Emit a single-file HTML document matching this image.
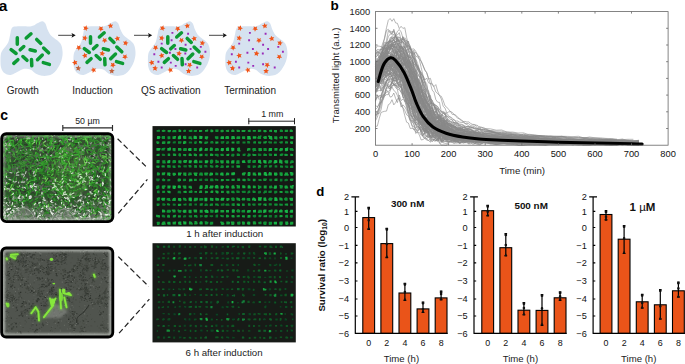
<!DOCTYPE html>
<html><head><meta charset="utf-8"><style>
html,body{margin:0;padding:0;background:#fff;}
svg{display:block;font-family:"Liberation Sans", sans-serif;}
</style></head><body>
<svg width="685" height="364" viewBox="0 0 685 364">
<g id="pa">
<path d="M11.50,28.70C12.22,27.38 12.75,27.02 14.50,26.60C16.25,26.18 19.42,26.23 22.00,26.20C24.58,26.17 28.08,26.50 30.00,26.40C31.92,26.30 32.27,26.13 33.50,25.60C34.73,25.07 35.93,23.93 37.40,23.20C38.87,22.47 40.97,21.15 42.30,21.20C43.63,21.25 44.57,22.20 45.40,23.50C46.23,24.80 46.57,27.27 47.30,29.00C48.03,30.73 48.85,32.53 49.80,33.90C50.75,35.27 51.72,36.08 53.00,37.20C54.28,38.32 56.13,39.30 57.50,40.60C58.87,41.90 60.35,43.12 61.20,45.00C62.05,46.88 62.45,49.77 62.60,51.90C62.75,54.03 62.50,55.82 62.10,57.80C61.70,59.78 61.10,61.82 60.20,63.80C59.30,65.78 57.95,68.05 56.70,69.70C55.45,71.35 54.18,72.72 52.70,73.70C51.22,74.68 49.58,75.25 47.80,75.60C46.02,75.95 43.97,76.10 42.00,75.80C40.03,75.50 37.87,74.80 36.00,73.80C34.13,72.80 32.57,70.63 30.80,69.80C29.03,68.97 27.05,68.77 25.40,68.80C23.75,68.83 22.57,69.28 20.90,70.00C19.23,70.72 17.07,72.28 15.40,73.10C13.73,73.92 12.42,74.72 10.90,74.90C9.38,75.08 7.67,74.80 6.30,74.20C4.93,73.60 3.60,72.53 2.70,71.30C1.80,70.07 1.27,68.62 0.90,66.80C0.53,64.98 0.50,62.53 0.50,60.40C0.50,58.27 0.53,55.73 0.90,54.00C1.27,52.27 1.93,51.25 2.70,50.00C3.47,48.75 4.55,47.83 5.50,46.50C6.45,45.17 7.62,44.00 8.40,42.00C9.18,40.00 9.68,36.72 10.20,34.50C10.72,32.28 10.78,30.02 11.50,28.70Z" transform="translate(0,0)" fill="#d6e2f0"/>
<path d="M11.50,28.70C12.22,27.38 12.75,27.02 14.50,26.60C16.25,26.18 19.42,26.23 22.00,26.20C24.58,26.17 28.08,26.50 30.00,26.40C31.92,26.30 32.27,26.13 33.50,25.60C34.73,25.07 35.93,23.93 37.40,23.20C38.87,22.47 40.97,21.15 42.30,21.20C43.63,21.25 44.57,22.20 45.40,23.50C46.23,24.80 46.57,27.27 47.30,29.00C48.03,30.73 48.85,32.53 49.80,33.90C50.75,35.27 51.72,36.08 53.00,37.20C54.28,38.32 56.13,39.30 57.50,40.60C58.87,41.90 60.35,43.12 61.20,45.00C62.05,46.88 62.45,49.77 62.60,51.90C62.75,54.03 62.50,55.82 62.10,57.80C61.70,59.78 61.10,61.82 60.20,63.80C59.30,65.78 57.95,68.05 56.70,69.70C55.45,71.35 54.18,72.72 52.70,73.70C51.22,74.68 49.58,75.25 47.80,75.60C46.02,75.95 43.97,76.10 42.00,75.80C40.03,75.50 37.87,74.80 36.00,73.80C34.13,72.80 32.57,70.63 30.80,69.80C29.03,68.97 27.05,68.77 25.40,68.80C23.75,68.83 22.57,69.28 20.90,70.00C19.23,70.72 17.07,72.28 15.40,73.10C13.73,73.92 12.42,74.72 10.90,74.90C9.38,75.08 7.67,74.80 6.30,74.20C4.93,73.60 3.60,72.53 2.70,71.30C1.80,70.07 1.27,68.62 0.90,66.80C0.53,64.98 0.50,62.53 0.50,60.40C0.50,58.27 0.53,55.73 0.90,54.00C1.27,52.27 1.93,51.25 2.70,50.00C3.47,48.75 4.55,47.83 5.50,46.50C6.45,45.17 7.62,44.00 8.40,42.00C9.18,40.00 9.68,36.72 10.20,34.50C10.72,32.28 10.78,30.02 11.50,28.70Z" transform="translate(72.9,0)" fill="#d6e2f0"/>
<path d="M11.50,28.70C12.22,27.38 12.75,27.02 14.50,26.60C16.25,26.18 19.42,26.23 22.00,26.20C24.58,26.17 28.08,26.50 30.00,26.40C31.92,26.30 32.27,26.13 33.50,25.60C34.73,25.07 35.93,23.93 37.40,23.20C38.87,22.47 40.97,21.15 42.30,21.20C43.63,21.25 44.57,22.20 45.40,23.50C46.23,24.80 46.57,27.27 47.30,29.00C48.03,30.73 48.85,32.53 49.80,33.90C50.75,35.27 51.72,36.08 53.00,37.20C54.28,38.32 56.13,39.30 57.50,40.60C58.87,41.90 60.35,43.12 61.20,45.00C62.05,46.88 62.45,49.77 62.60,51.90C62.75,54.03 62.50,55.82 62.10,57.80C61.70,59.78 61.10,61.82 60.20,63.80C59.30,65.78 57.95,68.05 56.70,69.70C55.45,71.35 54.18,72.72 52.70,73.70C51.22,74.68 49.58,75.25 47.80,75.60C46.02,75.95 43.97,76.10 42.00,75.80C40.03,75.50 37.87,74.80 36.00,73.80C34.13,72.80 32.57,70.63 30.80,69.80C29.03,68.97 27.05,68.77 25.40,68.80C23.75,68.83 22.57,69.28 20.90,70.00C19.23,70.72 17.07,72.28 15.40,73.10C13.73,73.92 12.42,74.72 10.90,74.90C9.38,75.08 7.67,74.80 6.30,74.20C4.93,73.60 3.60,72.53 2.70,71.30C1.80,70.07 1.27,68.62 0.90,66.80C0.53,64.98 0.50,62.53 0.50,60.40C0.50,58.27 0.53,55.73 0.90,54.00C1.27,52.27 1.93,51.25 2.70,50.00C3.47,48.75 4.55,47.83 5.50,46.50C6.45,45.17 7.62,44.00 8.40,42.00C9.18,40.00 9.68,36.72 10.20,34.50C10.72,32.28 10.78,30.02 11.50,28.70Z" transform="translate(147.4,0)" fill="#d6e2f0"/>
<path d="M11.50,28.70C12.22,27.38 12.75,27.02 14.50,26.60C16.25,26.18 19.42,26.23 22.00,26.20C24.58,26.17 28.08,26.50 30.00,26.40C31.92,26.30 32.27,26.13 33.50,25.60C34.73,25.07 35.93,23.93 37.40,23.20C38.87,22.47 40.97,21.15 42.30,21.20C43.63,21.25 44.57,22.20 45.40,23.50C46.23,24.80 46.57,27.27 47.30,29.00C48.03,30.73 48.85,32.53 49.80,33.90C50.75,35.27 51.72,36.08 53.00,37.20C54.28,38.32 56.13,39.30 57.50,40.60C58.87,41.90 60.35,43.12 61.20,45.00C62.05,46.88 62.45,49.77 62.60,51.90C62.75,54.03 62.50,55.82 62.10,57.80C61.70,59.78 61.10,61.82 60.20,63.80C59.30,65.78 57.95,68.05 56.70,69.70C55.45,71.35 54.18,72.72 52.70,73.70C51.22,74.68 49.58,75.25 47.80,75.60C46.02,75.95 43.97,76.10 42.00,75.80C40.03,75.50 37.87,74.80 36.00,73.80C34.13,72.80 32.57,70.63 30.80,69.80C29.03,68.97 27.05,68.77 25.40,68.80C23.75,68.83 22.57,69.28 20.90,70.00C19.23,70.72 17.07,72.28 15.40,73.10C13.73,73.92 12.42,74.72 10.90,74.90C9.38,75.08 7.67,74.80 6.30,74.20C4.93,73.60 3.60,72.53 2.70,71.30C1.80,70.07 1.27,68.62 0.90,66.80C0.53,64.98 0.50,62.53 0.50,60.40C0.50,58.27 0.53,55.73 0.90,54.00C1.27,52.27 1.93,51.25 2.70,50.00C3.47,48.75 4.55,47.83 5.50,46.50C6.45,45.17 7.62,44.00 8.40,42.00C9.18,40.00 9.68,36.72 10.20,34.50C10.72,32.28 10.78,30.02 11.50,28.70Z" transform="translate(224.8,0)" fill="#d6e2f0"/>
<path d="M17.3,37.8L17.3,44.3M26.2,38.0L31.0,33.8M36.7,39.4L40.8,43.4M11.1,49.7L16.1,53.5M20.2,49.8L23.8,46.5M30.1,49.7L35.3,51.0M43.6,48.0L48.6,52.8M22.9,56.5L27.0,60.3M13.8,63.4L17.9,59.7M31.5,59.6L31.8,65.8M37.5,59.7L42.3,55.0M43.3,62.6L49.4,64.4" transform="translate(0,0)" stroke="#0c9a34" stroke-width="3.5" stroke-linecap="round" fill="none"/>
<path d="M17.3,37.8L17.3,44.3M26.2,38.0L31.0,33.8M36.7,39.4L40.8,43.4M11.1,49.7L16.1,53.5M20.2,49.8L23.8,46.5M30.1,49.7L35.3,51.0M43.6,48.0L48.6,52.8M22.9,56.5L27.0,60.3M13.8,63.4L17.9,59.7M31.5,59.6L31.8,65.8M37.5,59.7L42.3,55.0M43.3,62.6L49.4,64.4" transform="translate(73.2,-1)" stroke="#0c9a34" stroke-width="3.5" stroke-linecap="round" fill="none"/>
<path d="M17.3,37.8L17.3,44.3M26.2,38.0L31.0,33.8M36.7,39.4L40.8,43.4M11.1,49.7L16.1,53.5M20.2,49.8L23.8,46.5M30.1,49.7L35.3,51.0M43.6,48.0L48.6,52.8M22.9,56.5L27.0,60.3M13.8,63.4L17.9,59.7M31.5,59.6L31.8,65.8M37.5,59.7L42.3,55.0M43.3,62.6L49.4,64.4" transform="translate(150.5,-1)" stroke="#0c9a34" stroke-width="3.5" stroke-linecap="round" fill="none"/>
<path d="M165.50,28.20L163.63,29.02L163.43,31.05L162.07,29.53L160.07,29.96L161.10,28.20L160.07,26.44L162.07,26.87L163.43,25.35L163.63,27.38ZM180.46,29.87L178.42,29.90L177.44,31.69L176.78,29.76L174.78,29.37L176.41,28.15L176.15,26.13L177.82,27.31L179.67,26.44L179.06,28.39ZM189.38,28.06L187.49,27.29L185.89,28.55L186.04,26.51L184.35,25.38L186.33,24.89L186.88,22.93L187.96,24.66L190.00,24.58L188.68,26.14ZM162.78,40.90L161.34,39.45L159.37,39.99L160.30,38.17L159.18,36.47L161.20,36.79L162.48,35.20L162.79,37.22L164.70,37.94L162.87,38.86ZM184.32,41.33L182.28,41.46L181.40,43.30L180.64,41.40L178.62,41.13L180.18,39.82L179.82,37.81L181.55,38.90L183.35,37.94L182.85,39.91ZM196.39,40.65L194.47,39.97L192.93,41.32L192.98,39.28L191.22,38.23L193.18,37.65L193.63,35.66L194.79,37.33L196.82,37.15L195.59,38.77ZM203.62,45.84L202.11,44.47L200.17,45.11L201.01,43.25L199.80,41.60L201.83,41.82L203.02,40.17L203.44,42.16L205.38,42.79L203.61,43.80ZM158.47,48.58L156.44,48.82L155.65,50.70L154.80,48.85L152.76,48.68L154.26,47.29L153.79,45.30L155.58,46.30L157.32,45.24L156.92,47.24ZM164.00,57.53L162.04,56.96L160.58,58.38L160.51,56.34L158.71,55.39L160.63,54.70L160.97,52.69L162.22,54.30L164.24,54.01L163.10,55.70ZM180.36,56.17L178.78,54.88L176.88,55.62L177.62,53.72L176.33,52.14L178.36,52.25L179.47,50.54L179.99,52.51L181.96,53.03L180.25,54.14ZM204.71,57.53L202.70,57.87L202.01,59.79L201.06,57.99L199.02,57.92L200.44,56.46L199.87,54.50L201.70,55.40L203.39,54.26L203.10,56.28ZM154.20,64.41L152.21,63.94L150.82,65.44L150.65,63.40L148.80,62.55L150.68,61.76L150.92,59.73L152.26,61.28L154.26,60.88L153.20,62.62ZM192.64,65.57L190.65,66.02L190.07,67.98L189.02,66.22L186.98,66.27L188.33,64.73L187.65,62.81L189.53,63.61L191.15,62.38L190.97,64.41ZM172.89,71.68L170.88,71.32L169.57,72.88L169.30,70.86L167.40,70.10L169.24,69.22L169.37,67.18L170.79,68.65L172.76,68.15L171.80,69.95Z" transform="translate(-76.8,0)" fill="#f05418"/>
<path d="M156.60,70.90L154.95,69.69L153.09,70.53L153.73,68.59L152.36,67.08L154.40,67.09L155.41,65.32L156.04,67.26L158.03,67.68L156.38,68.87ZM190.23,73.62L188.53,72.50L186.71,73.43L187.25,71.46L185.80,70.02L187.84,69.93L188.76,68.10L189.48,70.01L191.50,70.32L189.91,71.60Z" transform="translate(-76.8,0)" fill="#c0603a"/>
<path d="M165.50,28.20L163.63,29.02L163.43,31.05L162.07,29.53L160.07,29.96L161.10,28.20L160.07,26.44L162.07,26.87L163.43,25.35L163.63,27.38ZM180.46,29.87L178.42,29.90L177.44,31.69L176.78,29.76L174.78,29.37L176.41,28.15L176.15,26.13L177.82,27.31L179.67,26.44L179.06,28.39ZM189.38,28.06L187.49,27.29L185.89,28.55L186.04,26.51L184.35,25.38L186.33,24.89L186.88,22.93L187.96,24.66L190.00,24.58L188.68,26.14ZM162.78,40.90L161.34,39.45L159.37,39.99L160.30,38.17L159.18,36.47L161.20,36.79L162.48,35.20L162.79,37.22L164.70,37.94L162.87,38.86ZM184.32,41.33L182.28,41.46L181.40,43.30L180.64,41.40L178.62,41.13L180.18,39.82L179.82,37.81L181.55,38.90L183.35,37.94L182.85,39.91ZM196.39,40.65L194.47,39.97L192.93,41.32L192.98,39.28L191.22,38.23L193.18,37.65L193.63,35.66L194.79,37.33L196.82,37.15L195.59,38.77ZM203.62,45.84L202.11,44.47L200.17,45.11L201.01,43.25L199.80,41.60L201.83,41.82L203.02,40.17L203.44,42.16L205.38,42.79L203.61,43.80ZM158.47,48.58L156.44,48.82L155.65,50.70L154.80,48.85L152.76,48.68L154.26,47.29L153.79,45.30L155.58,46.30L157.32,45.24L156.92,47.24ZM164.00,57.53L162.04,56.96L160.58,58.38L160.51,56.34L158.71,55.39L160.63,54.70L160.97,52.69L162.22,54.30L164.24,54.01L163.10,55.70ZM180.36,56.17L178.78,54.88L176.88,55.62L177.62,53.72L176.33,52.14L178.36,52.25L179.47,50.54L179.99,52.51L181.96,53.03L180.25,54.14ZM204.71,57.53L202.70,57.87L202.01,59.79L201.06,57.99L199.02,57.92L200.44,56.46L199.87,54.50L201.70,55.40L203.39,54.26L203.10,56.28ZM154.20,64.41L152.21,63.94L150.82,65.44L150.65,63.40L148.80,62.55L150.68,61.76L150.92,59.73L152.26,61.28L154.26,60.88L153.20,62.62ZM156.60,70.90L154.95,69.69L153.09,70.53L153.73,68.59L152.36,67.08L154.40,67.09L155.41,65.32L156.04,67.26L158.03,67.68L156.38,68.87ZM192.64,65.57L190.65,66.02L190.07,67.98L189.02,66.22L186.98,66.27L188.33,64.73L187.65,62.81L189.53,63.61L191.15,62.38L190.97,64.41ZM172.89,71.68L170.88,71.32L169.57,72.88L169.30,70.86L167.40,70.10L169.24,69.22L169.37,67.18L170.79,68.65L172.76,68.15L171.80,69.95ZM190.23,73.62L188.53,72.50L186.71,73.43L187.25,71.46L185.80,70.02L187.84,69.93L188.76,68.10L189.48,70.01L191.50,70.32L189.91,71.60Z" transform="translate(0,0)" fill="#f05418"/>
<path d="M165.50,28.20L163.63,29.02L163.43,31.05L162.07,29.53L160.07,29.96L161.10,28.20L160.07,26.44L162.07,26.87L163.43,25.35L163.63,27.38ZM180.46,29.87L178.42,29.90L177.44,31.69L176.78,29.76L174.78,29.37L176.41,28.15L176.15,26.13L177.82,27.31L179.67,26.44L179.06,28.39ZM189.38,28.06L187.49,27.29L185.89,28.55L186.04,26.51L184.35,25.38L186.33,24.89L186.88,22.93L187.96,24.66L190.00,24.58L188.68,26.14ZM162.78,40.90L161.34,39.45L159.37,39.99L160.30,38.17L159.18,36.47L161.20,36.79L162.48,35.20L162.79,37.22L164.70,37.94L162.87,38.86ZM184.32,41.33L182.28,41.46L181.40,43.30L180.64,41.40L178.62,41.13L180.18,39.82L179.82,37.81L181.55,38.90L183.35,37.94L182.85,39.91ZM196.39,40.65L194.47,39.97L192.93,41.32L192.98,39.28L191.22,38.23L193.18,37.65L193.63,35.66L194.79,37.33L196.82,37.15L195.59,38.77ZM203.62,45.84L202.11,44.47L200.17,45.11L201.01,43.25L199.80,41.60L201.83,41.82L203.02,40.17L203.44,42.16L205.38,42.79L203.61,43.80ZM158.47,48.58L156.44,48.82L155.65,50.70L154.80,48.85L152.76,48.68L154.26,47.29L153.79,45.30L155.58,46.30L157.32,45.24L156.92,47.24ZM164.00,57.53L162.04,56.96L160.58,58.38L160.51,56.34L158.71,55.39L160.63,54.70L160.97,52.69L162.22,54.30L164.24,54.01L163.10,55.70ZM180.36,56.17L178.78,54.88L176.88,55.62L177.62,53.72L176.33,52.14L178.36,52.25L179.47,50.54L179.99,52.51L181.96,53.03L180.25,54.14ZM204.71,57.53L202.70,57.87L202.01,59.79L201.06,57.99L199.02,57.92L200.44,56.46L199.87,54.50L201.70,55.40L203.39,54.26L203.10,56.28ZM154.20,64.41L152.21,63.94L150.82,65.44L150.65,63.40L148.80,62.55L150.68,61.76L150.92,59.73L152.26,61.28L154.26,60.88L153.20,62.62ZM156.60,70.90L154.95,69.69L153.09,70.53L153.73,68.59L152.36,67.08L154.40,67.09L155.41,65.32L156.04,67.26L158.03,67.68L156.38,68.87ZM192.64,65.57L190.65,66.02L190.07,67.98L189.02,66.22L186.98,66.27L188.33,64.73L187.65,62.81L189.53,63.61L191.15,62.38L190.97,64.41ZM172.89,71.68L170.88,71.32L169.57,72.88L169.30,70.86L167.40,70.10L169.24,69.22L169.37,67.18L170.79,68.65L172.76,68.15L171.80,69.95ZM190.23,73.62L188.53,72.50L186.71,73.43L187.25,71.46L185.80,70.02L187.84,69.93L188.76,68.10L189.48,70.01L191.50,70.32L189.91,71.60Z" transform="translate(77.5,0)" fill="#f05418"/>
<path d="M171.45,31.95h1.9v1.9h-1.9zM187.15,32.75h1.9v1.9h-1.9zM170.65,39.35h1.9v1.9h-1.9zM160.75,42.65h1.9v1.9h-1.9zM184.65,43.75h1.9v1.9h-1.9zM199.85,45.95h1.9v1.9h-1.9zM174.45,48.05h1.9v1.9h-1.9zM189.65,48.05h1.9v1.9h-1.9zM168.95,51.75h1.9v1.9h-1.9zM184.35,52.55h1.9v1.9h-1.9zM204.45,50.85h1.9v1.9h-1.9zM153.35,53.35h1.9v1.9h-1.9zM157.45,60.75h1.9v1.9h-1.9zM169.85,61.65h1.9v1.9h-1.9zM184.65,63.25h1.9v1.9h-1.9zM174.75,64.95h1.9v1.9h-1.9zM160.75,66.55h1.9v1.9h-1.9zM196.25,66.55h1.9v1.9h-1.9z" transform="translate(0,0)" fill="#9a2ab8"/>
<path d="M171.45,31.95h1.9v1.9h-1.9zM187.15,32.75h1.9v1.9h-1.9zM170.65,39.35h1.9v1.9h-1.9zM160.75,42.65h1.9v1.9h-1.9zM184.65,43.75h1.9v1.9h-1.9zM199.85,45.95h1.9v1.9h-1.9zM174.45,48.05h1.9v1.9h-1.9zM189.65,48.05h1.9v1.9h-1.9zM168.95,51.75h1.9v1.9h-1.9zM184.35,52.55h1.9v1.9h-1.9zM204.45,50.85h1.9v1.9h-1.9zM153.35,53.35h1.9v1.9h-1.9zM157.45,60.75h1.9v1.9h-1.9zM169.85,61.65h1.9v1.9h-1.9zM184.65,63.25h1.9v1.9h-1.9zM174.75,64.95h1.9v1.9h-1.9zM160.75,66.55h1.9v1.9h-1.9zM196.25,66.55h1.9v1.9h-1.9z" transform="translate(77.5,0)" fill="#9a2ab8"/>
<line x1="58.2" y1="35.3" x2="72.7" y2="35.3" stroke="#333" stroke-width="0.9"/>
<path d="M75.7,35.3L71.5,32.9L72.4,35.3L71.5,37.7Z" fill="#111"/>
<line x1="134" y1="35.3" x2="149.2" y2="35.3" stroke="#333" stroke-width="0.9"/>
<path d="M152.2,35.3L148.0,32.9L148.89999999999998,35.3L148.0,37.7Z" fill="#111"/>
<line x1="209" y1="35.3" x2="223.9" y2="35.3" stroke="#333" stroke-width="0.9"/>
<path d="M226.9,35.3L222.70000000000002,32.9L223.6,35.3L222.70000000000002,37.7Z" fill="#111"/>
<text x="6.7" y="93.5" font-size="10" fill="#222">Growth</text>
<text x="72.3" y="93.5" font-size="10" fill="#222">Induction</text>
<text x="141.1" y="93.5" font-size="10" fill="#222">QS activation</text>
<text x="224.3" y="93.5" font-size="10" fill="#222">Termination</text>
</g>
<g id="pb">
<path d="M375.5,64.3 377.3,62.4 379.2,60.8 381.0,56.4 382.8,49.8 384.6,45.9 386.5,48.0 388.3,54.2 390.1,48.6 392.0,45.6 393.8,47.8 395.6,51.3 397.4,52.8 399.3,54.4 401.1,56.2 402.9,59.0 404.8,63.4 406.6,68.2 408.4,70.8 410.2,74.4 412.1,73.4 413.9,75.9 415.7,79.2 417.6,81.7 419.4,82.1 421.2,89.9 423.0,92.7 424.9,99.3 426.7,103.1 428.5,106.0 430.4,103.2 432.2,108.0 434.0,112.9 435.8,117.7 437.7,118.8 439.5,115.8 441.3,120.8 443.2,122.8 445.0,116.1 446.8,118.3 448.6,121.7 450.5,124.5 452.3,126.2 454.1,127.1 456.0,127.7 457.8,128.9 459.6,130.2 461.5,131.4 463.3,131.7 465.1,132.0 466.9,131.0 468.8,132.6 470.6,133.3 472.4,134.4 474.3,133.6 476.1,132.9 477.9,133.8 479.7,134.2 481.6,134.6 483.4,135.1 485.2,136.1 490.7,135.2 496.2,136.4 501.7,137.1 507.2,136.9 512.7,137.8 518.1,138.5 523.6,139.2 529.1,139.1 534.6,139.0 540.1,139.2 545.6,139.4 551.1,140.1 556.5,140.1 562.0,139.5 567.5,139.8 573.0,140.4 578.5,141.4 584.0,140.8 589.5,139.9 595.0,141.3 600.4,140.8 605.9,141.4 611.4,141.9 616.9,141.3 622.4,140.1 627.9,141.9 633.4,141.5 638.8,141.3M375.5,76.4 377.3,78.9 379.2,78.3 381.0,68.9 382.8,66.0 384.6,64.0 386.5,67.8 388.3,62.9 390.1,62.8 392.0,60.7 393.8,57.8 395.6,57.7 397.4,58.6 399.3,57.5 401.1,58.2 402.9,59.3 404.8,60.6 406.6,64.3 408.4,67.4 410.2,69.5 412.1,71.8 413.9,76.8 415.7,80.3 417.6,82.0 419.4,89.6 421.2,92.1 423.0,95.3 424.9,102.0 426.7,103.6 428.5,104.2 430.4,106.3 432.2,109.5 434.0,114.9 435.8,119.1 437.7,120.9 439.5,120.9 441.3,122.3 443.2,125.7 445.0,122.7 446.8,125.7 448.6,127.7 450.5,128.5 452.3,130.2 454.1,130.7 456.0,131.2 457.8,131.7 459.6,132.9 461.5,132.3 463.3,133.7 465.1,134.6 466.9,135.6 468.8,136.0 470.6,135.9 472.4,136.1 474.3,137.4 476.1,137.3 477.9,138.1 479.7,137.7 481.6,136.7 483.4,136.1 485.2,137.4 490.7,137.9 496.2,140.0 501.7,140.0 507.2,140.5 512.7,141.0 518.1,140.9 523.6,140.6 529.1,140.7 534.6,141.0 540.1,140.6 545.6,141.6 551.1,143.1 556.5,143.8 562.0,142.2 567.5,140.3 573.0,141.2 578.5,141.9 584.0,141.6 589.5,141.8 595.0,141.6 600.4,141.7 605.9,141.1 611.4,140.8 616.9,142.4 622.4,143.5 627.9,143.0 633.4,142.8 638.8,143.1M375.5,72.1 377.3,65.2 379.2,65.0 381.0,61.2 382.8,57.0 384.6,51.2 386.5,45.5 388.3,45.2 390.1,45.7 392.0,40.4 393.8,46.6 395.6,44.3 397.4,43.8 399.3,43.3 401.1,43.2 402.9,36.6 404.8,40.5 406.6,46.9 408.4,52.3 410.2,51.5 412.1,56.2 413.9,56.4 415.7,66.2 417.6,69.6 419.4,72.3 421.2,78.5 423.0,82.5 424.9,90.8 426.7,96.8 428.5,101.4 430.4,104.1 432.2,106.1 434.0,111.6 435.8,116.9 437.7,116.6 439.5,116.3 441.3,120.9 443.2,120.3 445.0,124.2 446.8,128.0 448.6,127.6 450.5,127.0 452.3,127.8 454.1,128.7 456.0,129.6 457.8,130.5 459.6,131.4 461.5,132.8 463.3,132.5 465.1,133.3 466.9,133.7 468.8,134.7 470.6,134.7 472.4,134.8 474.3,135.5 476.1,136.0 477.9,136.1 479.7,136.3 481.6,135.2 483.4,136.8 485.2,136.9 490.7,137.4 496.2,139.3 501.7,139.8 507.2,139.0 512.7,139.9 518.1,139.7 523.6,140.0 529.1,140.6 534.6,141.2 540.1,140.9 545.6,139.7 551.1,140.5 556.5,139.5 562.0,141.3 567.5,141.2 573.0,140.3 578.5,139.6 584.0,141.0 589.5,141.0 595.0,141.1 600.4,141.6 605.9,141.7 611.4,141.8 616.9,141.7 622.4,142.5 627.9,143.3 633.4,142.5 638.8,142.6M375.5,67.4 377.3,69.3 379.2,66.0 381.0,66.3 382.8,64.0 384.6,65.6 386.5,61.0 388.3,58.9 390.1,60.5 392.0,62.0 393.8,62.0 395.6,63.8 397.4,59.9 399.3,61.8 401.1,62.1 402.9,58.7 404.8,62.4 406.6,63.3 408.4,67.0 410.2,69.9 412.1,71.8 413.9,74.3 415.7,79.7 417.6,81.0 419.4,83.5 421.2,84.7 423.0,93.7 424.9,98.4 426.7,101.5 428.5,103.6 430.4,110.3 432.2,114.1 434.0,118.3 435.8,116.7 437.7,118.6 439.5,122.7 441.3,124.4 443.2,123.3 445.0,128.2 446.8,129.0 448.6,130.3 450.5,130.9 452.3,132.0 454.1,132.2 456.0,133.7 457.8,134.8 459.6,134.3 461.5,134.5 463.3,135.4 465.1,135.3 466.9,135.4 468.8,136.2 470.6,136.5 472.4,137.0 474.3,137.4 476.1,137.8 477.9,137.6 479.7,138.6 481.6,137.7 483.4,138.6 485.2,138.2 490.7,139.0 496.2,139.2 501.7,139.4 507.2,140.0 512.7,139.5 518.1,140.2 523.6,141.2 529.1,141.5 534.6,143.2 540.1,142.3 545.6,141.1 551.1,140.8 556.5,142.2 562.0,141.9 567.5,141.7 573.0,142.7 578.5,143.6 584.0,143.1 589.5,142.3M375.5,63.4 377.3,62.4 379.2,59.9 381.0,65.3 382.8,64.5 384.6,64.7 386.5,62.6 388.3,59.4 390.1,61.2 392.0,60.1 393.8,61.7 395.6,60.0 397.4,53.2 399.3,58.9 401.1,62.7 402.9,64.0 404.8,64.1 406.6,68.1 408.4,71.1 410.2,73.8 412.1,79.4 413.9,80.8 415.7,87.3 417.6,91.0 419.4,95.6 421.2,100.3 423.0,105.3 424.9,107.9 426.7,112.7 428.5,115.9 430.4,117.0 432.2,119.8 434.0,122.2 435.8,121.4 437.7,129.4 439.5,130.9 441.3,133.0 443.2,135.5 445.0,132.1 446.8,134.3 448.6,135.0 450.5,133.2 452.3,133.7 454.1,133.7 456.0,134.9 457.8,135.8 459.6,135.5 461.5,137.5 463.3,138.3 465.1,138.9 466.9,138.4 468.8,138.8 470.6,139.5 472.4,139.3 474.3,138.5 476.1,139.9 477.9,139.2 479.7,140.2 481.6,139.2 483.4,140.2 485.2,140.3 490.7,140.8 496.2,140.4 501.7,140.6 507.2,141.0 512.7,140.9 518.1,140.7 523.6,141.9 529.1,142.4 534.6,142.8 540.1,142.6 545.6,143.0 551.1,141.3 556.5,141.7 562.0,142.0 567.5,142.9 573.0,143.6 578.5,143.3 584.0,141.9 589.5,141.9 595.0,142.3 600.4,142.3 605.9,142.7 611.4,141.7 616.9,142.0 622.4,141.5 627.9,141.5 633.4,142.4 638.8,143.3M375.5,61.8 377.3,61.0 379.2,62.3 381.0,63.7 382.8,61.1 384.6,59.9 386.5,59.5 388.3,56.1 390.1,54.8 392.0,52.2 393.8,49.5 395.6,50.3 397.4,43.8 399.3,47.3 401.1,46.2 402.9,48.4 404.8,47.3 406.6,55.9 408.4,57.1 410.2,56.3 412.1,55.9 413.9,52.2 415.7,56.3 417.6,56.9 419.4,59.3 421.2,61.2 423.0,65.1 424.9,70.2 426.7,72.6 428.5,79.2 430.4,78.3 432.2,84.8 434.0,86.6 435.8,84.6 437.7,91.2 439.5,95.5 441.3,96.3 443.2,100.5 445.0,105.9 446.8,107.2 448.6,109.4 450.5,111.6 452.3,114.4 454.1,114.5 456.0,115.3 457.8,117.4 459.6,119.0 461.5,121.0 463.3,121.4 465.1,123.7 466.9,124.6 468.8,125.9 470.6,126.9 472.4,126.7 474.3,126.5 476.1,127.6 477.9,128.9 479.7,128.8 481.6,129.6 483.4,130.1 485.2,129.8 490.7,131.0 496.2,132.9 501.7,132.4 507.2,134.1 512.7,134.9 518.1,136.4 523.6,136.9 529.1,138.6 534.6,137.2 540.1,137.1 545.6,138.8 551.1,139.9 556.5,140.6 562.0,139.2 567.5,139.7 573.0,139.7 578.5,140.0 584.0,140.1 589.5,140.9 595.0,140.6 600.4,141.5 605.9,141.1 611.4,140.7 616.9,140.5 622.4,140.8 627.9,141.5 633.4,141.2 638.8,141.5M375.5,114.9 377.3,114.5 379.2,108.7 381.0,95.5 382.8,97.6 384.6,92.9 386.5,87.2 388.3,83.6 390.1,81.3 392.0,83.4 393.8,84.0 395.6,87.7 397.4,89.4 399.3,99.2 401.1,104.9 402.9,108.2 404.8,115.8 406.6,122.2 408.4,123.0 410.2,128.4 412.1,128.3 413.9,129.2 415.7,131.9 417.6,132.6 419.4,135.0 421.2,140.0 423.0,139.5 424.9,138.2 426.7,140.2 428.5,140.3 430.4,138.5 432.2,141.9 434.0,140.0 435.8,136.0 437.7,140.2 439.5,140.6 441.3,141.7 443.2,138.1 445.0,139.4 446.8,138.6 448.6,141.0 450.5,141.7 452.3,142.2 454.1,143.6 456.0,142.2 457.8,141.9 459.6,143.5 461.5,142.7 463.3,142.9 465.1,142.7 466.9,142.7 468.8,143.9 470.6,143.7 472.4,142.4 474.3,143.2 476.1,143.9 477.9,144.5 479.7,144.7 481.6,143.8 483.4,142.5 485.2,142.6 490.7,142.9 496.2,141.8 501.7,143.1 507.2,143.9 512.7,143.5 518.1,143.3 523.6,144.3 529.1,144.9 534.6,144.2 540.1,143.9 545.6,144.8 551.1,144.6 556.5,144.7 562.0,144.1 567.5,144.2 573.0,144.3 578.5,144.5 584.0,143.6 589.5,142.9 595.0,143.8 600.4,143.4 605.9,144.2 611.4,144.1 616.9,143.6 622.4,142.8 627.9,143.7 633.4,143.9 638.8,143.9M375.5,70.7 377.3,67.9 379.2,71.2 381.0,70.2 382.8,67.8 384.6,64.1 386.5,64.6 388.3,63.6 390.1,65.6 392.0,65.1 393.8,62.3 395.6,68.1 397.4,65.5 399.3,73.2 401.1,76.9 402.9,81.1 404.8,83.8 406.6,93.3 408.4,102.8 410.2,103.8 412.1,106.6 413.9,109.8 415.7,108.5 417.6,115.7 419.4,119.5 421.2,120.8 423.0,124.0 424.9,123.5 426.7,130.7 428.5,132.4 430.4,141.4 432.2,135.7 434.0,136.3 435.8,133.9 437.7,129.6 439.5,133.1 441.3,135.7 443.2,137.8 445.0,140.0 446.8,140.8 448.6,139.4 450.5,139.2 452.3,139.2 454.1,139.4 456.0,138.9 457.8,139.1 459.6,139.7 461.5,139.6 463.3,140.2 465.1,141.1 466.9,139.9 468.8,140.0 470.6,141.1 472.4,140.3 474.3,140.4 476.1,141.8 477.9,140.4 479.7,140.6 481.6,140.4 483.4,140.8 485.2,141.2 490.7,142.6 496.2,141.7 501.7,141.9 507.2,142.2 512.7,142.0 518.1,142.2 523.6,141.9 529.1,142.5 534.6,142.6 540.1,144.2 545.6,143.8 551.1,143.0 556.5,142.1 562.0,142.9 567.5,143.1 573.0,142.1 578.5,142.9 584.0,142.6 589.5,141.9 595.0,142.6 600.4,142.2 605.9,143.3 611.4,143.3 616.9,143.5 622.4,143.5 627.9,142.8 633.4,141.6 638.8,143.1M375.5,60.1 377.3,62.1 379.2,59.6 381.0,59.9 382.8,61.0 384.6,58.9 386.5,55.1 388.3,56.9 390.1,56.8 392.0,54.4 393.8,55.7 395.6,59.5 397.4,51.2 399.3,47.6 401.1,57.0 402.9,57.9 404.8,58.0 406.6,57.5 408.4,59.0 410.2,64.2 412.1,70.8 413.9,73.1 415.7,73.8 417.6,81.6 419.4,87.8 421.2,90.7 423.0,98.6 424.9,99.8 426.7,102.6 428.5,103.5 430.4,107.3 432.2,110.5 434.0,111.9 435.8,112.7 437.7,115.6 439.5,116.3 441.3,114.8 443.2,113.4 445.0,111.9 446.8,117.8 448.6,119.6 450.5,122.3 452.3,121.2 454.1,122.7 456.0,123.2 457.8,123.3 459.6,124.9 461.5,124.8 463.3,125.3 465.1,127.1 466.9,126.8 468.8,126.4 470.6,128.5 472.4,127.8 474.3,128.0 476.1,128.2 477.9,128.4 479.7,128.1 481.6,129.2 483.4,129.2 485.2,130.2 490.7,130.6 496.2,132.1 501.7,132.7 507.2,132.0 512.7,132.9 518.1,133.9 523.6,135.3 529.1,136.0 534.6,136.0 540.1,135.6 545.6,135.9 551.1,136.2 556.5,136.8 562.0,136.4 567.5,137.5 573.0,138.3 578.5,137.9 584.0,138.3 589.5,138.9 595.0,139.5 600.4,139.8 605.9,139.4 611.4,139.5 616.9,140.7 622.4,140.2 627.9,140.3 633.4,141.2 638.8,140.5M375.5,72.0 377.3,65.4 379.2,72.7 381.0,69.8 382.8,64.7 384.6,62.5 386.5,61.7 388.3,53.3 390.1,53.5 392.0,57.3 393.8,52.5 395.6,56.4 397.4,51.2 399.3,52.8 401.1,51.8 402.9,48.6 404.8,51.6 406.6,58.0 408.4,63.1 410.2,59.6 412.1,60.6 413.9,67.8 415.7,69.3 417.6,73.1 419.4,76.9 421.2,88.9 423.0,92.7 424.9,93.7 426.7,96.1 428.5,98.8 430.4,110.5 432.2,110.5 434.0,110.5 435.8,106.4 437.7,114.2 439.5,117.6 441.3,119.3 443.2,118.0 445.0,121.2 446.8,119.3 448.6,122.2 450.5,123.5 452.3,125.1 454.1,126.0 456.0,127.1 457.8,128.5 459.6,127.7 461.5,128.1 463.3,129.1 465.1,129.4 466.9,129.3 468.8,130.8 470.6,131.3 472.4,131.2 474.3,131.3 476.1,132.1 477.9,133.8 479.7,132.6 481.6,132.8 483.4,133.2 485.2,133.8 490.7,134.3 496.2,135.2 501.7,136.3 507.2,136.9 512.7,137.3 518.1,137.8 523.6,138.5 529.1,137.9 534.6,139.0 540.1,138.4 545.6,139.3 551.1,139.0 556.5,138.3 562.0,138.9 567.5,139.9 573.0,140.0 578.5,140.0 584.0,141.4 589.5,141.5 595.0,141.1 600.4,141.4 605.9,141.2 611.4,140.8 616.9,140.6 622.4,140.5 627.9,140.7 633.4,141.5 638.8,141.7M375.5,66.3 377.3,66.0 379.2,68.3 381.0,60.8 382.8,51.3 384.6,57.9 386.5,53.2 388.3,48.6 390.1,47.2 392.0,43.5 393.8,48.0 395.6,42.1 397.4,40.2 399.3,40.2 401.1,42.8 402.9,41.5 404.8,44.2 406.6,45.8 408.4,49.9 410.2,57.7 412.1,57.4 413.9,58.1 415.7,59.8 417.6,67.3 419.4,71.2 421.2,73.8 423.0,78.7 424.9,81.4 426.7,83.5 428.5,94.2 430.4,103.5 432.2,103.2 434.0,103.3 435.8,106.5 437.7,108.7 439.5,114.5 441.3,118.6 443.2,117.8 445.0,123.0 446.8,128.6 448.6,127.5 450.5,125.1 452.3,124.8 454.1,126.8 456.0,128.3 457.8,128.8 459.6,130.2 461.5,129.9 463.3,130.8 465.1,132.1 466.9,131.4 468.8,132.5 470.6,132.8 472.4,133.3 474.3,134.0 476.1,134.2 477.9,135.2 479.7,136.6 481.6,137.6 483.4,137.6 485.2,137.4 490.7,137.4 496.2,137.7 501.7,137.6 507.2,138.0 512.7,138.9 518.1,139.5 523.6,140.9 529.1,140.4 534.6,139.8 540.1,139.6 545.6,140.1 551.1,140.3 556.5,139.8 562.0,140.2 567.5,140.0 573.0,140.1 578.5,140.5 584.0,140.0 589.5,141.0 595.0,141.5 600.4,142.1 605.9,142.4 611.4,141.1 616.9,140.3 622.4,141.1 627.9,141.2 633.4,140.9M375.5,118.5 377.3,113.2 379.2,113.6 381.0,109.9 382.8,100.5 384.6,96.3 386.5,94.6 388.3,94.7 390.1,91.2 392.0,85.7 393.8,85.3 395.6,83.8 397.4,87.1 399.3,88.1 401.1,92.1 402.9,93.7 404.8,93.4 406.6,101.9 408.4,104.8 410.2,107.4 412.1,112.6 413.9,116.9 415.7,118.2 417.6,116.9 419.4,121.2 421.2,125.0 423.0,132.1 424.9,127.7 426.7,131.0 428.5,133.4 430.4,137.4 432.2,137.1 434.0,139.9 435.8,138.7 437.7,137.5 439.5,138.0 441.3,137.8 443.2,140.7 445.0,136.6 446.8,140.0 448.6,141.4 450.5,141.2 452.3,141.5 454.1,141.9 456.0,141.7 457.8,141.3 459.6,142.2 461.5,142.0 463.3,140.9 465.1,140.9 466.9,141.5 468.8,141.6 470.6,141.9 472.4,142.0 474.3,141.6 476.1,142.0 477.9,143.7 479.7,143.1 481.6,143.3 483.4,142.5 485.2,142.9 490.7,142.7 496.2,141.4 501.7,142.9 507.2,143.7 512.7,144.4 518.1,145.2 523.6,145.2 529.1,144.3 534.6,144.3 540.1,145.2 545.6,145.2 551.1,144.1 556.5,144.4 562.0,144.3 567.5,143.8 573.0,142.9 578.5,142.1 584.0,142.3 589.5,143.0 595.0,143.4 600.4,142.5 605.9,142.3 611.4,143.4 616.9,143.4 622.4,143.6 627.9,143.8 633.4,144.3 638.8,145.2M375.5,75.8 377.3,72.7 379.2,70.4 381.0,68.6 382.8,66.8 384.6,62.7 386.5,66.1 388.3,66.5 390.1,66.5 392.0,64.0 393.8,62.7 395.6,59.6 397.4,58.7 399.3,59.0 401.1,61.9 402.9,64.6 404.8,63.8 406.6,65.3 408.4,69.8 410.2,76.1 412.1,77.0 413.9,85.2 415.7,89.3 417.6,93.1 419.4,100.3 421.2,103.1 423.0,111.4 424.9,111.2 426.7,113.9 428.5,120.9 430.4,119.9 432.2,124.4 434.0,121.1 435.8,124.9 437.7,126.0 439.5,125.9 441.3,128.0 443.2,128.0 445.0,130.1 446.8,128.4 448.6,129.5 450.5,130.2 452.3,132.8 454.1,131.7 456.0,132.2 457.8,133.9 459.6,133.6 461.5,133.3 463.3,132.9 465.1,134.3 466.9,133.4 468.8,134.3 470.6,133.2 472.4,134.4 474.3,134.5 476.1,135.3 477.9,136.3 479.7,135.4 481.6,135.2 483.4,134.7 485.2,135.1 490.7,136.6 496.2,138.2 501.7,138.6 507.2,139.0 512.7,139.4 518.1,138.7 523.6,138.7 529.1,139.3 534.6,139.4 540.1,139.7 545.6,139.8 551.1,139.5 556.5,139.4 562.0,140.5 567.5,141.7 573.0,140.4 578.5,140.7 584.0,140.3 589.5,142.0 595.0,142.0 600.4,141.9 605.9,142.8 611.4,142.7 616.9,141.9 622.4,141.3 627.9,140.7 633.4,142.1M375.5,80.8 377.3,84.4 379.2,80.5 381.0,77.8 382.8,77.5 384.6,74.8 386.5,77.0 388.3,76.7 390.1,77.1 392.0,75.0 393.8,71.5 395.6,75.1 397.4,71.5 399.3,72.1 401.1,75.8 402.9,79.2 404.8,79.1 406.6,85.4 408.4,90.8 410.2,97.7 412.1,99.1 413.9,99.8 415.7,104.5 417.6,109.2 419.4,114.1 421.2,117.3 423.0,124.5 424.9,122.3 426.7,125.6 428.5,129.8 430.4,131.9 432.2,134.0 434.0,130.8 435.8,129.1 437.7,134.6 439.5,132.0 441.3,131.2 443.2,134.8 445.0,139.2 446.8,139.6 448.6,138.5 450.5,137.5 452.3,137.7 454.1,139.0 456.0,138.4 457.8,139.5 459.6,138.5 461.5,139.5 463.3,139.7 465.1,140.1 466.9,140.1 468.8,139.0 470.6,138.8 472.4,139.0 474.3,139.4 476.1,140.9 477.9,140.9 479.7,141.0 481.6,141.4 483.4,140.7 485.2,141.2 490.7,141.6 496.2,142.2 501.7,143.2 507.2,142.1 512.7,141.1 518.1,141.4 523.6,142.4 529.1,144.1 534.6,143.1 540.1,142.0 545.6,142.1 551.1,141.7 556.5,141.2 562.0,141.3 567.5,142.4 573.0,142.0 578.5,142.0 584.0,143.6 589.5,143.7 595.0,144.4 600.4,143.9 605.9,143.3 611.4,144.0 616.9,145.1 622.4,143.4 627.9,143.2 633.4,142.4 638.8,143.9M375.5,76.4 377.3,72.6 379.2,70.1 381.0,63.9 382.8,60.6 384.6,61.4 386.5,58.3 388.3,51.9 390.1,53.3 392.0,50.4 393.8,46.2 395.6,43.2 397.4,43.0 399.3,47.2 401.1,49.1 402.9,46.6 404.8,46.4 406.6,41.5 408.4,48.2 410.2,48.9 412.1,51.5 413.9,60.4 415.7,64.0 417.6,64.8 419.4,69.8 421.2,73.7 423.0,76.3 424.9,83.0 426.7,85.6 428.5,92.5 430.4,98.3 432.2,100.5 434.0,105.9 435.8,108.3 437.7,108.1 439.5,113.1 441.3,116.5 443.2,117.0 445.0,121.1 446.8,120.5 448.6,124.7 450.5,126.1 452.3,127.7 454.1,129.0 456.0,128.4 457.8,130.3 459.6,129.9 461.5,130.9 463.3,131.2 465.1,133.3 466.9,132.9 468.8,132.8 470.6,134.0 472.4,134.8 474.3,133.6 476.1,134.8 477.9,136.0 479.7,136.9 481.6,136.9 483.4,137.1 485.2,137.3 490.7,136.9 496.2,138.3 501.7,138.8 507.2,138.3 512.7,139.8 518.1,139.3 523.6,138.7 529.1,140.6 534.6,141.4 540.1,141.9 545.6,142.8 551.1,141.7 556.5,142.8 562.0,141.7 567.5,140.7 573.0,142.2 578.5,142.2 584.0,143.3 589.5,142.1 595.0,142.5 600.4,142.4 605.9,142.2 611.4,141.9 616.9,142.3 622.4,142.3 627.9,142.8 633.4,142.5 638.8,143.3M375.5,89.7 377.3,88.4 379.2,88.0 381.0,86.4 382.8,77.8 384.6,74.4 386.5,74.1 388.3,75.3 390.1,72.7 392.0,60.7 393.8,62.8 395.6,60.6 397.4,58.4 399.3,58.1 401.1,58.7 402.9,62.9 404.8,64.8 406.6,61.2 408.4,67.2 410.2,67.7 412.1,75.9 413.9,80.0 415.7,83.3 417.6,85.5 419.4,95.0 421.2,98.6 423.0,103.4 424.9,110.3 426.7,112.9 428.5,119.2 430.4,122.6 432.2,123.6 434.0,131.9 435.8,130.8 437.7,132.6 439.5,135.0 441.3,134.1 443.2,131.2 445.0,133.2 446.8,130.5 448.6,133.2 450.5,134.9 452.3,134.1 454.1,134.7 456.0,134.9 457.8,136.4 459.6,136.3 461.5,136.9 463.3,136.9 465.1,137.5 466.9,137.1 468.8,138.3 470.6,139.2 472.4,140.1 474.3,139.0 476.1,139.7 477.9,140.3 479.7,140.6 481.6,140.5 483.4,141.0 485.2,140.7 490.7,141.0 496.2,141.3 501.7,141.8 507.2,141.5 512.7,141.8 518.1,141.6 523.6,141.4 529.1,141.4 534.6,143.1 540.1,143.0 545.6,143.1 551.1,142.2 556.5,143.3 562.0,143.4 567.5,143.2 573.0,143.2 578.5,142.3 584.0,142.9 589.5,142.2 595.0,143.6 600.4,144.5 605.9,143.0 611.4,142.8 616.9,142.7 622.4,142.9 627.9,142.8 633.4,143.9 638.8,143.0M375.5,68.8 377.3,68.2 379.2,64.1 381.0,65.4 382.8,61.1 384.6,58.9 386.5,57.8 388.3,58.8 390.1,61.5 392.0,62.9 393.8,65.0 395.6,68.4 397.4,69.5 399.3,73.7 401.1,71.6 402.9,74.8 404.8,81.2 406.6,91.0 408.4,93.6 410.2,98.4 412.1,105.5 413.9,112.1 415.7,119.5 417.6,118.2 419.4,121.2 421.2,116.2 423.0,121.4 424.9,125.4 426.7,124.5 428.5,127.6 430.4,129.3 432.2,132.0 434.0,134.4 435.8,130.8 437.7,130.7 439.5,129.0 441.3,133.5 443.2,135.0 445.0,138.3 446.8,135.5 448.6,137.7 450.5,137.7 452.3,137.5 454.1,137.3 456.0,138.8 457.8,138.4 459.6,139.5 461.5,140.1 463.3,141.0 465.1,139.9 466.9,139.0 468.8,140.0 470.6,140.7 472.4,140.9 474.3,139.1 476.1,139.2 477.9,140.4 479.7,141.8 481.6,141.9 483.4,140.7 485.2,139.7 490.7,140.8 496.2,141.7 501.7,142.2 507.2,143.3 512.7,142.1 518.1,142.9 523.6,141.9 529.1,143.3 534.6,143.8 540.1,143.0 545.6,143.4 551.1,142.6 556.5,142.7 562.0,143.6 567.5,142.9 573.0,142.4 578.5,144.1 584.0,142.4 589.5,142.5 595.0,142.4 600.4,144.1 605.9,144.2 611.4,144.1 616.9,143.0 622.4,144.3 627.9,144.5 633.4,145.2 638.8,144.7M375.5,82.2 377.3,76.2 379.2,75.0 381.0,76.2 382.8,68.7 384.6,64.8 386.5,63.6 388.3,63.8 390.1,65.6 392.0,63.4 393.8,56.8 395.6,57.4 397.4,58.8 399.3,55.7 401.1,55.3 402.9,54.9 404.8,55.9 406.6,56.8 408.4,64.4 410.2,65.2 412.1,73.0 413.9,75.9 415.7,81.1 417.6,86.2 419.4,90.2 421.2,97.7 423.0,100.8 424.9,104.8 426.7,110.9 428.5,117.0 430.4,121.1 432.2,123.8 434.0,125.5 435.8,127.1 437.7,120.5 439.5,123.5 441.3,125.1 443.2,130.5 445.0,133.4 446.8,134.3 448.6,134.1 450.5,134.9 452.3,133.8 454.1,135.0 456.0,134.7 457.8,137.2 459.6,137.1 461.5,137.1 463.3,137.2 465.1,137.1 466.9,137.4 468.8,137.7 470.6,139.4 472.4,139.6 474.3,140.9 476.1,139.7 477.9,139.3 479.7,139.5 481.6,140.1 483.4,140.2 485.2,138.8 490.7,138.4 496.2,139.5 501.7,139.3 507.2,141.3 512.7,142.6 518.1,142.3 523.6,142.5 529.1,142.4 534.6,142.0 540.1,139.9 545.6,141.4 551.1,141.8 556.5,141.8 562.0,142.1 567.5,141.7 573.0,140.9 578.5,142.6 584.0,142.6 589.5,142.9 595.0,142.6 600.4,143.8 605.9,144.6 611.4,145.2 616.9,143.9 622.4,143.4 627.9,143.2 633.4,144.8 638.8,144.3M375.5,86.4 377.3,85.5 379.2,83.9 381.0,83.3 382.8,74.7 384.6,73.7 386.5,72.4 388.3,66.3 390.1,64.7 392.0,70.7 393.8,67.7 395.6,65.5 397.4,61.8 399.3,61.6 401.1,63.9 402.9,70.4 404.8,73.8 406.6,74.4 408.4,75.2 410.2,80.6 412.1,82.9 413.9,86.4 415.7,89.0 417.6,91.5 419.4,96.2 421.2,103.3 423.0,102.9 424.9,104.0 426.7,109.9 428.5,111.6 430.4,115.5 432.2,118.0 434.0,120.1 435.8,125.1 437.7,125.1 439.5,124.9 441.3,130.5 443.2,126.0 445.0,123.8 446.8,123.7 448.6,127.3 450.5,130.3 452.3,132.8 454.1,134.7 456.0,135.8 457.8,135.9 459.6,136.2 461.5,136.1 463.3,138.0 465.1,136.3 466.9,135.6 468.8,137.0 470.6,137.4 472.4,137.8 474.3,138.2 476.1,138.8 477.9,139.1 479.7,139.8 481.6,139.6 483.4,139.8 485.2,139.7 490.7,140.7 496.2,140.7 501.7,140.8 507.2,140.5 512.7,141.6 518.1,141.3 523.6,140.8 529.1,140.9 534.6,141.7 540.1,142.1 545.6,142.3 551.1,141.7 556.5,141.0 562.0,141.8 567.5,142.5 573.0,142.3 578.5,142.3 584.0,143.1 589.5,143.4 595.0,143.2 600.4,142.6 605.9,143.6 611.4,144.0 616.9,143.2 622.4,144.0 627.9,143.5 633.4,143.1 638.8,143.3M375.5,73.4 377.3,75.0 379.2,72.0 381.0,67.6 382.8,70.4 384.6,69.5 386.5,72.5 388.3,68.9 390.1,66.1 392.0,67.6 393.8,72.3 395.6,71.8 397.4,70.6 399.3,71.0 401.1,73.1 402.9,83.1 404.8,87.0 406.6,85.4 408.4,93.1 410.2,93.5 412.1,93.9 413.9,98.7 415.7,101.4 417.6,108.0 419.4,115.2 421.2,116.5 423.0,118.1 424.9,119.5 426.7,119.2 428.5,122.1 430.4,123.3 432.2,123.4 434.0,125.0 435.8,121.6 437.7,123.9 439.5,126.3 441.3,128.7 443.2,131.3 445.0,127.8 446.8,129.3 448.6,131.4 450.5,132.3 452.3,132.8 454.1,133.5 456.0,133.0 457.8,134.5 459.6,134.4 461.5,134.6 463.3,135.8 465.1,135.7 466.9,135.9 468.8,135.7 470.6,136.4 472.4,136.4 474.3,137.9 476.1,138.3 477.9,137.4 479.7,136.8 481.6,137.3 483.4,138.0 485.2,137.3 490.7,139.5 496.2,139.9 501.7,139.4 507.2,139.2 512.7,140.5 518.1,141.8 523.6,140.3 529.1,140.5 534.6,141.5 540.1,141.4 545.6,140.9 551.1,143.0 556.5,141.7 562.0,141.4 567.5,143.1 573.0,142.2 578.5,143.5 584.0,142.3 589.5,142.2 595.0,141.0 600.4,142.3 605.9,142.6M375.5,64.2 377.3,65.0 379.2,60.1 381.0,62.6 382.8,56.8 384.6,53.3 386.5,51.3 388.3,49.8 390.1,48.0 392.0,48.1 393.8,53.2 395.6,52.6 397.4,52.8 399.3,54.4 401.1,58.4 402.9,59.4 404.8,59.0 406.6,62.8 408.4,67.6 410.2,68.0 412.1,71.4 413.9,75.4 415.7,79.0 417.6,87.5 419.4,93.8 421.2,96.3 423.0,103.0 424.9,107.1 426.7,109.8 428.5,113.0 430.4,116.4 432.2,115.9 434.0,119.6 435.8,120.2 437.7,120.6 439.5,122.7 441.3,123.5 443.2,129.1 445.0,132.6 446.8,133.1 448.6,131.9 450.5,131.0 452.3,132.8 454.1,133.0 456.0,134.0 457.8,134.5 459.6,134.7 461.5,134.4 463.3,134.7 465.1,134.5 466.9,136.0 468.8,135.7 470.6,135.7 472.4,136.5 474.3,136.6 476.1,137.5 477.9,138.3 479.7,138.4 481.6,138.7 483.4,136.6 485.2,137.9 490.7,137.6 496.2,138.4 501.7,138.8 507.2,138.9 512.7,140.0 518.1,139.6 523.6,139.8 529.1,141.3 534.6,140.7 540.1,140.5 545.6,140.5 551.1,139.8 556.5,140.8 562.0,140.7 567.5,140.6 573.0,141.7 578.5,140.9 584.0,142.3 589.5,143.0 595.0,142.1 600.4,142.8 605.9,142.6 611.4,143.5 616.9,142.9 622.4,143.4M375.5,74.9 377.3,70.6 379.2,74.0 381.0,72.2 382.8,70.6 384.6,70.7 386.5,67.2 388.3,66.6 390.1,68.9 392.0,71.0 393.8,67.9 395.6,71.4 397.4,71.3 399.3,72.7 401.1,80.3 402.9,83.1 404.8,83.5 406.6,84.9 408.4,86.3 410.2,88.6 412.1,90.9 413.9,97.7 415.7,102.8 417.6,104.8 419.4,110.1 421.2,110.3 423.0,118.6 424.9,118.5 426.7,121.1 428.5,127.5 430.4,124.1 432.2,124.9 434.0,126.8 435.8,131.3 437.7,132.3 439.5,128.0 441.3,132.0 443.2,141.0 445.0,139.2 446.8,139.6 448.6,137.2 450.5,136.5 452.3,136.7 454.1,136.8 456.0,135.8 457.8,137.1 459.6,135.6 461.5,136.7 463.3,137.8 465.1,137.3 466.9,137.3 468.8,138.6 470.6,138.2 472.4,139.7 474.3,139.9 476.1,138.8 477.9,139.2 479.7,140.2 481.6,139.5 483.4,139.0 485.2,139.5 490.7,141.3 496.2,141.2 501.7,140.7 507.2,140.4 512.7,139.6 518.1,140.6 523.6,141.4 529.1,141.6 534.6,140.9 540.1,142.1 545.6,141.2 551.1,143.4 556.5,142.3 562.0,142.7 567.5,142.2 573.0,141.9 578.5,143.0 584.0,142.8 589.5,142.6 595.0,142.2 600.4,143.1 605.9,143.6 611.4,144.6 616.9,142.1 622.4,142.7 627.9,143.0 633.4,144.1 638.8,143.0M375.5,63.3 377.3,71.1 379.2,67.9 381.0,66.5 382.8,64.4 384.6,60.8 386.5,58.8 388.3,58.7 390.1,59.8 392.0,58.3 393.8,59.0 395.6,65.4 397.4,66.4 399.3,71.5 401.1,74.9 402.9,74.8 404.8,77.2 406.6,81.1 408.4,87.8 410.2,91.8 412.1,98.5 413.9,101.4 415.7,104.3 417.6,104.6 419.4,107.9 421.2,116.7 423.0,120.5 424.9,124.6 426.7,124.6 428.5,121.5 430.4,124.1 432.2,132.5 434.0,134.9 435.8,136.6 437.7,133.4 439.5,133.5 441.3,133.3 443.2,129.6 445.0,134.5 446.8,137.2 448.6,135.3 450.5,135.7 452.3,136.9 454.1,138.5 456.0,139.2 457.8,140.3 459.6,139.3 461.5,138.8 463.3,138.1 465.1,138.6 466.9,139.4 468.8,139.9 470.6,138.5 472.4,140.4 474.3,140.0 476.1,139.9 477.9,139.6 479.7,140.1 481.6,139.8 483.4,139.5 485.2,140.1 490.7,140.8 496.2,141.0 501.7,141.8 507.2,141.8 512.7,141.9 518.1,141.7 523.6,140.8 529.1,140.5 534.6,141.6 540.1,141.5 545.6,141.7 551.1,141.5 556.5,142.0 562.0,142.1 567.5,142.7 573.0,143.2 578.5,142.5 584.0,141.8 589.5,141.9 595.0,142.2 600.4,142.4 605.9,143.1 611.4,144.3 616.9,143.3 622.4,143.1 627.9,143.6 633.4,144.1 638.8,142.9M375.5,69.0 377.3,69.1 379.2,65.4 381.0,65.4 382.8,64.2 384.6,60.7 386.5,59.9 388.3,60.8 390.1,57.7 392.0,55.7 393.8,49.4 395.6,52.8 397.4,49.1 399.3,51.4 401.1,51.5 402.9,52.1 404.8,51.7 406.6,50.5 408.4,49.1 410.2,56.1 412.1,56.1 413.9,58.3 415.7,61.2 417.6,69.3 419.4,71.6 421.2,77.5 423.0,81.6 424.9,87.7 426.7,91.3 428.5,94.5 430.4,97.7 432.2,104.4 434.0,106.7 435.8,108.6 437.7,115.7 439.5,114.2 441.3,121.6 443.2,121.6 445.0,122.5 446.8,121.3 448.6,124.3 450.5,126.8 452.3,128.7 454.1,130.4 456.0,130.3 457.8,131.4 459.6,132.7 461.5,132.5 463.3,133.5 465.1,134.0 466.9,134.5 468.8,133.6 470.6,133.5 472.4,134.7 474.3,136.5 476.1,136.4 477.9,136.6 479.7,136.5 481.6,136.5 483.4,137.2 485.2,136.8 490.7,137.2 496.2,138.1 501.7,138.9 507.2,139.6 512.7,139.2 518.1,140.4 523.6,140.5 529.1,141.0 534.6,141.8 540.1,141.0 545.6,141.0 551.1,141.0 556.5,140.6 562.0,142.0 567.5,141.8 573.0,141.5 578.5,141.1 584.0,142.2 589.5,141.6 595.0,141.7 600.4,141.0 605.9,140.9 611.4,141.2M375.5,56.7 377.3,55.8 379.2,50.4 381.0,48.9 382.8,43.0 384.6,38.7 386.5,30.5 388.3,29.3 390.1,33.2 392.0,31.3 393.8,31.9 395.6,36.0 397.4,39.0 399.3,42.8 401.1,47.0 402.9,55.9 404.8,59.0 406.6,60.0 408.4,63.0 410.2,72.4 412.1,81.6 413.9,87.5 415.7,89.7 417.6,94.7 419.4,101.9 421.2,103.7 423.0,107.3 424.9,108.6 426.7,113.0 428.5,119.1 430.4,118.9 432.2,117.4 434.0,121.9 435.8,122.3 437.7,120.7 439.5,123.6 441.3,126.3 443.2,121.4 445.0,122.2 446.8,122.4 448.6,125.9 450.5,126.4 452.3,129.1 454.1,130.0 456.0,130.0 457.8,130.0 459.6,131.5 461.5,132.3 463.3,132.3 465.1,133.9 466.9,133.2 468.8,133.1 470.6,133.9 472.4,133.8 474.3,133.8 476.1,134.2 477.9,134.3 479.7,133.8 481.6,135.0 483.4,135.2 485.2,135.9 490.7,135.7 496.2,136.8 501.7,137.0 507.2,137.5 512.7,138.0 518.1,137.3 523.6,138.3 529.1,137.9 534.6,138.2 540.1,138.2 545.6,139.2 551.1,139.2 556.5,139.3 562.0,140.4 567.5,140.4 573.0,140.8 578.5,141.0 584.0,140.4 589.5,141.4 595.0,142.6 600.4,143.3M375.5,87.8 377.3,82.4 379.2,74.2 381.0,68.7 382.8,69.0 384.6,64.5 386.5,59.2 388.3,57.1 390.1,60.8 392.0,63.7 393.8,62.0 395.6,68.9 397.4,67.2 399.3,71.4 401.1,75.1 402.9,84.0 404.8,89.1 406.6,91.1 408.4,100.5 410.2,99.6 412.1,109.5 413.9,115.8 415.7,118.1 417.6,119.3 419.4,120.0 421.2,124.1 423.0,126.9 424.9,129.5 426.7,131.7 428.5,137.9 430.4,133.0 432.2,132.8 434.0,133.3 435.8,136.0 437.7,135.4 439.5,135.8 441.3,136.5 443.2,134.2 445.0,140.0 446.8,138.5 448.6,139.2 450.5,139.3 452.3,138.2 454.1,139.5 456.0,139.5 457.8,140.0 459.6,139.4 461.5,140.4 463.3,141.5 465.1,140.7 466.9,140.9 468.8,141.0 470.6,140.2 472.4,141.1 474.3,141.3 476.1,141.1 477.9,140.8 479.7,141.4 481.6,140.7 483.4,139.6 485.2,140.8 490.7,140.1 496.2,142.4 501.7,141.4 507.2,142.0 512.7,142.1 518.1,142.4 523.6,142.9 529.1,143.6 534.6,143.4 540.1,142.2 545.6,141.8 551.1,142.6 556.5,143.1 562.0,143.6 567.5,144.1 573.0,142.5 578.5,142.4 584.0,142.8 589.5,143.4 595.0,144.0 600.4,142.9 605.9,142.6 611.4,143.7 616.9,142.9 622.4,143.9 627.9,143.3 633.4,144.1M375.5,70.6 377.3,68.3 379.2,66.4 381.0,62.3 382.8,60.9 384.6,60.2 386.5,62.6 388.3,63.4 390.1,64.1 392.0,63.0 393.8,67.7 395.6,65.1 397.4,70.7 399.3,72.0 401.1,72.6 402.9,76.3 404.8,75.4 406.6,81.2 408.4,82.3 410.2,86.4 412.1,95.1 413.9,99.5 415.7,100.9 417.6,107.4 419.4,111.6 421.2,115.5 423.0,117.0 424.9,119.7 426.7,121.1 428.5,120.7 430.4,119.5 432.2,122.4 434.0,124.1 435.8,123.9 437.7,127.1 439.5,131.0 441.3,128.1 443.2,131.7 445.0,129.3 446.8,132.9 448.6,131.5 450.5,132.9 452.3,132.6 454.1,132.3 456.0,134.1 457.8,133.4 459.6,134.7 461.5,136.1 463.3,135.4 465.1,135.2 466.9,135.8 468.8,137.8 470.6,137.3 472.4,137.4 474.3,137.5 476.1,137.6 477.9,138.6 479.7,138.5 481.6,137.0 483.4,136.5 485.2,137.5 490.7,138.7 496.2,138.7 501.7,138.5 507.2,138.7 512.7,140.2 518.1,140.2 523.6,140.3 529.1,139.7 534.6,139.6 540.1,140.1 545.6,140.0 551.1,141.1 556.5,140.4 562.0,141.4 567.5,141.5 573.0,141.3 578.5,142.4 584.0,142.9 589.5,143.8 595.0,143.1 600.4,142.9 605.9,143.1 611.4,142.7 616.9,144.2 622.4,143.6 627.9,143.3 633.4,143.4 638.8,142.8M375.5,68.8 377.3,61.0 379.2,60.1 381.0,56.8 382.8,51.1 384.6,45.3 386.5,45.9 388.3,41.1 390.1,40.5 392.0,36.9 393.8,34.2 395.6,36.9 397.4,39.2 399.3,41.0 401.1,51.5 402.9,49.3 404.8,50.2 406.6,53.1 408.4,58.5 410.2,64.8 412.1,69.1 413.9,70.4 415.7,76.8 417.6,79.7 419.4,93.5 421.2,97.7 423.0,99.6 424.9,103.4 426.7,111.4 428.5,114.1 430.4,111.6 432.2,117.5 434.0,120.9 435.8,124.0 437.7,125.4 439.5,123.4 441.3,122.9 443.2,129.4 445.0,124.8 446.8,127.9 448.6,128.9 450.5,128.4 452.3,129.8 454.1,131.2 456.0,131.8 457.8,132.4 459.6,133.1 461.5,133.3 463.3,132.9 465.1,133.2 466.9,134.8 468.8,133.1 470.6,134.9 472.4,135.1 474.3,135.4 476.1,135.2 477.9,135.9 479.7,135.9 481.6,135.0 483.4,135.9 485.2,137.3 490.7,137.5 496.2,138.4 501.7,138.7 507.2,138.7 512.7,138.8 518.1,139.3 523.6,139.0 529.1,139.6 534.6,140.7 540.1,139.9 545.6,140.4 551.1,139.7 556.5,140.6 562.0,140.4 567.5,140.5 573.0,142.5 578.5,142.9 584.0,142.8 589.5,141.3 595.0,142.6 600.4,141.6 605.9,141.0 611.4,141.2 616.9,141.2 622.4,141.9 627.9,142.0 633.4,142.0 638.8,141.9M375.5,74.1 377.3,71.4 379.2,65.1 381.0,66.4 382.8,61.0 384.6,55.0 386.5,51.0 388.3,47.0 390.1,45.6 392.0,49.3 393.8,47.1 395.6,48.4 397.4,51.9 399.3,49.0 401.1,53.9 402.9,58.0 404.8,60.7 406.6,65.8 408.4,66.0 410.2,69.8 412.1,71.4 413.9,77.5 415.7,85.6 417.6,88.1 419.4,94.8 421.2,99.6 423.0,103.3 424.9,106.0 426.7,105.1 428.5,110.1 430.4,111.4 432.2,114.0 434.0,119.5 435.8,122.0 437.7,121.6 439.5,120.4 441.3,120.5 443.2,120.7 445.0,122.4 446.8,124.9 448.6,125.3 450.5,126.5 452.3,127.7 454.1,127.9 456.0,129.0 457.8,129.3 459.6,129.8 461.5,130.3 463.3,130.5 465.1,131.4 466.9,131.7 468.8,132.8 470.6,132.4 472.4,133.0 474.3,132.7 476.1,134.8 477.9,134.7 479.7,134.1 481.6,135.8 483.4,135.4 485.2,135.0 490.7,135.2 496.2,136.7 501.7,136.6 507.2,136.8 512.7,137.9 518.1,137.5 523.6,138.0 529.1,138.4 534.6,139.0 540.1,138.8 545.6,139.2 551.1,138.8 556.5,139.1 562.0,140.1 567.5,140.5 573.0,140.0 578.5,140.7 584.0,140.6 589.5,140.6 595.0,141.1 600.4,142.9 605.9,142.2 611.4,141.9 616.9,141.8 622.4,142.4 627.9,141.5 633.4,142.0 638.8,142.6M375.5,73.6 377.3,73.1 379.2,78.0 381.0,71.9 382.8,67.9 384.6,69.8 386.5,68.7 388.3,66.2 390.1,66.8 392.0,64.1 393.8,65.3 395.6,64.6 397.4,65.9 399.3,71.6 401.1,74.9 402.9,67.7 404.8,72.3 406.6,74.8 408.4,78.9 410.2,81.7 412.1,88.5 413.9,97.5 415.7,103.0 417.6,111.8 419.4,114.0 421.2,114.1 423.0,121.9 424.9,121.1 426.7,120.3 428.5,119.8 430.4,125.2 432.2,127.5 434.0,132.1 435.8,132.9 437.7,129.9 439.5,125.2 441.3,130.8 443.2,127.7 445.0,128.7 446.8,131.7 448.6,130.8 450.5,133.7 452.3,133.9 454.1,133.9 456.0,132.8 457.8,132.6 459.6,132.3 461.5,133.7 463.3,134.0 465.1,134.1 466.9,134.8 468.8,135.3 470.6,136.0 472.4,136.6 474.3,137.5 476.1,135.9 477.9,136.8 479.7,138.4 481.6,137.7 483.4,137.7 485.2,137.6 490.7,136.8 496.2,137.9 501.7,138.7 507.2,139.5 512.7,139.6 518.1,140.0 523.6,139.9 529.1,138.1 534.6,139.1 540.1,140.5 545.6,139.5 551.1,139.7 556.5,140.0 562.0,140.3 567.5,140.4 573.0,140.7 578.5,140.4 584.0,140.5 589.5,140.5 595.0,141.7 600.4,142.0 605.9,142.7 611.4,142.0 616.9,141.8 622.4,142.5 627.9,142.3 633.4,140.9 638.8,141.1M375.5,81.0 377.3,81.8 379.2,82.4 381.0,79.5 382.8,71.2 384.6,72.3 386.5,72.5 388.3,74.5 390.1,74.6 392.0,71.7 393.8,70.5 395.6,73.0 397.4,76.3 399.3,75.5 401.1,71.9 402.9,69.4 404.8,72.5 406.6,78.1 408.4,80.1 410.2,84.8 412.1,89.6 413.9,93.0 415.7,94.2 417.6,94.4 419.4,93.8 421.2,95.2 423.0,99.5 424.9,109.6 426.7,107.0 428.5,109.3 430.4,114.0 432.2,112.6 434.0,118.2 435.8,120.7 437.7,122.1 439.5,123.0 441.3,124.1 443.2,130.0 445.0,132.0 446.8,130.4 448.6,129.4 450.5,130.0 452.3,131.5 454.1,132.3 456.0,132.9 457.8,131.9 459.6,133.0 461.5,132.7 463.3,134.0 465.1,134.8 466.9,135.2 468.8,134.4 470.6,135.5 472.4,135.8 474.3,136.3 476.1,136.7 477.9,136.0 479.7,136.8 481.6,137.0 483.4,137.9 485.2,138.2 490.7,138.3 496.2,137.9 501.7,137.4 507.2,139.4 512.7,139.9 518.1,141.3 523.6,141.2 529.1,140.9 534.6,140.4 540.1,140.3 545.6,141.4 551.1,142.1 556.5,142.7 562.0,141.0 567.5,142.1 573.0,141.3 578.5,141.4 584.0,141.0 589.5,142.5 595.0,142.0 600.4,141.8 605.9,141.9 611.4,141.8 616.9,142.8 622.4,141.6 627.9,142.7 633.4,142.7 638.8,142.0M375.5,109.4 377.3,107.9 379.2,103.2 381.0,102.8 382.8,97.6 384.6,94.0 386.5,92.4 388.3,91.5 390.1,90.0 392.0,86.8 393.8,83.4 395.6,85.9 397.4,84.8 399.3,88.5 401.1,87.2 402.9,90.7 404.8,96.4 406.6,102.9 408.4,111.6 410.2,120.2 412.1,120.5 413.9,124.8 415.7,127.9 417.6,126.3 419.4,127.2 421.2,131.5 423.0,128.6 424.9,131.3 426.7,129.5 428.5,134.0 430.4,137.5 432.2,137.4 434.0,134.0 435.8,139.5 437.7,140.0 439.5,135.4 441.3,129.4 443.2,133.3 445.0,137.1 446.8,137.8 448.6,137.7 450.5,136.2 452.3,136.1 454.1,137.2 456.0,136.7 457.8,138.5 459.6,138.0 461.5,137.9 463.3,138.1 465.1,138.7 466.9,138.8 468.8,139.8 470.6,138.8 472.4,139.3 474.3,138.6 476.1,138.1 477.9,139.0 479.7,139.8 481.6,139.4 483.4,138.9 485.2,140.0 490.7,140.0 496.2,140.8 501.7,139.6 507.2,139.9 512.7,141.5 518.1,141.7 523.6,141.5 529.1,141.8 534.6,141.7 540.1,141.5 545.6,141.6 551.1,142.2 556.5,141.3 562.0,141.3 567.5,142.1 573.0,142.4 578.5,143.0 584.0,143.8 589.5,143.5 595.0,143.2 600.4,143.3 605.9,143.8 611.4,145.2 616.9,145.2 622.4,143.7 627.9,144.7 633.4,143.6 638.8,143.0M375.5,79.0 377.3,74.4 379.2,59.7 381.0,50.3 382.8,47.1 384.6,37.1 386.5,27.7 388.3,20.3 390.1,18.5 392.0,21.3 393.8,18.7 395.6,22.9 397.4,23.3 399.3,28.6 401.1,26.3 402.9,28.4 404.8,27.7 406.6,37.4 408.4,44.6 410.2,52.1 412.1,54.7 413.9,65.5 415.7,70.0 417.6,77.8 419.4,81.0 421.2,86.4 423.0,94.3 424.9,98.4 426.7,104.8 428.5,107.4 430.4,109.3 432.2,107.7 434.0,111.6 435.8,111.9 437.7,113.9 439.5,118.3 441.3,116.4 443.2,112.8 445.0,114.9 446.8,115.1 448.6,118.0 450.5,119.5 452.3,119.9 454.1,123.0 456.0,124.2 457.8,125.7 459.6,125.8 461.5,126.5 463.3,127.5 465.1,127.3 466.9,126.4 468.8,126.5 470.6,126.5 472.4,127.9 474.3,128.5 476.1,128.4 477.9,128.9 479.7,129.3 481.6,130.4 483.4,131.2 485.2,131.9 490.7,131.5 496.2,133.1 501.7,133.5 507.2,133.9 512.7,134.6 518.1,135.4 523.6,135.5 529.1,136.5 534.6,136.6 540.1,136.0 545.6,137.1 551.1,136.7 556.5,136.6 562.0,136.3 567.5,138.1 573.0,137.4 578.5,137.6 584.0,137.6 589.5,138.0 595.0,139.1 600.4,138.9 605.9,139.5 611.4,140.3 616.9,140.8 622.4,141.1 627.9,141.1 633.4,142.1 638.8,141.4M375.5,86.6 377.3,90.4 379.2,84.9 381.0,78.5 382.8,74.8 384.6,71.0 386.5,72.6 388.3,70.8 390.1,68.1 392.0,64.4 393.8,61.6 395.6,57.6 397.4,62.1 399.3,60.6 401.1,54.8 402.9,54.0 404.8,56.8 406.6,58.5 408.4,63.2 410.2,62.9 412.1,69.7 413.9,72.5 415.7,77.8 417.6,85.3 419.4,90.0 421.2,95.8 423.0,101.7 424.9,104.7 426.7,110.9 428.5,109.3 430.4,111.2 432.2,112.1 434.0,114.6 435.8,117.3 437.7,123.0 439.5,123.8 441.3,124.0 443.2,125.9 445.0,126.4 446.8,127.6 448.6,127.9 450.5,128.7 452.3,129.1 454.1,130.1 456.0,129.5 457.8,130.0 459.6,130.3 461.5,130.4 463.3,131.4 465.1,131.2 466.9,133.1 468.8,133.6 470.6,133.5 472.4,132.6 474.3,132.6 476.1,132.9 477.9,133.2 479.7,134.3 481.6,134.8 483.4,135.4 485.2,135.4 490.7,136.8 496.2,137.1 501.7,137.6 507.2,137.6 512.7,138.3 518.1,138.3 523.6,138.3 529.1,138.5 534.6,138.6 540.1,139.9 545.6,140.0 551.1,140.3 556.5,139.8 562.0,140.7 567.5,140.8 573.0,141.9 578.5,141.9 584.0,142.3 589.5,142.1 595.0,142.4 600.4,142.3 605.9,142.1 611.4,142.9 616.9,142.2 622.4,142.7 627.9,141.4 633.4,141.3 638.8,141.7M375.5,90.6 377.3,91.1 379.2,84.3 381.0,89.5 382.8,84.5 384.6,76.8 386.5,77.8 388.3,80.4 390.1,77.7 392.0,75.7 393.8,75.1 395.6,76.1 397.4,79.9 399.3,76.8 401.1,74.7 402.9,74.5 404.8,75.3 406.6,77.5 408.4,77.7 410.2,72.3 412.1,80.3 413.9,84.4 415.7,91.6 417.6,98.3 419.4,98.8 421.2,97.7 423.0,104.8 424.9,109.1 426.7,112.3 428.5,117.5 430.4,121.5 432.2,120.9 434.0,122.2 435.8,123.0 437.7,126.0 439.5,122.6 441.3,119.5 443.2,125.7 445.0,130.7 446.8,126.8 448.6,127.3 450.5,127.6 452.3,130.0 454.1,131.0 456.0,133.0 457.8,132.5 459.6,133.6 461.5,134.6 463.3,133.7 465.1,133.6 466.9,135.4 468.8,135.7 470.6,133.9 472.4,136.4 474.3,136.4 476.1,134.9 477.9,134.4 479.7,135.3 481.6,136.5 483.4,136.4 485.2,137.2 490.7,137.4 496.2,137.1 501.7,137.8 507.2,137.6 512.7,137.6 518.1,139.1 523.6,139.6 529.1,140.5 534.6,140.2 540.1,141.5 545.6,141.7 551.1,142.7 556.5,141.5 562.0,142.0 567.5,140.8 573.0,140.7 578.5,140.8 584.0,141.8 589.5,142.9 595.0,143.2 600.4,142.6 605.9,142.5 611.4,142.6 616.9,142.5 622.4,141.6 627.9,141.3 633.4,142.8 638.8,142.4M375.5,65.4 377.3,65.3 379.2,66.5 381.0,65.9 382.8,65.6 384.6,63.8 386.5,64.9 388.3,64.7 390.1,57.4 392.0,61.2 393.8,61.7 395.6,61.4 397.4,67.1 399.3,67.9 401.1,73.2 402.9,82.0 404.8,81.7 406.6,92.1 408.4,92.4 410.2,92.7 412.1,92.8 413.9,98.4 415.7,102.8 417.6,107.3 419.4,113.0 421.2,115.2 423.0,120.4 424.9,122.2 426.7,126.6 428.5,128.7 430.4,129.2 432.2,135.0 434.0,135.2 435.8,136.6 437.7,135.5 439.5,130.4 441.3,135.3 443.2,136.2 445.0,137.2 446.8,138.9 448.6,138.6 450.5,137.5 452.3,137.9 454.1,138.7 456.0,139.6 457.8,140.0 459.6,139.0 461.5,139.9 463.3,141.1 465.1,141.1 466.9,140.6 468.8,140.2 470.6,140.4 472.4,140.0 474.3,141.2 476.1,141.7 477.9,141.5 479.7,141.2 481.6,142.5 483.4,141.9 485.2,142.7 490.7,141.6 496.2,141.5 501.7,140.6 507.2,140.1 512.7,140.9 518.1,141.8 523.6,142.8 529.1,143.1 534.6,142.2 540.1,142.2 545.6,142.5 551.1,143.6 556.5,143.5 562.0,142.1 567.5,142.8 573.0,142.2 578.5,144.3 584.0,142.9 589.5,143.8 595.0,144.5 600.4,144.2 605.9,144.4 611.4,142.9 616.9,143.4 622.4,143.6 627.9,144.1 633.4,143.4 638.8,142.7M375.5,70.3 377.3,72.3 379.2,62.5 381.0,59.1 382.8,58.3 384.6,59.0 386.5,51.2 388.3,52.2 390.1,51.7 392.0,54.9 393.8,56.0 395.6,59.1 397.4,59.4 399.3,68.4 401.1,66.4 402.9,72.9 404.8,76.8 406.6,80.8 408.4,90.0 410.2,94.3 412.1,102.9 413.9,106.0 415.7,112.4 417.6,111.2 419.4,110.9 421.2,118.5 423.0,119.9 424.9,123.7 426.7,127.5 428.5,126.7 430.4,124.1 432.2,123.1 434.0,127.3 435.8,129.1 437.7,125.8 439.5,128.2 441.3,125.2 443.2,123.7 445.0,126.7 446.8,131.8 448.6,132.7 450.5,132.5 452.3,133.3 454.1,133.6 456.0,133.8 457.8,135.3 459.6,135.5 461.5,135.8 463.3,136.3 465.1,135.9 466.9,136.3 468.8,136.5 470.6,135.6 472.4,135.1 474.3,136.1 476.1,136.9 477.9,138.1 479.7,139.0 481.6,137.2 483.4,137.4 485.2,138.2 490.7,139.3 496.2,138.4 501.7,139.0 507.2,138.9 512.7,138.8 518.1,140.0 523.6,141.1 529.1,141.0 534.6,140.5 540.1,140.9 545.6,141.2 551.1,141.1 556.5,142.0 562.0,141.4 567.5,141.0 573.0,142.3 578.5,142.8 584.0,142.8 589.5,143.0 595.0,143.0 600.4,142.1 605.9,143.3 611.4,142.8 616.9,143.1 622.4,143.5 627.9,144.2 633.4,145.0 638.8,144.1M375.5,99.8 377.3,97.9 379.2,95.6 381.0,95.3 382.8,91.3 384.6,86.3 386.5,81.1 388.3,78.5 390.1,74.0 392.0,76.5 393.8,79.4 395.6,76.0 397.4,74.4 399.3,78.4 401.1,84.8 402.9,90.6 404.8,98.5 406.6,105.9 408.4,112.8 410.2,117.2 412.1,125.9 413.9,126.4 415.7,128.9 417.6,132.3 419.4,132.6 421.2,135.1 423.0,135.3 424.9,132.8 426.7,136.4 428.5,135.4 430.4,138.8 432.2,139.9 434.0,139.3 435.8,141.3 437.7,138.3 439.5,143.3 441.3,142.7 443.2,141.9 445.0,141.4 446.8,141.9 448.6,142.3 450.5,141.9 452.3,140.9 454.1,140.9 456.0,141.5 457.8,142.5 459.6,142.9 461.5,142.0 463.3,142.5 465.1,142.6 466.9,141.0 468.8,143.3 470.6,142.3 472.4,144.0 474.3,144.2 476.1,141.7 477.9,141.5 479.7,141.7 481.6,141.8 483.4,141.7 485.2,142.7 490.7,143.9 496.2,144.1 501.7,143.6 507.2,143.2 512.7,142.7 518.1,143.2 523.6,143.0 529.1,143.4 534.6,144.4 540.1,144.5 545.6,144.0 551.1,144.1 556.5,144.5 562.0,144.3 567.5,143.3 573.0,144.2 578.5,145.2 584.0,144.9 589.5,145.2 595.0,144.1 600.4,144.5 605.9,144.3 611.4,144.3 616.9,144.1 622.4,143.9 627.9,143.2 633.4,144.4 638.8,144.5M375.5,70.6 377.3,69.2 379.2,67.2 381.0,66.1 382.8,65.6 384.6,68.4 386.5,61.3 388.3,63.7 390.1,64.5 392.0,69.5 393.8,69.9 395.6,74.0 397.4,74.0 399.3,76.0 401.1,83.3 402.9,88.2 404.8,93.0 406.6,97.6 408.4,100.2 410.2,109.6 412.1,106.9 413.9,116.7 415.7,124.6 417.6,123.6 419.4,129.2 421.2,126.7 423.0,128.8 424.9,131.7 426.7,130.7 428.5,132.2 430.4,135.7 432.2,137.1 434.0,132.2 435.8,134.2 437.7,135.1 439.5,139.1 441.3,133.6 443.2,134.7 445.0,137.8 446.8,138.9 448.6,139.6 450.5,138.9 452.3,138.9 454.1,140.0 456.0,140.5 457.8,140.9 459.6,140.9 461.5,139.5 463.3,140.4 465.1,140.5 466.9,141.1 468.8,141.4 470.6,141.1 472.4,140.6 474.3,141.8 476.1,142.2 477.9,142.1 479.7,142.6 481.6,141.2 483.4,141.1 485.2,140.8 490.7,141.3 496.2,142.6 501.7,141.9 507.2,142.3 512.7,142.9 518.1,143.4 523.6,143.9 529.1,143.8 534.6,143.3 540.1,142.4 545.6,143.2 551.1,142.8 556.5,142.8 562.0,142.6 567.5,143.0 573.0,144.1 578.5,143.0 584.0,142.8 589.5,144.0 595.0,143.8 600.4,143.8 605.9,142.2 611.4,141.9 616.9,142.7 622.4,143.4M375.5,55.4 377.3,52.4 379.2,51.7 381.0,55.4 382.8,58.0 384.6,56.9 386.5,58.1 388.3,58.4 390.1,57.6 392.0,55.9 393.8,61.5 395.6,60.9 397.4,62.4 399.3,62.5 401.1,68.5 402.9,71.2 404.8,79.0 406.6,85.3 408.4,91.4 410.2,95.0 412.1,100.5 413.9,101.1 415.7,105.6 417.6,110.9 419.4,111.1 421.2,110.8 423.0,115.9 424.9,115.1 426.7,118.6 428.5,120.6 430.4,125.8 432.2,123.8 434.0,123.4 435.8,125.6 437.7,124.9 439.5,122.1 441.3,122.0 443.2,128.9 445.0,131.0 446.8,128.4 448.6,130.2 450.5,131.0 452.3,133.4 454.1,133.2 456.0,133.5 457.8,134.5 459.6,133.8 461.5,134.1 463.3,134.2 465.1,133.9 466.9,135.2 468.8,135.5 470.6,136.0 472.4,135.6 474.3,135.6 476.1,137.0 477.9,137.7 479.7,138.2 481.6,137.8 483.4,138.6 485.2,138.9 490.7,137.9 496.2,139.1 501.7,138.9 507.2,140.7 512.7,139.8 518.1,141.0 523.6,139.8 529.1,140.1 534.6,140.1 540.1,141.3 545.6,141.0 551.1,141.6 556.5,141.1 562.0,141.7 567.5,142.0 573.0,142.6 578.5,142.7 584.0,142.0 589.5,142.4 595.0,142.2 600.4,144.2 605.9,142.8 611.4,143.7 616.9,144.6 622.4,143.7 627.9,144.7 633.4,142.8 638.8,143.1M375.5,78.1 377.3,76.9 379.2,72.1 381.0,66.0 382.8,64.1 384.6,62.1 386.5,61.3 388.3,67.0 390.1,65.8 392.0,63.6 393.8,63.5 395.6,69.5 397.4,74.7 399.3,75.4 401.1,81.9 402.9,83.5 404.8,92.3 406.6,97.0 408.4,103.5 410.2,107.5 412.1,110.2 413.9,115.2 415.7,118.5 417.6,121.4 419.4,119.8 421.2,122.7 423.0,126.1 424.9,131.5 426.7,129.7 428.5,132.3 430.4,136.4 432.2,135.1 434.0,136.5 435.8,135.6 437.7,134.7 439.5,135.8 441.3,137.5 443.2,137.4 445.0,130.8 446.8,136.3 448.6,137.6 450.5,138.2 452.3,138.9 454.1,138.9 456.0,139.3 457.8,138.9 459.6,138.9 461.5,138.5 463.3,138.8 465.1,138.9 466.9,139.0 468.8,141.1 470.6,140.4 472.4,140.3 474.3,140.7 476.1,140.4 477.9,140.7 479.7,140.1 481.6,139.9 483.4,141.1 485.2,140.3 490.7,141.7 496.2,141.1 501.7,139.9 507.2,139.8 512.7,141.4 518.1,140.6 523.6,140.0 529.1,140.8 534.6,141.3 540.1,140.5 545.6,141.1 551.1,142.8 556.5,142.7 562.0,142.6 567.5,142.2 573.0,141.1 578.5,141.5 584.0,141.4 589.5,143.1 595.0,143.6 600.4,143.2 605.9,142.9 611.4,141.5 616.9,141.3 622.4,143.0M375.5,87.6 377.3,84.7 379.2,78.9 381.0,67.7 382.8,59.5 384.6,53.0 386.5,48.6 388.3,48.3 390.1,49.8 392.0,45.9 393.8,47.0 395.6,46.7 397.4,49.5 399.3,50.3 401.1,56.8 402.9,56.3 404.8,65.0 406.6,65.8 408.4,66.1 410.2,70.7 412.1,75.3 413.9,82.3 415.7,84.4 417.6,90.1 419.4,93.8 421.2,97.2 423.0,102.8 424.9,108.2 426.7,109.6 428.5,110.8 430.4,113.4 432.2,114.9 434.0,119.5 435.8,121.1 437.7,121.2 439.5,122.6 441.3,130.3 443.2,127.7 445.0,128.9 446.8,129.3 448.6,129.4 450.5,129.0 452.3,131.6 454.1,132.3 456.0,131.0 457.8,132.2 459.6,131.4 461.5,131.5 463.3,133.2 465.1,133.9 466.9,133.8 468.8,133.4 470.6,134.5 472.4,135.0 474.3,135.7 476.1,134.5 477.9,136.6 479.7,136.4 481.6,136.1 483.4,136.3 485.2,137.1 490.7,137.4 496.2,138.3 501.7,139.1 507.2,137.7 512.7,137.3 518.1,138.9 523.6,139.3 529.1,138.8 534.6,139.5 540.1,140.2 545.6,140.4 551.1,141.7 556.5,141.1 562.0,141.5 567.5,141.4 573.0,142.3 578.5,141.8 584.0,141.9 589.5,142.1 595.0,141.4 600.4,143.1 605.9,142.6 611.4,143.6 616.9,143.9 622.4,142.0 627.9,141.9 633.4,141.7 638.8,143.2M375.5,89.5 377.3,87.9 379.2,83.4 381.0,81.9 382.8,82.3 384.6,78.2 386.5,73.1 388.3,74.1 390.1,70.4 392.0,73.2 393.8,73.8 395.6,71.4 397.4,73.4 399.3,69.0 401.1,79.1 402.9,83.0 404.8,85.8 406.6,91.7 408.4,97.8 410.2,99.5 412.1,104.3 413.9,109.0 415.7,113.6 417.6,115.0 419.4,118.3 421.2,121.6 423.0,124.8 424.9,127.0 426.7,130.8 428.5,129.5 430.4,131.0 432.2,132.8 434.0,132.5 435.8,131.6 437.7,131.3 439.5,133.3 441.3,132.3 443.2,131.9 445.0,138.6 446.8,140.1 448.6,138.0 450.5,137.4 452.3,137.0 454.1,136.7 456.0,138.1 457.8,138.2 459.6,137.8 461.5,139.0 463.3,138.0 465.1,140.0 466.9,139.9 468.8,138.2 470.6,139.2 472.4,139.5 474.3,139.6 476.1,140.1 477.9,139.7 479.7,140.0 481.6,140.7 483.4,139.0 485.2,139.4 490.7,140.7 496.2,142.3 501.7,142.1 507.2,141.6 512.7,142.6 518.1,142.6 523.6,142.4 529.1,142.2 534.6,141.3 540.1,142.8 545.6,143.3 551.1,141.6 556.5,143.1 562.0,142.8 567.5,142.6 573.0,142.0 578.5,143.0 584.0,142.6 589.5,141.9 595.0,142.6 600.4,142.4M375.5,81.0 377.3,81.1 379.2,83.3 381.0,77.8 382.8,71.8 384.6,73.9 386.5,77.1 388.3,83.0 390.1,78.3 392.0,78.3 393.8,78.1 395.6,76.5 397.4,83.3 399.3,86.1 401.1,86.0 402.9,94.4 404.8,95.3 406.6,100.3 408.4,106.6 410.2,110.4 412.1,112.3 413.9,116.4 415.7,119.4 417.6,120.9 419.4,121.8 421.2,125.9 423.0,127.5 424.9,134.8 426.7,136.6 428.5,136.8 430.4,136.2 432.2,136.0 434.0,138.1 435.8,135.6 437.7,133.4 439.5,131.2 441.3,133.6 443.2,134.1 445.0,133.8 446.8,131.7 448.6,135.3 450.5,136.5 452.3,138.6 454.1,139.6 456.0,140.2 457.8,139.4 459.6,139.6 461.5,139.7 463.3,140.4 465.1,140.4 466.9,139.2 468.8,140.9 470.6,141.5 472.4,140.4 474.3,141.2 476.1,141.0 477.9,140.8 479.7,141.9 481.6,141.7 483.4,141.5 485.2,141.1 490.7,140.9 496.2,141.3 501.7,141.7 507.2,141.9 512.7,142.0 518.1,141.6 523.6,142.5 529.1,144.4 534.6,143.2 540.1,142.9 545.6,141.2 551.1,142.7 556.5,142.5 562.0,142.3 567.5,143.3 573.0,143.3 578.5,143.9 584.0,143.2 589.5,143.3 595.0,143.1 600.4,142.9 605.9,143.0 611.4,142.5 616.9,142.5 622.4,143.2 627.9,143.9 633.4,143.5 638.8,144.7M375.5,70.3 377.3,69.8 379.2,70.7 381.0,71.3 382.8,70.8 384.6,70.8 386.5,73.7 388.3,70.2 390.1,70.5 392.0,65.6 393.8,64.1 395.6,66.6 397.4,67.1 399.3,65.6 401.1,62.9 402.9,62.5 404.8,63.5 406.6,66.6 408.4,67.5 410.2,74.0 412.1,74.2 413.9,76.9 415.7,79.8 417.6,82.6 419.4,87.5 421.2,90.9 423.0,90.0 424.9,96.0 426.7,103.1 428.5,104.1 430.4,109.0 432.2,113.0 434.0,111.6 435.8,115.9 437.7,117.9 439.5,120.1 441.3,118.3 443.2,120.6 445.0,127.9 446.8,124.5 448.6,128.2 450.5,130.0 452.3,130.4 454.1,131.5 456.0,132.6 457.8,133.5 459.6,134.2 461.5,134.0 463.3,134.7 465.1,134.5 466.9,134.1 468.8,134.9 470.6,136.4 472.4,136.8 474.3,136.9 476.1,138.2 477.9,138.3 479.7,139.2 481.6,138.3 483.4,139.8 485.2,139.7 490.7,139.6 496.2,139.9 501.7,140.9 507.2,140.4 512.7,140.7 518.1,140.0 523.6,140.6 529.1,140.5 534.6,142.1 540.1,141.8 545.6,141.8 551.1,142.6 556.5,143.8 562.0,142.5 567.5,141.5 573.0,142.3 578.5,141.8 584.0,141.7 589.5,142.5 595.0,143.0 600.4,141.0 605.9,141.5 611.4,141.9 616.9,142.6 622.4,143.7 627.9,143.2 633.4,143.2 638.8,142.9M375.5,76.2 377.3,71.0 379.2,66.9 381.0,68.3 382.8,64.0 384.6,59.2 386.5,56.0 388.3,56.2 390.1,60.3 392.0,60.9 393.8,60.3 395.6,62.6 397.4,58.7 399.3,63.2 401.1,66.8 402.9,71.7 404.8,81.8 406.6,81.2 408.4,86.8 410.2,86.7 412.1,93.3 413.9,98.7 415.7,100.4 417.6,106.2 419.4,113.8 421.2,114.1 423.0,116.0 424.9,117.4 426.7,120.3 428.5,121.5 430.4,126.0 432.2,127.0 434.0,126.5 435.8,135.7 437.7,131.6 439.5,128.5 441.3,126.3 443.2,130.2 445.0,130.5 446.8,132.5 448.6,134.4 450.5,134.5 452.3,134.3 454.1,134.5 456.0,136.6 457.8,136.7 459.6,136.9 461.5,137.0 463.3,138.3 465.1,136.9 466.9,138.6 468.8,139.1 470.6,137.7 472.4,138.1 474.3,139.0 476.1,139.5 477.9,139.0 479.7,139.7 481.6,139.2 483.4,139.2 485.2,139.3 490.7,139.3 496.2,140.3 501.7,141.5 507.2,142.3 512.7,141.7 518.1,142.0 523.6,140.7 529.1,141.8 534.6,140.7 540.1,141.3 545.6,141.6 551.1,143.0 556.5,142.6 562.0,141.4 567.5,142.8 573.0,141.7 578.5,141.5 584.0,141.4 589.5,142.6 595.0,141.6 600.4,142.9 605.9,141.8 611.4,141.5 616.9,143.3 622.4,142.1 627.9,141.3 633.4,142.2 638.8,143.6M375.5,69.3 377.3,65.3 379.2,61.1 381.0,53.3 382.8,50.6 384.6,47.6 386.5,43.3 388.3,36.7 390.1,34.2 392.0,33.1 393.8,30.5 395.6,35.7 397.4,31.3 399.3,29.5 401.1,31.9 402.9,37.9 404.8,42.5 406.6,47.5 408.4,45.2 410.2,48.2 412.1,54.5 413.9,55.8 415.7,63.7 417.6,66.0 419.4,71.0 421.2,77.3 423.0,86.2 424.9,92.9 426.7,95.8 428.5,96.4 430.4,102.7 432.2,104.0 434.0,104.3 435.8,112.2 437.7,108.7 439.5,112.0 441.3,115.1 443.2,115.5 445.0,117.3 446.8,120.7 448.6,121.2 450.5,121.8 452.3,122.9 454.1,122.4 456.0,122.7 457.8,123.2 459.6,125.4 461.5,126.1 463.3,126.1 465.1,126.9 466.9,128.8 468.8,128.5 470.6,127.4 472.4,127.7 474.3,128.8 476.1,130.4 477.9,129.9 479.7,130.1 481.6,131.1 483.4,131.8 485.2,131.4 490.7,132.5 496.2,133.8 501.7,135.1 507.2,135.5 512.7,136.0 518.1,136.6 523.6,134.0 529.1,136.5 534.6,138.3 540.1,138.6 545.6,138.0 551.1,137.0 556.5,139.1 562.0,139.6 567.5,139.2 573.0,140.0 578.5,139.6 584.0,140.2 589.5,139.6 595.0,140.1 600.4,139.4 605.9,141.1 611.4,140.4 616.9,141.1 622.4,140.5 627.9,141.4 633.4,141.0 638.8,140.7M375.5,77.1 377.3,77.4 379.2,78.7 381.0,77.2 382.8,72.9 384.6,71.9 386.5,69.6 388.3,70.1 390.1,72.6 392.0,77.3 393.8,78.9 395.6,78.3 397.4,83.7 399.3,84.1 401.1,87.0 402.9,84.6 404.8,93.1 406.6,89.0 408.4,92.5 410.2,99.0 412.1,103.0 413.9,103.6 415.7,108.1 417.6,114.0 419.4,119.0 421.2,125.3 423.0,125.0 424.9,123.9 426.7,126.4 428.5,128.3 430.4,132.1 432.2,132.3 434.0,131.4 435.8,135.7 437.7,133.3 439.5,134.8 441.3,134.1 443.2,135.2 445.0,135.2 446.8,135.5 448.6,136.0 450.5,137.4 452.3,137.9 454.1,139.0 456.0,138.9 457.8,138.3 459.6,139.1 461.5,138.7 463.3,139.5 465.1,139.5 466.9,139.0 468.8,139.4 470.6,139.6 472.4,139.2 474.3,139.5 476.1,139.6 477.9,140.4 479.7,141.1 481.6,140.5 483.4,141.4 485.2,140.5 490.7,141.3 496.2,141.3 501.7,141.0 507.2,142.1 512.7,140.8 518.1,141.5 523.6,142.0 529.1,142.8 534.6,143.6 540.1,144.2 545.6,144.0 551.1,142.9 556.5,143.1 562.0,142.1 567.5,143.1 573.0,144.0 578.5,143.1 584.0,143.2 589.5,144.1 595.0,142.7 600.4,142.7 605.9,143.9 611.4,143.9 616.9,144.2 622.4,143.0 627.9,143.5 633.4,143.9 638.8,143.4M375.5,79.3 377.3,73.9 379.2,66.3 381.0,57.6 382.8,46.9 384.6,45.7 386.5,44.8 388.3,43.6 390.1,41.1 392.0,44.9 393.8,46.0 395.6,47.1 397.4,53.5 399.3,57.1 401.1,59.6 402.9,65.3 404.8,72.9 406.6,78.2 408.4,84.6 410.2,90.2 412.1,95.1 413.9,99.7 415.7,106.1 417.6,110.2 419.4,111.9 421.2,115.1 423.0,113.5 424.9,119.1 426.7,127.5 428.5,123.4 430.4,125.8 432.2,125.5 434.0,127.4 435.8,126.0 437.7,129.4 439.5,129.0 441.3,126.4 443.2,127.7 445.0,132.1 446.8,128.4 448.6,130.3 450.5,132.3 452.3,134.4 454.1,134.7 456.0,135.2 457.8,135.2 459.6,135.5 461.5,134.9 463.3,135.6 465.1,136.5 466.9,137.1 468.8,137.1 470.6,137.1 472.4,138.2 474.3,138.7 476.1,137.7 477.9,138.1 479.7,137.5 481.6,138.0 483.4,138.7 485.2,138.4 490.7,138.6 496.2,137.3 501.7,137.5 507.2,138.9 512.7,139.4 518.1,139.5 523.6,139.7 529.1,139.7 534.6,140.3 540.1,141.0 545.6,142.1 551.1,141.9 556.5,141.0 562.0,141.2 567.5,141.2 573.0,142.4 578.5,143.5 584.0,142.4 589.5,142.8 595.0,142.9 600.4,143.9 605.9,142.2 611.4,141.4 616.9,143.1 622.4,143.2 627.9,143.1 633.4,142.6 638.8,142.1M375.5,68.0 377.3,60.0 379.2,61.6 381.0,55.9 382.8,55.8 384.6,53.5 386.5,47.5 388.3,45.8 390.1,37.7 392.0,36.8 393.8,40.9 395.6,34.9 397.4,42.0 399.3,39.6 401.1,40.7 402.9,39.8 404.8,41.9 406.6,44.0 408.4,46.6 410.2,46.5 412.1,52.0 413.9,54.8 415.7,52.2 417.6,54.2 419.4,59.7 421.2,67.6 423.0,75.4 424.9,80.7 426.7,89.6 428.5,90.7 430.4,97.5 432.2,106.1 434.0,104.7 435.8,104.9 437.7,107.0 439.5,109.6 441.3,112.4 443.2,112.2 445.0,113.8 446.8,122.7 448.6,123.3 450.5,124.3 452.3,124.2 454.1,125.8 456.0,127.1 457.8,129.1 459.6,129.4 461.5,129.9 463.3,129.7 465.1,130.7 466.9,130.7 468.8,130.2 470.6,132.3 472.4,132.1 474.3,133.0 476.1,134.8 477.9,135.3 479.7,135.2 481.6,136.2 483.4,135.5 485.2,136.2 490.7,135.9 496.2,137.1 501.7,136.9 507.2,136.9 512.7,137.1 518.1,137.3 523.6,136.4 529.1,137.3 534.6,139.5 540.1,140.0 545.6,139.5 551.1,139.2 556.5,140.2 562.0,140.0 567.5,140.3 573.0,140.7 578.5,141.1 584.0,141.0 589.5,140.3 595.0,141.9 600.4,140.9 605.9,141.1 611.4,142.4 616.9,141.8 622.4,141.9 627.9,142.5 633.4,141.9 638.8,142.1M375.5,70.0 377.3,66.8 379.2,59.3 381.0,64.8 382.8,65.7 384.6,60.5 386.5,61.5 388.3,63.2 390.1,60.2 392.0,58.4 393.8,56.1 395.6,52.3 397.4,58.0 399.3,61.3 401.1,66.0 402.9,65.4 404.8,65.4 406.6,67.5 408.4,79.2 410.2,80.0 412.1,85.2 413.9,90.9 415.7,97.7 417.6,100.7 419.4,102.0 421.2,103.6 423.0,104.9 424.9,110.4 426.7,112.1 428.5,116.2 430.4,114.9 432.2,117.1 434.0,121.8 435.8,118.6 437.7,115.7 439.5,123.5 441.3,119.0 443.2,120.5 445.0,123.2 446.8,130.2 448.6,129.1 450.5,128.7 452.3,127.5 454.1,127.8 456.0,128.0 457.8,128.5 459.6,128.7 461.5,129.7 463.3,129.1 465.1,131.4 466.9,131.8 468.8,131.8 470.6,132.3 472.4,131.2 474.3,132.1 476.1,133.6 477.9,133.6 479.7,133.6 481.6,134.0 483.4,134.1 485.2,134.2 490.7,133.9 496.2,134.6 501.7,134.9 507.2,135.5 512.7,135.1 518.1,136.0 523.6,136.4 529.1,136.2 534.6,136.0 540.1,136.2 545.6,137.8 551.1,139.1 556.5,137.2 562.0,139.1 567.5,139.7 573.0,140.6 578.5,140.0 584.0,140.1 589.5,141.7 595.0,140.3 600.4,140.8 605.9,140.0 611.4,139.8 616.9,140.4 622.4,140.1 627.9,141.2 633.4,141.3 638.8,141.5M375.5,48.8 377.3,45.9 379.2,46.2 381.0,46.6 382.8,47.7 384.6,47.9 386.5,49.9 388.3,47.7 390.1,47.3 392.0,53.0 393.8,58.8 395.6,50.6 397.4,56.3 399.3,62.8 401.1,67.5 402.9,67.6 404.8,69.1 406.6,77.8 408.4,83.0 410.2,85.9 412.1,92.9 413.9,97.1 415.7,100.9 417.6,103.6 419.4,106.3 421.2,111.8 423.0,116.8 424.9,122.1 426.7,122.7 428.5,126.3 430.4,127.8 432.2,128.6 434.0,128.8 435.8,126.7 437.7,127.7 439.5,129.2 441.3,126.6 443.2,129.6 445.0,127.2 446.8,130.6 448.6,132.3 450.5,134.3 452.3,134.8 454.1,135.9 456.0,135.1 457.8,135.8 459.6,135.5 461.5,136.2 463.3,137.6 465.1,139.3 466.9,138.8 468.8,138.9 470.6,139.0 472.4,138.7 474.3,138.7 476.1,139.1 477.9,139.1 479.7,139.7 481.6,140.2 483.4,140.3 485.2,139.3 490.7,139.3 496.2,140.1 501.7,140.1 507.2,140.1 512.7,141.3 518.1,140.0 523.6,140.9 529.1,141.9 534.6,141.7 540.1,141.5 545.6,140.8 551.1,140.5 556.5,141.5 562.0,142.2 567.5,142.4 573.0,142.5 578.5,143.1 584.0,142.8 589.5,141.8 595.0,141.6 600.4,142.3 605.9,143.3 611.4,142.6 616.9,141.9 622.4,143.3 627.9,142.7 633.4,141.7 638.8,141.6M375.5,84.6 377.3,83.0 379.2,80.2 381.0,72.9 382.8,66.4 384.6,69.4 386.5,64.4 388.3,58.5 390.1,58.0 392.0,61.5 393.8,61.1 395.6,61.6 397.4,61.4 399.3,70.9 401.1,72.6 402.9,77.9 404.8,76.2 406.6,82.3 408.4,91.6 410.2,95.1 412.1,99.3 413.9,102.8 415.7,106.4 417.6,114.1 419.4,121.1 421.2,121.4 423.0,123.6 424.9,126.6 426.7,132.7 428.5,129.9 430.4,129.0 432.2,127.3 434.0,129.0 435.8,131.8 437.7,135.6 439.5,136.3 441.3,138.2 443.2,137.6 445.0,139.0 446.8,135.3 448.6,136.5 450.5,136.9 452.3,137.6 454.1,138.3 456.0,139.9 457.8,139.7 459.6,139.7 461.5,138.9 463.3,140.0 465.1,139.5 466.9,139.4 468.8,139.8 470.6,140.1 472.4,139.6 474.3,139.9 476.1,138.6 477.9,141.2 479.7,141.6 481.6,139.9 483.4,140.1 485.2,141.9 490.7,143.1 496.2,143.3 501.7,143.6 507.2,144.0 512.7,143.4 518.1,142.9 523.6,143.3 529.1,142.9 534.6,143.0 540.1,142.2 545.6,143.3 551.1,143.0 556.5,142.8 562.0,142.3 567.5,143.4 573.0,143.2 578.5,144.0 584.0,143.1 589.5,142.8 595.0,142.2 600.4,142.9 605.9,142.0 611.4,143.0 616.9,144.3 622.4,144.3 627.9,143.9 633.4,143.0 638.8,143.6M375.5,63.3 377.3,64.1 379.2,68.4 381.0,65.8 382.8,62.9 384.6,62.3 386.5,66.0 388.3,65.8 390.1,67.0 392.0,65.1 393.8,65.2 395.6,61.1 397.4,60.4 399.3,55.4 401.1,58.7 402.9,65.8 404.8,68.4 406.6,66.1 408.4,71.6 410.2,74.5 412.1,76.4 413.9,78.6 415.7,82.5 417.6,89.7 419.4,98.6 421.2,104.1 423.0,106.3 424.9,114.2 426.7,115.7 428.5,114.7 430.4,121.6 432.2,121.0 434.0,125.6 435.8,128.8 437.7,128.4 439.5,127.9 441.3,129.7 443.2,129.7 445.0,129.5 446.8,127.2 448.6,131.4 450.5,133.9 452.3,133.5 454.1,134.0 456.0,135.5 457.8,135.6 459.6,135.2 461.5,136.5 463.3,136.9 465.1,136.9 466.9,138.1 468.8,139.0 470.6,138.3 472.4,138.6 474.3,138.8 476.1,139.6 477.9,139.1 479.7,138.8 481.6,139.4 483.4,139.6 485.2,140.4 490.7,140.9 496.2,141.7 501.7,141.3 507.2,141.1 512.7,141.7 518.1,142.4 523.6,142.2 529.1,141.6 534.6,140.8 540.1,142.6 545.6,142.2 551.1,141.3 556.5,142.4 562.0,142.6 567.5,142.0 573.0,142.1 578.5,143.0 584.0,143.6 589.5,143.5 595.0,143.2 600.4,142.9 605.9,142.4 611.4,143.3 616.9,142.9 622.4,142.7 627.9,143.2 633.4,142.7 638.8,143.0M375.5,114.5 377.3,111.4 379.2,107.8 381.0,100.6 382.8,98.7 384.6,95.8 386.5,88.1 388.3,88.1 390.1,89.0 392.0,82.5 393.8,80.3 395.6,80.3 397.4,82.4 399.3,87.0 401.1,86.7 402.9,90.0 404.8,95.0 406.6,97.3 408.4,100.2 410.2,104.9 412.1,106.4 413.9,109.5 415.7,116.2 417.6,116.0 419.4,119.1 421.2,116.8 423.0,127.2 424.9,126.2 426.7,123.9 428.5,122.1 430.4,126.7 432.2,127.0 434.0,126.3 435.8,128.6 437.7,127.1 439.5,129.9 441.3,131.8 443.2,128.2 445.0,131.6 446.8,132.3 448.6,130.6 450.5,130.6 452.3,131.8 454.1,132.1 456.0,133.2 457.8,134.1 459.6,134.3 461.5,133.7 463.3,133.7 465.1,134.6 466.9,136.2 468.8,134.8 470.6,135.5 472.4,135.0 474.3,134.9 476.1,134.6 477.9,135.8 479.7,136.7 481.6,137.1 483.4,136.7 485.2,136.7 490.7,138.0 496.2,137.9 501.7,138.9 507.2,139.0 512.7,139.4 518.1,139.3 523.6,138.1 529.1,139.7 534.6,141.1 540.1,141.8 545.6,141.5 551.1,141.3 556.5,141.1 562.0,142.1 567.5,142.9 573.0,142.6 578.5,141.5 584.0,141.4 589.5,141.3 595.0,141.6 600.4,141.5 605.9,142.6M375.5,63.2 377.3,59.0 379.2,56.5 381.0,58.1 382.8,54.7 384.6,54.1 386.5,56.7 388.3,48.7 390.1,44.6 392.0,47.2 393.8,42.6 395.6,41.8 397.4,38.6 399.3,42.0 401.1,42.7 402.9,49.4 404.8,54.0 406.6,52.4 408.4,55.8 410.2,57.9 412.1,66.3 413.9,72.3 415.7,75.6 417.6,83.4 419.4,86.8 421.2,96.3 423.0,104.8 424.9,106.7 426.7,107.0 428.5,105.6 430.4,111.4 432.2,114.1 434.0,117.5 435.8,119.0 437.7,118.4 439.5,120.8 441.3,122.7 443.2,123.9 445.0,126.6 446.8,125.9 448.6,126.6 450.5,129.4 452.3,129.2 454.1,132.4 456.0,133.7 457.8,133.0 459.6,133.6 461.5,132.3 463.3,133.0 465.1,135.0 466.9,135.1 468.8,135.2 470.6,135.0 472.4,136.2 474.3,137.5 476.1,138.1 477.9,137.0 479.7,136.4 481.6,138.1 483.4,137.7 485.2,138.3 490.7,138.6 496.2,138.3 501.7,139.0 507.2,139.3 512.7,140.9 518.1,140.5 523.6,139.4 529.1,140.4 534.6,140.3 540.1,140.2 545.6,139.0 551.1,140.6 556.5,140.3 562.0,141.0 567.5,141.2 573.0,141.4 578.5,142.6 584.0,141.7 589.5,142.2 595.0,141.9 600.4,141.4 605.9,141.9 611.4,143.0M375.5,70.3 377.3,70.5 379.2,66.3 381.0,69.8 382.8,68.7 384.6,69.7 386.5,69.3 388.3,68.2 390.1,67.2 392.0,66.1 393.8,67.8 395.6,65.2 397.4,68.1 399.3,69.6 401.1,69.6 402.9,65.2 404.8,63.6 406.6,67.8 408.4,65.7 410.2,70.0 412.1,77.9 413.9,78.3 415.7,84.6 417.6,90.4 419.4,98.0 421.2,98.0 423.0,100.0 424.9,107.1 426.7,108.4 428.5,111.0 430.4,113.7 432.2,116.5 434.0,121.6 435.8,122.3 437.7,123.3 439.5,127.5 441.3,129.8 443.2,133.2 445.0,131.7 446.8,134.6 448.6,133.5 450.5,133.5 452.3,134.1 454.1,134.2 456.0,134.9 457.8,134.2 459.6,134.9 461.5,136.4 463.3,137.0 465.1,136.9 466.9,136.2 468.8,137.5 470.6,136.9 472.4,137.5 474.3,137.2 476.1,138.4 477.9,139.2 479.7,139.5 481.6,139.4 483.4,140.2 485.2,140.8 490.7,140.0 496.2,139.6 501.7,140.2 507.2,140.9 512.7,140.3 518.1,142.0 523.6,141.3 529.1,141.3 534.6,141.1 540.1,141.2 545.6,141.0 551.1,141.1 556.5,141.7 562.0,141.5 567.5,142.6 573.0,142.4 578.5,142.2 584.0,143.5M375.5,85.8 377.3,80.8 379.2,79.0 381.0,75.0 382.8,69.5 384.6,63.0 386.5,62.2 388.3,62.4 390.1,58.7 392.0,57.6 393.8,62.5 395.6,62.0 397.4,61.3 399.3,67.2 401.1,64.1 402.9,69.9 404.8,70.1 406.6,77.5 408.4,82.1 410.2,87.4 412.1,92.3 413.9,101.5 415.7,105.1 417.6,104.9 419.4,107.8 421.2,106.7 423.0,116.5 424.9,114.4 426.7,117.7 428.5,124.1 430.4,127.9 432.2,127.9 434.0,126.8 435.8,128.3 437.7,124.6 439.5,127.3 441.3,130.5 443.2,132.8 445.0,134.8 446.8,133.6 448.6,133.1 450.5,133.5 452.3,133.3 454.1,134.2 456.0,134.7 457.8,134.0 459.6,133.8 461.5,134.8 463.3,134.1 465.1,135.3 466.9,135.0 468.8,135.7 470.6,136.6 472.4,136.8 474.3,137.2 476.1,137.1 477.9,137.4 479.7,137.6 481.6,138.4 483.4,137.9 485.2,137.5 490.7,138.9 496.2,139.1 501.7,138.8 507.2,138.9 512.7,140.1 518.1,138.6 523.6,140.2 529.1,140.1 534.6,140.4 540.1,139.1 545.6,140.7 551.1,140.3 556.5,140.8 562.0,142.0 567.5,142.0 573.0,142.7 578.5,142.4 584.0,142.3 589.5,143.7 595.0,142.8 600.4,142.5M375.5,81.5 377.3,78.0 379.2,71.1 381.0,67.0 382.8,64.2 384.6,58.9 386.5,47.2 388.3,43.4 390.1,42.1 392.0,41.7 393.8,42.4 395.6,43.0 397.4,45.6 399.3,46.3 401.1,49.2 402.9,51.4 404.8,54.1 406.6,57.9 408.4,62.8 410.2,68.1 412.1,73.5 413.9,77.5 415.7,81.9 417.6,85.3 419.4,94.5 421.2,98.7 423.0,102.0 424.9,100.3 426.7,101.5 428.5,106.2 430.4,106.1 432.2,107.6 434.0,115.2 435.8,115.0 437.7,116.6 439.5,119.6 441.3,117.3 443.2,118.7 445.0,124.5 446.8,126.5 448.6,125.8 450.5,125.0 452.3,125.4 454.1,125.6 456.0,126.9 457.8,126.8 459.6,128.0 461.5,128.1 463.3,129.1 465.1,129.8 466.9,130.0 468.8,131.2 470.6,131.3 472.4,131.3 474.3,132.5 476.1,132.5 477.9,132.7 479.7,133.4 481.6,134.5 483.4,133.2 485.2,133.7 490.7,132.5 496.2,132.4 501.7,135.5 507.2,135.6 512.7,136.6 518.1,136.7 523.6,138.2 529.1,137.6 534.6,135.9 540.1,138.2 545.6,139.7 551.1,139.9 556.5,140.0 562.0,139.8 567.5,140.4 573.0,140.5 578.5,139.7 584.0,140.1 589.5,139.9 595.0,140.7 600.4,141.4 605.9,141.7 611.4,142.0 616.9,142.9 622.4,142.3 627.9,142.3 633.4,142.4 638.8,141.7M375.5,68.2 377.3,69.1 379.2,62.3 381.0,64.4 382.8,59.1 384.6,47.7 386.5,40.4 388.3,31.1 390.1,30.7 392.0,34.8 393.8,29.2 395.6,35.2 397.4,35.0 399.3,32.6 401.1,40.3 402.9,43.7 404.8,50.8 406.6,51.6 408.4,56.4 410.2,68.7 412.1,74.8 413.9,82.8 415.7,87.3 417.6,91.2 419.4,97.7 421.2,102.1 423.0,106.7 424.9,110.3 426.7,114.7 428.5,119.9 430.4,120.9 432.2,124.7 434.0,123.9 435.8,127.2 437.7,128.0 439.5,126.2 441.3,125.8 443.2,128.4 445.0,130.4 446.8,131.1 448.6,131.6 450.5,133.1 452.3,132.0 454.1,133.4 456.0,134.4 457.8,134.6 459.6,135.0 461.5,135.6 463.3,136.3 465.1,137.5 466.9,137.9 468.8,137.8 470.6,138.2 472.4,136.4 474.3,138.6 476.1,137.0 477.9,137.4 479.7,138.2 481.6,138.3 483.4,138.6 485.2,139.1 490.7,140.5 496.2,140.4 501.7,141.0 507.2,140.6 512.7,140.9 518.1,141.2 523.6,141.1 529.1,141.4 534.6,141.0 540.1,141.3 545.6,142.2 551.1,141.7 556.5,142.6 562.0,143.4 567.5,143.5 573.0,142.5 578.5,143.1 584.0,143.3 589.5,141.4 595.0,142.1 600.4,142.0 605.9,142.8 611.4,141.7 616.9,141.3 622.4,142.4 627.9,143.3 633.4,144.4 638.8,143.5M375.5,74.9 377.3,73.4 379.2,77.6 381.0,71.0 382.8,70.0 384.6,71.9 386.5,71.7 388.3,75.6 390.1,70.9 392.0,65.6 393.8,68.2 395.6,69.1 397.4,70.8 399.3,71.0 401.1,73.5 402.9,71.8 404.8,68.9 406.6,72.0 408.4,71.0 410.2,77.4 412.1,79.5 413.9,81.0 415.7,83.8 417.6,83.1 419.4,89.9 421.2,89.8 423.0,96.2 424.9,99.2 426.7,109.2 428.5,114.0 430.4,111.7 432.2,110.6 434.0,112.5 435.8,114.8 437.7,114.3 439.5,116.4 441.3,117.1 443.2,123.6 445.0,119.7 446.8,123.4 448.6,125.3 450.5,126.3 452.3,126.1 454.1,127.0 456.0,127.9 457.8,127.8 459.6,128.2 461.5,128.9 463.3,130.3 465.1,130.1 466.9,131.1 468.8,131.3 470.6,132.0 472.4,133.5 474.3,133.6 476.1,133.8 477.9,134.9 479.7,135.3 481.6,133.6 483.4,134.2 485.2,133.1 490.7,134.2 496.2,135.7 501.7,136.7 507.2,135.9 512.7,137.3 518.1,137.3 523.6,138.1 529.1,138.9 534.6,139.2 540.1,139.6 545.6,138.4 551.1,139.5 556.5,140.1 562.0,141.5 567.5,141.3 573.0,142.2 578.5,142.1 584.0,143.3M375.5,77.3 377.3,77.3 379.2,79.1 381.0,72.8 382.8,70.0 384.6,70.8 386.5,69.1 388.3,71.0 390.1,72.0 392.0,74.7 393.8,75.7 395.6,74.6 397.4,76.7 399.3,81.0 401.1,83.6 402.9,85.8 404.8,92.1 406.6,95.0 408.4,94.6 410.2,103.5 412.1,103.9 413.9,103.7 415.7,110.7 417.6,112.7 419.4,116.1 421.2,121.5 423.0,127.8 424.9,129.0 426.7,128.5 428.5,129.8 430.4,131.6 432.2,129.4 434.0,130.0 435.8,132.7 437.7,132.5 439.5,136.2 441.3,141.9 443.2,141.1 445.0,137.1 446.8,136.4 448.6,137.0 450.5,137.4 452.3,138.4 454.1,137.8 456.0,138.9 457.8,139.5 459.6,139.4 461.5,140.4 463.3,139.5 465.1,139.0 466.9,139.5 468.8,140.6 470.6,139.6 472.4,140.7 474.3,140.9 476.1,141.0 477.9,140.2 479.7,141.7 481.6,140.6 483.4,140.3 485.2,140.8 490.7,142.3 496.2,141.2 501.7,143.4 507.2,143.5 512.7,141.8 518.1,141.7 523.6,142.4 529.1,143.0 534.6,143.8 540.1,142.9 545.6,143.6 551.1,143.4 556.5,142.8 562.0,143.3 567.5,143.4 573.0,142.5 578.5,144.0 584.0,143.7 589.5,142.5 595.0,143.2 600.4,143.7 605.9,143.4 611.4,144.6 616.9,144.2 622.4,143.7 627.9,143.9 633.4,142.7 638.8,144.4M375.5,75.4 377.3,68.6 379.2,64.4 381.0,63.6 382.8,60.1 384.6,56.4 386.5,55.3 388.3,52.6 390.1,53.4 392.0,59.1 393.8,59.6 395.6,65.5 397.4,67.4 399.3,70.9 401.1,76.5 402.9,79.1 404.8,85.3 406.6,86.7 408.4,94.3 410.2,99.1 412.1,106.4 413.9,106.4 415.7,114.9 417.6,120.0 419.4,125.7 421.2,121.8 423.0,122.5 424.9,126.5 426.7,132.4 428.5,133.4 430.4,132.4 432.2,130.5 434.0,129.6 435.8,129.9 437.7,131.8 439.5,134.7 441.3,141.9 443.2,135.7 445.0,138.4 446.8,137.3 448.6,136.5 450.5,138.1 452.3,138.1 454.1,137.7 456.0,138.6 457.8,139.3 459.6,138.1 461.5,139.0 463.3,139.3 465.1,138.4 466.9,139.0 468.8,138.4 470.6,140.4 472.4,139.7 474.3,138.4 476.1,140.0 477.9,141.6 479.7,140.6 481.6,139.4 483.4,138.6 485.2,140.3 490.7,141.6 496.2,143.1 501.7,141.0 507.2,139.9 512.7,140.5 518.1,140.7 523.6,141.8 529.1,141.6 534.6,142.2 540.1,142.2 545.6,143.0 551.1,143.0 556.5,142.5 562.0,142.2 567.5,143.4 573.0,141.5 578.5,141.2 584.0,141.9 589.5,141.8 595.0,143.1 600.4,142.6 605.9,141.6 611.4,143.4 616.9,143.7 622.4,143.9 627.9,143.4 633.4,143.2 638.8,144.2M375.5,72.6 377.3,69.8 379.2,72.6 381.0,70.6 382.8,65.9 384.6,66.6 386.5,65.7 388.3,64.1 390.1,62.3 392.0,60.3 393.8,59.8 395.6,65.5 397.4,62.6 399.3,57.1 401.1,61.5 402.9,59.9 404.8,61.7 406.6,62.5 408.4,60.4 410.2,63.0 412.1,67.9 413.9,73.0 415.7,70.5 417.6,78.2 419.4,82.3 421.2,85.2 423.0,93.1 424.9,97.4 426.7,100.7 428.5,104.1 430.4,108.4 432.2,111.6 434.0,115.4 435.8,121.4 437.7,122.0 439.5,120.0 441.3,122.6 443.2,123.4 445.0,124.2 446.8,122.4 448.6,127.0 450.5,128.5 452.3,130.6 454.1,130.4 456.0,132.5 457.8,133.7 459.6,134.5 461.5,133.9 463.3,133.6 465.1,132.7 466.9,134.5 468.8,136.0 470.6,136.4 472.4,136.9 474.3,137.3 476.1,136.9 477.9,137.1 479.7,137.5 481.6,139.0 483.4,138.1 485.2,138.0 490.7,139.8 496.2,139.8 501.7,139.3 507.2,139.8 512.7,140.6 518.1,140.7 523.6,141.3 529.1,141.1 534.6,142.0 540.1,140.8 545.6,142.9 551.1,143.6 556.5,141.3 562.0,140.1 567.5,140.9 573.0,140.6 578.5,141.2 584.0,142.6 589.5,141.7 595.0,142.2 600.4,141.9 605.9,142.1 611.4,143.2 616.9,142.9 622.4,143.6 627.9,142.1 633.4,142.2 638.8,142.5M375.5,64.8 377.3,63.5 379.2,58.1 381.0,52.5 382.8,51.0 384.6,47.6 386.5,48.4 388.3,42.8 390.1,44.7 392.0,46.2 393.8,47.2 395.6,50.0 397.4,52.7 399.3,57.3 401.1,58.3 402.9,61.7 404.8,70.1 406.6,75.3 408.4,76.2 410.2,88.6 412.1,95.1 413.9,96.0 415.7,103.5 417.6,111.7 419.4,114.6 421.2,110.3 423.0,115.3 424.9,119.6 426.7,124.0 428.5,123.4 430.4,124.6 432.2,124.1 434.0,126.5 435.8,129.0 437.7,129.4 439.5,132.8 441.3,127.5 443.2,130.0 445.0,132.2 446.8,131.7 448.6,132.9 450.5,133.9 452.3,134.8 454.1,135.3 456.0,136.0 457.8,135.6 459.6,136.9 461.5,137.0 463.3,138.6 465.1,138.5 466.9,138.6 468.8,139.1 470.6,137.8 472.4,138.8 474.3,139.5 476.1,139.5 477.9,139.4 479.7,139.0 481.6,138.4 483.4,139.5 485.2,138.3 490.7,138.3 496.2,139.2 501.7,140.0 507.2,140.5 512.7,141.2 518.1,142.3 523.6,142.0 529.1,142.2 534.6,141.2 540.1,141.6 545.6,142.1 551.1,142.5 556.5,142.8 562.0,142.0 567.5,142.2 573.0,142.3 578.5,142.5 584.0,142.6 589.5,142.2 595.0,142.0 600.4,141.7 605.9,141.7 611.4,141.2 616.9,141.3 622.4,141.6 627.9,142.1 633.4,142.8 638.8,142.7M375.5,74.8 377.3,73.7 379.2,68.1 381.0,69.4 382.8,64.5 384.6,63.5 386.5,52.6 388.3,46.9 390.1,42.6 392.0,40.0 393.8,40.5 395.6,41.8 397.4,40.7 399.3,41.2 401.1,39.1 402.9,39.7 404.8,37.7 406.6,40.6 408.4,42.5 410.2,48.8 412.1,50.1 413.9,55.1 415.7,58.7 417.6,63.4 419.4,69.3 421.2,73.8 423.0,76.8 424.9,87.0 426.7,98.4 428.5,96.8 430.4,95.3 432.2,104.8 434.0,105.9 435.8,108.4 437.7,113.3 439.5,119.9 441.3,115.4 443.2,119.5 445.0,125.0 446.8,123.9 448.6,125.0 450.5,126.8 452.3,126.2 454.1,127.7 456.0,129.3 457.8,129.9 459.6,129.2 461.5,128.9 463.3,130.7 465.1,132.3 466.9,132.1 468.8,132.0 470.6,133.8 472.4,135.2 474.3,134.7 476.1,134.6 477.9,135.1 479.7,135.6 481.6,136.1 483.4,136.3 485.2,136.3 490.7,137.1 496.2,136.3 501.7,137.7 507.2,138.3 512.7,138.9 518.1,139.4 523.6,140.3 529.1,140.5 534.6,140.2 540.1,141.4 545.6,141.0 551.1,139.8 556.5,139.3 562.0,140.5 567.5,140.5 573.0,140.8 578.5,140.3 584.0,141.4 589.5,142.2 595.0,141.3 600.4,142.1 605.9,144.0 611.4,143.1 616.9,142.6 622.4,142.2 627.9,142.5 633.4,141.9 638.8,141.6M375.5,72.7 377.3,71.1 379.2,67.8 381.0,66.9 382.8,66.4 384.6,58.7 386.5,55.4 388.3,61.7 390.1,56.2 392.0,52.8 393.8,48.6 395.6,46.7 397.4,48.0 399.3,52.1 401.1,50.0 402.9,51.9 404.8,54.9 406.6,54.2 408.4,55.7 410.2,58.6 412.1,60.9 413.9,63.9 415.7,66.7 417.6,74.2 419.4,75.7 421.2,80.0 423.0,89.6 424.9,92.4 426.7,99.7 428.5,104.4 430.4,108.3 432.2,107.8 434.0,115.2 435.8,110.9 437.7,113.8 439.5,115.6 441.3,117.9 443.2,121.7 445.0,124.9 446.8,123.0 448.6,123.8 450.5,123.7 452.3,123.0 454.1,124.3 456.0,124.9 457.8,126.3 459.6,127.8 461.5,128.2 463.3,127.3 465.1,127.8 466.9,128.6 468.8,129.9 470.6,130.4 472.4,129.8 474.3,130.5 476.1,132.0 477.9,132.5 479.7,132.2 481.6,132.1 483.4,133.8 485.2,133.4 490.7,134.2 496.2,136.4 501.7,137.2 507.2,137.0 512.7,137.7 518.1,137.4 523.6,137.4 529.1,137.8 534.6,138.4 540.1,138.3 545.6,139.7 551.1,141.0 556.5,140.2 562.0,139.3 567.5,140.2 573.0,139.7 578.5,139.7 584.0,140.8 589.5,140.7 595.0,140.1 600.4,141.3 605.9,141.1 611.4,141.1 616.9,142.0 622.4,141.3 627.9,142.1 633.4,141.5 638.8,141.8M375.5,70.0 377.3,68.9 379.2,66.2 381.0,64.5 382.8,64.6 384.6,63.6 386.5,68.7 388.3,70.8 390.1,70.1 392.0,68.1 393.8,70.0 395.6,71.0 397.4,72.2 399.3,76.3 401.1,78.6 402.9,78.4 404.8,83.1 406.6,90.0 408.4,94.5 410.2,98.9 412.1,104.8 413.9,108.1 415.7,117.0 417.6,117.6 419.4,123.8 421.2,123.6 423.0,129.7 424.9,127.8 426.7,128.1 428.5,131.9 430.4,131.1 432.2,133.7 434.0,131.6 435.8,134.4 437.7,136.7 439.5,139.1 441.3,138.5 443.2,136.9 445.0,135.9 446.8,139.0 448.6,139.4 450.5,140.3 452.3,140.5 454.1,140.3 456.0,140.0 457.8,139.7 459.6,140.5 461.5,141.4 463.3,140.2 465.1,140.7 466.9,141.1 468.8,141.1 470.6,141.2 472.4,140.9 474.3,140.8 476.1,141.9 477.9,142.0 479.7,141.4 481.6,141.8 483.4,141.3 485.2,142.3 490.7,141.3 496.2,141.6 501.7,143.1 507.2,142.1 512.7,143.0 518.1,142.7 523.6,142.6 529.1,142.5 534.6,142.3 540.1,143.9 545.6,143.7 551.1,144.1 556.5,144.0 562.0,143.6 567.5,141.6 573.0,142.5 578.5,143.6 584.0,141.7 589.5,142.1 595.0,142.9 600.4,141.9 605.9,142.0 611.4,142.2 616.9,143.8 622.4,142.7 627.9,143.3 633.4,143.2 638.8,143.1M375.5,115.4 377.3,113.2 379.2,107.6 381.0,102.7 382.8,100.0 384.6,93.6 386.5,87.1 388.3,87.0 390.1,86.7 392.0,81.4 393.8,76.5 395.6,78.6 397.4,80.4 399.3,84.2 401.1,84.7 402.9,92.5 404.8,95.7 406.6,101.0 408.4,110.4 410.2,113.6 412.1,116.7 413.9,119.6 415.7,123.7 417.6,126.4 419.4,126.8 421.2,132.8 423.0,135.8 424.9,133.2 426.7,132.3 428.5,131.5 430.4,137.0 432.2,133.9 434.0,133.1 435.8,134.6 437.7,138.7 439.5,136.5 441.3,134.7 443.2,137.5 445.0,137.2 446.8,137.1 448.6,137.9 450.5,138.5 452.3,139.0 454.1,140.6 456.0,140.8 457.8,141.7 459.6,140.6 461.5,140.2 463.3,140.3 465.1,139.5 466.9,140.9 468.8,140.1 470.6,141.3 472.4,142.6 474.3,142.3 476.1,142.3 477.9,142.2 479.7,142.0 481.6,141.7 483.4,141.4 485.2,142.2 490.7,142.9 496.2,142.2 501.7,141.6 507.2,141.6 512.7,141.9 518.1,143.6 523.6,142.9 529.1,143.5 534.6,142.7 540.1,142.1 545.6,143.0 551.1,143.9 556.5,143.9 562.0,143.4 567.5,143.2 573.0,144.1 578.5,143.7 584.0,144.3 589.5,144.4 595.0,143.5 600.4,143.7 605.9,145.2 611.4,145.2 616.9,143.8 622.4,145.0 627.9,143.7 633.4,143.8 638.8,144.7M375.5,72.3 377.3,76.4 379.2,75.7 381.0,74.9 382.8,73.0 384.6,69.8 386.5,69.0 388.3,64.9 390.1,61.8 392.0,65.5 393.8,67.6 395.6,66.9 397.4,69.9 399.3,65.6 401.1,63.8 402.9,62.7 404.8,58.4 406.6,60.0 408.4,61.2 410.2,65.1 412.1,69.6 413.9,76.8 415.7,78.0 417.6,79.7 419.4,84.9 421.2,88.7 423.0,90.2 424.9,89.4 426.7,96.5 428.5,101.7 430.4,106.5 432.2,108.9 434.0,114.2 435.8,114.5 437.7,118.0 439.5,115.5 441.3,120.6 443.2,124.5 445.0,123.2 446.8,123.1 448.6,124.9 450.5,125.4 452.3,126.1 454.1,126.0 456.0,127.8 457.8,129.8 459.6,129.8 461.5,129.7 463.3,129.7 465.1,130.7 466.9,132.3 468.8,133.6 470.6,131.4 472.4,132.2 474.3,132.9 476.1,133.1 477.9,133.4 479.7,134.4 481.6,134.7 483.4,134.7 485.2,134.1 490.7,133.8 496.2,134.7 501.7,135.4 507.2,137.1 512.7,138.0 518.1,137.8 523.6,138.6 529.1,139.0 534.6,137.4 540.1,138.6 545.6,139.2 551.1,140.7 556.5,140.0 562.0,139.8 567.5,140.2 573.0,140.0 578.5,142.0 584.0,140.5 589.5,139.8 595.0,141.9 600.4,141.5 605.9,140.9 611.4,140.7 616.9,141.1 622.4,140.6 627.9,140.9 633.4,141.7 638.8,140.9M375.5,72.1 377.3,69.3 379.2,65.1 381.0,63.7 382.8,69.7 384.6,68.0 386.5,70.7 388.3,68.3 390.1,66.1 392.0,67.2 393.8,74.4 395.6,70.4 397.4,68.5 399.3,69.6 401.1,67.9 402.9,70.5 404.8,73.6 406.6,74.7 408.4,79.7 410.2,79.8 412.1,85.9 413.9,90.5 415.7,93.0 417.6,94.8 419.4,102.5 421.2,107.8 423.0,112.8 424.9,120.4 426.7,123.1 428.5,118.0 430.4,122.8 432.2,123.6 434.0,125.5 435.8,125.7 437.7,128.8 439.5,128.9 441.3,131.8 443.2,127.1 445.0,130.2 446.8,133.4 448.6,134.0 450.5,135.8 452.3,135.7 454.1,135.1 456.0,137.1 457.8,137.3 459.6,138.3 461.5,138.6 463.3,139.0 465.1,140.5 466.9,139.2 468.8,139.4 470.6,139.0 472.4,140.0 474.3,140.4 476.1,140.7 477.9,141.5 479.7,139.8 481.6,139.3 483.4,139.1 485.2,139.5 490.7,140.5 496.2,140.7 501.7,139.1 507.2,139.3 512.7,140.4 518.1,141.9 523.6,141.5 529.1,143.5 534.6,142.2 540.1,142.7 545.6,142.7 551.1,141.8 556.5,141.2 562.0,142.1 567.5,143.1 573.0,144.1 578.5,144.3 584.0,143.2 589.5,142.9 595.0,143.4 600.4,143.2 605.9,143.4 611.4,144.2 616.9,144.0 622.4,142.8 627.9,141.9 633.4,143.1 638.8,143.1M375.5,88.3 377.3,80.4 379.2,78.0 381.0,76.8 382.8,74.4 384.6,68.6 386.5,68.3 388.3,69.5 390.1,67.5 392.0,69.5 393.8,74.0 395.6,74.0 397.4,76.9 399.3,80.8 401.1,85.6 402.9,97.9 404.8,96.7 406.6,102.5 408.4,105.0 410.2,111.4 412.1,114.4 413.9,121.2 415.7,120.3 417.6,124.5 419.4,121.6 421.2,124.7 423.0,126.6 424.9,130.8 426.7,133.1 428.5,131.8 430.4,133.1 432.2,133.7 434.0,138.0 435.8,137.6 437.7,135.7 439.5,139.1 441.3,140.5 443.2,141.5 445.0,138.9 446.8,139.7 448.6,139.8 450.5,139.5 452.3,138.8 454.1,139.6 456.0,139.1 457.8,137.4 459.6,139.7 461.5,140.2 463.3,140.2 465.1,139.9 466.9,139.0 468.8,139.6 470.6,140.4 472.4,141.2 474.3,143.1 476.1,143.0 477.9,140.8 479.7,141.6 481.6,140.8 483.4,140.5 485.2,141.0 490.7,142.2 496.2,140.3 501.7,140.5 507.2,140.9 512.7,142.5 518.1,142.1 523.6,143.1 529.1,143.8 534.6,143.1 540.1,142.8 545.6,142.5 551.1,142.5 556.5,142.8 562.0,142.8 567.5,143.8 573.0,143.5 578.5,142.9 584.0,141.7 589.5,143.9M375.5,64.9 377.3,63.6 379.2,65.2 381.0,63.7 382.8,55.1 384.6,49.9 386.5,51.1 388.3,46.2 390.1,47.2 392.0,43.4 393.8,36.8 395.6,39.5 397.4,37.7 399.3,43.5 401.1,45.5 402.9,49.0 404.8,46.8 406.6,50.9 408.4,57.1 410.2,63.2 412.1,67.1 413.9,69.0 415.7,71.6 417.6,79.5 419.4,82.7 421.2,89.3 423.0,96.3 424.9,100.0 426.7,99.3 428.5,107.2 430.4,112.0 432.2,115.0 434.0,118.5 435.8,119.8 437.7,122.8 439.5,129.3 441.3,127.1 443.2,131.7 445.0,129.9 446.8,129.5 448.6,129.0 450.5,129.5 452.3,130.6 454.1,132.6 456.0,132.8 457.8,132.0 459.6,132.7 461.5,133.3 463.3,132.3 465.1,133.9 466.9,136.0 468.8,135.7 470.6,136.1 472.4,137.4 474.3,136.1 476.1,136.9 477.9,135.8 479.7,137.6 481.6,136.9 483.4,137.1 485.2,137.8 490.7,138.0 496.2,139.8 501.7,138.1 507.2,138.4 512.7,139.0 518.1,138.1 523.6,137.7 529.1,140.3 534.6,140.6 540.1,142.0 545.6,141.7 551.1,141.8 556.5,141.0 562.0,141.3 567.5,142.5 573.0,141.7 578.5,142.1 584.0,141.4 589.5,142.6 595.0,143.0 600.4,142.9 605.9,142.9M375.5,86.8 377.3,84.7 379.2,82.3 381.0,77.6 382.8,72.5 384.6,66.7 386.5,61.6 388.3,63.4 390.1,60.0 392.0,60.4 393.8,59.7 395.6,55.8 397.4,55.0 399.3,57.2 401.1,62.6 402.9,64.1 404.8,62.4 406.6,67.0 408.4,72.1 410.2,76.8 412.1,78.0 413.9,83.2 415.7,78.5 417.6,85.6 419.4,91.0 421.2,97.0 423.0,98.7 424.9,101.5 426.7,106.4 428.5,110.3 430.4,108.7 432.2,111.4 434.0,112.2 435.8,115.3 437.7,119.2 439.5,119.3 441.3,118.7 443.2,120.8 445.0,122.2 446.8,121.2 448.6,123.9 450.5,124.9 452.3,126.2 454.1,127.0 456.0,127.1 457.8,128.9 459.6,129.2 461.5,129.5 463.3,129.8 465.1,128.9 466.9,130.6 468.8,131.1 470.6,131.2 472.4,133.2 474.3,132.5 476.1,132.4 477.9,133.3 479.7,133.7 481.6,134.3 483.4,133.6 485.2,134.6 490.7,136.3 496.2,136.8 501.7,137.3 507.2,137.3 512.7,137.5 518.1,137.2 523.6,139.1 529.1,138.8 534.6,139.2 540.1,139.4 545.6,140.0 551.1,140.3 556.5,139.9 562.0,139.4 567.5,141.0 573.0,140.6 578.5,141.4 584.0,140.8 589.5,141.3 595.0,142.3 600.4,142.4 605.9,142.0 611.4,141.3 616.9,140.7 622.4,140.8 627.9,141.4 633.4,141.5 638.8,142.1M375.5,56.2 377.3,49.4 379.2,49.9 381.0,49.6 382.8,47.0 384.6,42.3 386.5,43.1 388.3,42.5 390.1,39.1 392.0,38.0 393.8,40.0 395.6,41.4 397.4,42.7 399.3,46.2 401.1,51.4 402.9,55.1 404.8,60.4 406.6,56.5 408.4,65.6 410.2,69.6 412.1,80.8 413.9,86.2 415.7,87.3 417.6,95.8 419.4,105.2 421.2,109.6 423.0,117.4 424.9,122.5 426.7,117.3 428.5,121.0 430.4,122.7 432.2,122.1 434.0,126.6 435.8,127.1 437.7,128.2 439.5,131.4 441.3,132.6 443.2,135.8 445.0,138.1 446.8,134.3 448.6,134.7 450.5,136.9 452.3,135.1 454.1,135.7 456.0,136.3 457.8,135.8 459.6,138.1 461.5,137.8 463.3,138.4 465.1,138.0 466.9,137.5 468.8,137.9 470.6,139.0 472.4,139.2 474.3,138.5 476.1,138.4 477.9,138.5 479.7,138.8 481.6,139.7 483.4,139.5 485.2,140.4 490.7,140.4 496.2,140.7 501.7,140.5 507.2,139.9 512.7,140.4 518.1,140.3 523.6,140.9 529.1,141.5 534.6,141.1 540.1,141.5 545.6,142.4 551.1,142.2 556.5,142.2 562.0,141.9 567.5,141.7 573.0,142.5 578.5,142.0 584.0,143.5 589.5,141.9 595.0,143.1 600.4,142.6 605.9,141.7 611.4,142.5 616.9,143.7 622.4,144.0 627.9,143.6 633.4,143.1 638.8,142.3M375.5,66.2 377.3,63.8 379.2,71.0 381.0,66.6 382.8,63.3 384.6,61.6 386.5,61.6 388.3,63.3 390.1,67.6 392.0,64.2 393.8,67.2 395.6,73.6 397.4,69.7 399.3,69.4 401.1,77.1 402.9,77.2 404.8,88.1 406.6,89.5 408.4,95.1 410.2,98.5 412.1,101.1 413.9,103.5 415.7,107.1 417.6,111.7 419.4,113.9 421.2,119.9 423.0,120.5 424.9,123.8 426.7,128.1 428.5,128.1 430.4,127.2 432.2,127.2 434.0,125.3 435.8,130.3 437.7,134.7 439.5,134.0 441.3,130.0 443.2,136.9 445.0,136.3 446.8,136.1 448.6,135.4 450.5,135.9 452.3,136.0 454.1,135.9 456.0,137.3 457.8,137.4 459.6,138.2 461.5,137.8 463.3,137.2 465.1,136.8 466.9,138.1 468.8,138.5 470.6,137.8 472.4,139.8 474.3,137.8 476.1,139.4 477.9,138.8 479.7,138.8 481.6,139.7 483.4,139.5 485.2,139.7 490.7,141.4 496.2,140.4 501.7,140.0 507.2,139.1 512.7,140.4 518.1,141.1 523.6,141.2 529.1,142.1 534.6,141.7 540.1,141.6 545.6,142.2 551.1,142.5 556.5,140.4 562.0,140.4 567.5,141.3 573.0,140.9 578.5,141.1 584.0,143.2 589.5,142.3 595.0,142.3 600.4,141.2 605.9,142.0 611.4,142.3 616.9,142.4 622.4,142.6 627.9,144.2 633.4,142.5 638.8,143.5M375.5,66.4 377.3,64.2 379.2,62.0 381.0,55.3 382.8,47.4 384.6,49.6 386.5,47.3 388.3,46.8 390.1,43.8 392.0,47.1 393.8,52.7 395.6,46.6 397.4,47.1 399.3,47.7 401.1,48.1 402.9,49.3 404.8,55.4 406.6,59.4 408.4,60.4 410.2,63.3 412.1,60.7 413.9,68.0 415.7,74.5 417.6,78.0 419.4,83.7 421.2,91.1 423.0,95.1 424.9,105.1 426.7,110.0 428.5,112.6 430.4,111.1 432.2,114.0 434.0,119.7 435.8,123.3 437.7,124.5 439.5,125.1 441.3,125.6 443.2,122.8 445.0,124.4 446.8,126.1 448.6,127.9 450.5,128.1 452.3,130.5 454.1,131.7 456.0,131.6 457.8,132.6 459.6,133.1 461.5,132.8 463.3,133.3 465.1,134.7 466.9,135.9 468.8,135.6 470.6,135.0 472.4,136.0 474.3,136.2 476.1,135.9 477.9,137.0 479.7,136.6 481.6,137.3 483.4,137.8 485.2,138.6 490.7,139.0 496.2,140.2 501.7,140.7 507.2,141.2 512.7,140.5 518.1,140.6 523.6,140.1 529.1,141.2 534.6,141.2 540.1,141.0 545.6,139.9 551.1,141.2 556.5,141.3 562.0,141.4 567.5,140.2 573.0,139.7 578.5,141.7 584.0,141.8 589.5,141.6 595.0,142.0 600.4,142.2 605.9,141.6 611.4,142.8 616.9,143.0 622.4,142.1 627.9,142.5 633.4,142.9 638.8,143.5M375.5,83.9 377.3,83.1 379.2,80.1 381.0,73.8 382.8,73.3 384.6,63.2 386.5,57.2 388.3,52.1 390.1,48.9 392.0,44.0 393.8,44.5 395.6,44.9 397.4,49.8 399.3,46.5 401.1,46.2 402.9,49.3 404.8,47.6 406.6,51.3 408.4,58.4 410.2,62.6 412.1,66.6 413.9,70.3 415.7,79.2 417.6,80.0 419.4,85.5 421.2,91.0 423.0,92.2 424.9,94.3 426.7,102.7 428.5,107.9 430.4,113.3 432.2,120.4 434.0,117.1 435.8,121.7 437.7,122.1 439.5,124.7 441.3,129.9 443.2,127.2 445.0,128.1 446.8,127.1 448.6,127.6 450.5,129.8 452.3,130.3 454.1,131.3 456.0,133.3 457.8,133.6 459.6,134.4 461.5,135.0 463.3,133.9 465.1,133.8 466.9,134.2 468.8,134.4 470.6,134.8 472.4,134.9 474.3,134.8 476.1,135.4 477.9,137.1 479.7,138.3 481.6,137.8 483.4,138.0 485.2,137.4 490.7,138.7 496.2,138.1 501.7,138.9 507.2,138.3 512.7,138.5 518.1,138.4 523.6,137.6 529.1,140.4 534.6,140.9 540.1,141.4 545.6,141.1 551.1,141.6 556.5,142.2 562.0,142.3 567.5,141.7 573.0,142.5 578.5,141.6 584.0,141.6 589.5,141.3 595.0,142.6 600.4,142.2 605.9,141.7 611.4,141.7M375.5,120.7 377.3,117.2 379.2,111.0 381.0,105.3 382.8,95.1 384.6,85.5 386.5,81.0 388.3,77.8 390.1,75.9 392.0,80.8 393.8,85.2 395.6,85.2 397.4,89.1 399.3,89.7 401.1,92.4 402.9,96.2 404.8,100.5 406.6,104.0 408.4,103.7 410.2,111.4 412.1,117.3 413.9,122.5 415.7,123.5 417.6,127.5 419.4,127.7 421.2,133.5 423.0,136.5 424.9,137.5 426.7,136.4 428.5,131.0 430.4,137.6 432.2,138.2 434.0,136.5 435.8,138.5 437.7,140.1 439.5,137.8 441.3,133.6 443.2,133.9 445.0,137.7 446.8,141.2 448.6,141.7 450.5,141.1 452.3,140.0 454.1,139.8 456.0,140.5 457.8,141.2 459.6,141.4 461.5,141.0 463.3,140.7 465.1,139.8 466.9,141.2 468.8,139.8 470.6,139.0 472.4,141.2 474.3,141.4 476.1,140.6 477.9,140.5 479.7,140.7 481.6,140.4 483.4,140.7 485.2,140.2 490.7,141.4 496.2,142.1 501.7,141.8 507.2,141.9 512.7,142.4 518.1,141.8 523.6,143.4 529.1,141.6 534.6,141.6 540.1,142.8 545.6,143.5 551.1,144.2 556.5,143.3 562.0,144.7 567.5,144.3 573.0,143.4 578.5,143.8 584.0,142.5 589.5,143.0 595.0,143.9 600.4,144.6 605.9,144.0 611.4,143.8 616.9,143.3 622.4,144.0 627.9,145.2 633.4,144.5 638.8,143.9M375.5,62.7 377.3,60.5 379.2,55.6 381.0,56.6 382.8,53.4 384.6,51.4 386.5,49.2 388.3,44.4 390.1,40.5 392.0,44.4 393.8,44.8 395.6,35.4 397.4,36.6 399.3,37.4 401.1,38.5 402.9,39.4 404.8,39.5 406.6,43.5 408.4,49.7 410.2,47.2 412.1,55.6 413.9,59.2 415.7,65.1 417.6,66.7 419.4,69.4 421.2,76.1 423.0,84.5 424.9,87.8 426.7,90.1 428.5,93.1 430.4,102.2 432.2,102.7 434.0,104.7 435.8,105.7 437.7,106.4 439.5,109.8 441.3,111.2 443.2,113.1 445.0,114.9 446.8,116.6 448.6,116.9 450.5,116.9 452.3,118.1 454.1,120.0 456.0,121.1 457.8,121.0 459.6,122.1 461.5,122.5 463.3,122.5 465.1,123.4 466.9,123.4 468.8,123.7 470.6,125.4 472.4,125.1 474.3,124.9 476.1,125.7 477.9,127.6 479.7,126.6 481.6,127.6 483.4,127.4 485.2,128.5 490.7,128.9 496.2,130.2 501.7,130.0 507.2,132.1 512.7,132.1 518.1,133.0 523.6,132.9 529.1,134.8 534.6,135.3 540.1,135.8 545.6,136.4 551.1,136.0 556.5,136.1 562.0,136.3 567.5,136.4 573.0,136.6 578.5,136.3 584.0,138.0 589.5,137.0 595.0,137.8 600.4,137.9 605.9,138.4 611.4,138.6 616.9,139.4M375.5,79.4 377.3,75.4 379.2,72.1 381.0,71.6 382.8,71.8 384.6,75.2 386.5,76.9 388.3,73.4 390.1,73.7 392.0,71.9 393.8,70.1 395.6,68.9 397.4,77.4 399.3,75.7 401.1,70.3 402.9,74.3 404.8,71.1 406.6,77.5 408.4,78.9 410.2,81.8 412.1,79.6 413.9,86.2 415.7,93.5 417.6,98.7 419.4,103.2 421.2,104.2 423.0,106.0 424.9,108.4 426.7,113.3 428.5,115.9 430.4,117.8 432.2,124.1 434.0,123.9 435.8,127.6 437.7,130.6 439.5,132.1 441.3,131.5 443.2,133.6 445.0,135.4 446.8,137.3 448.6,136.2 450.5,135.6 452.3,136.8 454.1,136.6 456.0,136.5 457.8,137.2 459.6,137.1 461.5,137.0 463.3,137.4 465.1,138.4 466.9,138.8 468.8,139.1 470.6,138.3 472.4,138.4 474.3,139.3 476.1,139.6 477.9,141.3 479.7,140.5 481.6,141.1 483.4,140.2 485.2,141.2 490.7,140.7 496.2,139.6 501.7,140.1 507.2,141.4 512.7,141.8 518.1,142.0 523.6,141.6 529.1,140.7 534.6,142.0 540.1,142.8 545.6,142.0 551.1,142.6 556.5,142.8 562.0,141.6 567.5,142.0 573.0,141.9 578.5,141.7 584.0,142.2 589.5,142.6 595.0,142.4 600.4,141.9 605.9,144.1 611.4,145.0 616.9,144.6 622.4,144.7 627.9,142.3 633.4,142.8 638.8,144.4M375.5,71.1 377.3,72.9 379.2,71.3 381.0,74.2 382.8,70.1 384.6,62.6 386.5,66.1 388.3,59.7 390.1,57.3 392.0,61.4 393.8,60.8 395.6,59.9 397.4,52.6 399.3,58.1 401.1,55.7 402.9,58.1 404.8,57.5 406.6,63.6 408.4,62.5 410.2,69.4 412.1,72.8 413.9,72.6 415.7,74.7 417.6,82.6 419.4,90.0 421.2,92.1 423.0,93.9 424.9,97.7 426.7,103.2 428.5,106.1 430.4,108.8 432.2,113.5 434.0,115.3 435.8,119.0 437.7,117.8 439.5,117.8 441.3,123.0 443.2,127.8 445.0,131.0 446.8,131.9 448.6,130.2 450.5,130.7 452.3,131.9 454.1,132.3 456.0,133.7 457.8,133.3 459.6,133.0 461.5,133.1 463.3,133.0 465.1,134.7 466.9,135.8 468.8,136.2 470.6,136.1 472.4,136.4 474.3,138.2 476.1,138.2 477.9,137.7 479.7,138.1 481.6,138.1 483.4,139.4 485.2,140.3 490.7,139.8 496.2,139.5 501.7,139.1 507.2,140.7 512.7,140.7 518.1,141.2 523.6,140.8 529.1,140.5 534.6,141.3 540.1,141.7 545.6,141.3 551.1,142.5 556.5,141.9 562.0,142.5 567.5,141.4 573.0,141.8 578.5,141.9 584.0,141.5 589.5,142.0 595.0,143.8 600.4,143.6 605.9,143.0 611.4,142.6 616.9,142.5 622.4,142.2 627.9,142.0 633.4,143.1 638.8,142.4M375.5,74.7 377.3,71.6 379.2,70.7 381.0,62.8 382.8,65.0 384.6,64.3 386.5,60.8 388.3,58.8 390.1,56.2 392.0,53.9 393.8,56.9 395.6,62.1 397.4,67.3 399.3,68.7 401.1,77.7 402.9,79.6 404.8,88.0 406.6,92.6 408.4,96.6 410.2,103.9 412.1,109.2 413.9,113.8 415.7,119.8 417.6,119.9 419.4,122.2 421.2,125.1 423.0,125.7 424.9,128.8 426.7,131.0 428.5,126.3 430.4,126.6 432.2,129.8 434.0,131.1 435.8,132.9 437.7,132.1 439.5,134.0 441.3,130.6 443.2,132.4 445.0,132.3 446.8,131.2 448.6,134.1 450.5,135.8 452.3,137.1 454.1,137.4 456.0,138.5 457.8,138.5 459.6,138.8 461.5,139.8 463.3,138.3 465.1,139.1 466.9,138.6 468.8,137.8 470.6,138.1 472.4,139.5 474.3,140.1 476.1,140.2 477.9,140.4 479.7,139.9 481.6,139.9 483.4,139.3 485.2,140.4 490.7,139.7 496.2,141.6 501.7,142.0 507.2,140.6 512.7,140.5 518.1,142.1 523.6,142.0 529.1,142.0 534.6,141.0 540.1,142.5 545.6,141.9 551.1,142.5 556.5,142.7 562.0,143.0 567.5,141.8 573.0,141.4 578.5,142.0 584.0,143.5 589.5,143.6 595.0,143.7 600.4,142.7 605.9,144.0 611.4,143.5 616.9,142.6 622.4,142.6 627.9,143.0 633.4,142.3 638.8,142.9M375.5,72.5 377.3,70.3 379.2,73.5 381.0,69.9 382.8,68.3 384.6,59.5 386.5,59.9 388.3,58.9 390.1,54.5 392.0,58.4 393.8,56.2 395.6,49.6 397.4,46.3 399.3,51.9 401.1,46.4 402.9,47.4 404.8,50.6 406.6,49.7 408.4,57.0 410.2,63.9 412.1,62.8 413.9,72.0 415.7,70.7 417.6,79.4 419.4,90.3 421.2,97.5 423.0,103.4 424.9,109.1 426.7,115.1 428.5,117.1 430.4,118.1 432.2,118.4 434.0,119.1 435.8,127.4 437.7,129.1 439.5,132.6 441.3,134.6 443.2,133.0 445.0,132.8 446.8,133.3 448.6,135.1 450.5,133.9 452.3,134.0 454.1,133.8 456.0,134.3 457.8,135.0 459.6,135.8 461.5,136.6 463.3,136.6 465.1,138.2 466.9,137.6 468.8,138.2 470.6,137.7 472.4,138.4 474.3,140.2 476.1,139.1 477.9,140.0 479.7,139.9 481.6,139.5 483.4,139.4 485.2,139.5 490.7,139.5 496.2,139.7 501.7,140.6 507.2,139.8 512.7,140.7 518.1,140.6 523.6,140.0 529.1,141.1 534.6,140.6 540.1,140.1 545.6,140.4 551.1,141.0 556.5,142.4 562.0,142.6 567.5,143.0 573.0,142.3 578.5,142.0 584.0,142.4 589.5,143.4 595.0,142.7 600.4,142.4 605.9,142.8 611.4,142.8 616.9,142.2M375.5,83.3 377.3,82.8 379.2,78.5 381.0,77.4 382.8,76.5 384.6,71.5 386.5,71.5 388.3,71.4 390.1,66.4 392.0,63.7 393.8,56.0 395.6,55.8 397.4,59.9 399.3,57.2 401.1,53.1 402.9,53.0 404.8,54.7 406.6,62.5 408.4,64.6 410.2,67.6 412.1,71.8 413.9,74.5 415.7,81.0 417.6,86.5 419.4,93.2 421.2,96.1 423.0,105.9 424.9,110.9 426.7,113.0 428.5,113.9 430.4,116.8 432.2,118.4 434.0,118.2 435.8,127.2 437.7,126.6 439.5,126.2 441.3,124.0 443.2,130.4 445.0,123.5 446.8,129.4 448.6,131.9 450.5,132.9 452.3,133.9 454.1,133.8 456.0,134.3 457.8,135.3 459.6,137.0 461.5,137.0 463.3,137.2 465.1,137.3 466.9,137.8 468.8,137.8 470.6,138.0 472.4,138.2 474.3,138.2 476.1,140.1 477.9,138.7 479.7,138.8 481.6,138.7 483.4,140.1 485.2,140.4 490.7,139.2 496.2,139.8 501.7,140.3 507.2,140.3 512.7,141.0 518.1,140.3 523.6,141.6 529.1,141.4 534.6,141.6 540.1,142.0 545.6,142.4 551.1,142.8 556.5,143.5 562.0,142.9 567.5,142.0 573.0,142.0 578.5,141.1 584.0,142.7 589.5,143.5 595.0,143.4 600.4,143.4 605.9,142.4 611.4,143.5 616.9,144.2 622.4,143.8 627.9,144.7 633.4,143.9 638.8,144.2M375.5,93.6 377.3,87.8 379.2,84.2 381.0,82.4 382.8,78.6 384.6,70.8 386.5,65.8 388.3,63.5 390.1,61.9 392.0,60.4 393.8,64.1 395.6,63.3 397.4,69.5 399.3,63.2 401.1,70.1 402.9,77.4 404.8,83.4 406.6,92.2 408.4,91.6 410.2,92.7 412.1,96.7 413.9,104.2 415.7,105.6 417.6,114.4 419.4,118.2 421.2,119.3 423.0,120.8 424.9,125.9 426.7,128.7 428.5,127.2 430.4,129.9 432.2,135.9 434.0,130.4 435.8,133.9 437.7,132.8 439.5,131.7 441.3,132.0 443.2,133.9 445.0,135.9 446.8,134.9 448.6,136.3 450.5,136.8 452.3,137.7 454.1,138.6 456.0,138.6 457.8,137.8 459.6,138.5 461.5,138.7 463.3,138.5 465.1,140.0 466.9,139.5 468.8,140.2 470.6,140.3 472.4,139.4 474.3,138.9 476.1,138.3 477.9,139.9 479.7,141.0 481.6,140.4 483.4,140.4 485.2,142.4 490.7,141.0 496.2,140.7 501.7,140.5 507.2,139.6 512.7,140.0 518.1,141.0 523.6,142.8 529.1,142.5 534.6,142.9 540.1,142.6 545.6,142.4 551.1,142.8 556.5,142.8 562.0,142.6 567.5,142.3 573.0,141.6 578.5,142.9 584.0,143.3 589.5,141.5 595.0,142.1 600.4,142.3 605.9,143.7 611.4,142.6 616.9,142.0 622.4,142.0 627.9,143.8 633.4,143.9 638.8,143.8M375.5,68.6 377.3,68.3 379.2,68.6 381.0,65.6 382.8,63.4 384.6,65.8 386.5,63.0 388.3,61.9 390.1,55.8 392.0,54.9 393.8,55.2 395.6,55.4 397.4,52.4 399.3,59.0 401.1,60.9 402.9,58.3 404.8,65.3 406.6,71.7 408.4,73.6 410.2,77.1 412.1,79.5 413.9,86.6 415.7,86.7 417.6,92.2 419.4,100.7 421.2,104.4 423.0,110.5 424.9,113.2 426.7,119.1 428.5,117.0 430.4,118.9 432.2,124.9 434.0,126.5 435.8,129.6 437.7,134.4 439.5,133.5 441.3,132.7 443.2,135.8 445.0,132.2 446.8,128.3 448.6,132.8 450.5,135.1 452.3,136.1 454.1,136.4 456.0,137.6 457.8,138.2 459.6,137.6 461.5,138.9 463.3,138.9 465.1,139.9 466.9,139.7 468.8,140.0 470.6,139.1 472.4,139.7 474.3,140.4 476.1,140.7 477.9,139.7 479.7,139.6 481.6,140.3 483.4,141.5 485.2,141.2 490.7,140.5 496.2,140.9 501.7,142.3 507.2,141.9 512.7,142.2 518.1,142.2 523.6,142.3 529.1,142.9 534.6,143.3 540.1,142.3 545.6,142.2 551.1,143.1 556.5,144.2 562.0,142.8 567.5,142.6 573.0,142.7 578.5,143.3 584.0,142.0 589.5,143.6 595.0,143.7 600.4,143.1 605.9,143.0 611.4,142.8 616.9,144.0 622.4,143.2 627.9,142.6 633.4,143.4 638.8,142.8M375.5,71.2 377.3,69.8 379.2,69.0 381.0,68.5 382.8,62.9 384.6,60.5 386.5,68.0 388.3,57.9 390.1,58.4 392.0,59.9 393.8,59.6 395.6,61.9 397.4,61.2 399.3,67.1 401.1,67.6 402.9,70.2 404.8,79.8 406.6,76.7 408.4,83.2 410.2,90.6 412.1,93.5 413.9,94.3 415.7,101.8 417.6,104.7 419.4,108.2 421.2,111.0 423.0,120.0 424.9,114.7 426.7,118.9 428.5,117.7 430.4,119.6 432.2,126.1 434.0,125.9 435.8,128.0 437.7,127.4 439.5,128.7 441.3,128.5 443.2,128.7 445.0,128.4 446.8,127.7 448.6,129.9 450.5,129.6 452.3,129.1 454.1,130.3 456.0,129.9 457.8,130.4 459.6,130.8 461.5,132.5 463.3,132.4 465.1,134.7 466.9,136.0 468.8,135.1 470.6,134.0 472.4,134.5 474.3,135.8 476.1,136.8 477.9,136.3 479.7,136.1 481.6,137.3 483.4,137.2 485.2,137.3 490.7,138.0 496.2,139.7 501.7,139.8 507.2,139.4 512.7,138.1 518.1,137.8 523.6,139.0 529.1,140.2 534.6,140.0 540.1,140.5 545.6,140.5 551.1,140.1 556.5,140.3 562.0,140.0 567.5,139.4 573.0,141.3 578.5,140.4 584.0,142.3 589.5,142.6 595.0,141.4 600.4,142.4 605.9,142.7 611.4,142.3 616.9,142.9 622.4,142.9 627.9,142.6 633.4,142.7 638.8,143.1M375.5,70.2 377.3,73.0 379.2,70.9 381.0,75.7 382.8,74.9 384.6,74.2 386.5,72.2 388.3,70.2 390.1,69.5 392.0,68.0 393.8,64.5 395.6,59.2 397.4,62.7 399.3,62.2 401.1,65.2 402.9,66.5 404.8,69.9 406.6,72.7 408.4,75.0 410.2,75.6 412.1,81.1 413.9,87.4 415.7,93.8 417.6,101.1 419.4,105.9 421.2,107.5 423.0,106.7 424.9,109.4 426.7,114.3 428.5,116.0 430.4,114.7 432.2,116.6 434.0,115.5 435.8,121.8 437.7,121.0 439.5,124.7 441.3,128.8 443.2,126.3 445.0,124.0 446.8,123.4 448.6,123.8 450.5,125.1 452.3,127.7 454.1,127.1 456.0,126.9 457.8,127.9 459.6,128.6 461.5,128.9 463.3,129.2 465.1,130.4 466.9,129.7 468.8,129.0 470.6,129.5 472.4,130.2 474.3,133.1 476.1,132.0 477.9,131.7 479.7,131.5 481.6,131.9 483.4,132.9 485.2,132.8 490.7,133.5 496.2,134.1 501.7,134.2 507.2,134.8 512.7,135.8 518.1,136.9 523.6,138.3 529.1,136.8 534.6,137.6 540.1,137.2 545.6,137.7 551.1,138.3 556.5,138.5 562.0,139.0 567.5,138.3 573.0,139.5 578.5,140.1 584.0,140.4 589.5,140.3 595.0,139.7 600.4,140.9 605.9,142.8 611.4,141.8 616.9,141.3 622.4,141.6 627.9,141.8 633.4,141.5 638.8,142.5M375.5,78.6 377.3,74.2 379.2,76.8 381.0,80.4 382.8,79.4 384.6,77.3 386.5,70.0 388.3,71.4 390.1,71.8 392.0,70.3 393.8,69.6 395.6,70.5 397.4,65.3 399.3,70.6 401.1,73.7 402.9,77.4 404.8,77.7 406.6,78.7 408.4,79.0 410.2,79.6 412.1,76.3 413.9,78.2 415.7,84.4 417.6,87.6 419.4,93.2 421.2,96.9 423.0,100.7 424.9,99.2 426.7,107.9 428.5,113.4 430.4,113.9 432.2,119.0 434.0,121.9 435.8,120.8 437.7,124.7 439.5,121.4 441.3,122.4 443.2,126.1 445.0,127.2 446.8,129.4 448.6,128.2 450.5,129.0 452.3,129.7 454.1,131.2 456.0,130.4 457.8,131.3 459.6,132.4 461.5,131.7 463.3,132.3 465.1,133.4 466.9,133.2 468.8,134.3 470.6,134.8 472.4,134.4 474.3,135.8 476.1,135.9 477.9,136.0 479.7,135.9 481.6,136.9 483.4,137.6 485.2,137.5 490.7,138.4 496.2,138.2 501.7,138.4 507.2,138.6 512.7,138.8 518.1,139.9 523.6,140.1 529.1,140.0 534.6,139.3 540.1,139.7 545.6,140.2 551.1,139.1 556.5,140.4 562.0,139.9 567.5,140.2 573.0,141.7 578.5,141.7 584.0,141.2 589.5,142.4 595.0,141.3 600.4,142.1 605.9,141.9 611.4,142.3 616.9,142.1 622.4,142.9 627.9,141.7 633.4,142.8 638.8,141.7M375.5,69.7 377.3,65.4 379.2,63.5 381.0,65.6 382.8,67.9 384.6,66.4 386.5,63.9 388.3,65.2 390.1,64.6 392.0,61.2 393.8,62.8 395.6,64.2 397.4,61.5 399.3,63.9 401.1,65.7 402.9,70.5 404.8,69.0 406.6,71.4 408.4,75.1 410.2,77.6 412.1,77.6 413.9,83.1 415.7,87.8 417.6,91.3 419.4,95.2 421.2,97.2 423.0,103.5 424.9,108.5 426.7,113.0 428.5,114.7 430.4,120.8 432.2,122.6 434.0,126.6 435.8,125.8 437.7,126.5 439.5,127.7 441.3,130.0 443.2,132.3 445.0,130.8 446.8,136.7 448.6,134.8 450.5,132.5 452.3,132.6 454.1,132.1 456.0,132.0 457.8,133.3 459.6,134.8 461.5,134.7 463.3,135.8 465.1,135.9 466.9,136.0 468.8,135.3 470.6,136.3 472.4,137.0 474.3,137.6 476.1,136.2 477.9,137.2 479.7,137.2 481.6,138.4 483.4,138.8 485.2,137.0 490.7,138.9 496.2,139.1 501.7,139.2 507.2,139.4 512.7,139.3 518.1,140.3 523.6,139.6 529.1,140.1 534.6,140.9 540.1,140.8 545.6,141.1 551.1,141.5 556.5,141.3 562.0,142.1 567.5,141.7 573.0,142.1 578.5,143.8 584.0,142.3 589.5,142.4 595.0,142.6 600.4,142.8 605.9,143.7 611.4,144.1 616.9,143.1 622.4,143.2 627.9,142.3 633.4,141.3 638.8,142.5M375.5,91.4 377.3,88.1 379.2,84.9 381.0,91.1 382.8,88.5 384.6,84.0 386.5,79.9 388.3,79.9 390.1,81.5 392.0,79.2 393.8,79.8 395.6,86.0 397.4,87.6 399.3,83.6 401.1,85.2 402.9,84.3 404.8,84.5 406.6,94.3 408.4,94.0 410.2,100.5 412.1,99.2 413.9,108.0 415.7,106.7 417.6,112.2 419.4,116.4 421.2,119.2 423.0,124.7 424.9,127.2 426.7,120.3 428.5,125.6 430.4,131.1 432.2,127.3 434.0,129.0 435.8,132.0 437.7,133.3 439.5,138.8 441.3,139.6 443.2,141.5 445.0,136.3 446.8,135.1 448.6,137.2 450.5,139.2 452.3,140.8 454.1,141.0 456.0,141.7 457.8,141.4 459.6,142.4 461.5,141.8 463.3,141.7 465.1,142.3 466.9,142.0 468.8,142.7 470.6,142.7 472.4,143.1 474.3,141.5 476.1,142.9 477.9,142.6 479.7,143.2 481.6,143.3 483.4,142.4 485.2,142.7 490.7,143.0 496.2,144.5 501.7,144.3 507.2,142.5 512.7,142.4 518.1,145.0 523.6,145.2 529.1,144.6 534.6,145.1 540.1,144.4 545.6,144.7 551.1,143.3 556.5,142.6 562.0,142.5 567.5,143.9 573.0,143.8 578.5,143.1 584.0,144.1 589.5,144.1 595.0,144.8 600.4,144.4 605.9,143.3 611.4,143.8M375.5,100.2 377.3,95.4 379.2,99.5 381.0,97.7 382.8,94.7 384.6,95.2 386.5,89.9 388.3,92.3 390.1,97.1 392.0,96.5 393.8,93.0 395.6,98.4 397.4,102.6 399.3,95.0 401.1,100.6 402.9,99.2 404.8,101.1 406.6,107.5 408.4,113.0 410.2,114.4 412.1,120.2 413.9,121.4 415.7,124.9 417.6,129.4 419.4,126.8 421.2,131.0 423.0,137.1 424.9,138.4 426.7,139.2 428.5,134.6 430.4,135.0 432.2,139.1 434.0,141.1 435.8,140.6 437.7,140.5 439.5,135.8 441.3,140.2 443.2,142.9 445.0,143.2 446.8,143.7 448.6,142.2 450.5,142.1 452.3,142.6 454.1,142.7 456.0,143.1 457.8,142.9 459.6,142.8 461.5,141.6 463.3,142.9 465.1,142.0 466.9,142.4 468.8,143.3 470.6,141.9 472.4,142.2 474.3,143.5 476.1,143.6 477.9,143.7 479.7,144.3 481.6,143.7 483.4,143.5 485.2,142.5 490.7,143.2 496.2,144.6 501.7,143.3 507.2,142.8 512.7,143.9 518.1,142.9 523.6,143.4 529.1,144.5 534.6,143.8 540.1,143.8 545.6,144.3 551.1,143.9 556.5,144.5 562.0,144.4 567.5,144.1 573.0,143.8 578.5,143.7 584.0,145.2 589.5,145.2 595.0,144.6 600.4,144.0 605.9,144.8 611.4,143.9 616.9,144.7 622.4,143.8 627.9,143.9 633.4,144.0 638.8,145.1M375.5,74.9 377.3,68.7 379.2,65.6 381.0,69.4 382.8,70.9 384.6,71.9 386.5,73.5 388.3,71.6 390.1,73.7 392.0,72.7 393.8,72.2 395.6,76.3 397.4,80.8 399.3,78.9 401.1,78.9 402.9,83.2 404.8,89.3 406.6,90.7 408.4,93.6 410.2,95.0 412.1,99.8 413.9,106.1 415.7,111.8 417.6,113.4 419.4,119.6 421.2,122.4 423.0,121.1 424.9,120.9 426.7,122.1 428.5,121.5 430.4,126.1 432.2,130.0 434.0,130.9 435.8,129.4 437.7,133.6 439.5,128.8 441.3,128.3 443.2,134.6 445.0,137.1 446.8,134.8 448.6,135.5 450.5,135.4 452.3,135.9 454.1,136.6 456.0,137.4 457.8,137.4 459.6,137.5 461.5,138.4 463.3,138.8 465.1,139.0 466.9,139.5 468.8,140.2 470.6,139.6 472.4,140.7 474.3,140.3 476.1,140.7 477.9,140.4 479.7,139.5 481.6,138.5 483.4,139.1 485.2,140.1 490.7,141.3 496.2,141.4 501.7,141.2 507.2,142.5 512.7,142.5 518.1,141.9 523.6,141.7 529.1,142.2 534.6,142.9 540.1,142.4 545.6,143.0 551.1,141.3 556.5,142.0 562.0,142.6 567.5,141.9 573.0,142.9 578.5,143.2 584.0,142.5 589.5,143.6 595.0,143.0 600.4,143.5 605.9,144.1 611.4,143.6 616.9,143.5 622.4,143.4 627.9,143.0 633.4,143.8 638.8,142.8M375.5,56.8 377.3,55.9 379.2,53.0 381.0,49.0 382.8,51.2 384.6,47.7 386.5,42.6 388.3,41.9 390.1,41.0 392.0,38.8 393.8,37.0 395.6,36.7 397.4,38.2 399.3,37.5 401.1,40.8 402.9,41.4 404.8,45.1 406.6,53.6 408.4,54.9 410.2,56.1 412.1,59.9 413.9,66.3 415.7,74.7 417.6,82.7 419.4,92.4 421.2,94.9 423.0,96.7 424.9,98.9 426.7,101.2 428.5,111.6 430.4,112.8 432.2,118.5 434.0,125.4 435.8,125.6 437.7,127.5 439.5,125.8 441.3,125.2 443.2,126.8 445.0,124.8 446.8,123.6 448.6,128.3 450.5,129.8 452.3,130.4 454.1,132.2 456.0,133.4 457.8,133.9 459.6,135.0 461.5,135.0 463.3,135.0 465.1,136.0 466.9,135.8 468.8,136.5 470.6,135.5 472.4,136.1 474.3,135.9 476.1,136.5 477.9,137.9 479.7,138.5 481.6,138.2 483.4,139.0 485.2,138.0 490.7,138.8 496.2,137.8 501.7,139.4 507.2,140.5 512.7,139.8 518.1,140.4 523.6,141.5 529.1,140.2 534.6,140.5 540.1,140.8 545.6,141.5 551.1,141.3 556.5,141.3 562.0,141.8 567.5,141.9 573.0,141.5 578.5,142.4 584.0,141.2 589.5,141.7 595.0,142.4 600.4,142.2 605.9,143.1 611.4,142.4 616.9,141.6 622.4,143.2 627.9,143.0 633.4,142.7 638.8,143.3M375.5,79.7 377.3,80.4 379.2,77.1 381.0,77.8 382.8,80.2 384.6,78.0 386.5,75.0 388.3,76.1 390.1,72.5 392.0,76.3 393.8,81.1 395.6,80.5 397.4,74.5 399.3,77.4 401.1,77.4 402.9,77.3 404.8,77.2 406.6,75.9 408.4,77.3 410.2,79.4 412.1,85.6 413.9,87.8 415.7,90.7 417.6,100.5 419.4,103.2 421.2,109.7 423.0,119.5 424.9,120.0 426.7,117.2 428.5,122.1 430.4,118.7 432.2,119.9 434.0,122.8 435.8,125.9 437.7,129.6 439.5,132.0 441.3,132.0 443.2,136.3 445.0,132.2 446.8,128.6 448.6,131.0 450.5,133.3 452.3,133.4 454.1,135.0 456.0,137.0 457.8,136.8 459.6,136.2 461.5,137.4 463.3,137.2 465.1,137.5 466.9,138.2 468.8,139.1 470.6,138.7 472.4,138.3 474.3,138.4 476.1,138.4 477.9,138.2 479.7,138.5 481.6,138.9 483.4,137.9 485.2,138.3 490.7,138.9 496.2,140.2 501.7,141.0 507.2,141.7 512.7,142.2 518.1,142.3 523.6,142.3 529.1,143.4 534.6,142.5 540.1,142.7 545.6,142.8 551.1,143.3 556.5,141.7 562.0,141.4 567.5,141.8 573.0,143.0 578.5,143.0 584.0,142.7 589.5,142.8 595.0,142.6 600.4,143.5 605.9,143.5 611.4,142.7 616.9,142.7 622.4,143.0 627.9,142.6 633.4,144.0 638.8,143.6M375.5,68.5 377.3,67.3 379.2,62.9 381.0,60.2 382.8,49.0 384.6,47.0 386.5,50.6 388.3,47.3 390.1,48.3 392.0,48.5 393.8,48.2 395.6,44.5 397.4,46.5 399.3,52.9 401.1,53.4 402.9,55.9 404.8,64.0 406.6,64.1 408.4,66.9 410.2,70.1 412.1,83.3 413.9,92.3 415.7,89.2 417.6,93.1 419.4,101.0 421.2,101.9 423.0,103.6 424.9,107.3 426.7,111.3 428.5,113.9 430.4,113.8 432.2,118.5 434.0,118.7 435.8,117.5 437.7,117.9 439.5,123.0 441.3,125.6 443.2,125.1 445.0,121.8 446.8,122.8 448.6,123.6 450.5,125.1 452.3,125.2 454.1,124.0 456.0,125.6 457.8,124.4 459.6,127.2 461.5,128.1 463.3,127.1 465.1,128.4 466.9,129.1 468.8,128.5 470.6,129.9 472.4,130.4 474.3,131.4 476.1,130.0 477.9,130.1 479.7,129.6 481.6,130.1 483.4,130.3 485.2,131.0 490.7,131.7 496.2,133.4 501.7,134.2 507.2,135.4 512.7,134.5 518.1,136.0 523.6,136.3 529.1,135.9 534.6,136.1 540.1,136.3 545.6,137.0 551.1,137.3 556.5,138.1 562.0,139.0 567.5,139.4 573.0,140.0 578.5,140.9 584.0,139.5 589.5,141.3 595.0,140.1 600.4,140.4 605.9,139.4 611.4,140.2 616.9,140.7 622.4,140.3 627.9,142.1 633.4,141.9 638.8,140.6M375.5,67.0 377.3,67.0 379.2,63.9 381.0,57.7 382.8,58.4 384.6,54.4 386.5,49.2 388.3,47.6 390.1,46.7 392.0,45.3 393.8,41.8 395.6,41.9 397.4,40.2 399.3,46.2 401.1,47.0 402.9,47.3 404.8,55.0 406.6,55.0 408.4,59.1 410.2,60.8 412.1,68.9 413.9,73.7 415.7,82.3 417.6,84.0 419.4,90.7 421.2,96.1 423.0,102.6 424.9,103.2 426.7,108.1 428.5,110.1 430.4,116.2 432.2,119.0 434.0,118.7 435.8,117.1 437.7,117.2 439.5,119.9 441.3,121.3 443.2,123.3 445.0,129.1 446.8,130.7 448.6,132.3 450.5,133.6 452.3,133.4 454.1,133.2 456.0,133.2 457.8,132.5 459.6,134.7 461.5,135.7 463.3,136.3 465.1,136.0 466.9,136.8 468.8,137.7 470.6,137.1 472.4,137.5 474.3,138.1 476.1,137.2 477.9,137.1 479.7,138.2 481.6,138.4 483.4,138.9 485.2,139.3 490.7,139.8 496.2,140.0 501.7,140.5 507.2,140.2 512.7,139.9 518.1,140.5 523.6,141.8 529.1,140.8 534.6,141.3 540.1,140.2 545.6,140.3 551.1,141.0 556.5,140.2 562.0,141.7 567.5,141.7 573.0,141.4 578.5,141.6 584.0,141.9M375.5,91.2 377.3,91.3 379.2,90.4 381.0,90.8 382.8,86.9 384.6,87.0 386.5,85.0 388.3,87.1 390.1,89.4 392.0,81.5 393.8,80.2 395.6,81.4 397.4,83.3 399.3,86.2 401.1,86.6 402.9,95.8 404.8,95.9 406.6,95.2 408.4,98.0 410.2,104.6 412.1,109.8 413.9,115.2 415.7,116.3 417.6,116.7 419.4,124.7 421.2,128.0 423.0,128.9 424.9,133.3 426.7,129.9 428.5,134.8 430.4,133.9 432.2,135.2 434.0,136.4 435.8,139.1 437.7,141.6 439.5,137.9 441.3,136.5 443.2,136.4 445.0,139.3 446.8,141.7 448.6,140.9 450.5,141.2 452.3,141.0 454.1,141.6 456.0,139.9 457.8,141.3 459.6,143.4 461.5,142.7 463.3,141.4 465.1,142.3 466.9,140.9 468.8,141.9 470.6,141.1 472.4,141.0 474.3,140.7 476.1,141.5 477.9,140.3 479.7,142.3 481.6,141.0 483.4,142.1 485.2,142.4 490.7,143.9 496.2,143.8 501.7,143.7 507.2,144.4 512.7,144.5 518.1,144.1 523.6,142.8 529.1,142.0 534.6,143.3 540.1,144.0 545.6,144.1 551.1,142.7 556.5,143.7 562.0,143.8 567.5,142.5 573.0,143.2 578.5,144.0 584.0,145.0M375.5,77.6 377.3,79.3 379.2,80.6 381.0,82.2 382.8,80.1 384.6,81.9 386.5,82.2 388.3,84.9 390.1,85.3 392.0,83.1 393.8,80.2 395.6,74.6 397.4,76.1 399.3,79.9 401.1,78.6 402.9,77.9 404.8,78.9 406.6,74.9 408.4,79.7 410.2,81.1 412.1,84.2 413.9,90.7 415.7,92.1 417.6,94.6 419.4,94.7 421.2,104.6 423.0,112.5 424.9,111.2 426.7,112.9 428.5,114.4 430.4,116.9 432.2,120.8 434.0,122.7 435.8,124.2 437.7,128.3 439.5,129.4 441.3,135.2 443.2,133.6 445.0,133.7 446.8,137.7 448.6,136.5 450.5,136.2 452.3,136.4 454.1,137.3 456.0,136.2 457.8,137.0 459.6,137.0 461.5,137.9 463.3,137.7 465.1,137.4 466.9,136.9 468.8,137.2 470.6,138.9 472.4,138.2 474.3,138.6 476.1,138.9 477.9,139.5 479.7,140.6 481.6,140.3 483.4,140.7 485.2,140.6 490.7,139.6 496.2,140.1 501.7,140.1 507.2,139.9 512.7,141.8 518.1,141.9 523.6,140.5 529.1,140.1 534.6,141.1 540.1,143.0 545.6,142.2 551.1,141.3 556.5,142.6 562.0,141.9 567.5,142.5 573.0,143.3 578.5,142.4 584.0,142.9 589.5,144.0 595.0,143.3 600.4,142.4 605.9,141.6 611.4,143.1 616.9,142.0 622.4,142.4 627.9,142.6 633.4,143.5 638.8,143.7M375.5,56.7 377.3,60.7 379.2,63.5 381.0,62.5 382.8,59.6 384.6,53.9 386.5,52.8 388.3,55.1 390.1,57.2 392.0,57.6 393.8,55.1 395.6,51.5 397.4,52.9 399.3,48.9 401.1,46.6 402.9,50.2 404.8,58.1 406.6,54.7 408.4,57.3 410.2,57.7 412.1,58.1 413.9,64.1 415.7,65.4 417.6,66.8 419.4,71.4 421.2,72.0 423.0,75.8 424.9,80.0 426.7,78.0 428.5,82.8 430.4,83.4 432.2,90.1 434.0,92.3 435.8,99.6 437.7,102.2 439.5,102.4 441.3,111.8 443.2,111.2 445.0,114.2 446.8,113.2 448.6,115.6 450.5,117.7 452.3,120.2 454.1,119.5 456.0,122.2 457.8,124.0 459.6,125.9 461.5,126.8 463.3,127.1 465.1,128.5 466.9,128.0 468.8,128.9 470.6,129.1 472.4,131.3 474.3,131.7 476.1,132.0 477.9,132.5 479.7,133.3 481.6,133.0 483.4,133.0 485.2,134.0 490.7,135.9 496.2,135.6 501.7,136.6 507.2,136.4 512.7,136.5 518.1,137.5 523.6,139.1 529.1,139.3 534.6,139.7 540.1,138.7 545.6,140.3 551.1,139.4 556.5,140.7 562.0,140.8 567.5,141.5 573.0,141.4 578.5,141.3 584.0,140.8 589.5,141.3 595.0,140.7 600.4,139.7 605.9,140.3 611.4,141.5 616.9,141.5 622.4,141.5 627.9,141.8M375.5,69.1 377.3,69.7 379.2,75.6 381.0,70.4 382.8,70.4 384.6,67.0 386.5,67.6 388.3,66.8 390.1,65.1 392.0,55.8 393.8,60.6 395.6,62.8 397.4,62.2 399.3,58.0 401.1,56.8 402.9,57.8 404.8,61.4 406.6,64.6 408.4,70.1 410.2,73.1 412.1,78.1 413.9,85.6 415.7,90.9 417.6,89.0 419.4,95.1 421.2,104.1 423.0,108.9 424.9,114.2 426.7,114.9 428.5,119.0 430.4,123.5 432.2,123.7 434.0,125.9 435.8,130.1 437.7,132.5 439.5,132.0 441.3,136.6 443.2,137.6 445.0,133.9 446.8,132.6 448.6,133.5 450.5,135.2 452.3,136.4 454.1,137.1 456.0,137.8 457.8,137.2 459.6,138.1 461.5,137.5 463.3,138.7 465.1,138.7 466.9,138.1 468.8,139.4 470.6,140.1 472.4,140.6 474.3,141.4 476.1,141.1 477.9,141.2 479.7,139.4 481.6,140.3 483.4,141.9 485.2,140.7 490.7,140.4 496.2,141.0 501.7,141.1 507.2,141.1 512.7,141.9 518.1,141.9 523.6,142.0 529.1,141.0 534.6,140.8 540.1,141.6 545.6,143.0 551.1,142.2 556.5,142.6 562.0,142.0 567.5,142.4 573.0,142.6 578.5,142.4 584.0,143.3 589.5,143.7 595.0,142.0 600.4,143.2 605.9,142.6M375.5,79.0 377.3,80.6 379.2,82.5 381.0,83.6 382.8,83.5 384.6,78.9 386.5,75.9 388.3,75.7 390.1,73.2 392.0,75.8 393.8,79.8 395.6,80.7 397.4,79.1 399.3,76.2 401.1,75.1 402.9,80.5 404.8,79.7 406.6,84.8 408.4,85.9 410.2,86.9 412.1,88.1 413.9,96.0 415.7,100.1 417.6,103.7 419.4,110.3 421.2,114.6 423.0,116.7 424.9,125.0 426.7,128.3 428.5,123.0 430.4,125.8 432.2,130.5 434.0,137.0 435.8,138.4 437.7,135.6 439.5,134.2 441.3,134.5 443.2,134.6 445.0,138.0 446.8,134.5 448.6,137.4 450.5,138.0 452.3,139.0 454.1,140.6 456.0,139.9 457.8,140.5 459.6,140.3 461.5,139.9 463.3,140.4 465.1,141.4 466.9,141.6 468.8,141.8 470.6,140.9 472.4,141.0 474.3,140.5 476.1,140.9 477.9,142.0 479.7,141.6 481.6,141.3 483.4,142.0 485.2,141.9 490.7,142.6 496.2,143.6 501.7,143.4 507.2,142.8 512.7,143.3 518.1,144.7 523.6,144.6 529.1,143.3 534.6,143.2 540.1,142.7 545.6,143.6 551.1,143.9 556.5,144.5 562.0,144.6 567.5,143.9 573.0,143.8 578.5,144.1 584.0,143.8 589.5,144.7 595.0,144.6 600.4,145.2 605.9,145.2 611.4,145.2 616.9,145.2 622.4,143.8 627.9,143.0 633.4,142.7 638.8,143.8M375.5,75.6 377.3,77.5 379.2,73.8 381.0,72.8 382.8,74.0 384.6,68.6 386.5,69.1 388.3,68.2 390.1,64.6 392.0,68.3 393.8,69.5 395.6,75.3 397.4,75.4 399.3,74.8 401.1,70.5 402.9,75.7 404.8,81.0 406.6,89.2 408.4,94.6 410.2,102.2 412.1,107.0 413.9,107.0 415.7,108.2 417.6,113.6 419.4,114.7 421.2,117.6 423.0,116.5 424.9,117.0 426.7,120.8 428.5,122.5 430.4,125.7 432.2,125.9 434.0,119.9 435.8,122.8 437.7,122.5 439.5,123.2 441.3,121.5 443.2,125.4 445.0,129.0 446.8,126.4 448.6,127.2 450.5,128.9 452.3,128.8 454.1,129.6 456.0,130.2 457.8,129.4 459.6,130.0 461.5,130.7 463.3,131.5 465.1,131.8 466.9,131.5 468.8,131.8 470.6,132.9 472.4,132.7 474.3,133.1 476.1,133.1 477.9,133.5 479.7,135.1 481.6,135.7 483.4,135.2 485.2,136.3 490.7,136.8 496.2,134.9 501.7,135.1 507.2,136.2 512.7,136.3 518.1,138.2 523.6,137.7 529.1,137.2 534.6,137.6 540.1,138.9 545.6,138.2 551.1,138.9 556.5,139.5 562.0,139.4 567.5,139.8 573.0,138.5 578.5,139.4 584.0,138.4 589.5,139.2 595.0,140.7 600.4,140.8 605.9,140.9 611.4,140.1 616.9,139.8 622.4,139.0 627.9,140.7 633.4,141.5 638.8,140.1M375.5,76.2 377.3,76.9 379.2,73.2 381.0,76.3 382.8,77.3 384.6,74.6 386.5,76.1 388.3,73.7 390.1,75.0 392.0,73.3 393.8,74.7 395.6,78.0 397.4,79.5 399.3,77.2 401.1,73.0 402.9,71.7 404.8,76.8 406.6,73.9 408.4,82.5 410.2,87.2 412.1,86.2 413.9,92.9 415.7,92.5 417.6,95.3 419.4,97.7 421.2,105.0 423.0,106.9 424.9,108.5 426.7,113.4 428.5,114.2 430.4,118.5 432.2,121.2 434.0,124.9 435.8,129.8 437.7,130.0 439.5,129.3 441.3,132.7 443.2,138.1 445.0,139.7 446.8,133.8 448.6,134.4 450.5,135.5 452.3,135.0 454.1,136.0 456.0,137.7 457.8,137.9 459.6,138.4 461.5,138.3 463.3,138.9 465.1,138.7 466.9,138.5 468.8,139.3 470.6,139.5 472.4,139.8 474.3,139.3 476.1,140.2 477.9,139.7 479.7,139.2 481.6,140.0 483.4,140.9 485.2,141.1 490.7,142.4 496.2,142.3 501.7,142.7 507.2,142.4 512.7,142.4 518.1,141.9 523.6,142.0 529.1,141.9 534.6,142.2 540.1,142.1 545.6,143.1 551.1,142.4 556.5,141.7 562.0,141.5 567.5,143.0 573.0,142.7 578.5,143.9 584.0,143.0 589.5,143.2 595.0,143.5 600.4,143.8 605.9,143.7 611.4,143.5 616.9,144.1 622.4,143.7 627.9,143.4 633.4,143.1 638.8,143.3M375.5,72.1 377.3,70.8 379.2,64.7 381.0,62.9 382.8,62.4 384.6,60.9 386.5,53.4 388.3,56.4 390.1,56.6 392.0,54.6 393.8,54.1 395.6,53.5 397.4,50.7 399.3,51.8 401.1,55.4 402.9,59.5 404.8,63.2 406.6,68.4 408.4,70.4 410.2,79.6 412.1,86.2 413.9,91.3 415.7,98.0 417.6,102.5 419.4,101.9 421.2,112.4 423.0,111.7 424.9,116.8 426.7,117.9 428.5,120.5 430.4,124.1 432.2,127.2 434.0,125.3 435.8,132.5 437.7,134.6 439.5,131.9 441.3,127.3 443.2,123.6 445.0,127.2 446.8,130.6 448.6,130.8 450.5,130.7 452.3,130.6 454.1,132.2 456.0,132.3 457.8,132.9 459.6,132.5 461.5,133.5 463.3,134.1 465.1,135.0 466.9,135.9 468.8,135.5 470.6,135.2 472.4,134.9 474.3,135.3 476.1,136.1 477.9,137.0 479.7,137.6 481.6,137.7 483.4,137.2 485.2,137.2 490.7,139.2 496.2,139.0 501.7,139.2 507.2,140.0 512.7,139.9 518.1,139.5 523.6,140.6 529.1,141.4 534.6,141.3 540.1,140.9 545.6,141.2 551.1,140.2 556.5,140.7 562.0,141.9 567.5,141.3 573.0,142.1 578.5,141.6 584.0,141.8 589.5,141.3 595.0,142.5 600.4,142.0 605.9,142.0 611.4,143.0 616.9,142.4 622.4,141.1 627.9,141.8 633.4,142.9 638.8,143.1M375.5,84.3 377.3,78.2 379.2,77.5 381.0,80.0 382.8,81.9 384.6,85.8 386.5,81.6 388.3,78.1 390.1,75.7 392.0,76.5 393.8,72.1 395.6,73.3 397.4,81.6 399.3,82.8 401.1,80.0 402.9,82.5 404.8,82.4 406.6,79.4 408.4,87.4 410.2,85.8 412.1,93.2 413.9,102.3 415.7,104.9 417.6,106.8 419.4,113.8 421.2,113.3 423.0,120.7 424.9,124.4 426.7,124.0 428.5,127.3 430.4,130.8 432.2,132.0 434.0,131.6 435.8,128.8 437.7,128.6 439.5,127.7 441.3,132.3 443.2,139.1 445.0,138.7 446.8,139.5 448.6,139.7 450.5,139.6 452.3,139.5 454.1,139.6 456.0,139.2 457.8,140.4 459.6,139.7 461.5,140.1 463.3,140.0 465.1,139.7 466.9,141.2 468.8,140.2 470.6,141.4 472.4,141.3 474.3,140.7 476.1,140.6 477.9,142.3 479.7,142.0 481.6,141.2 483.4,141.7 485.2,141.9 490.7,142.2 496.2,141.3 501.7,142.3 507.2,143.2 512.7,143.8 518.1,143.7 523.6,143.5 529.1,143.1 534.6,143.2 540.1,144.4 545.6,144.9 551.1,143.7 556.5,143.1 562.0,144.2 567.5,143.3 573.0,145.1 578.5,142.8 584.0,142.9 589.5,144.4 595.0,143.7 600.4,143.8 605.9,144.1 611.4,144.2 616.9,144.2 622.4,144.1 627.9,144.6 633.4,144.7 638.8,144.0M375.5,84.4 377.3,85.1 379.2,83.4 381.0,80.2 382.8,75.0 384.6,72.1 386.5,75.5 388.3,68.3 390.1,68.5 392.0,69.8 393.8,67.6 395.6,67.2 397.4,69.4 399.3,63.0 401.1,64.6 402.9,65.3 404.8,64.5 406.6,62.3 408.4,65.2 410.2,71.2 412.1,73.8 413.9,75.5 415.7,80.3 417.6,84.5 419.4,92.2 421.2,97.3 423.0,105.3 424.9,108.8 426.7,113.1 428.5,112.8 430.4,109.9 432.2,119.0 434.0,122.3 435.8,123.3 437.7,121.9 439.5,118.6 441.3,122.3 443.2,124.7 445.0,121.3 446.8,122.1 448.6,123.2 450.5,123.8 452.3,125.5 454.1,126.0 456.0,127.1 457.8,128.0 459.6,128.2 461.5,128.1 463.3,129.4 465.1,129.9 466.9,129.4 468.8,129.7 470.6,129.6 472.4,130.4 474.3,131.3 476.1,130.8 477.9,130.7 479.7,133.1 481.6,131.9 483.4,132.5 485.2,132.0 490.7,131.7 496.2,133.0 501.7,134.4 507.2,134.5 512.7,134.9 518.1,135.0 523.6,136.5 529.1,136.3 534.6,136.0 540.1,136.2 545.6,136.4 551.1,136.3 556.5,137.8 562.0,137.3 567.5,137.9 573.0,139.1 578.5,139.4 584.0,139.2 589.5,139.2 595.0,138.6 600.4,139.2 605.9,140.1 611.4,138.8 616.9,139.9 622.4,140.9 627.9,140.3 633.4,140.9 638.8,141.6M375.5,68.9 377.3,70.7 379.2,67.4 381.0,71.7 382.8,63.8 384.6,62.9 386.5,61.9 388.3,65.0 390.1,64.5 392.0,64.5 393.8,61.0 395.6,63.2 397.4,62.3 399.3,62.6 401.1,70.9 402.9,72.0 404.8,70.0 406.6,74.6 408.4,76.6 410.2,80.9 412.1,87.7 413.9,84.4 415.7,90.5 417.6,93.9 419.4,100.6 421.2,101.6 423.0,104.1 424.9,106.7 426.7,110.2 428.5,114.2 430.4,115.0 432.2,118.5 434.0,121.8 435.8,122.7 437.7,128.2 439.5,136.0 441.3,131.4 443.2,131.1 445.0,133.5 446.8,133.9 448.6,134.5 450.5,135.0 452.3,135.0 454.1,135.3 456.0,135.0 457.8,135.7 459.6,135.7 461.5,135.9 463.3,137.0 465.1,138.5 466.9,138.7 468.8,138.7 470.6,139.0 472.4,137.5 474.3,138.7 476.1,138.6 477.9,139.5 479.7,139.0 481.6,140.2 483.4,139.4 485.2,139.6 490.7,140.4 496.2,141.4 501.7,140.0 507.2,141.0 512.7,140.2 518.1,142.4 523.6,142.8 529.1,141.1 534.6,140.3 540.1,141.1 545.6,140.9 551.1,141.1 556.5,141.9 562.0,142.0 567.5,142.9 573.0,143.6 578.5,143.0 584.0,142.3 589.5,142.3 595.0,143.3 600.4,142.5 605.9,142.6 611.4,142.3 616.9,142.8 622.4,143.1 627.9,142.3 633.4,141.8 638.8,143.2M375.5,75.0 377.3,70.7 379.2,67.4 381.0,68.4 382.8,66.2 384.6,63.3 386.5,58.2 388.3,61.0 390.1,58.7 392.0,58.3 393.8,60.6 395.6,59.9 397.4,66.5 399.3,70.5 401.1,73.0 402.9,78.8 404.8,82.6 406.6,89.6 408.4,92.3 410.2,99.1 412.1,109.8 413.9,109.5 415.7,114.5 417.6,119.9 419.4,121.7 421.2,123.7 423.0,122.1 424.9,124.5 426.7,127.0 428.5,128.4 430.4,131.7 432.2,133.2 434.0,133.9 435.8,134.2 437.7,137.1 439.5,136.7 441.3,133.1 443.2,133.0 445.0,134.3 446.8,134.3 448.6,135.6 450.5,137.1 452.3,136.7 454.1,135.6 456.0,136.3 457.8,136.7 459.6,135.8 461.5,138.0 463.3,138.0 465.1,138.7 466.9,139.1 468.8,140.3 470.6,139.9 472.4,139.4 474.3,140.5 476.1,140.2 477.9,140.3 479.7,140.8 481.6,139.9 483.4,138.9 485.2,139.3 490.7,139.3 496.2,139.5 501.7,140.4 507.2,140.4 512.7,140.0 518.1,141.0 523.6,141.4 529.1,142.5 534.6,143.5 540.1,143.3 545.6,142.1 551.1,141.9 556.5,142.0 562.0,141.4 567.5,143.2 573.0,142.0 578.5,142.3 584.0,142.0 589.5,141.5 595.0,142.8 600.4,143.5 605.9,143.0 611.4,143.1 616.9,143.5 622.4,143.4 627.9,143.8 633.4,143.5 638.8,143.6M375.5,126.3 377.3,126.2 379.2,118.7 381.0,112.5 382.8,111.8 384.6,111.3 386.5,111.1 388.3,104.7 390.1,103.6 392.0,99.7 393.8,104.9 395.6,102.6 397.4,98.8 399.3,97.8 401.1,107.1 402.9,104.9 404.8,106.7 406.6,110.0 408.4,115.1 410.2,119.8 412.1,122.1 413.9,123.2 415.7,133.5 417.6,131.7 419.4,128.5 421.2,130.1 423.0,127.7 424.9,132.2 426.7,127.4 428.5,127.7 430.4,131.4 432.2,125.7 434.0,126.2 435.8,126.2 437.7,133.3 439.5,134.3 441.3,133.5 443.2,131.7 445.0,133.3 446.8,137.6 448.6,135.8 450.5,135.9 452.3,135.7 454.1,136.2 456.0,136.4 457.8,137.4 459.6,136.6 461.5,137.1 463.3,138.3 465.1,137.5 466.9,137.4 468.8,136.8 470.6,136.6 472.4,137.9 474.3,138.0 476.1,138.0 477.9,138.0 479.7,138.8 481.6,138.5 483.4,137.8 485.2,137.3 490.7,137.3 496.2,137.8 501.7,140.4 507.2,140.4 512.7,140.6 518.1,142.5 523.6,140.5 529.1,140.1 534.6,140.6 540.1,140.7 545.6,140.7 551.1,141.3 556.5,140.6 562.0,140.0 567.5,140.5 573.0,141.7 578.5,141.8 584.0,141.4 589.5,141.4 595.0,142.4 600.4,141.8 605.9,141.8 611.4,141.9 616.9,142.6 622.4,142.8 627.9,144.1 633.4,143.6 638.8,143.6M375.5,86.7 377.3,86.3 379.2,82.3 381.0,73.6 382.8,70.8 384.6,61.9 386.5,61.5 388.3,62.7 390.1,63.9 392.0,65.9 393.8,67.7 395.6,68.7 397.4,74.1 399.3,74.0 401.1,75.6 402.9,79.5 404.8,79.0 406.6,82.3 408.4,83.9 410.2,90.9 412.1,97.8 413.9,103.3 415.7,109.2 417.6,114.8 419.4,110.0 421.2,114.3 423.0,116.3 424.9,120.5 426.7,121.8 428.5,119.0 430.4,126.7 432.2,129.5 434.0,128.9 435.8,132.0 437.7,129.4 439.5,127.0 441.3,127.1 443.2,127.9 445.0,130.9 446.8,129.9 448.6,132.7 450.5,134.7 452.3,135.2 454.1,135.5 456.0,134.9 457.8,136.2 459.6,135.6 461.5,136.8 463.3,137.9 465.1,138.8 466.9,138.4 468.8,139.3 470.6,138.7 472.4,138.6 474.3,138.9 476.1,140.1 477.9,139.9 479.7,139.2 481.6,140.5 483.4,139.5 485.2,139.6 490.7,140.3 496.2,140.2 501.7,139.9 507.2,140.3 512.7,141.1 518.1,140.6 523.6,141.3 529.1,141.1 534.6,140.7 540.1,140.3 545.6,139.9 551.1,140.2 556.5,140.9 562.0,141.6 567.5,141.7 573.0,141.6 578.5,139.9 584.0,140.7M375.5,101.4 377.3,95.3 379.2,96.6 381.0,97.8 382.8,90.8 384.6,88.1 386.5,82.6 388.3,87.2 390.1,85.8 392.0,81.3 393.8,74.1 395.6,78.5 397.4,83.0 399.3,82.8 401.1,80.4 402.9,80.6 404.8,90.0 406.6,96.7 408.4,105.9 410.2,111.5 412.1,117.8 413.9,119.2 415.7,120.5 417.6,118.3 419.4,125.4 421.2,127.2 423.0,129.8 424.9,131.7 426.7,128.8 428.5,130.9 430.4,130.1 432.2,133.0 434.0,133.3 435.8,134.6 437.7,137.1 439.5,140.0 441.3,140.8 443.2,140.3 445.0,141.2 446.8,141.7 448.6,141.7 450.5,140.6 452.3,140.9 454.1,141.0 456.0,141.2 457.8,140.3 459.6,141.2 461.5,140.4 463.3,141.5 465.1,140.6 466.9,140.8 468.8,141.6 470.6,141.5 472.4,141.0 474.3,142.2 476.1,142.3 477.9,142.0 479.7,142.3 481.6,142.5 483.4,142.4 485.2,142.2 490.7,141.9 496.2,141.4 501.7,142.4 507.2,140.8 512.7,142.2 518.1,141.6 523.6,142.5 529.1,143.9 534.6,144.0 540.1,144.0 545.6,143.1 551.1,144.7 556.5,144.6 562.0,144.3 567.5,143.6 573.0,143.5 578.5,143.1 584.0,143.7 589.5,143.9M375.5,49.5 377.3,51.1 379.2,53.4 381.0,55.1 382.8,51.4 384.6,54.0 386.5,53.1 388.3,52.4 390.1,50.3 392.0,45.7 393.8,45.9 395.6,47.4 397.4,45.2 399.3,45.7 401.1,43.4 402.9,41.4 404.8,47.7 406.6,45.3 408.4,41.0 410.2,48.8 412.1,49.2 413.9,48.9 415.7,51.2 417.6,56.1 419.4,56.4 421.2,61.3 423.0,65.9 424.9,70.0 426.7,72.8 428.5,77.7 430.4,84.0 432.2,83.7 434.0,86.9 435.8,91.9 437.7,93.7 439.5,95.4 441.3,99.0 443.2,106.4 445.0,108.0 446.8,113.0 448.6,111.9 450.5,111.5 452.3,112.4 454.1,114.3 456.0,116.6 457.8,118.2 459.6,118.7 461.5,120.0 463.3,121.5 465.1,121.4 466.9,122.0 468.8,121.9 470.6,123.4 472.4,124.3 474.3,124.5 476.1,125.1 477.9,125.6 479.7,127.5 481.6,127.2 483.4,128.6 485.2,128.6 490.7,131.3 496.2,132.7 501.7,133.5 507.2,133.5 512.7,133.8 518.1,134.4 523.6,135.1 529.1,136.2 534.6,136.1 540.1,137.9 545.6,138.2 551.1,138.3 556.5,136.9 562.0,137.5 567.5,138.6 573.0,139.3 578.5,139.6 584.0,139.2 589.5,139.3 595.0,139.6 600.4,139.8 605.9,138.9 611.4,139.5 616.9,139.2M375.5,81.8 377.3,85.9 379.2,80.4 381.0,78.6 382.8,79.8 384.6,78.6 386.5,80.7 388.3,79.4 390.1,79.6 392.0,78.8 393.8,85.3 395.6,83.4 397.4,83.7 399.3,84.5 401.1,87.9 402.9,95.8 404.8,101.7 406.6,98.3 408.4,101.6 410.2,115.4 412.1,116.8 413.9,115.0 415.7,122.8 417.6,122.1 419.4,126.5 421.2,129.0 423.0,134.0 424.9,132.6 426.7,132.9 428.5,132.0 430.4,131.7 432.2,131.0 434.0,127.0 435.8,127.1 437.7,135.6 439.5,137.5 441.3,140.2 443.2,137.7 445.0,136.7 446.8,132.0 448.6,135.6 450.5,136.6 452.3,137.7 454.1,139.7 456.0,138.7 457.8,139.2 459.6,140.5 461.5,139.6 463.3,140.2 465.1,139.9 466.9,140.7 468.8,140.5 470.6,140.6 472.4,139.5 474.3,140.8 476.1,140.1 477.9,140.6 479.7,140.5 481.6,140.6 483.4,142.0 485.2,141.9 490.7,142.6 496.2,141.8 501.7,141.2 507.2,141.0 512.7,142.6 518.1,143.3 523.6,143.3 529.1,142.8 534.6,142.5 540.1,142.5 545.6,142.7 551.1,142.8 556.5,142.1 562.0,142.9 567.5,143.9 573.0,142.5 578.5,144.0 584.0,143.7 589.5,143.0 595.0,142.7 600.4,142.6 605.9,141.6 611.4,141.5 616.9,143.2 622.4,143.7 627.9,142.3 633.4,142.4 638.8,143.0M375.5,87.1 377.3,79.0 379.2,72.7 381.0,63.1 382.8,52.7 384.6,44.4 386.5,43.4 388.3,42.1 390.1,40.6 392.0,41.7 393.8,39.1 395.6,35.1 397.4,43.8 399.3,47.7 401.1,51.1 402.9,51.9 404.8,55.4 406.6,63.2 408.4,69.3 410.2,76.8 412.1,84.6 413.9,91.4 415.7,96.0 417.6,98.4 419.4,107.0 421.2,108.6 423.0,116.0 424.9,114.1 426.7,114.4 428.5,114.6 430.4,124.1 432.2,122.9 434.0,126.1 435.8,125.6 437.7,124.3 439.5,129.2 441.3,130.5 443.2,134.0 445.0,134.4 446.8,139.4 448.6,136.3 450.5,136.6 452.3,135.6 454.1,134.6 456.0,134.0 457.8,135.7 459.6,135.1 461.5,136.0 463.3,137.6 465.1,136.2 466.9,136.4 468.8,136.4 470.6,136.7 472.4,136.7 474.3,137.9 476.1,137.6 477.9,138.0 479.7,138.0 481.6,138.6 483.4,137.9 485.2,137.5 490.7,138.1 496.2,138.0 501.7,139.4 507.2,138.5 512.7,139.9 518.1,140.3 523.6,140.4 529.1,139.7 534.6,140.0 540.1,140.2 545.6,141.2 551.1,140.5 556.5,140.1 562.0,141.6 567.5,141.8 573.0,141.3 578.5,141.0 584.0,142.5 589.5,142.8 595.0,142.3 600.4,142.4 605.9,142.1 611.4,142.8 616.9,143.2 622.4,142.6 627.9,142.3 633.4,143.2 638.8,142.3M375.5,94.7 377.3,87.2 379.2,77.5 381.0,69.9 382.8,59.6 384.6,54.1 386.5,51.2 388.3,56.4 390.1,56.7 392.0,55.8 393.8,62.8 395.6,68.5 397.4,68.3 399.3,61.2 401.1,70.4 402.9,76.4 404.8,79.8 406.6,81.8 408.4,87.7 410.2,95.7 412.1,101.6 413.9,104.6 415.7,109.0 417.6,111.9 419.4,118.0 421.2,119.0 423.0,122.5 424.9,125.9 426.7,127.3 428.5,126.1 430.4,127.6 432.2,128.5 434.0,129.9 435.8,131.1 437.7,132.7 439.5,134.2 441.3,139.9 443.2,136.9 445.0,137.9 446.8,138.4 448.6,138.1 450.5,137.1 452.3,137.4 454.1,137.4 456.0,137.7 457.8,137.8 459.6,138.1 461.5,137.9 463.3,137.8 465.1,138.0 466.9,138.5 468.8,138.4 470.6,139.5 472.4,140.6 474.3,140.5 476.1,141.6 477.9,141.4 479.7,140.8 481.6,139.7 483.4,139.9 485.2,140.7 490.7,140.5 496.2,140.6 501.7,140.8 507.2,140.7 512.7,141.8 518.1,141.2 523.6,142.7 529.1,142.4 534.6,141.8 540.1,141.7 545.6,142.4 551.1,143.7 556.5,144.1 562.0,144.0 567.5,143.2 573.0,141.7 578.5,142.7 584.0,141.9 589.5,142.9 595.0,142.9 600.4,142.8 605.9,141.5 611.4,142.1 616.9,144.0 622.4,144.0 627.9,143.2 633.4,143.4 638.8,142.8M375.5,64.1 377.3,60.8 379.2,58.6 381.0,61.6 382.8,60.3 384.6,61.7 386.5,66.6 388.3,63.6 390.1,65.8 392.0,65.5 393.8,63.3 395.6,66.8 397.4,69.7 399.3,74.8 401.1,78.1 402.9,78.5 404.8,80.8 406.6,91.3 408.4,92.0 410.2,98.2 412.1,105.5 413.9,112.0 415.7,113.5 417.6,118.9 419.4,122.2 421.2,122.8 423.0,123.4 424.9,129.9 426.7,128.5 428.5,129.2 430.4,128.0 432.2,127.4 434.0,129.9 435.8,134.2 437.7,131.4 439.5,131.4 441.3,135.3 443.2,137.3 445.0,137.1 446.8,134.6 448.6,135.8 450.5,135.5 452.3,137.3 454.1,136.9 456.0,138.0 457.8,138.4 459.6,138.8 461.5,137.9 463.3,137.6 465.1,139.6 466.9,139.2 468.8,138.9 470.6,138.9 472.4,139.1 474.3,140.2 476.1,139.4 477.9,139.0 479.7,140.0 481.6,139.8 483.4,139.5 485.2,139.7 490.7,139.9 496.2,141.2 501.7,141.6 507.2,141.3 512.7,140.9 518.1,140.6 523.6,141.8 529.1,142.4 534.6,142.6 540.1,142.8 545.6,141.5 551.1,141.0 556.5,141.7 562.0,141.3 567.5,142.3 573.0,142.4 578.5,142.6 584.0,142.7 589.5,143.3 595.0,144.0 600.4,143.1M375.5,66.5 377.3,67.9 379.2,64.5 381.0,65.8 382.8,65.2 384.6,69.0 386.5,62.2 388.3,64.1 390.1,62.1 392.0,56.6 393.8,63.1 395.6,63.0 397.4,65.2 399.3,63.6 401.1,64.0 402.9,61.7 404.8,61.0 406.6,61.5 408.4,60.7 410.2,61.1 412.1,65.9 413.9,65.5 415.7,71.2 417.6,75.6 419.4,76.4 421.2,77.7 423.0,82.5 424.9,81.9 426.7,92.3 428.5,95.6 430.4,100.5 432.2,108.7 434.0,107.7 435.8,108.9 437.7,110.2 439.5,112.3 441.3,113.7 443.2,116.4 445.0,121.5 446.8,119.7 448.6,120.2 450.5,121.2 452.3,122.9 454.1,123.0 456.0,123.4 457.8,122.7 459.6,124.0 461.5,124.3 463.3,125.0 465.1,126.0 466.9,126.9 468.8,127.6 470.6,127.8 472.4,127.5 474.3,127.7 476.1,129.7 477.9,129.9 479.7,129.2 481.6,129.7 483.4,129.3 485.2,129.7 490.7,130.6 496.2,131.1 501.7,131.2 507.2,132.7 512.7,133.9 518.1,135.1 523.6,134.9 529.1,134.3 534.6,134.9 540.1,135.7 545.6,135.9 551.1,137.0 556.5,136.9 562.0,136.4 567.5,137.0 573.0,137.9 578.5,138.0 584.0,137.7 589.5,138.1 595.0,138.0 600.4,138.6 605.9,139.2 611.4,140.0 616.9,139.8 622.4,139.6 627.9,139.3 633.4,139.3M375.5,66.7 377.3,67.8 379.2,66.0 381.0,64.8 382.8,66.6 384.6,63.5 386.5,67.0 388.3,70.3 390.1,69.8 392.0,65.0 393.8,66.1 395.6,63.1 397.4,63.0 399.3,63.4 401.1,64.7 402.9,62.6 404.8,66.4 406.6,74.6 408.4,78.9 410.2,80.7 412.1,84.5 413.9,87.8 415.7,90.7 417.6,98.7 419.4,107.7 421.2,109.4 423.0,116.3 424.9,119.0 426.7,123.3 428.5,122.9 430.4,121.0 432.2,128.6 434.0,129.7 435.8,127.5 437.7,128.4 439.5,124.4 441.3,127.1 443.2,128.6 445.0,128.7 446.8,131.6 448.6,133.7 450.5,134.8 452.3,135.2 454.1,135.4 456.0,137.0 457.8,137.2 459.6,136.9 461.5,137.3 463.3,138.0 465.1,138.0 466.9,138.8 468.8,139.2 470.6,140.3 472.4,140.0 474.3,138.9 476.1,139.1 477.9,140.3 479.7,141.1 481.6,141.0 483.4,141.7 485.2,141.1 490.7,141.3 496.2,140.6 501.7,141.9 507.2,143.1 512.7,142.1 518.1,140.5 523.6,140.6 529.1,141.8 534.6,141.2 540.1,141.6 545.6,142.3 551.1,142.5 556.5,142.5 562.0,140.9 567.5,141.4 573.0,142.0 578.5,141.7 584.0,141.2M375.5,78.4 377.3,76.4 379.2,71.1 381.0,64.9 382.8,58.0 384.6,58.0 386.5,55.0 388.3,45.8 390.1,48.7 392.0,44.7 393.8,44.6 395.6,44.5 397.4,37.3 399.3,41.2 401.1,42.2 402.9,36.9 404.8,41.3 406.6,40.4 408.4,43.5 410.2,45.7 412.1,54.0 413.9,50.2 415.7,60.7 417.6,69.6 419.4,73.5 421.2,79.9 423.0,86.4 424.9,96.4 426.7,96.8 428.5,101.7 430.4,99.1 432.2,100.1 434.0,105.2 435.8,109.9 437.7,116.8 439.5,120.7 441.3,120.2 443.2,124.2 445.0,126.9 446.8,128.7 448.6,128.4 450.5,128.7 452.3,129.5 454.1,130.5 456.0,131.9 457.8,132.2 459.6,132.6 461.5,133.4 463.3,133.6 465.1,133.3 466.9,134.5 468.8,135.7 470.6,135.7 472.4,135.6 474.3,136.4 476.1,136.0 477.9,136.3 479.7,137.3 481.6,138.0 483.4,137.0 485.2,137.4 490.7,137.8 496.2,136.9 501.7,138.3 507.2,139.2 512.7,139.0 518.1,140.0 523.6,140.0 529.1,139.9 534.6,141.6 540.1,141.3 545.6,141.8 551.1,140.6 556.5,142.2 562.0,141.4 567.5,140.5 573.0,140.1 578.5,139.2 584.0,140.3 589.5,141.8 595.0,142.0 600.4,142.6 605.9,141.7 611.4,141.7 616.9,141.4 622.4,141.6 627.9,141.5 633.4,142.7 638.8,142.7M375.5,53.8 377.3,51.7 379.2,58.2 381.0,56.2 382.8,56.2 384.6,53.4 386.5,49.0 388.3,48.9 390.1,50.0 392.0,48.8 393.8,52.6 395.6,51.1 397.4,54.3 399.3,50.7 401.1,54.1 402.9,57.8 404.8,57.4 406.6,60.5 408.4,66.9 410.2,71.8 412.1,74.6 413.9,76.2 415.7,82.0 417.6,89.2 419.4,95.0 421.2,98.9 423.0,104.6 424.9,109.1 426.7,106.9 428.5,111.8 430.4,112.8 432.2,123.3 434.0,119.0 435.8,122.9 437.7,126.4 439.5,126.8 441.3,128.2 443.2,131.0 445.0,130.8 446.8,129.5 448.6,131.2 450.5,132.4 452.3,132.6 454.1,133.6 456.0,133.4 457.8,132.9 459.6,132.8 461.5,132.9 463.3,133.3 465.1,135.0 466.9,135.7 468.8,135.4 470.6,136.2 472.4,137.4 474.3,137.9 476.1,138.5 477.9,137.2 479.7,138.3 481.6,138.7 483.4,139.3 485.2,138.3 490.7,139.5 496.2,139.7 501.7,140.3 507.2,139.5 512.7,139.4 518.1,139.6 523.6,138.4 529.1,139.4 534.6,138.9 540.1,140.2 545.6,140.3 551.1,141.4 556.5,141.7 562.0,140.7 567.5,141.2 573.0,141.1 578.5,141.1 584.0,141.0 589.5,141.0 595.0,142.2 600.4,142.3 605.9,142.7 611.4,143.2 616.9,142.4 622.4,143.4 627.9,143.1 633.4,141.6 638.8,141.7M375.5,71.2 377.3,65.1 379.2,64.7 381.0,67.2 382.8,65.3 384.6,62.1 386.5,58.6 388.3,57.8 390.1,59.9 392.0,59.3 393.8,59.4 395.6,58.4 397.4,58.8 399.3,54.1 401.1,53.5 402.9,53.1 404.8,52.7 406.6,52.9 408.4,57.8 410.2,57.6 412.1,59.1 413.9,70.6 415.7,77.3 417.6,78.8 419.4,79.7 421.2,86.6 423.0,96.2 424.9,103.6 426.7,107.7 428.5,111.9 430.4,119.5 432.2,115.7 434.0,119.3 435.8,125.0 437.7,126.8 439.5,128.0 441.3,131.2 443.2,131.6 445.0,126.6 446.8,127.0 448.6,131.5 450.5,134.5 452.3,135.0 454.1,135.6 456.0,134.9 457.8,134.8 459.6,134.9 461.5,136.4 463.3,137.3 465.1,137.9 466.9,137.8 468.8,137.7 470.6,137.8 472.4,137.7 474.3,138.0 476.1,138.3 477.9,138.6 479.7,141.0 481.6,140.5 483.4,141.1 485.2,140.0 490.7,138.7 496.2,140.5 501.7,139.7 507.2,140.2 512.7,140.1 518.1,141.1 523.6,141.3 529.1,141.5 534.6,140.5 540.1,140.7 545.6,143.2 551.1,143.0 556.5,143.1 562.0,143.6 567.5,142.8 573.0,143.9 578.5,144.1 584.0,144.9 589.5,144.6 595.0,144.4 600.4,143.6 605.9,142.7 611.4,142.7 616.9,143.0 622.4,143.1 627.9,143.4 633.4,143.2 638.8,143.4M375.5,105.2 377.3,107.0 379.2,104.5 381.0,97.2 382.8,89.6 384.6,82.4 386.5,84.8 388.3,86.0 390.1,87.4 392.0,87.0 393.8,90.5 395.6,91.9 397.4,95.5 399.3,100.1 401.1,102.5 402.9,107.4 404.8,110.6 406.6,114.8 408.4,116.0 410.2,121.0 412.1,125.8 413.9,129.8 415.7,128.8 417.6,131.0 419.4,128.8 421.2,130.7 423.0,133.9 424.9,136.6 426.7,139.0 428.5,140.5 430.4,142.0 432.2,140.4 434.0,139.2 435.8,141.0 437.7,137.8 439.5,142.7 441.3,145.2 443.2,145.0 445.0,145.2 446.8,145.2 448.6,142.4 450.5,140.7 452.3,140.0 454.1,141.4 456.0,141.4 457.8,141.8 459.6,142.5 461.5,141.8 463.3,141.8 465.1,141.0 466.9,141.1 468.8,141.5 470.6,141.3 472.4,140.9 474.3,141.6 476.1,142.1 477.9,141.6 479.7,141.9 481.6,141.7 483.4,140.9 485.2,140.4 490.7,141.7 496.2,142.9 501.7,141.5 507.2,141.1 512.7,141.9 518.1,142.8 523.6,142.5 529.1,143.6 534.6,142.8 540.1,143.3 545.6,143.5 551.1,143.5 556.5,144.1 562.0,144.1 567.5,143.6 573.0,144.0 578.5,143.5 584.0,144.1 589.5,143.6 595.0,144.8 600.4,143.6 605.9,144.2 611.4,144.4 616.9,143.9 622.4,144.0 627.9,143.7 633.4,144.1 638.8,143.5M375.5,83.8 377.3,79.5 379.2,73.8 381.0,68.0 382.8,62.1 384.6,55.9 386.5,53.4 388.3,53.2 390.1,46.0 392.0,43.4 393.8,42.5 395.6,41.5 397.4,44.4 399.3,43.9 401.1,45.3 402.9,49.2 404.8,59.3 406.6,62.2 408.4,61.7 410.2,68.2 412.1,72.1 413.9,78.4 415.7,82.1 417.6,89.2 419.4,90.0 421.2,95.1 423.0,100.8 424.9,105.7 426.7,109.9 428.5,109.2 430.4,114.4 432.2,118.4 434.0,120.7 435.8,119.6 437.7,116.5 439.5,119.7 441.3,122.4 443.2,123.6 445.0,126.6 446.8,123.8 448.6,125.3 450.5,125.7 452.3,126.6 454.1,127.8 456.0,129.4 457.8,129.6 459.6,129.7 461.5,130.5 463.3,131.3 465.1,131.8 466.9,132.4 468.8,132.9 470.6,132.8 472.4,132.4 474.3,132.6 476.1,133.7 477.9,132.4 479.7,132.4 481.6,134.0 483.4,135.2 485.2,135.1 490.7,135.8 496.2,135.3 501.7,136.6 507.2,137.0 512.7,138.4 518.1,137.6 523.6,136.7 529.1,137.5 534.6,137.7 540.1,138.7 545.6,138.4 551.1,138.7 556.5,140.2 562.0,140.0 567.5,140.1 573.0,141.7 578.5,140.9 584.0,141.3 589.5,140.3 595.0,140.3 600.4,141.3 605.9,140.0 611.4,140.0 616.9,141.1 622.4,141.2 627.9,142.5 633.4,142.8 638.8,142.4" fill="none" stroke="#888" stroke-width="0.6"/>
<path d="M378.24,81.57C378.70,79.93 379.92,74.82 380.99,71.72C382.05,68.62 383.06,65.28 384.64,62.95C386.23,60.63 388.67,58.19 390.50,57.78C392.32,57.36 393.36,58.01 395.62,60.45C397.87,62.88 401.36,67.46 404.03,72.39C406.69,77.31 409.53,84.87 411.60,90.01C413.67,95.14 414.56,98.80 416.46,103.20C418.37,107.60 420.30,112.41 423.05,116.39C425.79,120.37 429.08,124.28 432.92,127.08C436.76,129.88 441.15,131.52 446.09,133.18C451.03,134.83 457.03,136.04 462.55,137.02C468.07,137.99 472.77,138.49 479.23,139.02C485.69,139.55 494.22,139.86 501.32,140.19C508.41,140.52 512.29,140.69 521.80,141.02C531.31,141.36 546.18,141.86 558.38,142.19C570.57,142.53 582.76,142.78 594.95,143.03C607.14,143.28 623.66,143.53 631.53,143.70C639.39,143.86 640.36,143.98 642.13,144.03" fill="none" stroke="#000" stroke-width="3.1" stroke-linecap="round"/>
<rect x="375.5" y="11.6" width="292.6" height="133.6" fill="none" stroke="#666" stroke-width="0.8"/>
<path d="M412.1,145.2v-2M412.1,11.6v2M448.6,145.2v-2M448.6,11.6v2M485.2,145.2v-2M485.2,11.6v2M521.8,145.2v-2M521.8,11.6v2M558.4,145.2v-2M558.4,11.6v2M595.0,145.2v-2M595.0,11.6v2M631.5,145.2v-2M631.5,11.6v2M375.5,128.5h2M668.1,128.5h-2M375.5,111.8h2M668.1,111.8h-2M375.5,95.1h2M668.1,95.1h-2M375.5,78.4h2M668.1,78.4h-2M375.5,61.7h2M668.1,61.7h-2M375.5,45.0h2M668.1,45.0h-2M375.5,28.3h2M668.1,28.3h-2" stroke="#666" stroke-width="0.8"/>
<text x="375.5" y="157.1" font-size="9.3" text-anchor="middle" fill="#111">0</text>
<text x="412.1" y="157.1" font-size="9.3" text-anchor="middle" fill="#111">100</text>
<text x="448.6" y="157.1" font-size="9.3" text-anchor="middle" fill="#111">200</text>
<text x="485.2" y="157.1" font-size="9.3" text-anchor="middle" fill="#111">300</text>
<text x="521.8" y="157.1" font-size="9.3" text-anchor="middle" fill="#111">400</text>
<text x="558.4" y="157.1" font-size="9.3" text-anchor="middle" fill="#111">500</text>
<text x="595.0" y="157.1" font-size="9.3" text-anchor="middle" fill="#111">600</text>
<text x="631.5" y="157.1" font-size="9.3" text-anchor="middle" fill="#111">700</text>
<text x="668.1" y="157.1" font-size="9.3" text-anchor="middle" fill="#111">800</text>
<text x="370.2" y="131.8" font-size="9.3" text-anchor="end" fill="#222">200</text>
<text x="370.2" y="115.1" font-size="9.3" text-anchor="end" fill="#222">400</text>
<text x="370.2" y="98.4" font-size="9.3" text-anchor="end" fill="#222">600</text>
<text x="370.2" y="81.7" font-size="9.3" text-anchor="end" fill="#222">800</text>
<text x="370.2" y="65.0" font-size="9.3" text-anchor="end" fill="#222">1000</text>
<text x="370.2" y="48.3" font-size="9.3" text-anchor="end" fill="#222">1200</text>
<text x="370.2" y="31.6" font-size="9.3" text-anchor="end" fill="#222">1400</text>
<text x="370.2" y="14.9" font-size="9.3" text-anchor="end" fill="#222">1600</text>
<text x="522.1" y="173.7" font-size="9.7" text-anchor="middle" fill="#222">Time (min)</text>
<text transform="translate(339.2,75.4) rotate(-90)" font-size="9.6" text-anchor="middle" fill="#222">Transmitted light (a.u.)</text>
</g>
<g id="pc">
<defs><clipPath id="cl1"><rect x="1.7" y="133.8" width="111.1" height="87.8" rx="4.5"/></clipPath><clipPath id="cl2"><rect x="1.6" y="248.0" width="111.2" height="89.0" rx="4.5"/></clipPath><linearGradient id="g1" x1="0" y1="0" x2="0" y2="1"><stop offset="0" stop-color="#34502f"/><stop offset="0.75" stop-color="#385434"/><stop offset="1" stop-color="#a8b4a6"/></linearGradient></defs>
<g clip-path="url(#cl1)">
<rect x="0" y="130" width="116" height="96" fill="url(#g1)"/>
<path d="M54.0,183.1L51.0,183.9M12.6,136.8L10.8,138.2M15.1,171.8L17.0,175.1M59.1,199.4L61.2,203.2M77.9,156.3L79.5,159.5M5.4,151.8L2.9,153.9M65.0,207.4L64.6,209.6M35.5,143.7L35.1,146.2M28.4,176.2L28.4,179.6M19.2,149.2L17.8,152.4M112.4,140.7L112.3,144.5M29.9,183.7L30.9,187.5M14.5,158.1L17.3,159.3M34.7,159.2L36.0,163.3M101.4,195.3L105.0,196.3M23.1,187.6L24.8,189.8M72.5,145.1L69.4,148.0M28.9,184.2L26.9,185.4M105.6,140.4L103.9,141.7M96.6,180.1L97.0,182.3M2.1,151.2L0.3,151.4M54.2,207.6L54.2,210.4M76.4,146.1L78.6,146.6M46.8,136.0L49.2,137.9M14.0,144.0L10.2,145.3M44.2,157.7L43.2,160.4M5.3,164.8L2.2,165.3M108.8,144.1L110.1,147.9M99.4,186.2L98.9,189.9M14.4,169.1L18.2,170.9M36.1,161.1L33.5,164.6M66.0,133.2L67.1,134.9M73.5,131.2L73.6,133.3M76.2,193.8L74.8,196.3M55.6,174.8L58.1,178.0M8.2,140.1L7.1,141.7M15.2,170.2L13.1,173.4M56.0,187.7L51.9,189.5M73.3,138.9L71.0,141.5M85.3,183.9L87.9,186.6M19.4,133.1L17.0,135.5M110.6,155.7L109.9,158.8M-0.5,170.1L3.2,171.1M48.1,135.5L51.2,136.1M61.5,169.2L60.0,171.5M19.3,171.8L20.2,175.8M-1.9,204.6L2.2,205.4M25.9,149.0L26.0,151.6M79.0,204.3L79.2,208.5M30.4,134.9L29.8,137.7M60.4,185.9L59.8,189.5M83.4,197.0L87.0,199.4M14.7,181.7L16.9,184.8M115.7,207.0L113.0,209.4M76.8,160.1L74.3,161.6M88.2,172.5L86.9,174.4M87.5,190.8L84.2,192.7M70.4,186.6L70.2,188.6M4.4,175.4L2.9,176.5M36.0,159.6L32.2,160.8M38.2,160.7L37.6,162.4M102.2,148.6L102.9,151.1M98.9,160.2L99.0,164.3M53.6,135.2L52.3,136.7M7.8,173.7L8.5,176.7M60.7,208.3L64.2,209.8M46.3,132.5L49.5,132.5M45.4,196.9L44.4,198.7M39.1,166.4L36.0,169.4M61.9,132.4L62.5,134.1M77.8,139.8L78.2,142.6M90.4,142.2L91.2,145.8M96.3,209.0L99.4,211.0M84.7,213.8L80.3,214.1M21.8,165.1L18.9,165.3M74.0,151.7L72.5,152.6M80.7,163.9L77.5,164.8M107.0,150.0L108.3,151.5M19.2,169.3L19.0,171.3M26.2,208.5L26.4,211.0M29.3,160.0L31.7,160.3M46.0,162.6L43.4,164.4M104.0,144.0L105.8,144.2M36.5,162.8L35.6,164.4M12.0,183.7L10.2,186.8M33.8,184.0L35.4,187.3M106.0,205.1L109.0,206.2M45.5,165.7L43.9,169.0M42.0,175.3L42.7,179.7M19.4,155.1L15.9,155.8M113.5,189.2L111.8,192.0M22.3,135.0L21.8,138.7M98.2,157.3L97.0,160.5M53.6,162.7L50.1,163.0M87.1,144.5L88.8,145.8M56.7,161.9L58.0,163.6M106.4,142.5L106.2,147.0M37.9,213.7L36.0,216.2M66.0,182.2L68.0,183.1M20.8,188.8L23.0,190.3M105.5,216.2L109.5,216.5M103.0,169.8L99.7,169.9M66.7,145.0L65.3,148.7M50.7,142.4L50.4,144.8M15.5,154.2L13.0,154.9M104.1,155.8L100.8,156.9M25.2,157.1L23.8,158.7M25.9,202.3L28.5,203.7M69.2,178.8L68.4,181.5M100.0,163.8L104.1,165.2M111.8,166.8L110.1,168.4M15.8,162.0L16.5,165.9M38.2,167.1L36.3,169.9M83.5,166.6L85.7,170.4M45.8,162.9L48.2,164.4M73.4,206.6L76.0,207.7M94.6,155.7L94.6,158.9M58.4,143.8L58.9,146.6M7.3,158.2L8.4,160.7M87.8,159.0L89.8,160.5M64.6,144.1L62.6,146.2M68.5,132.0L67.5,134.0M90.2,165.2L87.8,168.6M41.7,181.4L43.3,183.1M110.5,212.9L112.3,213.3M-1.3,202.0L1.9,202.2M19.6,137.1L21.3,137.8M43.1,144.3L43.6,146.3M67.0,158.1L69.4,159.7M87.3,147.1L91.1,148.8M55.4,163.6L58.2,164.0M34.5,195.1L34.5,198.5M69.3,150.6L66.4,152.3M20.7,153.9L23.8,154.6M63.8,167.0L62.6,169.2M14.3,173.4L12.1,175.1M84.6,156.0L88.6,157.0M74.3,162.4L71.5,165.0M26.7,164.3L24.5,166.6M57.1,152.4L53.3,154.5M77.2,181.6L76.3,184.7M13.9,135.4L17.1,136.8M29.7,154.2L26.0,154.7M101.6,159.5L100.4,161.8M7.0,143.8L8.0,148.0M97.1,170.7L99.0,173.2M68.8,146.5L67.0,148.4M114.6,174.4L111.9,174.9M21.6,162.7L24.3,163.7M20.2,206.6L18.4,208.1M35.5,154.9L36.1,157.4M78.3,167.9L82.2,169.8M106.7,185.4L109.2,186.8M106.3,147.3L108.2,151.2M105.1,131.5L106.6,133.0M104.7,134.5L100.8,134.5M15.1,134.3L14.7,138.4M90.9,180.2L95.0,180.8M38.1,155.8L41.0,155.8M43.8,133.6L45.9,136.4M40.2,144.2L39.0,147.2M20.6,200.5L21.9,204.2M83.4,213.2L87.6,213.4M18.3,145.2L18.3,147.6M83.8,175.7L82.5,177.0M90.3,142.1L88.3,142.8M15.5,178.4L16.6,180.2M83.5,167.8L83.7,171.6M84.8,166.4L87.2,168.6M113.3,165.4L114.6,167.8M69.1,156.9L65.2,157.2M84.7,153.8L85.8,156.8M40.5,151.6L43.1,152.7M111.6,150.2L113.8,152.8M67.0,160.4L69.9,161.6M78.2,166.0L82.0,167.0M91.0,148.6L92.3,151.0M6.4,185.9L5.7,187.6M7.0,169.6L7.5,171.5M106.6,174.6L108.2,176.1M91.8,154.0L93.9,155.0M45.9,155.7L48.0,156.0M101.1,134.0L102.2,136.4M68.8,212.2L69.7,214.1M21.1,195.4L22.7,197.4M2.8,139.2L4.1,143.0M77.9,177.0L79.7,177.7M110.5,156.6L113.0,158.4M93.0,174.7L93.1,177.9M40.8,216.7L36.7,217.3M20.2,192.1L22.1,193.3M27.4,143.3L28.2,146.5M27.8,154.7L26.2,157.0M11.3,131.6L12.8,134.5M76.2,149.5L78.7,150.4M36.3,131.3L37.8,132.8M86.2,148.5L89.8,149.7M52.4,160.1L50.0,160.3M40.8,165.3L43.9,167.4M25.5,135.6L24.3,137.0M53.4,160.4L55.1,164.4M17.7,139.1L16.6,140.5M35.0,146.6L35.0,148.5M51.9,165.7L52.7,167.4M72.5,175.5L75.9,176.2M105.8,171.6L104.7,173.6M55.4,217.8L57.4,220.3M39.0,203.0L41.1,205.1M34.3,148.5L34.5,150.4M12.3,168.1L12.7,171.1M48.7,136.2L50.6,136.9M54.6,203.8L57.3,206.5M34.0,166.6L31.4,167.6M78.0,158.5L77.6,160.9M106.3,164.3L103.9,165.5M3.7,172.0L4.8,175.7M40.8,132.9L37.1,133.0M83.8,155.0L85.9,155.3M58.9,132.2L60.0,134.4M67.8,143.4L69.0,146.2M101.8,144.3L105.3,145.6M60.1,130.2L59.9,134.6M102.8,206.2L99.7,207.5M14.4,151.1L16.2,152.2M111.8,134.3L110.0,136.9M54.5,161.5L53.7,163.7M103.5,142.0L99.6,143.8M112.4,147.9L112.6,152.0M27.6,140.2L24.9,143.0M38.1,158.8L36.2,159.3M1.0,212.5L0.7,214.3M7.5,165.5L9.9,166.9M32.5,154.0L29.0,155.9M90.7,183.5L88.1,186.5M74.9,152.9L77.8,153.9M60.9,175.2L61.1,179.1M42.4,149.5L39.7,149.7M45.0,132.8L47.0,134.6M84.7,136.1L83.9,138.6" stroke="#3a4a38" stroke-width="1.15" stroke-linecap="round" fill="none"/>
<path d="M22.0,205.1L22.1,206.8M113.8,206.5L113.3,207.8M114.1,204.4L112.4,205.8M52.4,222.6L51.4,224.2M76.1,217.8L74.5,218.8M39.1,204.3L39.4,205.1M100.5,217.2L101.9,218.6M59.4,219.2L57.9,219.8M4.3,202.3L6.3,202.7M55.5,215.8L56.6,217.0M68.0,214.1L69.8,215.1M115.4,203.0L114.3,204.8M55.0,205.9L55.8,207.3M74.7,213.6L73.7,214.1M55.4,207.6L56.6,208.8M70.6,193.4L71.1,194.8M31.1,197.3L30.7,198.3M58.0,198.1L58.6,198.9M84.6,217.4L83.6,217.7M21.5,221.7L22.0,222.9M13.4,217.6L12.3,218.1M101.1,220.7L101.2,222.8M78.6,222.5L78.9,224.4M23.9,209.9L24.7,211.5M66.7,223.7L68.0,224.0M107.0,208.6L108.3,209.4M69.9,215.4L71.0,215.5M115.8,212.1L114.6,213.4M47.3,212.8L48.7,214.1M28.7,217.8L28.7,220.1M59.9,215.5L61.5,215.9M77.9,220.4L77.2,221.5M31.7,221.5L30.9,223.0M63.4,212.7L65.5,213.4M48.6,206.0L46.5,206.4M60.1,221.5L58.7,221.9M86.3,217.0L88.3,217.8M60.5,218.2L60.1,219.0M58.7,209.4L59.2,211.4M59.7,206.7L61.6,207.5M34.0,220.1L35.5,221.2M106.9,206.8L107.9,208.3M17.4,220.7L17.6,221.6M89.6,196.2L88.7,196.6M71.1,203.8L71.1,205.4M115.6,221.7L114.9,222.9M43.4,214.6L42.6,215.5M71.7,212.5L73.5,213.9M16.5,197.3L17.0,198.5M18.0,212.5L18.4,213.7M70.4,218.2L71.8,219.3M17.3,211.3L18.8,211.7" stroke="#c8d4c4" stroke-width="1.15" stroke-linecap="round" fill="none"/>
<path d="M47.2,172.4L44.7,175.0M20.7,164.9L20.2,167.0M2.9,186.8L4.9,187.3M65.8,187.9L67.1,191.1M106.1,217.7L102.9,218.5M107.6,183.5L110.4,185.4M65.3,178.9L66.8,183.2M74.3,132.1L76.0,133.9M109.8,169.0L109.5,172.4M61.1,176.0L62.0,177.0M55.1,193.5L57.4,196.6M112.9,191.3L111.3,192.5M110.9,200.5L110.5,202.5M10.1,152.7L9.2,156.3M19.0,178.6L21.3,181.0M34.0,187.3L34.6,190.1M65.7,172.2L67.9,175.2M51.2,172.8L51.1,174.0M22.0,152.0L20.0,155.4M112.3,134.8L112.9,138.9M25.9,144.6L24.7,148.9M62.9,163.8L66.5,165.2M28.6,208.7L31.0,212.2M36.4,155.2L39.1,155.4M48.0,188.0L49.3,192.1M4.8,143.1L6.1,145.0M16.7,165.4L18.5,166.0M79.5,174.5L81.4,175.3M64.3,140.8L62.4,141.5M13.7,159.5L13.4,161.7M62.7,168.1L64.3,169.4M42.4,207.1L40.1,210.0M17.4,155.2L18.6,159.2M62.0,161.6L65.9,163.6M58.1,183.0L59.2,185.2M103.9,198.6L100.9,199.1M33.0,179.2L30.5,180.8M0.9,162.4L4.8,164.6M35.8,181.3L36.9,184.8M29.3,149.1L28.7,151.5M55.1,180.7L51.7,180.8M36.4,173.7L38.4,176.3M50.1,196.7L53.0,199.4M114.2,192.3L113.1,194.9M6.6,179.6L10.5,180.5M77.4,154.5L79.5,156.7M12.7,195.5L8.9,197.4M104.5,145.2L106.6,147.6M106.3,175.1L107.3,178.0M5.4,217.1L6.4,219.0M38.2,146.1L35.5,148.9M42.7,168.2L44.2,171.4M34.1,175.1L36.8,177.1M11.6,161.2L12.4,164.3M92.1,136.0L90.1,138.9M22.8,207.0L20.5,207.4M33.0,158.5L29.8,159.2M49.8,154.0L52.7,155.7M115.2,172.7L114.7,173.6M102.7,168.5L105.4,168.6M84.8,200.0L87.9,200.9M79.8,141.3L77.5,144.1M86.9,175.5L88.5,176.8M87.9,170.5L87.3,172.4M96.7,147.4L96.7,149.4M63.8,154.0L64.1,157.0M29.4,180.0L26.9,181.2M58.4,179.3L59.1,181.0M36.4,152.5L38.5,155.7M-1.1,168.7L2.6,171.1M43.8,201.1L44.4,205.5M54.7,145.8L53.2,149.4M4.7,184.9L8.7,186.0M103.9,177.2L101.6,178.8M44.6,209.7L46.9,211.1M81.3,184.6L80.8,186.9M75.1,132.7L77.0,136.7M101.0,189.3L99.3,192.7M4.7,185.3L4.0,188.0M111.3,131.3L111.7,133.4M100.1,190.4L98.2,192.1M13.4,179.4L14.6,181.4M110.5,191.2L107.7,193.6M100.8,198.0L105.1,198.1M94.3,178.8L90.7,180.4M101.9,185.5L103.0,189.3M80.0,142.6L77.8,143.0M110.2,189.5L106.2,190.1M16.8,208.9L18.1,211.7M108.5,138.6L106.4,141.5M83.8,210.2L85.0,212.3M92.1,135.3L90.4,136.8M99.1,200.8L101.1,201.3M50.6,181.7L46.7,183.1M74.1,133.0L76.8,135.3M33.8,219.4L36.3,220.3M68.1,193.1L64.9,193.4M31.8,190.5L33.9,191.6M38.4,137.7L36.4,138.2M24.5,156.7L23.0,158.5M113.2,152.1L112.1,154.5M68.1,174.5L71.2,174.9M63.1,157.7L61.5,159.7M96.7,168.7L99.7,171.1M108.7,150.4L110.6,150.9M-0.5,176.4L1.2,180.0M107.2,189.4L108.4,191.7M87.8,180.4L91.4,183.0M21.4,144.1L23.6,144.2M30.1,142.6L31.6,145.7M109.0,181.3L112.4,182.3M11.5,210.2L13.3,213.0M81.5,136.9L85.3,137.9M77.8,144.4L79.5,146.1M96.9,144.6L99.7,146.5M91.2,199.4L92.4,202.8M61.9,177.5L65.2,178.8M56.2,184.8L54.8,188.6M72.8,200.5L73.5,204.0M24.9,143.2L24.5,145.1M39.8,189.2L40.7,192.1M21.9,139.3L25.7,140.6M100.8,153.8L99.4,155.6M73.7,154.1L72.6,156.2M16.4,197.5L18.5,201.4M94.4,143.1L94.9,145.7M1.3,208.8L-0.9,209.7M11.2,148.7L10.8,151.1M43.9,220.6L47.0,220.7M53.5,170.9L52.1,172.6M67.0,181.0L63.8,183.1M12.2,177.8L14.3,180.6M15.6,168.5L19.3,168.8M76.5,138.8L74.3,140.2M68.9,156.2L68.0,160.5M101.3,137.4L101.2,141.7M56.9,174.6L59.4,176.0M0.2,196.3L2.5,198.0M62.7,191.4L60.3,193.4M26.3,181.3L28.2,183.7M43.1,167.5L41.2,170.3M81.1,187.0L84.1,190.0M0.4,149.3L2.7,152.1M58.8,146.1L58.7,148.5M44.8,172.7L42.6,173.2M23.8,144.8L21.9,145.5M24.1,178.1L24.7,181.9M17.0,192.0L17.2,195.6M101.5,192.4L100.3,194.6M31.8,166.0L29.2,166.6M29.5,180.5L31.1,183.4M12.0,214.5L13.7,215.5M13.1,221.1L11.1,221.7M94.4,181.3L98.6,182.4M9.0,138.5L7.4,139.8M16.2,202.1L20.4,203.6M7.0,132.2L9.3,132.2M53.0,204.4L49.9,205.9M101.1,169.1L99.0,170.3M114.3,153.0L115.9,155.9M60.8,187.5L58.0,188.0M88.0,200.1L90.6,202.6M44.3,203.1L41.2,205.4M43.9,197.9L41.9,201.5M4.9,137.5L8.0,140.4M10.1,182.6L11.3,186.2M50.5,160.1L53.4,160.7M36.8,136.7L39.5,137.7M93.7,188.7L90.8,189.1M42.2,187.2L45.0,188.1M12.3,194.5L11.0,198.5M2.8,177.5L1.2,179.1M49.3,183.2L47.1,184.4M99.9,134.8L101.0,137.2M61.3,176.9L63.2,178.9M113.0,151.9L116.1,152.4M27.3,191.0L27.8,193.1M110.9,172.2L110.6,175.5M6.4,185.9L9.7,185.9M48.8,139.5L52.0,140.7M7.4,135.4L10.9,136.8M94.6,192.9L98.2,194.1M108.9,161.8L106.6,162.2M81.5,188.5L79.8,189.3M43.3,195.7L43.5,199.1M107.0,184.1L105.1,185.7M39.1,193.4L41.0,194.3M46.6,160.0L47.7,161.6M24.7,185.3L26.6,187.6M87.2,176.0L85.2,177.5M57.7,184.6L54.8,187.3M69.8,157.6L70.3,159.4M71.9,173.5L70.6,177.7M45.3,186.0L49.4,186.4M63.0,163.8L62.0,166.2M79.4,209.7L81.1,213.7M53.8,195.2L50.1,195.7M12.9,179.5L10.8,182.0M25.7,147.0L22.1,148.2M55.2,178.5L56.3,181.0M94.3,191.6L93.3,193.2M35.6,178.8L36.9,181.8M12.7,212.4L14.6,213.2M15.3,142.0L13.6,145.4M2.6,217.2L0.1,219.6M58.8,163.4L57.3,164.5M7.5,194.9L5.9,196.9M76.4,209.3L77.8,213.4M14.1,192.5L11.7,195.6M86.2,178.3L83.8,178.3M75.1,131.0L76.6,133.7M58.1,213.8L54.9,214.8M46.7,132.0L47.7,134.7M12.7,185.0L13.7,187.1M48.3,196.5L46.0,197.0M69.0,136.8L67.9,140.4M95.7,189.1L97.7,192.1M107.1,162.4L109.1,164.5M70.7,209.2L71.9,211.6M104.7,176.8L103.0,179.3M105.1,194.1L104.6,196.1M12.3,167.6L14.7,168.0M74.6,149.0L73.5,151.7M19.4,198.1L23.4,198.6M46.7,163.4L45.2,165.8M94.4,192.7L92.6,194.7M6.4,133.8L8.3,137.6M71.6,216.1L73.1,217.4M20.0,180.8L22.6,182.4M25.4,192.3L26.5,195.6M112.9,200.5L115.4,202.4M62.1,140.9L65.6,143.1M110.7,150.9L110.4,152.8M71.5,197.9L73.6,199.2M23.6,198.0L24.2,201.5M6.3,185.6L4.0,188.8M57.3,186.5L55.3,187.6M65.5,187.0L63.5,188.4M106.0,140.5L101.5,140.8M82.2,218.6L85.4,218.6M49.2,147.6L51.0,150.5M108.5,214.2L111.9,215.2M104.2,211.4L105.9,212.1M63.4,151.3L66.3,154.6M20.5,183.8L21.9,187.6M43.2,203.8L40.0,204.6M-0.1,206.3L3.1,208.1M39.1,183.3L40.7,184.5M23.1,161.8L26.7,162.9M45.9,191.7L46.6,192.8M12.4,189.3L16.4,189.5M43.4,188.6L44.0,192.8M18.0,155.7L18.5,159.4M97.5,143.8L97.2,148.0M48.3,217.1L49.6,219.0M71.7,168.3L70.3,170.5M84.7,136.7L84.8,139.4M26.8,185.4L22.6,186.1M13.2,147.2L11.0,148.6M88.8,154.0L90.7,155.0M33.5,186.9L31.7,188.4M71.9,183.8L71.3,187.0M25.0,155.0L27.3,156.7M6.6,195.5L4.9,199.5M8.1,139.3L4.4,141.8M8.2,164.5L5.4,166.2M31.2,174.1L31.6,178.5M86.4,139.8L86.2,142.8M102.9,183.6L101.4,186.0M66.5,173.0L68.5,173.5M45.4,211.5L47.5,213.9M98.1,210.7L95.7,210.9M63.4,183.0L61.9,184.2M60.7,151.1L58.5,151.5M8.2,162.9L10.4,164.3M101.8,203.0L103.7,206.6M32.5,172.5L31.1,173.7M51.8,171.5L51.6,174.0M24.8,185.6L21.8,186.7M48.9,190.4L47.8,194.7M87.5,184.3L87.8,186.4M56.8,170.7L55.7,173.8M106.2,134.6L109.1,137.5M47.4,160.9L48.8,162.5M99.1,197.7L102.2,198.0M78.4,153.5L76.4,155.2M113.6,155.5L112.1,156.8M68.4,145.7L69.3,147.7M27.8,190.3L28.3,193.6M33.1,158.7L35.2,162.5M1.8,140.0L4.3,143.7M69.0,175.9L66.4,177.3M40.1,164.8L37.2,165.6M39.2,144.6L42.0,147.7M80.4,194.6L82.2,197.6M5.9,148.4L8.1,150.9M97.3,175.0L96.4,178.3M81.4,173.3L77.6,174.3M108.8,219.7L110.1,223.4M51.9,166.1L52.6,168.1M90.4,202.4L90.2,205.7M52.2,165.1L55.5,167.5M38.0,165.5L36.6,167.5M51.0,136.3L50.1,139.9M45.3,185.1L44.3,189.2M45.5,170.4L43.1,173.5M6.2,134.8L4.4,138.1M99.5,191.3L99.0,193.4M56.7,197.9L54.0,201.0M54.9,152.9L57.2,153.3M105.7,157.1L106.7,159.1M11.3,184.0L11.3,187.9M37.4,211.7L36.1,213.9M49.7,143.9L49.5,147.8M46.5,188.1L49.1,188.3M42.3,195.0L45.5,195.4M2.3,180.6L-0.0,182.3" stroke="#1f6a20" stroke-width="1.15" stroke-linecap="round" fill="none"/>
<path d="M6.2,148.9L7.6,150.1M23.8,178.7L19.9,178.9M18.7,188.1L18.1,191.7M112.4,141.2L109.7,143.5M25.8,144.7L29.3,145.2M22.3,175.2L23.9,176.2M82.4,155.3L86.2,156.5M104.2,145.3L107.5,148.3M39.2,180.9L36.2,184.0M66.5,173.1L68.2,175.9M28.2,164.0L29.4,166.5M68.8,204.2L66.9,206.3M106.4,161.3L105.7,165.6M99.2,168.1L100.9,169.4M92.5,170.1L90.6,170.6M47.9,134.0L47.7,136.1M73.7,194.1L71.0,196.7M61.8,183.0L64.9,184.8M52.2,159.9L53.3,161.8M19.3,152.1L22.6,153.5M114.3,133.2L114.8,137.0M17.6,132.1L17.6,135.1M26.9,154.1L26.5,156.5M56.3,167.0L55.1,170.7M25.8,189.8L28.6,190.6M66.2,155.1L65.0,157.1M34.2,217.5L30.1,219.3M115.7,171.4L113.4,171.7M109.8,182.1L109.8,186.4M5.3,139.6L7.0,141.4M23.2,195.2L23.3,198.2M82.1,185.0L81.0,187.4M107.0,169.4L109.0,170.8M19.7,143.5L18.9,146.9M88.8,161.4L90.8,163.9M53.6,133.2L56.3,133.9M54.8,165.9L50.6,167.3M26.8,168.6L24.5,168.7M70.8,159.5L68.9,163.3M62.1,165.4L58.9,166.2M93.7,196.7L91.6,198.8M35.8,167.0L37.9,170.1M105.7,147.1L105.7,149.7M22.1,190.7L26.3,191.7M115.1,207.2L112.0,209.5M39.9,174.8L42.0,176.3M36.2,158.4L37.4,160.0M112.3,150.1L110.7,153.2M8.2,185.2L9.3,186.9M58.3,135.6L60.0,137.7M47.6,138.4L44.9,139.7M98.1,212.9L95.8,215.6M97.0,182.3L100.0,182.8M45.4,160.6L43.5,160.9M52.5,155.9L51.6,157.5M13.6,140.3L9.7,140.4M23.2,163.4L27.0,164.1M52.5,136.0L49.8,138.1M23.0,150.8L24.9,150.9M110.2,157.4L109.4,160.5M20.5,189.5L19.4,192.8M85.9,209.1L88.8,211.7M44.2,157.2L41.5,159.4M55.5,157.9L57.6,159.1M47.9,151.7L51.3,153.5M25.4,196.9L28.5,199.1M28.2,167.9L30.6,170.3M8.5,157.4L7.6,159.5M89.2,201.6L86.1,203.7M64.8,169.7L63.2,171.3M47.9,164.9L44.8,165.2M56.8,180.1L55.6,182.0M77.7,179.9L74.2,181.3M56.2,131.2L55.3,133.7M40.3,199.1L41.3,201.1M11.2,134.4L13.9,134.6M98.4,133.5L101.1,133.7M57.6,193.0L54.5,193.9M104.5,202.8L102.8,204.9M64.0,162.7L60.6,163.3M20.4,165.8L17.9,168.4M62.7,131.0L65.4,133.7M114.0,201.0L111.2,203.3M81.5,204.6L78.5,205.9M89.3,149.8L90.3,152.1M58.0,142.7L58.8,144.6M12.5,182.1L10.8,183.4M3.5,176.7L5.4,179.3M26.0,157.3L24.4,159.2M61.8,164.2L62.2,166.7M18.2,207.9L17.0,211.5M11.8,208.7L9.5,211.6M67.6,183.7L65.8,186.9M18.1,134.6L16.6,137.0M82.1,173.9L79.7,177.5M14.4,137.7L10.4,139.3M92.5,187.6L93.0,192.0M115.0,214.1L111.8,216.2M40.0,149.2L40.1,152.2M91.9,134.2L95.2,134.2M29.2,141.7L33.3,142.6M16.1,140.7L16.9,144.3M90.0,134.8L91.9,137.2M72.5,179.2L71.6,180.7M24.6,144.6L26.5,146.4M66.2,135.7L63.3,136.1M71.1,162.1L68.5,164.0M23.4,158.9L21.6,159.7M28.1,134.4L26.4,135.7M14.2,162.7L11.2,165.8M53.7,173.8L53.6,178.2M12.0,180.8L10.0,182.5M102.5,154.6L103.2,157.7M78.8,177.3L80.9,178.5M23.6,167.3L25.4,168.8M95.6,188.1L97.8,191.3M33.1,185.5L34.9,188.6M111.3,135.8L110.5,139.1M106.0,148.4L107.2,151.3M34.8,134.9L32.4,135.7M15.0,164.1L19.4,165.0M27.2,184.9L29.1,184.9M55.1,169.9L54.4,173.9M41.4,164.9L42.7,166.5M13.5,132.8L13.7,135.0M57.7,145.7L61.9,146.2M40.7,190.2L40.9,193.9M113.2,202.6L117.5,202.7M53.7,168.9L58.2,169.1M89.7,144.4L89.2,146.5M10.0,153.7L8.9,158.1M13.1,163.9L14.2,166.0M36.1,145.1L34.8,147.5M14.8,194.4L14.6,198.5M60.5,155.7L58.3,156.5M94.1,163.4L90.6,165.4M105.6,142.2L105.5,146.1M67.6,159.1L63.9,159.5M50.1,155.5L53.4,158.2M23.7,176.6L24.1,179.2M109.7,148.0L113.9,149.0M53.0,218.2L52.8,220.6M69.0,138.8L67.7,140.9M19.6,197.3L18.4,200.8M25.6,191.7L23.8,192.1M57.6,180.2L57.7,182.5M39.3,176.3L40.4,179.2M116.1,189.9L112.2,190.3M47.8,190.9L47.8,192.9M65.5,177.8L63.5,179.2M39.4,156.5L40.7,159.9M52.9,180.6L51.3,183.9M18.8,146.4L21.4,150.0M46.5,150.8L46.1,152.6M64.9,193.3L63.6,195.4M79.9,152.1L78.7,154.4M61.7,156.1L57.5,156.5M105.3,183.4L103.6,186.5M26.7,156.3L23.5,156.6M38.6,161.1L38.6,164.2M40.5,132.5L38.7,132.6M20.4,172.5L17.4,175.0M23.8,182.3L28.0,182.4M102.9,167.1L102.9,169.0M104.5,183.1L102.6,185.0M82.3,210.3L81.9,212.9M19.1,217.9L20.4,219.6M14.1,132.6L16.4,133.4M111.0,157.2L112.1,161.5M111.5,159.1L114.5,162.2M44.1,136.5L43.0,140.4M26.5,178.5L28.0,181.9M22.1,153.9L24.1,155.8M79.5,166.6L78.5,169.7M106.3,170.0L103.7,170.5M67.3,132.5L68.8,136.3M36.7,161.5L32.4,161.6M66.2,147.0L66.7,149.0M13.2,173.2L15.4,173.6M100.0,172.9L99.1,174.4M56.3,191.8L58.3,193.4M33.7,134.1L34.3,136.1M3.1,165.1L-0.4,166.5M64.6,200.1L61.4,201.1M93.2,180.2L95.7,183.3M83.4,158.6L81.3,159.2M37.6,142.9L33.3,143.3M89.9,155.7L93.5,156.8M72.8,182.2L76.0,183.4M29.8,167.5L27.2,168.5M42.6,186.7L40.6,188.9M5.7,198.2L8.3,201.4M61.4,157.5L60.8,161.3M71.6,167.6L68.5,170.3M36.2,200.7L37.9,204.0M14.5,171.4L14.2,173.2M90.3,144.1L89.1,146.8M81.6,146.0L80.8,148.1M49.4,178.4L47.5,181.0M5.3,135.3L7.1,135.9M12.5,149.0L8.6,151.1M30.1,169.8L30.8,173.2M90.1,190.0L91.4,191.3M112.4,154.8L114.6,155.9M70.2,197.7L67.3,200.6M40.9,189.2L43.0,189.9M41.5,131.2L41.0,133.1M77.9,160.7L76.2,162.6M66.6,192.3L64.8,193.5M59.8,159.3L61.1,161.7M65.7,163.1L68.6,164.5M57.2,208.6L55.4,209.6M65.0,133.1L62.7,135.6M73.1,156.6L72.0,159.6M37.9,156.3L35.8,158.8M58.5,160.3L55.1,161.5M105.7,150.4L107.7,150.9M45.0,184.5L45.9,186.2M34.7,190.3L31.9,193.4M20.1,147.0L16.8,148.1M89.8,166.6L92.7,169.5M85.2,138.2L86.8,141.4M21.7,193.2L21.7,195.3M9.8,145.7L13.7,146.8M38.8,149.1L40.0,151.0M4.9,137.2L2.0,138.9M22.7,157.3L18.5,157.4M-1.1,155.8L1.2,156.1M113.4,187.8L116.1,190.8M73.6,205.6L71.0,207.1M19.6,145.8L16.6,147.6M89.1,208.3L92.1,208.9M1.9,182.1L0.2,185.4M45.1,151.4L46.4,154.2M5.8,157.7L9.3,160.2M10.1,168.0L12.9,168.8M62.7,218.6L65.0,219.4M61.4,161.6L63.3,161.9M107.3,151.9L105.7,155.1M104.8,153.3L103.3,157.0M97.8,196.6L94.6,198.3M98.3,169.5L98.0,171.6M5.2,178.7L5.4,182.1M10.9,209.9L9.0,212.5M65.0,166.9L66.9,168.1M85.3,157.6L84.1,161.7M78.6,175.3L79.0,178.3M70.1,132.0L65.9,132.0M92.2,161.6L92.7,165.7M11.9,198.7L13.4,200.8M36.8,137.5L36.5,140.5M18.5,144.0L19.1,147.3M108.0,157.9L107.1,161.2M32.3,138.3L35.8,138.6M17.5,196.5L19.5,198.6M92.9,171.4L94.8,175.0M96.9,134.2L95.3,136.6M88.6,134.7L91.3,137.2M54.3,143.6L56.1,144.3M50.3,165.3L53.6,167.0M51.5,210.7L48.1,213.6M96.3,169.4L99.1,170.5M29.9,209.6L28.8,211.9M15.6,157.9L17.2,161.4M60.0,130.5L60.8,134.6M19.7,140.8L21.8,142.6M23.2,140.5L20.8,142.7M82.1,168.7L79.6,168.9M17.4,136.7L17.6,139.8M74.8,143.6L77.2,143.6M64.9,152.8L61.1,153.9M93.4,165.0L92.5,167.0M51.0,208.8L48.3,211.0M6.6,188.9L5.5,191.9M34.0,213.9L35.3,218.2M77.3,207.0L73.3,208.2M80.8,150.4L79.5,153.4M36.9,147.1L38.3,150.3M75.2,148.3L73.7,150.4M29.5,153.4L29.9,156.5M81.4,168.1L84.6,168.3M85.8,145.6L82.0,147.4M110.2,141.7L113.6,142.1M42.4,209.8L45.4,210.4M33.9,145.5L34.8,148.2M83.4,195.0L81.8,196.6M95.2,166.5L94.2,168.8M33.7,193.3L36.0,196.2M72.7,137.1L68.6,138.4M112.1,151.3L111.2,155.3M77.3,195.5L75.4,198.4M60.0,172.1L62.9,173.7M88.2,149.6L85.1,150.7M6.0,134.9L3.3,138.3M83.4,195.5L86.0,198.7M48.8,195.7L48.2,200.0M57.4,174.9L55.7,179.0M62.5,196.5L62.6,199.7M10.4,198.4L10.1,200.2M59.0,147.2L62.1,147.3M14.8,142.9L16.7,144.4M34.6,136.1L36.6,138.2M81.5,171.3L85.1,171.8M32.1,132.8L29.7,134.4M69.1,162.5L67.2,165.2M17.1,134.4L13.6,134.6M109.4,204.4L107.5,206.0M93.4,132.5L95.9,134.5M32.3,143.8L31.8,147.5M52.6,212.4L54.5,213.1M12.7,185.4L15.5,187.4M18.6,159.7L14.6,159.7M73.9,169.1L76.3,171.8M73.1,152.6L74.9,153.4M83.6,161.1L87.3,163.1M52.1,167.6L53.4,169.7M67.5,188.8L70.3,189.0M43.0,198.0L39.5,199.0M100.1,134.2L104.1,135.4M96.6,176.8L94.8,178.4M112.0,146.9L114.6,149.9M48.4,220.2L45.0,220.7M98.7,179.2L102.3,179.9M84.4,184.6L81.3,184.8M39.5,161.5L37.2,162.7M54.3,159.5L53.4,162.5M19.3,132.5L19.1,135.2M36.0,176.7L32.8,177.1M100.9,201.5L98.4,205.1M51.2,148.7L47.8,150.1M68.3,181.7L69.5,184.6M23.3,202.5L20.2,204.0M42.0,147.5L45.9,148.5M74.9,158.8L72.4,159.8M55.6,148.8L51.9,148.9M49.3,175.1L52.3,177.0M94.0,161.8L89.9,163.0M76.6,138.4L73.6,139.1M91.5,150.6L88.8,151.2M16.6,196.4L14.2,196.9M7.0,130.8L5.7,133.6" stroke="#2a3528" stroke-width="1.15" stroke-linecap="round" fill="none"/>
<path d="M36.9,185.7L38.8,187.1M108.9,156.7L111.5,158.2M2.1,143.6L2.3,145.4M14.0,153.3L14.7,155.2M104.1,202.9L103.0,205.4M66.8,146.8L63.8,149.7M93.1,152.2L95.3,152.6M96.1,209.3L94.4,210.4M108.0,188.0L105.7,190.6M91.7,179.7L94.7,180.8M40.9,157.2L43.2,157.3M100.3,170.8L104.0,172.8M32.3,154.2L29.2,154.9M6.5,169.4L8.4,171.7M114.5,161.2L113.0,163.2M57.2,152.6L55.7,154.0M16.7,133.5L16.5,135.5M108.3,190.2L106.6,192.7M107.9,193.9L104.9,196.1M31.2,176.2L30.1,177.8M54.0,185.9L55.8,189.3M28.2,158.2L29.5,159.6M36.3,133.9L33.5,136.0M14.5,130.9L12.2,134.3M110.1,169.6L106.9,172.2M102.0,156.5L104.3,158.6M71.9,175.0L75.0,175.1M34.5,172.2L35.8,175.0M95.4,191.7L98.1,192.6M16.7,199.5L16.8,203.2M66.4,141.9L68.3,145.7M70.3,194.9L71.6,197.5M82.0,208.8L84.9,210.0M51.5,141.5L50.6,145.4M49.7,143.0L52.2,145.9M8.6,137.0L9.3,140.5M26.4,142.0L30.0,143.6M16.5,177.0L16.2,180.2M84.9,183.8L82.8,184.7M44.6,132.0L46.5,132.4M10.3,142.2L9.8,145.5M16.7,158.0L14.1,161.5M13.3,170.4L14.7,173.9M12.5,214.2L10.8,216.8M3.8,155.3L3.0,158.2M103.5,156.0L106.5,157.2M27.0,156.5L30.0,156.7M100.9,178.9L103.6,181.0M113.4,154.3L116.3,156.3M93.8,149.0L94.4,150.9M72.9,138.9L72.7,141.4M91.4,162.8L93.9,162.9M68.1,168.9L67.0,170.8M93.8,174.6L93.1,178.1M15.4,166.7L16.1,168.5M97.8,155.8L96.5,158.3M58.5,169.0L58.1,170.8M83.4,211.8L84.8,213.6M111.4,190.4L113.9,192.8M21.5,140.1L21.0,143.0M65.3,167.0L67.5,168.7M80.4,188.9L77.7,189.3M1.2,133.3L0.1,136.3M28.8,142.6L29.0,145.0M17.9,170.7L19.0,172.4M7.7,155.2L10.4,157.1M112.7,164.5L113.7,166.6M35.2,178.4L34.3,180.6M90.1,142.1L88.4,143.0M53.1,174.0L51.6,175.4M71.1,169.8L68.7,170.6M100.6,183.8L99.8,185.5M29.9,182.0L27.1,182.2M13.5,153.4L12.6,155.1M94.7,169.7L91.3,170.1M67.3,139.1L64.7,140.4M85.0,186.8L85.0,190.0M35.8,152.6L35.7,156.4M36.6,139.8L36.4,144.0M111.2,146.0L112.1,150.0M23.5,196.0L24.5,199.9M107.8,169.2L108.1,171.4M109.1,179.1L108.5,181.3M89.8,135.7L91.1,137.2M107.9,138.4L105.9,139.1M104.5,166.9L103.4,170.6M86.1,214.6L84.1,217.8M78.2,172.1L78.2,175.8M29.4,141.3L29.7,144.3M20.1,143.9L22.2,145.7M19.2,162.2L22.5,164.6M89.8,170.8L87.0,173.6M2.2,131.9L3.5,134.2M71.2,143.0L67.6,143.6M5.6,208.6L6.4,212.0M49.3,168.9L47.5,172.8M71.0,205.0L71.9,208.4M109.2,169.0L113.1,170.8M76.7,147.0L75.1,148.8M23.2,147.0L19.8,148.0M64.4,156.9L61.1,159.0M1.8,181.4L0.7,182.9M19.7,191.9L21.0,195.8M28.8,223.4L26.8,224.1M86.7,150.3L87.9,153.1M24.5,178.2L22.1,181.8M85.7,157.9L86.8,161.9M2.7,133.6L-0.1,136.8M66.3,164.8L64.6,167.1M114.0,197.1L114.9,199.6M5.1,145.1L1.7,146.1M100.7,183.7L100.7,186.3M46.7,162.4L48.2,166.0M109.1,157.7L106.0,159.1M49.4,146.9L50.9,148.1M103.1,149.9L100.4,150.4M64.6,200.3L67.1,201.7M52.5,188.1L53.2,191.0M100.2,153.7L100.4,156.3M60.3,150.6L62.0,151.1M54.3,147.1L52.4,150.1M98.6,199.4L99.7,201.6M45.2,150.7L47.1,150.8M94.7,194.3L96.2,196.7M45.8,166.9L49.8,168.3M30.8,183.6L32.2,186.9M18.9,144.5L18.6,148.3M77.2,182.2L81.2,183.4M58.2,172.7L58.0,174.7M109.2,145.2L109.4,147.2M87.3,142.0L88.0,145.8M85.7,139.0L82.9,139.6M58.8,206.7L55.9,209.3M3.9,183.1L5.8,184.1M33.9,169.7L32.4,171.4M109.1,160.2L110.6,162.0M61.6,160.4L64.1,163.9M112.7,146.8L115.3,148.3M67.2,139.3L67.6,141.9M16.9,150.4L18.1,153.0M34.4,148.1L31.8,149.1M95.1,134.0L96.6,137.9M37.2,135.1L33.3,135.9M45.6,178.1L42.7,178.3M61.9,169.7L65.1,171.1M91.6,201.7L88.6,202.5M80.9,148.2L84.0,150.6M72.0,186.7L74.2,187.1M65.8,176.5L63.1,176.8M66.5,135.4L64.8,136.0M32.7,184.4L32.6,188.8M17.0,186.8L18.8,187.1M75.5,133.8L75.7,137.5M28.1,182.0L25.8,182.0M85.6,156.2L86.0,158.6M52.9,178.5L55.4,179.3M48.5,133.4L45.9,135.5M42.1,162.1L44.1,164.2M5.1,160.5L7.2,160.9M13.2,140.3L9.6,140.4M107.9,212.3L111.0,213.3M78.7,143.7L79.6,146.0M81.9,170.7L81.5,174.6M109.6,221.0L107.5,221.4M108.9,210.6L111.9,212.5M3.3,205.9L1.0,207.8M12.8,144.5L15.2,148.1M55.0,161.2L55.0,164.1M92.3,163.9L90.8,167.1M28.4,153.1L24.2,153.4M51.2,170.6L53.4,170.9M16.6,137.5L14.9,139.1M52.4,138.8L51.2,142.2M39.9,141.5L39.0,145.3M26.5,158.5L28.3,161.7M55.7,180.8L58.0,181.8M86.9,146.3L90.2,147.8M116.8,147.2L114.5,148.2M83.6,157.3L85.2,159.3M25.3,159.3L23.4,162.2M65.2,171.0L67.0,172.8M62.2,205.4L64.6,205.5M96.9,191.5L98.2,195.0M41.9,173.6L43.8,175.6M3.0,153.3L3.2,155.5M102.1,150.9L100.0,151.8M5.0,206.3L4.3,210.8" stroke="#50c040" stroke-width="1.15" stroke-linecap="round" fill="none"/>
<path d="M75.4,172.4L78.3,175.8M36.0,152.3L37.2,153.9M86.5,137.2L87.2,139.6M102.5,166.1L101.8,168.6M16.5,164.0L14.7,164.6M50.4,138.7L54.6,139.1M13.2,180.0L12.1,182.5M23.3,179.6L23.3,183.0M88.3,149.3L92.3,150.5M65.5,178.5L62.1,178.9M94.5,137.2L93.3,140.8M89.0,136.5L84.6,136.7M2.1,134.7L4.1,136.3M54.6,149.7L56.4,153.1M37.6,156.7L40.1,157.6M22.4,169.3L25.0,172.8M91.5,144.7L87.6,145.9M12.4,164.8L12.3,168.7M60.9,197.2L58.8,198.4M83.2,203.0L84.2,206.0M105.9,195.0L104.1,196.1M62.2,171.4L59.6,172.2M103.6,149.9L100.3,151.4M63.3,179.6L66.5,182.5M90.6,153.3L93.0,154.5M25.7,157.8L26.8,159.9M103.0,166.9L101.1,167.4M79.3,155.6L79.3,158.6M27.6,161.1L30.3,162.7M100.3,148.4L101.7,151.3M94.8,206.7L91.5,209.6M99.1,169.0L95.8,170.1M114.9,188.4L115.3,191.0M11.6,143.8L12.9,146.5M6.3,177.3L10.4,178.1M31.3,165.3L30.4,167.7M34.1,140.7L30.5,142.1M2.4,133.0L1.4,136.6M37.4,191.6L35.9,195.8M97.5,190.0L94.8,193.6M17.2,164.3L18.9,168.0M13.1,167.8L12.2,172.2M33.4,178.0L36.5,179.3M55.9,130.7L57.2,134.9M73.5,165.9L76.7,166.8M89.0,193.4L86.6,195.2M24.7,168.1L24.3,172.2M112.1,216.2L108.2,218.1M109.4,134.2L113.2,135.6M3.6,182.5L6.8,184.0M21.3,189.8L23.9,190.7M93.0,158.4L96.1,161.4M78.8,133.0L81.4,135.9M63.6,151.3L59.7,152.3M43.4,155.7L44.8,158.6M24.9,164.3L27.7,166.7M88.5,175.8L88.2,178.7M47.4,147.3L49.3,148.4M61.6,161.3L62.4,164.5M86.0,137.1L89.9,137.5M82.4,166.7L78.9,167.4M57.2,166.4L57.0,168.3M64.0,152.9L67.1,155.0M110.9,143.6L111.9,146.8M63.7,163.2L65.5,163.2M67.4,194.0L65.4,194.2M109.8,135.9L108.5,138.7M1.9,146.5L5.0,147.2M35.3,165.4L33.1,166.3M-0.6,147.0L1.4,148.0M40.4,168.5L36.7,169.4M39.0,198.0L35.3,199.2M43.8,190.2L45.7,192.1M10.6,154.6L8.9,156.3M2.2,172.4L1.3,175.0M16.1,148.5L15.8,151.9M6.7,158.0L8.2,160.8M18.2,222.0L21.5,224.4M27.9,198.2L29.1,200.3M19.6,152.9L16.8,154.8M41.9,171.9L41.7,173.8M86.4,137.2L83.3,137.9M21.2,165.8L21.0,169.0M71.7,164.1L69.0,164.2M67.1,137.3L64.4,140.3M39.3,162.8L42.8,163.6M112.8,206.7L109.8,206.8M6.5,183.6L7.6,185.3M113.5,148.8L113.3,151.2M101.7,215.3L104.5,218.2M33.6,138.8L34.4,141.0M12.6,132.8L11.2,136.7M61.9,134.8L63.6,138.7M41.0,140.1L39.5,141.6M102.2,173.8L105.6,176.2M69.5,157.7L68.8,160.2M108.1,199.7L112.3,201.0M21.1,138.9L20.1,140.7M60.3,163.0L61.6,166.6M17.0,189.5L19.2,190.4M4.1,179.3L2.2,181.4M37.6,164.6L40.1,166.0M50.1,194.3L52.7,194.6M63.4,216.8L62.9,220.4M73.1,137.2L74.6,140.6M90.8,163.7L93.1,166.3M2.0,214.8L3.7,218.0M53.9,200.0L57.3,200.9M53.1,164.5L52.8,166.9M59.2,159.3L57.0,162.0M55.7,140.4L53.2,144.1M10.4,159.8L8.1,163.2M35.9,169.2L37.0,171.1M2.4,137.3L-0.5,139.1M59.1,153.5L57.6,154.6M22.7,160.2L26.1,162.4M35.6,160.3L34.1,161.8M65.0,146.8L61.5,149.1M46.6,159.7L43.3,161.9M114.0,143.7L115.2,145.5M85.1,138.9L86.0,141.9M104.0,144.5L108.0,145.8M111.4,181.7L108.8,184.9M11.2,142.8L6.8,143.5M50.2,139.5L52.2,140.1M26.0,200.8L22.0,201.8M80.8,193.0L81.3,195.5M30.1,152.4L27.0,154.2M16.8,180.4L14.0,183.4M100.2,136.4L101.5,139.9M69.4,135.4L71.1,139.4M16.5,196.5L14.7,197.2M59.2,191.5L61.1,193.6M63.5,141.3L66.2,144.0M104.2,145.9L107.9,147.7M86.6,133.3L84.5,134.7M9.4,165.2L10.6,167.8M41.9,150.8L43.5,152.5M23.8,149.5L21.2,150.9M36.7,155.8L36.2,159.1M45.9,168.8L48.1,170.4M92.0,133.5L91.1,137.9M82.0,178.3L84.8,179.3M106.6,170.2L109.4,172.7M113.7,172.9L117.2,174.4M80.8,165.0L85.3,165.2M84.6,145.0L86.3,145.6M83.9,208.9L86.4,210.5M49.3,148.1L46.6,149.1M105.0,197.6L104.5,200.6M107.9,152.5L109.7,154.9M66.9,155.1L64.0,155.3M81.2,154.5L83.3,154.5M78.6,154.6L74.4,154.9M101.6,161.5L104.7,163.4M30.0,155.8L33.1,158.3M66.0,138.2L63.2,139.8M7.9,168.8L8.5,171.1M1.3,144.8L0.5,147.9M79.5,207.9L80.6,212.1M107.0,204.2L104.4,207.8M15.1,208.4L12.5,208.7M21.3,170.7L19.3,171.9M34.0,187.6L38.1,188.3M52.3,138.8L50.4,141.9M89.1,149.1L86.4,150.3M74.6,189.4L73.8,191.2M89.1,167.8L84.8,167.9M41.8,149.2L39.9,150.2M105.6,178.7L101.3,179.9M46.5,155.6L48.9,158.0M74.7,169.8L72.4,172.0M17.7,194.6L14.0,195.0M38.8,146.3L37.8,150.1M62.4,156.8L64.1,160.6M51.3,137.9L49.9,140.4M56.3,214.9L53.7,217.0M7.9,134.9L8.1,138.6M107.8,134.1L106.9,135.8M22.2,153.2L25.8,153.8M31.8,168.5L28.4,170.1M79.0,167.9L77.8,171.1M102.4,170.0L99.8,172.0M16.5,191.9L15.0,195.7M13.3,151.2L14.2,152.7M90.1,184.4L92.7,185.5M109.3,147.4L113.4,148.0M90.4,183.6L87.2,184.0M60.4,136.3L59.8,138.5M26.4,136.9L30.4,137.8M96.7,140.2L100.1,142.6M60.4,208.8L58.6,211.5M25.8,130.6L24.7,134.8M113.7,157.8L115.9,157.9M67.1,132.7L64.8,133.0M8.9,146.3L5.4,148.9M87.3,188.9L85.3,190.2M21.7,139.4L19.4,140.2M35.0,175.9L34.6,180.0M44.9,202.1L45.9,204.5M97.4,200.8L101.3,202.1M4.0,186.8L3.6,191.2M9.7,169.0L10.9,171.7M48.6,183.3L45.8,185.8M74.1,163.7L73.9,165.8M5.3,147.7L5.1,150.6M56.1,156.4L52.3,157.5M107.2,170.5L106.3,173.3M113.6,156.7L111.0,159.6M94.8,140.9L94.5,143.2M74.0,195.6L74.1,198.0M25.3,177.7L27.0,179.5M35.0,160.8L37.8,161.2M74.2,131.6L71.1,134.6M82.3,151.3L79.4,152.6M6.2,136.2L2.9,136.6M19.0,162.1L20.7,164.6M40.4,217.5L39.9,219.5M82.0,138.4L77.9,139.6M11.1,150.8L13.6,151.1M113.1,163.8L115.4,164.8M5.7,143.6L2.6,144.2M72.8,179.8L75.7,179.9M25.6,215.7L26.0,218.7M101.8,140.8L104.0,143.7M73.1,131.2L73.8,133.9M9.0,213.9L10.6,215.1M74.2,190.5L71.1,190.6M71.5,166.4L69.6,167.0M59.6,195.9L63.5,198.0M49.9,149.6L47.8,152.4M71.6,144.9L73.7,145.3M5.2,173.7L4.5,177.5M69.6,183.4L73.5,184.6M15.1,171.7L16.4,173.1M64.1,162.2L66.6,163.7M92.8,157.7L91.1,158.3M96.2,153.2L94.3,153.5M107.3,177.6L109.2,177.9M10.3,146.4L7.1,149.5M38.7,134.3L35.0,136.4M43.2,155.8L45.1,156.8M74.6,152.2L71.3,153.2M72.6,163.9L72.4,165.9M64.3,155.8L67.5,157.7M71.2,209.0L71.2,213.3M87.9,156.0L88.2,160.1M11.6,143.9L14.2,146.8M56.6,189.8L58.1,192.7M8.7,156.9L7.0,160.8M62.1,175.9L63.9,177.0M108.0,215.6L105.7,216.6M92.4,181.0L91.1,184.6M115.7,176.1L116.2,179.5M52.2,144.0L50.9,146.0M61.2,160.4L62.9,162.3M41.9,150.2L40.2,151.7M40.5,194.7L42.3,197.1M0.5,221.0L0.2,224.3M7.3,148.2L5.3,152.2M109.2,143.6L110.3,147.3M22.7,187.1L22.2,189.7M62.1,200.0L62.1,204.2M12.1,150.6L13.6,153.0M66.2,173.1L65.4,174.7M48.5,189.8L47.2,191.3M105.7,156.1L103.7,159.3M2.1,145.8L5.4,146.6M10.5,168.1L7.3,169.4M111.8,171.5L112.4,173.6M61.5,141.1L62.7,143.8M23.1,149.9L26.6,152.2M71.1,193.0L68.6,195.4M80.0,205.0L82.7,205.4M60.4,141.6L63.2,144.3M88.4,203.8L85.9,203.9M12.6,184.2L13.4,186.1M24.5,165.6L22.2,166.4M58.5,136.6L62.2,138.6M107.0,202.4L109.2,204.5M17.9,145.6L20.4,147.7M41.4,187.0L42.8,190.2M41.1,162.9L38.3,163.7M78.7,131.5L79.2,134.8M54.7,145.5L53.1,147.9M95.9,143.4L93.6,144.5M28.9,172.8L30.3,176.1M5.8,189.3L3.4,189.4M27.2,138.2L23.4,138.7M113.4,140.6L113.9,142.4M62.7,134.6L65.2,135.1M33.0,135.0L32.7,138.5M112.9,169.1L115.5,169.7M77.2,184.5L74.2,187.1M95.0,156.4L96.7,157.2M7.6,146.3L9.8,148.5M13.3,156.5L15.5,157.1M23.5,200.6L25.8,200.8M8.2,155.3L6.3,156.4M99.7,135.3L97.5,135.8M81.5,148.0L82.0,151.6M40.0,160.5L38.1,161.1M39.1,202.8L40.0,205.0M47.1,143.9L48.3,145.6M75.9,178.7L72.1,180.5M43.6,194.7L41.4,194.8M73.2,178.7L75.2,181.4M42.5,164.3L39.8,165.8M5.2,172.0L9.1,172.3M109.2,172.8L108.8,176.2M39.0,135.7L42.6,135.8M67.6,163.6L64.9,165.9M41.7,194.7L38.8,195.5M87.6,157.4L90.3,157.6M52.8,189.3L51.3,190.5M82.2,186.8L85.0,189.5M75.6,160.8L77.4,162.9M75.4,142.4L78.9,142.4M16.9,209.6L17.3,212.0M95.5,183.7L94.4,185.2M26.8,136.0L27.8,137.9M86.4,204.6L84.8,206.5M2.4,158.6L1.9,162.5M108.1,169.6L110.7,173.1M84.8,185.1L82.1,187.8M10.9,143.8L11.5,145.6M35.8,179.8L32.4,180.4M13.6,179.0L10.0,180.6M49.4,180.6L47.7,184.2M102.3,195.8L100.4,197.0M68.2,196.6L68.7,200.2M110.6,211.6L111.4,215.1M98.7,159.3L94.8,159.4M91.2,170.5L91.0,172.6M56.7,155.8L59.3,157.7M35.5,168.8L34.8,173.2M10.2,180.0L13.3,180.8M78.0,208.4L77.1,211.9M109.2,197.1L106.5,198.7M54.7,131.3L53.7,134.8M65.8,149.6L68.7,152.4M15.2,169.3L14.4,173.1M75.9,148.2L74.1,149.0M22.0,156.2L20.3,157.7M35.5,190.1L37.3,193.2M53.0,141.3L50.9,141.5M1.7,188.1L-0.1,191.3M100.5,148.2L98.7,150.2M58.8,194.4L54.5,194.5M86.1,145.5L82.4,145.9M39.3,177.2L39.9,179.5M11.0,141.0L8.0,142.4M78.5,151.0L82.2,153.4M98.8,159.9L96.5,162.4M114.8,154.0L113.8,156.1M106.7,155.5L105.1,157.3M15.8,208.8L18.5,210.3M47.0,157.2L49.3,161.0M16.5,147.8L16.5,151.7M21.3,161.7L23.9,163.9M72.2,133.8L70.4,134.8M89.8,170.6L86.3,171.4M47.3,174.1L49.6,174.8M11.7,135.1L9.6,136.3M12.3,197.3L15.1,200.3M72.2,196.0L70.6,197.9M40.0,206.0L36.7,208.9M83.2,145.3L82.5,147.3M90.1,139.4L93.7,140.5M107.3,183.2L110.8,185.2M29.7,144.4L30.5,147.3M111.3,199.7L109.1,202.0M74.8,181.1L73.7,184.1M96.9,145.1L94.9,145.6M54.7,179.6L53.1,182.4M23.5,177.5L22.6,179.5M61.6,181.8L60.1,185.8M53.8,188.3L55.7,190.0M79.3,141.1L81.4,142.5M20.6,139.8L20.6,144.0M18.3,142.9L14.9,145.6M69.5,206.0L66.4,207.4M90.5,162.4L88.3,164.1M26.6,154.1L24.6,156.1M92.0,158.1L92.7,160.3M78.1,145.8L81.7,147.4M66.5,186.0L68.1,189.5M1.7,213.0L-0.0,215.3M103.6,140.0L105.6,141.0M101.5,148.0L98.9,149.4M29.9,180.1L32.3,180.2M7.4,134.3L5.9,138.1M33.1,164.3L33.0,166.4M23.0,146.1L25.7,148.2M32.1,144.1L29.0,144.2M92.0,182.2L94.8,182.5M13.9,155.7L17.0,158.7M33.1,169.0L33.0,170.8M28.3,191.4L29.3,195.2M112.7,139.5L113.8,141.4M5.9,149.4L9.1,150.8M20.6,158.6L17.9,159.2M13.3,140.6L13.3,143.2M7.8,164.3L9.4,167.8M34.7,162.8L37.0,164.6M8.3,166.7L8.2,168.5M75.4,161.7L76.7,164.9M102.4,164.0L100.2,164.5M54.5,160.1L52.8,161.2M102.2,153.3L106.4,153.5M72.4,170.7L69.8,173.1M69.1,164.8L69.6,168.0M52.5,222.1L54.8,222.2M31.8,139.1L33.4,142.8M19.8,198.5L20.0,202.5M70.7,136.2L73.2,139.1M110.2,195.6L114.6,196.3M91.8,151.7L93.2,153.9M81.0,203.3L84.0,206.2M57.8,191.9L61.7,194.1M30.8,138.5L28.7,139.8M109.0,165.9L108.4,169.3M22.4,201.5L23.8,203.9M100.4,135.4L98.9,137.1M113.8,132.3L111.5,132.7M114.6,167.2L114.9,171.6M14.9,170.4L11.2,171.4M106.4,146.2L102.4,148.0M80.6,131.5L82.7,132.8M45.0,132.1L44.5,135.2M32.2,176.5L35.7,177.3M61.5,137.9L63.4,139.8M81.5,147.3L79.3,149.4M19.5,180.9L20.8,182.3M13.2,200.6L17.2,201.4" stroke="#3aa832" stroke-width="1.15" stroke-linecap="round" fill="none"/>
<path d="M46.3,209.6L46.6,210.2M54.4,215.9L52.1,217.6M7.0,217.6L7.4,221.5M13.8,213.6L9.6,213.8M44.0,216.3L45.6,220.4M103.8,218.7L102.4,221.6M48.4,215.4L45.0,216.1M79.8,222.2L77.9,222.8M99.0,222.3L99.8,223.2M44.5,222.9L45.9,224.4M17.6,194.8L21.9,194.8M56.1,210.4L58.4,213.9M33.7,218.3L36.0,221.1M65.7,210.3L65.9,214.5M102.0,201.6L98.2,204.0M73.6,196.7L76.1,199.6M10.7,208.3L11.3,210.2M7.4,213.0L5.6,216.6M102.4,210.6L99.0,211.2M15.2,209.9L15.2,213.4M7.1,195.1L9.4,196.9M104.0,211.6L106.3,213.1M113.7,209.6L116.7,209.6M38.1,213.3L41.3,215.7M11.7,206.3L14.2,208.7M38.0,204.3L38.9,207.1M107.5,220.3L109.3,222.2M101.2,217.3L101.0,221.0M53.3,210.1L52.6,213.9M105.2,209.3L108.4,212.3M83.3,215.6L82.4,218.2M17.3,218.1L20.2,218.2M12.3,216.6L12.7,219.4M82.1,211.9L83.8,212.9M94.3,200.7L95.0,204.0M71.4,208.2L72.9,211.6M57.3,210.7L54.4,212.3M58.5,219.6L54.8,219.9M60.7,216.5L63.9,217.4M50.0,221.5L49.4,223.3M52.5,207.8L49.7,210.6M52.9,219.2L52.6,223.6M98.8,219.7L96.9,220.4M45.5,212.6L46.3,215.1M9.0,207.7L10.5,209.6M37.8,211.3L39.3,212.8M100.0,220.6L101.2,222.0M4.1,221.7L3.2,223.9M78.8,205.3L80.5,208.1M86.3,198.6L83.3,201.3M27.3,221.4L25.1,223.5M53.6,216.0L51.8,216.2M36.2,208.6L35.4,210.7M109.6,214.5L111.5,214.6M48.0,202.8L50.4,204.7M95.7,211.7L97.7,213.3M26.7,205.7L30.2,205.9M16.9,222.0L16.4,224.2M73.7,215.1L75.5,215.8M30.6,216.3L31.8,218.8" stroke="#2e6e2a" stroke-width="1.15" stroke-linecap="round" fill="none"/>
<path d="M47.2,183.0L50.2,185.2M10.2,180.7L7.3,183.8M61.6,195.8L64.4,197.9M31.3,214.4L28.6,217.2M81.7,201.6L79.5,203.6M56.8,191.0L59.7,193.1M56.3,200.5L58.5,204.1M83.9,176.6L81.3,177.4M68.1,185.6L68.4,188.8M91.9,191.9L91.3,193.6M114.2,170.9L113.9,174.1M83.3,203.0L85.6,204.0M98.1,206.8L97.4,209.7M114.1,173.8L111.8,177.0M3.5,188.0L4.0,191.4M28.8,204.7L29.3,207.9M34.6,194.9L33.3,197.0M77.7,204.4L74.6,205.0M35.3,186.8L34.6,189.3M4.9,202.0L8.3,202.5M32.6,182.9L33.9,184.3M25.7,188.5L27.8,189.3M42.2,170.9L42.6,173.5M8.7,184.6L5.2,186.7M63.0,179.7L59.7,182.3M76.3,197.3L74.1,199.2M102.8,192.6L104.9,194.4M103.8,194.1L108.0,194.4M16.4,184.8L14.6,188.4M55.4,204.9L54.4,205.5M104.0,178.3L104.7,182.3M73.1,196.7L74.0,200.5M94.4,171.8L91.1,173.2M73.8,189.1L74.8,190.9M53.1,204.8L55.4,206.3M77.3,220.2L73.3,221.2M94.7,186.9L94.6,189.5M90.7,199.9L87.6,202.6M30.6,176.6L32.5,177.0M97.6,175.8L98.4,178.0M84.4,209.1L85.9,210.2M94.6,172.8L93.5,174.4M19.9,174.0L18.3,174.9M20.7,206.6L23.3,209.5M76.6,214.9L74.3,216.3M50.8,171.0L51.1,174.0M55.6,197.8L55.6,200.3M71.0,206.8L72.9,208.2M64.1,199.8L63.5,201.8M78.1,180.7L75.9,183.1M17.4,176.4L15.2,177.0M114.3,173.7L111.8,176.1M53.7,203.2L54.7,204.2M17.1,184.4L18.2,185.2M1.5,184.6L2.6,187.0M11.5,193.7L9.6,194.8M88.7,176.7L87.0,180.7M60.3,201.0L60.4,203.5M5.7,181.6L6.4,183.6M17.9,198.6L16.8,202.3M68.1,198.6L66.6,200.2M35.4,176.4L33.2,178.1M51.0,210.0L51.7,213.0M42.0,175.7L40.6,177.6M105.4,175.1L108.4,176.3M96.8,202.4L95.0,203.2M99.4,193.0L101.0,196.3M66.6,178.5L68.5,181.0M27.0,216.1L29.3,218.4M38.1,193.0L37.9,194.9M61.7,172.8L57.6,174.0M107.7,203.2L111.0,203.7M95.5,171.2L94.9,174.8M115.7,185.2L114.8,187.7M23.8,212.0L21.1,212.7M1.8,174.4L2.9,176.2M109.7,202.9L111.7,203.2M16.1,173.4L16.3,174.6M77.0,188.0L79.1,189.3M40.8,172.0L41.5,174.1M81.9,198.5L85.6,199.5M20.4,174.1L24.4,175.3M103.8,190.1L105.4,192.9M83.1,175.4L82.9,177.2M40.5,179.7L38.1,181.6M12.3,204.1L11.0,206.6M31.2,184.4L28.4,186.5M108.4,179.9L110.5,182.3M79.0,179.1L81.7,182.2M108.1,192.3L105.0,192.8M7.5,173.7L6.0,175.4M8.5,181.3L10.8,184.3M103.1,199.9L104.8,202.1M79.8,209.1L77.0,210.5M112.9,195.8L111.4,197.0M7.1,172.1L9.6,175.6M89.5,213.8L86.2,216.7M24.0,173.1L21.3,173.2M95.9,194.7L94.7,199.0M91.9,196.2L91.0,198.5M76.4,177.7L76.8,179.7M13.2,195.9L9.3,197.8M102.9,183.7L106.5,184.8M111.5,193.2L107.3,193.6M62.1,203.4L62.8,204.3M5.7,182.4L3.9,183.3M27.2,200.9L27.7,202.9M47.3,184.0L44.8,187.4M97.0,205.5L98.3,207.0M100.4,192.0L102.4,193.1M2.2,190.3L0.1,191.9M100.6,175.5L98.4,175.9M72.4,217.9L74.3,218.3M99.5,198.3L103.2,199.3M23.4,174.9L25.1,175.4M91.0,204.2L89.6,206.0M43.1,172.1L43.7,174.1M48.5,183.8L48.6,187.9M19.9,204.0L18.2,206.9M51.2,203.6L49.1,205.0M48.2,177.8L45.9,178.3M16.4,187.3L13.2,188.2M81.2,211.7L78.5,213.5M94.0,173.9L94.4,177.2M97.8,188.6L99.4,190.8M47.4,215.1L49.6,217.0M10.9,171.3L12.4,174.4M49.1,212.9L51.6,216.1M102.9,176.4L105.8,178.5M101.5,196.5L103.9,197.1M109.0,172.2L110.7,173.9M91.8,208.5L88.5,209.4M4.3,189.8L1.9,191.0M9.0,212.6L5.9,214.1M78.6,208.7L78.7,211.7M14.9,193.2L15.3,195.1M69.3,193.5L66.7,195.2M70.9,188.6L72.3,190.9M79.4,192.2L77.4,194.4M33.7,193.9L29.5,195.0M95.4,182.8L94.1,184.3" stroke="#245e22" stroke-width="1.15" stroke-linecap="round" fill="none"/>
<path d="M2.8,169.5L0.7,170.0M10.5,204.0L11.5,205.8M92.2,162.0L95.1,163.3M35.6,141.1L32.5,143.8M36.4,169.9L36.1,172.1M32.7,166.1L30.4,167.3M45.5,163.1L43.7,163.7M5.7,187.4L7.1,190.0M43.3,150.0L39.6,150.1M2.8,145.1L-0.4,147.2M106.3,193.4L108.1,197.4M61.6,217.9L64.2,219.0M102.0,155.5L106.2,156.9M56.6,178.2L55.3,180.2M77.7,157.9L75.1,158.8M97.1,189.0L94.0,191.5M68.8,184.5L69.7,187.3M38.3,147.4L35.8,149.2M12.4,188.0L9.4,191.2M89.4,180.0L89.6,183.2M49.8,134.3L52.5,136.6M58.5,210.0L56.4,212.0M39.6,132.8L42.9,134.2M46.2,160.4L47.8,164.2M6.6,144.7L9.1,145.5M100.1,131.9L100.6,135.3M8.9,183.5L7.0,184.0M84.7,172.0L82.1,172.4M13.6,192.7L11.1,195.2M60.2,188.1L64.3,188.8M87.9,157.7L90.2,158.3M42.6,181.2L41.7,183.7M65.0,168.6L62.2,170.4M76.3,179.7L78.7,182.4M29.9,181.7L26.7,184.3M65.4,154.5L61.6,156.0M48.3,204.5L49.1,207.7M113.0,160.2L110.8,161.6M48.2,135.6L43.8,136.3M11.9,184.5L10.7,187.6M43.5,206.5L47.2,206.5M35.5,201.9L34.6,203.8M46.8,202.1L44.7,203.3M24.9,162.9L24.4,166.4M114.6,150.6L115.7,152.8M47.7,178.3L45.6,181.7M113.5,147.1L113.7,151.2M61.1,180.8L59.6,182.5M70.1,144.0L68.2,145.6M28.1,138.3L25.8,141.4M68.6,161.1L69.5,163.8M105.8,156.3L101.9,158.1M92.8,198.3L94.8,198.8M17.6,150.5L16.2,152.4M86.9,161.8L84.8,164.9M79.5,136.3L75.2,137.4M52.0,143.4L53.3,145.8M9.5,158.1L10.7,161.6M1.6,141.8L3.2,144.5M43.1,193.0L41.5,193.7M63.6,149.3L64.3,150.9M91.5,213.0L95.8,213.3M105.5,160.2L107.4,162.6M93.9,151.8L92.6,153.7M83.8,158.9L84.7,163.0M113.7,148.4L112.7,152.5M44.6,141.8L43.1,143.1M51.7,146.3L51.0,149.2M38.8,137.2L38.9,139.9M80.9,181.5L78.7,184.6M6.8,172.4L6.0,175.8M85.3,138.7L87.6,141.9M0.1,149.1L1.6,153.0M45.9,177.4L45.2,179.2M97.2,166.6L99.3,168.3M77.8,217.8L75.1,220.2M26.3,184.7L28.3,188.4M96.2,197.7L94.7,200.0M1.0,161.1L2.7,162.5M43.3,144.5L46.3,146.4M1.5,135.0L1.1,139.2M85.6,159.8L87.5,160.1M42.8,188.3L39.3,190.0" stroke="#6cd04e" stroke-width="1.15" stroke-linecap="round" fill="none"/>
<path d="M12.5,169.9L14.5,171.5M27.6,185.9L28.8,188.7M26.3,195.4L29.0,198.3M52.3,190.8L55.3,193.0M84.1,196.2L82.4,196.9M25.4,180.9L24.8,183.0M18.9,145.1L21.1,147.9M16.6,164.8L19.3,166.0M85.7,167.4L87.7,168.4M82.0,206.0L79.4,208.8M47.0,138.8L51.5,139.3M8.7,151.1L11.2,154.7M48.9,164.4L47.3,167.1M0.8,147.7L4.1,148.4M62.1,131.6L59.7,134.3M109.9,151.1L111.7,153.4M41.5,159.5L42.1,161.6M58.6,159.3L59.7,161.5M46.6,144.8L49.5,146.7M18.9,161.1L18.3,163.7M29.6,187.5L30.8,190.3M53.6,138.7L53.6,141.8M39.6,216.9L37.1,217.6M47.5,163.1L44.9,163.4M93.8,214.9L93.8,219.3M87.2,167.5L85.5,170.7M47.7,138.8L47.2,141.2M70.4,149.8L73.2,152.5M101.9,138.1L103.7,139.7M62.0,166.7L63.2,170.5M53.2,177.3L55.6,180.8M51.0,180.5L52.7,183.5M93.2,188.8L90.3,191.9M38.3,155.3L36.3,156.4M42.0,186.6L41.5,189.4M68.7,150.7L72.3,150.8M101.2,163.2L99.7,167.4M111.4,187.0L114.8,188.4M102.5,204.6L99.6,207.7M99.2,179.4L94.9,179.5M6.1,136.5L4.0,138.8M98.9,144.4L94.9,144.8M19.3,208.1L20.1,209.9M113.3,202.5L116.2,204.1M5.5,146.8L8.9,147.3M89.0,212.9L86.6,213.5M18.1,132.2L17.5,134.6M93.7,134.0L91.1,136.9M71.2,167.1L73.0,167.6M28.2,163.7L25.3,164.7M79.2,166.0L79.6,170.0M10.6,135.8L14.8,136.2M53.0,143.6L50.6,147.4M93.1,158.8L90.4,160.4M16.1,174.0L16.0,176.0M1.0,212.7L3.5,213.3M37.0,137.0L34.5,139.8M7.4,154.9L11.1,156.5M72.9,163.9L73.4,166.2M43.2,184.8L41.9,186.9M10.6,201.5L10.5,205.5M41.4,143.8L39.8,146.1M85.4,194.4L82.9,197.1M63.7,172.2L61.8,173.4M17.2,214.1L17.1,217.3M58.1,195.3L61.3,197.4M81.9,197.8L83.8,201.7M5.6,180.0L5.7,184.2M61.8,210.7L63.3,212.5M97.6,154.6L99.2,158.8M49.0,152.8L46.6,154.1M19.7,166.7L17.4,169.1M112.7,132.7L113.0,135.4M40.4,170.0L39.2,171.5M26.1,206.0L28.1,207.3M91.0,141.8L89.8,143.7M100.3,159.6L103.0,161.8M6.3,158.7L2.6,160.0M27.5,135.3L30.2,137.1M35.0,202.9L38.1,205.4M105.5,177.0L102.5,178.2M6.7,134.1L6.6,137.1M47.6,168.1L45.0,171.8M84.7,151.2L82.3,153.7M101.5,218.8L101.3,221.4M115.3,204.5L113.3,206.1M78.2,157.9L80.3,159.4M49.4,185.9L51.5,186.6M88.6,142.0L90.9,144.8M13.0,166.8L16.4,167.7M10.2,200.4L9.9,203.9M22.6,181.1L26.1,183.8M44.1,199.7L46.2,203.6M93.3,144.2L93.6,147.8M46.0,200.9L42.9,201.2M78.3,161.7L74.0,161.8M87.7,156.7L90.2,158.9M40.8,185.7L40.6,190.0M102.2,152.5L99.9,153.6M25.0,145.8L24.9,148.9M11.1,132.5L10.3,135.1M77.8,149.2L75.4,149.9M20.0,148.0L16.3,150.6M100.1,167.9L98.4,170.6M25.1,134.9L24.7,138.3M5.7,158.6L5.6,162.7M60.7,188.2L59.5,189.6M3.6,160.5L5.4,160.8M86.3,213.6L89.0,214.9M40.2,162.8L37.1,165.6M12.8,192.7L14.6,196.8M11.4,149.8L15.2,151.5M14.1,137.1L15.9,140.8M66.4,166.5L66.7,169.4M62.2,140.8L66.3,142.4M6.0,136.2L4.0,138.7M106.2,203.8L106.4,206.8M55.2,151.5L52.7,153.4M33.4,134.1L35.0,137.5M5.0,157.9L2.3,157.9M48.1,216.2L46.7,219.3M110.2,170.0L108.8,173.1M9.7,139.3L8.3,142.1M83.9,185.9L82.8,188.1M68.2,142.3L66.8,145.9M59.3,162.4L59.0,166.5M35.6,163.4L33.0,163.6M46.7,148.5L44.6,150.7M41.6,151.5L39.4,151.9M60.6,154.7L62.2,156.3M100.9,192.2L101.8,193.9M73.2,134.3L76.9,135.7M4.8,171.9L8.9,172.1M115.5,140.8L116.1,144.2M34.8,188.6L32.8,191.7M23.3,160.5L27.2,160.9M23.4,218.9L26.3,221.5M17.3,155.9L17.5,158.9M77.2,147.3L81.1,147.7M111.8,143.8L109.7,147.5M37.5,186.7L33.8,187.0M33.5,135.2L37.4,135.6M44.6,191.4L41.0,192.0M20.0,207.3L18.1,208.9M49.3,157.3L52.0,157.9M2.8,136.4L4.8,138.8M0.3,149.0L4.3,150.1M26.8,150.1L28.1,151.9M33.3,184.3L35.5,184.4M4.8,160.5L3.0,162.2M80.9,192.5L83.1,196.1M46.5,187.2L46.8,191.5M62.2,171.1L60.8,172.5M99.4,191.2L98.0,193.4M36.2,184.2L39.8,185.7M93.4,168.0L96.2,169.7M59.1,149.4L62.9,151.8M47.2,195.9L48.9,197.6M15.7,166.8L13.7,170.2M2.2,165.5L2.0,168.9M75.5,221.5L76.5,224.4M39.5,145.6L39.4,149.4M13.9,195.3L12.5,196.8M64.1,186.8L66.1,187.0M96.3,202.7L93.5,203.3M48.6,159.7L46.7,160.3M85.9,218.0L88.5,218.4M105.4,190.4L106.6,194.1M68.6,166.4L70.7,170.0M64.8,147.7L66.5,148.4M89.2,199.5L85.2,201.1M14.0,148.5L11.0,151.0M90.4,161.3L89.0,162.7M102.6,142.7L103.5,145.2M35.3,146.2L32.9,146.5M61.0,164.0L61.1,167.5M65.2,142.9L68.0,143.2M7.7,209.3L6.4,211.7M68.3,166.2L71.0,169.5M68.4,134.4L69.6,135.8M66.7,149.7L68.2,151.2M18.4,131.0L17.5,133.6M69.0,147.1L69.0,149.5M35.1,163.7L37.4,164.1M37.6,147.7L38.9,149.2M89.1,181.3L86.9,185.0M90.5,174.0L86.2,175.4M27.4,167.1L29.7,169.0M19.1,168.0L15.9,168.1M80.7,197.3L82.7,197.5M81.6,157.0L79.4,159.4M101.8,212.2L98.3,214.8M23.6,186.7L20.4,188.0M81.7,145.6L84.4,146.8M109.1,167.7L113.3,168.9M94.9,168.9L96.3,172.0M4.8,169.2L2.6,169.4M47.7,169.5L49.0,170.9M39.6,147.2L42.6,150.1M37.2,159.7L39.4,163.5M63.1,139.2L64.1,141.7M37.8,154.0L34.1,156.4M48.4,186.2L44.5,187.0M80.8,153.2L81.3,156.2M37.6,196.8L41.3,198.4M87.3,147.1L84.2,147.2M100.1,163.8L99.8,165.6M89.3,178.9L92.5,179.2M94.7,146.6L93.6,149.7M6.8,146.9L6.9,149.5M37.7,168.7L41.2,170.1M104.2,188.0L102.7,190.0M72.8,195.8L71.8,197.3M116.1,204.7L113.8,205.0M74.5,137.1L77.5,137.4M32.2,154.1L31.9,156.4M104.3,196.4L102.0,198.5M49.4,180.6L52.5,183.8M90.7,145.3L91.4,147.5M57.8,137.8L60.0,138.3M115.4,168.3L111.6,168.6M90.9,163.0L93.4,164.0M68.8,131.9L72.2,134.1M15.5,168.3L11.2,169.0M105.7,191.4L106.3,193.2M20.5,184.9L22.5,185.3M107.3,151.2L108.5,152.6M90.5,150.9L92.0,152.6M8.5,154.7L7.6,158.5M83.5,157.2L82.5,159.0M101.0,177.5L101.0,180.8M78.7,145.1L82.6,146.2M67.7,148.5L68.7,151.1M36.4,187.5L36.3,190.5M73.4,133.1L74.9,135.0M52.8,146.6L50.7,147.0M81.2,151.1L79.7,152.9M76.1,193.0L75.4,196.6M64.8,150.0L66.1,151.8M7.4,178.3L10.6,180.2M27.8,221.4L28.6,223.4M22.9,178.0L22.2,182.0" stroke="#5a6458" stroke-width="1.15" stroke-linecap="round" fill="none"/>
<path d="M34.8,213.1L35.7,213.8M116.2,208.3L115.4,208.9M56.4,217.1L57.3,218.2M91.4,213.1L89.7,214.2M44.2,205.2L43.3,206.5M72.7,213.0L71.6,215.0M62.0,220.0L63.9,220.8M14.0,206.1L15.2,206.5M54.9,219.2L54.4,220.8M105.8,220.8L104.8,221.6M7.0,210.8L7.8,212.8M71.7,207.7L71.0,209.1M10.5,208.4L8.5,209.5M112.0,215.4L113.3,217.0M78.6,213.2L80.6,214.1M8.5,208.5L7.6,209.3M3.1,214.5L3.8,215.6M1.6,217.7L1.1,219.2M87.6,202.3L88.7,203.6M83.0,201.6L83.7,202.1M97.0,217.1L97.7,219.3M47.0,218.8L46.0,220.5M27.0,223.0L28.9,223.4M115.0,222.4L113.3,223.1M63.8,203.7L63.8,204.9M106.1,213.1L106.0,215.4M54.3,223.7L55.7,223.9M1.7,214.7L1.8,215.5M46.7,205.9L46.7,207.9M51.9,200.3L51.0,201.1M76.2,205.1L77.5,206.7M39.1,213.1L40.3,214.0M64.9,220.4L64.7,221.6M35.3,217.7L36.3,219.0M55.4,194.3L56.1,194.8M109.8,200.6L109.0,201.6M8.0,215.6L7.0,215.6M34.4,212.7L34.3,214.9M26.6,213.9L28.2,214.9M79.8,219.8L78.8,220.4M17.6,196.4L18.7,198.0M7.5,204.4L8.6,205.4M71.2,221.5L70.4,223.4M83.7,203.2L82.0,204.1M99.1,198.1L98.3,198.9M52.9,209.7L51.6,210.6M4.2,210.1L4.5,211.4M93.7,209.2L92.9,210.4M23.6,198.1L22.1,198.8M66.0,217.5L67.9,218.8M5.3,221.1L4.7,223.1M80.8,195.4L79.9,196.4M2.5,213.0L2.5,214.8M20.7,214.7L19.7,215.3M73.9,214.1L72.8,214.4" stroke="#f0f4ee" stroke-width="1.15" stroke-linecap="round" fill="none"/>
<path d="M29.3,202.0L30.6,204.2M3.1,175.5L0.9,177.0M110.5,182.8L108.8,184.8M59.9,183.1L58.9,185.3M25.6,197.4L26.3,199.5M6.9,213.3L8.0,215.0M44.6,210.9L48.7,212.7M45.8,208.2L44.3,212.1M64.8,209.8L62.7,211.5M40.9,203.4L43.2,205.4M116.9,184.2L114.3,185.0M39.3,197.2L37.2,200.5M17.3,212.1L16.7,212.1M5.4,192.6L9.6,194.1M101.0,179.5L99.0,179.6M109.4,182.9L112.8,184.0M3.3,185.5L4.9,187.2M72.6,189.4L72.9,192.6M64.2,188.5L60.7,189.4M101.5,200.6L105.1,201.3M96.5,176.4L95.2,178.9M112.0,185.9L109.7,189.0M107.9,188.3L104.7,188.9M18.8,178.0L19.8,180.1M20.8,179.6L18.7,179.6M109.7,185.9L111.8,188.3M74.4,182.6L73.1,185.2M4.7,201.5L6.6,202.2M104.7,172.4L107.3,173.1M71.9,215.8L74.2,215.8M2.8,201.7L3.6,204.2M10.3,199.6L13.4,201.9M16.7,194.9L17.4,197.6M70.5,186.3L71.3,189.2M112.6,175.7L114.3,179.5M75.6,196.9L76.6,199.6M23.6,182.8L26.9,183.2M72.0,184.6L69.3,188.0M92.9,208.6L96.6,210.5M65.1,174.7L62.5,174.7M79.0,178.0L76.4,178.7M115.6,177.2L114.5,179.0M40.8,194.7L37.0,196.2M21.4,185.2L19.6,187.3M114.2,210.8L114.0,214.8M22.8,198.7L25.7,199.8M45.4,193.5L46.4,196.0M43.4,174.4L41.3,175.5M2.7,195.5L2.5,198.8M105.9,187.6L102.9,189.5M31.6,204.8L30.9,207.1M84.6,194.7L87.9,195.4M39.6,215.7L39.8,219.1M15.6,216.6L13.7,219.5M110.0,183.3L109.8,184.5M110.3,187.6L108.7,188.9M30.4,199.6L28.0,203.1M92.7,203.4L93.1,207.8M20.7,202.6L19.9,203.6M65.9,171.4L64.9,173.6M111.6,177.4L115.3,178.4M25.4,171.5L23.4,173.1M65.1,191.7L65.6,194.6M3.5,179.9L1.7,181.0M7.2,203.6L8.9,204.9M78.6,206.0L76.2,206.0M61.9,210.6L59.7,213.9M83.4,198.5L85.1,201.1M73.0,177.1L69.0,178.6M4.7,207.7L4.8,211.0M36.1,213.3L36.4,216.5M109.6,172.5L110.4,176.8M80.2,195.7L82.1,197.3M110.4,188.7L109.5,191.5M49.7,196.6L46.3,197.4M115.7,185.2L113.9,185.3M85.3,172.4L83.4,173.5M69.0,206.9L67.0,207.5M7.2,192.4L5.2,195.9M69.6,205.7L68.5,209.5M83.6,180.2L82.4,182.5M80.8,172.0L83.2,174.5M109.0,180.8L107.6,185.0M69.3,198.8L72.3,200.7M11.8,202.8L10.6,204.5M32.8,181.5L29.4,182.7M44.9,195.0L44.3,195.0M17.8,195.5L17.6,198.1M53.0,177.7L53.0,178.7M25.3,203.2L25.7,203.6M40.6,220.0L40.1,223.1M84.8,174.9L88.8,176.1M19.7,207.1L19.6,211.5M23.3,179.5L25.2,180.5M21.5,202.8L24.5,205.5M35.1,208.0L38.2,210.9M63.1,171.7L60.6,174.0M97.8,210.9L96.5,214.4M95.0,184.6L90.8,185.3M71.3,209.8L71.6,212.0M54.0,182.0L49.8,182.8M94.4,187.5L93.4,188.4M16.1,172.8L19.8,175.3M51.9,203.0L49.8,204.1M91.3,214.7L92.1,218.2M80.7,215.7L76.3,216.3M96.5,199.6L93.6,201.6M12.6,176.9L9.7,179.1M49.7,213.6L52.1,215.4M39.0,217.7L38.5,220.1M18.0,174.1L18.5,176.1M83.7,205.1L87.3,206.4M86.2,211.4L84.2,212.3M64.6,171.9L68.1,173.0M42.4,198.5L38.5,199.9" stroke="#2a5a28" stroke-width="1.15" stroke-linecap="round" fill="none"/>
<path d="M65.7,211.1L67.6,212.3M107.1,221.6L108.5,222.2M49.3,208.6L52.9,209.6M86.6,222.0L90.1,222.3M72.8,222.2L75.0,224.6M89.4,209.5L86.1,210.5M67.8,215.1L63.8,216.7M51.7,209.5L52.6,211.8M98.3,199.8L98.4,201.6M66.4,208.3L63.7,208.6M38.0,216.8L41.3,218.4M4.2,215.6L2.2,217.2M80.0,199.1L80.4,201.9M68.7,216.2L70.8,216.4M79.4,211.7L77.1,212.2M10.2,213.2L11.4,213.5M23.4,220.1L23.1,223.8M28.9,218.6L27.7,220.5M62.0,223.4L64.4,223.7M36.7,220.8L36.8,222.7M15.0,214.8L15.4,218.6M23.5,209.9L25.4,212.5M91.5,209.0L93.6,212.6M101.1,209.0L102.2,211.9M32.1,216.8L30.4,218.0M51.6,214.5L49.1,216.3M36.1,210.2L37.9,212.5M7.8,223.7L9.3,224.0M97.4,217.4L94.9,219.8M18.7,209.6L20.4,210.9M79.1,207.9L81.3,209.6M103.9,214.2L105.5,218.2M21.1,212.0L22.0,213.9M59.1,222.7L58.4,224.9M93.0,201.2L94.0,204.8M107.8,195.2L107.9,199.1M110.6,218.2L110.6,220.9M10.4,215.1L11.3,215.9M54.1,204.8L51.4,207.4M68.2,212.4L70.1,214.3M106.7,210.9L108.7,212.9M45.1,219.3L46.0,221.9M14.2,219.2L17.7,219.7M73.0,209.8L71.4,211.4M5.2,219.9L5.9,220.4M13.5,208.3L17.6,209.1M82.1,197.1L80.7,200.0M16.2,198.0L14.0,198.3M82.0,204.7L83.7,205.8M98.2,217.9L96.8,221.5M11.4,210.8L10.2,213.2M78.1,210.8L74.2,212.2M85.4,219.3L87.1,221.5M95.4,221.6L93.9,222.8M56.6,218.3L57.3,222.6M87.2,213.2L85.4,214.8M50.5,206.5L48.2,209.7" stroke="#8a9a88" stroke-width="1.15" stroke-linecap="round" fill="none"/>
<path d="M69.1,170.5L70.9,171.1M28.6,131.6L30.7,134.5M76.8,148.3L77.7,152.2M110.7,177.2L108.7,177.5M38.0,166.1L34.3,168.1M103.5,159.3L105.9,162.9M24.8,165.5L24.0,167.2M22.0,172.7L20.0,174.8M93.3,151.6L91.7,153.5M7.0,139.9L3.5,142.3M80.3,148.5L81.9,150.4M94.8,172.1L91.3,174.2M74.8,144.0L72.3,146.5M54.0,198.3L55.3,200.1M104.0,172.4L106.1,174.4M72.6,143.0L71.7,145.1M27.2,186.6L27.1,190.0M22.0,207.7L23.4,210.5M62.6,169.9L62.1,172.1M28.7,156.5L28.4,158.8M82.8,210.7L84.9,210.9M90.9,136.3L91.6,139.0M43.1,203.0L45.3,204.7M56.7,148.2L56.6,150.3M63.4,159.5L63.8,162.3M84.1,178.3L81.2,181.4M16.0,148.5L18.8,150.9M74.3,164.9L73.0,166.8M15.1,165.6L13.9,167.7M91.9,145.0L93.7,146.1M66.1,144.0L65.2,146.4M9.7,148.9L9.1,152.1M36.4,139.0L38.3,142.3M44.3,136.2L48.5,137.4M27.3,140.0L28.0,143.8M74.8,150.0L77.9,152.4M61.7,190.4L62.8,194.5M38.6,169.5L42.8,170.1M59.4,145.8L56.7,145.9M94.4,140.2L92.5,141.7M99.4,198.9L100.4,200.8M37.2,131.8L32.9,132.7M87.6,193.4L90.3,194.1M46.9,162.1L47.7,163.7M113.1,166.8L116.7,168.4M61.6,172.5L63.7,176.2M94.5,152.6L91.1,154.6M43.5,164.4L45.7,164.6M61.9,148.8L60.5,150.1M21.0,134.8L23.4,135.5M9.8,158.1L7.7,161.1M25.3,195.6L23.7,197.8M101.4,147.2L104.3,149.1M105.6,187.6L105.3,189.5M4.6,196.9L8.3,197.7M3.1,198.0L-0.2,198.8M43.1,206.4L45.7,209.1M84.7,136.2L82.9,137.3M11.6,191.1L13.4,193.0M80.9,170.0L78.1,171.6M3.6,168.3L7.1,169.2M50.4,184.0L52.7,184.7M98.1,178.1L97.7,180.6M52.8,182.2L55.2,185.0M76.3,174.4L73.5,176.7M94.9,140.1L96.6,140.9M18.5,141.6L22.4,141.8M89.2,165.7L87.4,168.0M116.0,185.7L112.6,187.5M45.3,137.4L44.0,139.5M49.2,181.9L46.8,182.9M27.2,141.8L29.4,145.3M30.5,146.1L26.2,146.6M0.6,181.1L0.2,184.8M52.5,167.0L52.3,170.5M105.1,163.6L101.8,164.0M69.0,153.7L72.7,154.9M30.4,190.3L27.0,191.8M106.0,171.9L104.7,174.6M95.1,130.9L94.5,133.8M50.5,144.9L47.6,145.7M89.0,140.9L91.9,142.2M27.3,161.3L24.9,164.0M32.9,203.4L34.4,205.1M9.6,135.9L11.8,137.3M47.9,194.3L49.3,197.7M56.9,170.4L56.7,172.3M7.2,156.6L7.5,159.2M47.3,136.5L47.9,140.9M47.5,170.3L50.8,172.3M113.9,133.8L115.2,137.0M76.9,151.7L80.4,154.4M23.6,170.0L21.0,171.4M3.9,153.1L5.5,154.8M28.4,221.7L27.8,223.5M71.5,166.9L73.1,168.8M114.2,217.8L112.5,219.5M19.9,144.7L18.2,147.8M99.5,209.7L95.9,211.7M31.4,158.6L29.1,159.4M69.9,178.0L73.4,179.4M81.3,176.5L79.6,180.4M67.9,183.7L65.9,185.9M111.0,166.1L107.4,168.3M39.7,173.0L43.9,173.2M36.4,145.9L36.3,149.0M92.3,219.8L89.6,222.8M113.6,134.4L111.5,134.9M43.1,134.9L44.3,137.5M18.7,150.2L19.7,152.7M52.1,164.3L52.2,166.5M83.8,150.1L82.7,152.0M103.9,199.7L104.6,202.1M72.1,133.7L76.1,134.5M50.2,143.3L50.6,145.1M50.1,158.4L51.5,160.6M59.2,156.1L62.9,157.0M5.6,155.1L9.5,156.1M3.1,178.5L1.0,180.2M43.7,168.5L40.4,170.4M11.9,200.0L14.1,200.2M-0.5,163.7L0.5,165.4M21.1,156.1L18.3,156.9M73.8,190.3L76.9,190.8M33.6,155.4L31.8,155.5M92.7,157.5L93.1,161.8M4.9,174.1L5.8,175.8M28.0,165.4L31.9,166.2M100.5,142.9L99.2,145.7M87.0,197.6L87.4,201.0M89.2,161.1L92.0,164.1M0.3,132.1L-0.1,135.3M85.5,169.4L86.6,170.9M46.3,190.2L43.4,193.3M68.3,155.4L71.3,156.8M3.3,170.5L0.6,170.7M96.3,133.9L98.8,137.0M37.8,132.8L41.2,134.3M38.1,153.2L34.5,155.3M6.4,159.2L4.4,161.1M43.4,144.6L43.1,146.4M2.6,202.2L0.3,205.2M2.5,191.6L2.0,195.2M104.0,186.7L106.6,188.6M112.8,165.3L111.3,167.4M78.3,150.6L74.5,151.5M66.6,187.9L68.2,189.8M56.6,159.2L59.4,160.5M29.2,149.2L26.9,151.5M113.7,187.4L110.4,188.3M49.9,210.3L47.6,213.9M57.1,153.5L55.7,154.8M92.8,145.0L96.1,146.1M7.5,199.3L8.8,201.0M9.7,133.7L10.6,135.6M76.5,152.2L79.8,153.8M37.1,200.6L33.9,202.9M1.3,172.9L3.7,175.5M12.5,192.4L15.0,195.7M47.8,175.7L50.8,176.7M20.1,193.8L23.2,195.6M85.6,186.2L87.4,188.5M108.1,195.0L110.2,196.9M70.2,136.5L73.6,137.9M29.2,166.0L28.7,170.4M68.6,151.5L64.5,151.5M50.4,139.6L48.3,140.5M89.6,133.2L94.0,134.0M103.3,192.9L104.6,195.0M39.5,156.8L39.7,160.3M67.5,159.3L69.3,160.1M40.5,160.3L36.4,161.0M79.4,139.2L75.6,140.9M87.4,150.0L90.9,150.6M1.0,143.2L-0.5,147.2M113.8,147.3L113.2,149.7M48.0,181.8L49.1,185.0M94.1,133.4L93.6,135.7M105.9,147.8L104.1,151.8M17.3,199.7L17.8,202.0M69.8,136.4L66.9,136.5M47.4,155.6L49.9,157.2M3.8,141.4L2.4,143.4M111.3,152.4L113.9,154.3M18.4,149.3L15.8,149.7M92.0,167.7L95.2,168.9M37.1,171.1L41.1,171.2M86.5,169.5L86.2,172.4M16.4,167.8L18.9,168.5M73.8,137.9L75.0,141.2M101.5,143.8L100.9,146.5M43.7,176.3L46.6,176.6M53.1,156.3L50.2,158.4M63.5,138.2L63.4,142.5M34.5,161.1L35.6,164.7M88.2,206.5L87.0,208.4M29.5,185.4L29.5,187.9M95.3,148.3L94.1,150.4M78.0,136.4L77.5,138.4M108.7,222.2L106.7,222.6M44.6,163.1L48.1,165.1M93.7,165.3L96.4,168.8M89.8,165.1L93.1,165.2M114.4,150.0L111.1,151.9M61.4,151.4L62.3,153.2M41.5,165.2L45.2,167.1M114.5,145.8L115.8,149.5M83.7,151.8L84.1,153.6M89.6,184.6L91.4,185.6M105.0,202.3L108.0,203.4M4.7,174.7L8.0,175.6M43.2,194.5L44.0,196.5M101.1,145.8L103.8,146.7M107.6,136.2L104.1,136.9M25.2,154.9L22.3,157.7M21.0,149.8L19.3,152.5M51.9,144.8L55.1,145.8M78.2,150.0L78.7,154.0M1.9,135.3L-1.3,136.3M96.5,179.4L96.1,182.4M114.3,197.5L115.3,199.6M9.2,136.6L10.0,139.5M45.4,162.8L43.8,164.9M30.9,191.2L28.5,194.4M19.3,141.7L20.8,143.0M17.7,153.2L17.0,155.1M56.3,140.3L54.5,142.5M98.3,151.3L97.7,153.9M109.7,179.8L110.9,181.4M64.1,154.8L64.0,157.5M43.0,188.3L46.5,188.6M52.1,154.6L53.3,156.0M60.2,155.1L62.0,157.9M24.1,180.0L22.1,181.7M86.7,170.6L83.9,172.8M14.7,175.9L13.0,179.8M46.5,212.0L48.3,213.1M31.4,144.1L28.8,144.8M19.5,134.0L21.1,135.5M20.9,164.7L17.4,165.7M32.3,160.2L31.5,162.6M63.2,182.8L62.0,186.8M71.5,175.8L71.2,180.1M30.0,149.4L28.3,153.5M20.6,189.0L17.8,189.5M58.3,132.2L55.4,133.9M40.7,169.9L42.2,171.2M113.8,140.3L115.9,142.1M114.3,179.4L110.5,181.4M29.8,144.8L32.7,146.5M114.9,186.4L113.2,189.8M84.8,143.7L84.2,147.3M22.8,152.0L20.1,153.8M58.8,189.1L62.7,190.6M64.3,177.9L67.0,179.8M105.3,176.6L107.4,176.9M61.2,150.0L58.0,151.1M62.8,151.8L59.3,153.3M89.6,139.0L91.1,140.7M26.2,198.5L27.3,200.4M102.8,142.7L101.3,144.8M74.1,169.1L71.2,169.7M32.5,199.7L29.5,202.0M95.5,186.1L93.7,186.7M30.1,163.6L31.9,166.0M48.9,151.1L48.6,153.0M58.7,189.4L57.0,190.6M64.1,144.3L62.1,144.3M45.1,163.7L43.3,167.3M88.1,208.3L88.3,211.1M63.8,189.9L62.5,192.8M11.5,150.7L8.5,152.3M73.9,159.1L75.2,162.1M18.6,189.6L19.1,193.2M96.4,184.0L98.5,184.3M108.9,143.9L112.1,145.9M26.7,185.4L25.3,187.5M8.4,153.5L9.6,155.3M89.9,207.0L93.3,207.4M16.8,158.5L20.5,161.1M91.7,183.3L94.2,184.2M5.1,171.8L2.2,172.2M35.4,135.0L32.4,137.9M36.4,191.6L39.9,192.2M45.1,153.8L45.0,156.8M95.1,171.0L95.1,175.0M102.0,180.6L102.5,182.6M100.2,139.9L103.1,141.5M54.5,177.2L51.0,177.9M77.8,158.8L77.7,162.5M13.6,142.0L12.2,145.7M53.4,168.6L56.8,170.3M93.9,145.2L91.5,146.7M27.1,194.0L27.5,197.4M94.5,167.1L97.0,169.3M64.5,135.3L62.9,136.8M65.0,159.2L67.5,160.3M14.4,164.2L11.0,165.0M100.1,165.8L98.1,167.3M70.4,133.9L71.3,136.5M36.4,153.3L39.6,155.4M31.1,147.7L32.5,149.4M62.5,208.1L60.5,208.4M92.5,209.0L92.6,212.3M95.6,175.2L93.9,177.6M8.1,160.7L6.8,162.2M25.9,163.8L22.9,164.9M34.0,155.1L36.2,157.7M59.3,144.8L57.2,148.6M18.3,157.4L16.7,159.8M98.4,161.1L101.1,161.3M42.2,162.8L45.6,164.2M78.8,195.1L74.9,196.7M84.3,207.6L85.4,210.0M69.1,200.4L68.2,204.2M32.6,140.7L35.9,141.5M58.3,155.9L56.9,157.1M32.3,183.1L31.5,185.3M80.4,132.4L81.1,135.9M102.4,135.3L101.8,137.1M29.8,150.3L32.4,153.5M21.6,151.1L20.8,154.6M21.1,173.4L21.9,176.3M60.5,157.1L58.5,157.1M77.9,172.2L80.5,173.1M95.5,135.5L97.2,136.6M33.0,170.2L34.6,171.3M51.7,133.7L49.7,136.1M107.3,134.7L110.7,136.5M81.4,168.9L79.7,170.3M96.9,142.5L99.5,142.7M57.2,142.2L53.8,143.5M6.9,167.8L4.2,170.3M112.0,137.2L109.3,137.3M64.1,135.7L64.3,139.3M5.6,216.2L1.8,216.9M68.5,142.9L66.6,144.3M57.4,194.7L55.5,195.9M104.7,212.6L107.0,214.3M62.8,149.7L66.2,151.1M83.1,179.7L85.4,181.2M78.6,141.7L74.2,142.1M4.0,167.2L2.7,170.5M95.9,185.3L97.5,187.3M31.7,140.5L29.1,140.9M44.9,160.8L40.9,162.3M97.1,168.5L98.9,171.0M68.7,197.2L70.4,201.3M21.5,176.5L23.8,177.9M59.9,134.3L62.0,136.8M42.5,181.5L45.8,183.8M32.7,189.9L35.2,190.1M89.8,159.1L88.1,160.4M18.2,162.3L17.7,165.5M97.5,207.8L100.3,209.5" stroke="#2e9028" stroke-width="1.15" stroke-linecap="round" fill="none"/>
<path d="M15.8,135.2L16.7,135.3M107.2,208.0L107.5,208.9M22.1,213.6L23.6,213.6M89.8,185.4L89.4,186.3M13.8,196.5L13.5,198.0M105.9,154.4L106.5,154.8M35.7,174.7L35.2,175.3M53.0,168.9L52.4,169.3M55.7,141.6L54.7,141.8M27.8,138.2L26.9,138.4M48.5,147.4L47.8,147.8M90.8,178.7L90.8,180.3M58.7,166.4L59.7,167.4M66.8,152.5L67.1,153.3M57.9,184.0L59.2,184.5M60.3,140.4L59.3,141.2M79.4,164.5L80.1,165.2M115.3,160.2L114.1,160.7M63.2,171.8L62.7,172.6M30.5,185.4L30.4,186.4M55.3,203.6L55.9,204.6M8.9,152.4L10.0,152.6M2.5,152.0L2.0,152.4M110.8,191.8L111.0,193.3M90.1,155.8L89.7,156.3M110.4,191.9L109.9,192.7M92.9,147.9L93.0,148.9M20.3,215.5L20.0,216.2M50.3,155.5L51.4,156.0M108.3,142.9L108.5,144.0M19.5,200.2L20.8,200.7M71.9,155.3L72.9,155.3M70.2,171.3L70.7,171.7M92.8,171.1L93.5,171.9M110.8,144.5L109.9,144.7M53.1,202.5L51.8,202.6M73.2,140.8L72.4,141.1M17.5,139.3L17.3,139.9M107.0,144.9L108.2,145.4M6.2,148.4L6.9,149.4M72.6,167.0L73.4,167.3M62.6,150.9L62.2,152.3M114.7,211.7L114.9,212.8M79.6,159.1L79.2,159.9M33.9,175.1L34.3,176.6M36.9,159.7L37.4,160.2M61.8,199.9L61.2,200.2M111.0,167.3L109.6,167.9M64.4,192.1L64.4,192.9M1.4,161.9L2.1,162.9M103.6,201.7L104.3,202.5M71.6,137.4L70.3,137.7M84.4,178.1L83.6,179.2M42.6,138.6L42.7,139.4M60.8,147.5L60.1,148.9M75.3,133.3L74.0,133.7M100.2,144.1L101.4,145.0M113.1,149.7L113.7,150.6M42.9,201.9L43.0,203.1M109.0,159.6L109.3,160.6M109.0,140.2L110.1,140.4M22.2,181.2L21.5,182.6M91.7,204.6L91.4,205.5M105.2,137.6L105.5,138.3M103.1,139.8L102.3,140.2M9.7,201.3L9.4,202.7M30.3,149.5L30.5,150.3M72.7,187.2L71.6,187.4M34.5,171.3L34.4,172.1M6.3,145.2L5.2,145.5M46.4,154.9L47.2,155.0M77.3,184.6L77.8,185.1M32.3,208.5L33.7,209.0M60.0,156.7L59.1,157.4M9.6,143.7L9.0,144.4M51.6,154.7L51.6,155.8M63.2,202.2L63.6,202.7M64.1,160.7L64.7,160.8M3.2,139.9L2.0,140.7M61.7,156.8L62.6,157.5M78.2,142.8L78.9,142.9M114.2,211.4L114.6,212.6M22.4,187.3L23.3,187.8M82.4,149.9L83.1,150.6M103.4,144.6L103.8,145.5M59.4,153.1L60.8,153.7M88.7,162.4L89.6,163.4M1.0,184.5L2.4,185.2M87.0,175.3L86.1,176.5M34.2,140.2L34.9,140.7M101.4,161.1L102.4,161.4M86.8,162.4L85.7,162.5M93.9,153.9L94.9,154.7M19.5,185.6L19.7,186.5M70.4,186.7L70.9,187.9M45.8,158.0L44.6,158.2M106.1,150.5L104.8,150.5M54.8,134.8L54.3,135.3M5.4,186.4L4.5,186.6M70.3,148.0L70.9,148.7M57.3,188.6L56.6,189.8M103.3,170.7L102.8,171.6M70.2,193.1L70.1,193.9M85.6,196.8L84.9,198.0M40.3,154.0L40.4,155.2M31.4,131.6L31.8,132.8M42.3,148.2L42.0,149.3M12.7,198.8L13.2,199.8M68.9,198.6L67.5,198.6M85.1,196.6L85.7,197.0M26.3,149.3L26.3,150.0M84.7,148.2L83.9,149.1M2.4,191.9L1.8,193.2M98.6,201.6L99.6,202.6M13.1,189.3L11.6,189.4M94.7,137.7L95.6,138.4M92.6,193.6L91.1,194.0M28.2,138.1L29.7,138.4M21.7,174.8L22.5,174.9M115.0,204.3L115.5,204.8M110.6,148.8L112.0,149.2M68.6,139.4L69.4,139.9M5.7,136.5L5.1,136.8M107.4,133.3L106.3,134.3M45.4,141.0L45.0,141.7M5.7,143.1L6.4,144.3M107.6,191.6L107.5,192.4M112.1,161.8L113.3,162.2M19.2,214.0L20.0,214.7M0.3,157.1L0.4,158.0M93.6,155.5L94.7,156.0M37.7,168.4L38.4,168.7M104.3,167.3L104.3,168.0M33.2,148.2L33.8,149.6M9.3,145.2L10.7,145.3M69.8,139.3L70.6,139.9M112.4,159.3L111.8,159.9M17.2,167.8L17.1,168.9M35.3,189.1L34.5,189.2M109.6,154.3L110.7,155.4M20.4,150.3L20.9,150.6M90.7,191.8L91.3,193.0M83.7,167.4L84.0,168.7M42.9,199.4L44.1,199.6M92.4,204.0L91.4,204.1M1.2,132.0L1.7,133.0M93.6,157.7L92.7,158.0M110.5,179.0L110.5,180.3M25.5,214.7L26.2,215.7M27.0,152.9L25.8,153.5M34.0,142.1L34.6,142.2M108.0,198.5L108.9,198.8M79.1,172.9L78.0,173.4M113.7,132.4L112.8,133.0M101.4,142.9L99.8,143.0M63.1,175.1L62.2,176.3M102.4,198.4L103.2,199.1M91.6,142.8L90.6,143.6" stroke="#a8b8a4" stroke-width="1.15" stroke-linecap="round" fill="none"/>
<path d="M42.8,194.4L38.8,195.7M75.9,222.7L72.4,224.1M57.4,223.3L58.7,224.1M79.4,214.0L79.9,218.5M36.8,207.1L34.2,207.4M-0.7,213.8L1.3,214.2M79.9,219.3L83.4,220.8M59.1,222.7L62.0,222.7M103.5,221.9L100.0,224.1M5.8,210.8L5.1,210.9M92.3,213.4L90.1,217.3M22.6,220.1L20.0,222.2M37.4,212.6L38.8,216.0M71.2,218.0L67.1,219.0M43.6,221.6L46.8,223.5M68.5,220.1L67.3,223.2M0.7,198.6L1.6,198.8M109.1,222.1L108.6,225.9M66.8,217.0L69.6,220.2M2.4,208.5L1.1,211.1M63.6,221.1L63.6,223.4M52.6,205.4L52.3,208.2M95.7,217.2L92.3,218.0M57.7,218.8L55.7,219.7M56.5,214.0L52.8,214.9M28.2,212.2L27.9,215.5M82.6,203.7L85.1,205.8M8.5,214.7L6.0,217.2M99.0,202.1L97.7,205.6M90.6,200.6L92.5,204.3M21.5,196.6L20.8,200.8M76.6,221.2L79.7,224.1M76.0,222.7L73.9,222.9M4.8,214.4L6.6,215.7M51.0,213.7L53.3,214.7M21.6,208.1L23.8,210.2M36.2,209.9L38.3,212.2M42.2,212.5L45.3,215.2M54.6,216.1L51.4,216.1M16.5,201.3L17.0,203.4M64.1,217.9L63.9,219.7M21.3,217.3L22.8,219.3M101.9,220.8L105.2,223.3M67.3,195.5L69.9,198.0M49.9,204.0L52.6,204.6M8.3,199.8L10.0,201.4M94.4,219.4L96.1,220.9M72.4,213.8L70.4,214.2M74.3,200.5L77.6,202.9M53.9,216.6L57.1,218.3M42.9,207.7L45.7,209.0M24.0,212.0L26.6,212.2M83.0,217.9L85.8,219.7M65.2,207.8L68.8,209.2M100.8,215.4L104.9,216.3M81.2,213.9L78.9,214.9M47.4,201.4L46.3,203.1M100.9,207.9L103.1,208.1M52.9,196.3L50.7,198.6M87.9,211.5L88.1,212.9" stroke="#6a7a68" stroke-width="1.15" stroke-linecap="round" fill="none"/>
<path d="M61.1,203.0L63.4,206.6M63.8,201.7L63.9,203.6M13.9,203.6L16.2,203.8M94.4,216.8L96.6,217.8M32.7,215.6L28.7,215.7M3.8,216.8L1.4,219.1M100.0,199.4L97.3,201.8M70.1,213.2L72.6,215.7M43.0,200.5L44.7,201.0M110.6,203.2L112.6,204.0M99.0,215.7L96.1,216.4M113.8,214.6L111.6,218.4M78.0,206.4L81.0,207.6M109.0,219.5L108.8,220.5M62.4,214.3L62.8,218.6M22.5,207.6L20.6,210.3M13.0,203.9L13.3,205.2M110.4,218.2L106.7,219.8M20.0,215.6L16.2,217.5M22.9,221.1L22.1,224.3M35.8,204.1L35.9,206.6M43.5,207.7L46.3,209.5M64.2,210.4L62.2,214.0M90.5,213.1L90.4,214.7M112.0,202.0L112.6,204.1M50.9,208.9L55.2,210.1M0.9,206.3L1.7,210.4M93.6,212.4L90.7,214.7M65.9,216.2L66.6,218.8M51.8,208.7L49.9,211.8M24.3,209.5L24.1,212.6M92.7,203.4L88.9,203.7M90.1,202.9L94.1,204.2M22.6,212.1L21.1,215.2M81.6,217.3L82.5,219.2M76.6,214.7L74.6,217.5M109.5,221.3L112.2,221.7M76.5,223.7L74.3,223.9M41.1,220.2L42.3,222.4M66.3,222.2L65.7,225.5M24.8,207.8L23.0,207.9M44.5,213.5L42.7,216.7M104.7,199.4L103.3,201.1M33.6,207.0L32.9,210.5M96.9,208.2L94.7,209.7M101.1,209.7L103.4,209.8M112.7,211.1L113.0,214.6M51.7,194.5L50.5,198.1M47.9,223.7L50.2,224.3M49.7,203.7L51.2,203.7M67.7,222.2L66.3,225.8M45.5,212.6L44.9,214.0M69.5,211.1L69.5,213.1M96.1,219.8L97.8,223.3M89.4,203.6L91.9,205.6M80.7,222.0L81.2,224.0M87.6,220.2L86.9,220.6M67.6,217.6L70.9,218.7M26.8,215.9L23.7,216.8" stroke="#3a8030" stroke-width="1.15" stroke-linecap="round" fill="none"/>
<path d="M5.3,215.3L4.9,217.5M46.9,208.4L46.5,209.6M10.1,211.6L11.2,212.9M109.7,202.0L108.9,204.0M61.3,217.2L59.5,217.3M58.2,217.7L59.3,219.6M18.0,220.5L17.9,222.0M22.8,196.4L23.0,197.4M7.4,221.7L6.6,221.8M38.6,216.3L37.2,217.4M80.3,216.5L82.0,217.6M95.2,221.5L96.4,222.2M16.1,217.8L14.0,217.8M92.2,223.2L94.1,224.0M75.4,209.9L75.0,211.3M114.0,208.9L113.0,210.0M6.9,202.7L6.3,203.4M58.3,211.6L59.0,212.5M15.2,215.9L15.4,216.8M69.3,200.1L69.4,201.2M42.9,207.9L41.8,208.6M101.0,213.1L101.4,215.3M17.6,209.9L19.2,210.8M50.6,211.3L51.6,213.4M105.2,214.3L107.3,214.9M105.0,203.6L105.9,204.7M84.3,213.2L83.6,215.5M107.3,214.4L107.7,215.0M51.6,212.6L52.8,212.8M103.2,197.4L105.4,198.0M49.8,209.0L51.1,210.4M18.9,207.8L16.7,208.5M108.8,214.1L109.3,214.8M98.8,211.6L100.1,212.5M28.0,209.9L29.6,211.0M0.4,199.9L1.4,201.1M12.3,210.1L13.3,210.4M52.5,213.9L52.5,215.0M61.8,212.8L60.6,213.2M26.9,222.4L28.3,224.1M6.6,209.7L5.4,210.9M89.0,215.4L89.8,217.1M3.9,205.0L3.1,205.2M65.4,206.6L65.5,207.7M6.8,220.5L6.5,222.1M62.5,212.3L61.1,214.1M53.9,213.1L52.7,213.8M66.4,218.2L66.8,219.3M79.8,200.0L81.1,201.0M50.6,201.6L51.8,202.2M76.4,218.5L77.6,219.0M58.4,214.8L56.8,215.3M4.9,208.7L5.3,209.9M14.0,210.2L13.7,212.1M35.5,203.7L34.2,204.9M4.5,212.2L5.3,213.1M64.3,222.2L65.2,223.8" stroke="#e4ece0" stroke-width="1.15" stroke-linecap="round" fill="none"/>
<path d="M7.4,188.7L9.5,189.0M24.2,181.5L24.1,182.4M79.0,200.2L77.8,201.2M34.2,186.3L36.5,186.9M62.3,186.1L61.0,187.2M30.1,197.5L29.4,198.3M81.3,195.1L80.0,195.2M4.5,188.6L4.8,189.8M18.8,175.1L16.4,175.1M33.6,210.0L32.8,211.3M30.5,186.8L31.5,187.6M43.6,197.2L44.0,198.7M3.5,218.7L4.1,220.9M54.4,186.9L52.3,188.0M2.7,201.6L3.0,202.7M101.3,202.2L100.0,203.2M101.8,216.2L100.9,218.2M68.2,198.0L67.9,199.8M90.0,191.6L90.3,193.0M102.8,182.0L102.3,184.0M71.1,194.7L69.7,194.8M18.4,172.1L16.4,173.3M114.1,177.9L115.2,179.8M103.5,183.3L102.6,185.6M95.8,194.2L95.2,194.9M63.8,192.6L63.5,194.1M115.2,177.7L113.8,177.7M30.8,185.8L32.6,186.3M26.6,194.6L26.2,196.1M89.0,176.7L89.4,177.9M82.9,180.9L82.8,182.7M69.4,179.9L70.7,180.7M86.7,189.3L85.3,189.4M93.6,203.9L94.1,204.5M72.1,219.2L71.7,221.4M22.0,174.1L23.7,174.2M55.3,186.6L56.4,187.1M79.0,183.2L79.0,184.1M54.3,185.1L55.1,185.9M100.6,213.5L101.0,214.8M55.5,220.5L55.5,222.0M3.2,213.7L4.8,213.8M12.3,188.8L14.0,189.4M97.3,182.9L96.0,183.0M62.5,178.5L62.0,179.7M81.5,177.5L79.9,178.8M13.4,181.2L14.1,182.1M110.9,186.0L112.6,187.2M41.2,217.5L40.1,218.2M94.3,218.6L92.6,219.5M38.8,215.4L40.5,215.6M57.0,189.8L58.4,190.1M78.1,176.0L78.1,176.9M9.3,214.3L7.7,215.8M63.4,181.2L62.1,183.2M61.5,202.3L61.6,203.7M111.9,199.9L110.4,200.7M86.8,172.9L85.8,173.2M69.1,208.3L67.4,208.4M57.2,196.7L58.4,198.0M49.4,189.1L48.4,189.2M86.4,173.4L86.5,174.5M83.9,180.8L85.7,181.7M87.8,210.0L89.7,211.4M30.1,196.7L31.4,196.9M9.9,172.5L11.9,172.9M6.3,176.0L6.7,177.3M18.6,198.3L20.0,198.5M22.5,206.6L23.2,207.3M36.0,190.3L35.3,190.8M107.9,205.7L109.8,206.3M14.5,211.8L12.9,212.9M111.5,220.3L110.4,220.4M65.2,191.5L65.2,192.8M67.7,197.5L65.8,198.6M73.1,205.7L75.0,206.5M105.2,173.6L105.5,175.7M68.0,183.6L67.9,184.4M112.5,186.2L112.6,187.5M12.6,202.5L12.2,204.8M91.5,178.9L92.9,180.0M40.4,202.4L38.6,203.1M80.5,174.3L78.9,175.1M19.9,195.0L19.3,197.3M99.3,176.3L98.7,177.1M30.9,195.7L29.9,197.7M72.8,197.2L74.2,197.6M81.1,206.4L79.5,208.2M13.4,193.4L12.6,194.3M90.8,176.7L92.4,177.6M113.4,179.6L114.1,180.0M2.6,177.7L1.4,178.4M18.3,197.2L18.0,198.2M9.2,179.4L10.7,179.8M80.1,176.3L82.1,177.3M16.4,181.5L15.3,181.9M64.7,194.5L62.5,195.3M55.2,179.6L55.3,181.2M34.6,183.4L33.7,185.3M98.7,190.8L98.4,191.9M104.4,191.6L105.3,191.8M24.4,175.2L23.6,176.9M27.5,179.0L26.8,180.1M1.8,194.1L2.8,195.5M30.4,196.0L29.2,196.8M62.0,189.1L62.7,189.7M69.1,210.1L67.2,210.7M114.9,193.4L114.8,195.4M42.1,210.6L40.9,211.9M24.6,187.4L25.4,188.1M29.4,196.4L30.3,198.4M111.7,187.6L113.2,188.7M45.6,200.2L44.1,200.4M5.9,197.8L4.7,198.4M53.7,210.3L51.8,211.8M52.6,183.3L54.4,183.9M115.0,175.3L116.2,176.7M97.6,175.3L97.4,176.6M18.6,182.1L18.7,183.0M6.8,182.5L6.3,183.3M34.0,171.3L33.4,173.6M26.1,171.5L25.4,173.7M0.1,189.8L1.6,190.8M66.7,194.3L65.1,194.3M78.5,181.1L76.9,181.2M22.2,202.6L23.1,204.4M24.3,207.2L22.4,207.4M111.0,192.9L110.6,194.2M64.5,197.4L65.4,198.0M42.0,192.4L41.9,193.8M73.9,192.9L72.3,193.7M1.4,186.0L2.5,186.3M55.7,218.6L54.1,219.6M112.0,181.0L112.6,181.8M22.0,182.1L23.2,182.2M94.3,195.2L94.9,196.2M73.0,172.9L71.4,173.5" stroke="#d8e2d6" stroke-width="1.15" stroke-linecap="round" fill="none"/>
<path d="M48.7,214.2L45.2,216.3M23.4,210.3L23.5,213.2M38.4,219.9L35.1,220.2M35.8,219.0L34.0,222.7M11.1,221.9L8.8,223.2M95.1,221.9L97.7,222.8M48.7,215.6L50.5,216.1M1.2,192.7L2.7,195.4M65.1,212.7L64.5,214.8M26.7,209.6L28.8,211.4M10.2,204.5L9.2,207.4M97.5,220.1L96.1,224.2M45.0,222.0L41.9,222.6M42.4,222.1L44.5,224.1M46.4,215.2L48.8,215.6M40.0,212.7L42.1,213.8M72.5,205.2L71.6,207.1M97.3,220.1L99.1,221.5M40.5,222.1L43.0,225.8M99.2,200.3L101.6,201.7M45.1,218.3L42.5,219.4M33.2,218.0L36.5,218.5M92.5,214.4L91.7,218.0M87.1,209.4L85.3,210.7M108.2,210.0L108.1,212.4M52.2,222.1L53.5,223.0M5.7,211.7L9.8,211.7M33.1,219.1L36.7,221.2M6.7,207.3L5.3,210.2M52.0,211.5L54.6,212.9M34.7,196.4L37.6,197.3M3.7,221.3L6.9,221.5M36.0,217.9L32.5,219.4M28.9,221.9L27.4,224.5M32.9,212.3L31.5,213.5M92.7,205.7L95.8,207.5M102.1,215.5L103.7,216.8M51.1,209.8L54.3,212.6M98.7,193.9L100.9,194.7M87.9,221.1L90.5,223.1M112.9,213.5L116.5,213.7M40.9,217.4L44.0,219.5M58.3,207.9L57.5,211.8M8.3,197.2L9.4,201.1M46.5,208.5L49.5,211.9M73.3,217.7L71.8,219.2M83.4,210.8L81.0,214.0M92.0,219.1L90.8,222.2M72.3,207.5L70.8,211.2M54.7,219.6L51.6,222.0" stroke="#5a6a58" stroke-width="1.15" stroke-linecap="round" fill="none"/>
<ellipse cx="20" cy="165" rx="16" ry="20" fill="#3a3f3a" opacity="0.22"/>
<ellipse cx="70" cy="172" rx="20" ry="26" fill="#6ad84a" opacity="0.14"/>
<ellipse cx="100" cy="150" rx="14" ry="14" fill="#3a3f3a" opacity="0.15"/>
<path d="M8,224C10,214 16,207 24,207C32,207 36,214 38,224Z" fill="#6f766e" opacity="0.55"/>
<path d="M48,224C52,212 60,207 66,208C72,209 76,215 78,224Z" fill="#6f766e" opacity="0.5"/>
<path d="M10,223C12,216 15,210 21,208C28,207 33,212 36,223" fill="none" stroke="#dde4da" stroke-width="0.8" opacity="0.45"/>
<path d="M50,223C53,214 58,210 64,209C71,211 74,216 77,223" fill="none" stroke="#dde4da" stroke-width="0.8" opacity="0.45"/>
</g>
<rect x="3.7" y="135.8" width="107.1" height="83.8" rx="2.5" fill="none" stroke="#dfe6dc" stroke-width="1.6" opacity="0.6" filter="url(#gb)"/>
<rect x="1.7" y="133.8" width="111.1" height="87.8" rx="4.5" fill="none" stroke="#000" stroke-width="2.9"/>
<defs><filter id="gb" x="-50%" y="-50%" width="200%" height="200%"><feGaussianBlur stdDeviation="0.9"/></filter></defs>
<g clip-path="url(#cl2)">
<rect x="0" y="246" width="116" height="92" fill="#50544e"/>
<path d="M72.0,310.9h1.4v1.2h-1.4zM72.5,313.3h1.4v1.3h-1.4zM75.1,317.7h0.9v0.8h-0.9zM110.3,263.5h0.9v0.9h-0.9zM92.3,277.3h1.0v0.9h-1.0zM77.6,272.8h0.8v0.8h-0.8zM88.9,297.9h0.9v0.8h-0.9zM89.6,297.8h1.5v1.3h-1.5zM49.2,272.8h0.9v0.8h-0.9zM12.1,300.3h1.2v1.1h-1.2zM13.7,298.2h1.3v1.2h-1.3zM98.1,245.7h0.7v0.6h-0.7zM95.8,246.1h0.7v0.6h-0.7zM79.8,263.0h1.3v1.1h-1.3zM110.3,294.5h1.3v1.2h-1.3zM112.8,296.6h1.2v1.1h-1.2zM115.4,296.4h1.5v1.3h-1.5zM112.7,295.5h0.9v0.8h-0.9zM47.6,263.7h1.3v1.2h-1.3zM86.7,293.4h1.1v1.0h-1.1zM34.6,305.0h0.7v0.7h-0.7zM63.6,255.0h1.2v1.1h-1.2zM64.2,259.4h1.2v1.1h-1.2zM3.7,296.7h1.3v1.1h-1.3zM5.4,299.8h1.4v1.3h-1.4zM6.3,297.3h1.1v1.0h-1.1zM7.8,295.7h1.1v1.0h-1.1zM43.4,304.7h1.1v1.0h-1.1zM40.9,304.9h1.3v1.2h-1.3zM81.1,275.3h0.9v0.8h-0.9zM82.8,276.5h1.2v1.1h-1.2zM82.7,279.5h1.3v1.2h-1.3zM55.0,294.1h0.8v0.7h-0.8zM114.5,323.1h0.9v0.8h-0.9zM114.3,296.4h0.9v0.8h-0.9zM26.1,254.4h1.2v1.1h-1.2zM27.1,252.5h0.8v0.7h-0.8zM105.4,265.9h0.7v0.6h-0.7zM104.6,264.9h1.0v0.9h-1.0zM105.2,268.5h0.9v0.8h-0.9zM109.2,267.2h0.8v0.7h-0.8zM69.3,280.4h0.9v0.8h-0.9zM70.4,281.6h1.1v1.0h-1.1zM47.3,265.8h1.1v1.0h-1.1zM80.8,248.7h1.1v1.0h-1.1zM81.2,248.0h1.4v1.3h-1.4zM82.4,249.9h1.4v1.3h-1.4zM38.8,291.2h0.7v0.7h-0.7zM40.6,290.7h1.2v1.1h-1.2zM-0.7,249.4h0.7v0.6h-0.7zM0.3,250.2h1.3v1.1h-1.3zM0.7,248.8h0.8v0.7h-0.8zM55.7,294.1h1.3v1.1h-1.3zM10.1,257.5h0.8v0.7h-0.8zM13.2,255.9h1.3v1.2h-1.3zM14.3,254.6h1.1v1.0h-1.1zM45.9,267.1h1.1v1.0h-1.1zM108.4,272.8h0.8v0.7h-0.8zM85.2,292.3h1.0v0.9h-1.0zM86.6,293.3h0.9v0.8h-0.9zM84.9,293.1h0.7v0.6h-0.7zM97.9,301.7h1.4v1.3h-1.4zM102.2,296.8h0.9v0.8h-0.9zM105.1,296.8h1.1v1.0h-1.1zM19.9,285.3h1.4v1.3h-1.4zM21.9,284.1h0.7v0.7h-0.7zM60.6,287.9h1.4v1.3h-1.4zM80.3,288.4h0.8v0.7h-0.8zM27.7,282.7h1.0v0.9h-1.0zM32.1,262.5h1.3v1.2h-1.3zM98.6,249.9h1.3v1.1h-1.3zM104.2,306.5h1.3v1.2h-1.3zM58.2,322.1h0.9v0.8h-0.9zM18.2,261.1h1.2v1.1h-1.2zM77.6,257.9h0.8v0.7h-0.8zM52.7,286.8h1.4v1.2h-1.4zM50.8,290.0h1.3v1.2h-1.3zM57.1,249.3h1.2v1.0h-1.2zM17.0,272.7h1.0v0.9h-1.0zM32.5,303.0h1.0v0.9h-1.0zM31.1,305.5h1.0v0.9h-1.0zM32.8,307.7h1.2v1.0h-1.2zM47.0,272.8h1.3v1.1h-1.3zM45.6,271.3h1.4v1.2h-1.4zM99.0,294.8h1.3v1.1h-1.3zM54.9,300.9h0.8v0.7h-0.8zM53.7,297.5h1.0v0.9h-1.0zM-0.8,301.4h1.0v0.9h-1.0zM41.7,277.4h1.4v1.3h-1.4zM39.8,279.3h0.9v0.8h-0.9zM36.7,277.0h1.0v0.9h-1.0zM37.2,279.5h0.8v0.7h-0.8zM28.7,303.4h1.2v1.1h-1.2zM22.8,301.3h1.4v1.2h-1.4zM22.2,303.1h1.1v1.0h-1.1zM27.0,287.5h0.7v0.7h-0.7zM27.1,264.6h1.1v1.0h-1.1zM104.2,262.7h1.4v1.3h-1.4zM108.5,269.9h0.7v0.7h-0.7zM107.2,268.7h1.2v1.0h-1.2zM9.1,275.7h0.8v0.7h-0.8zM41.8,293.4h1.2v1.1h-1.2zM112.0,306.8h1.3v1.1h-1.3zM114.6,306.9h1.4v1.3h-1.4zM116.6,274.4h1.0v0.9h-1.0zM33.1,291.9h1.3v1.2h-1.3zM96.0,250.2h0.8v0.8h-0.8zM95.6,249.8h1.3v1.2h-1.3zM33.9,269.6h1.3v1.2h-1.3zM48.9,284.3h0.7v0.7h-0.7zM49.5,282.4h1.5v1.3h-1.5zM85.2,287.7h1.1v1.0h-1.1zM85.7,293.1h1.3v1.2h-1.3zM60.8,261.6h1.4v1.2h-1.4zM61.4,264.3h0.7v0.7h-0.7zM64.9,262.4h1.0v0.9h-1.0zM64.4,273.9h1.4v1.3h-1.4zM19.4,251.2h1.0v0.9h-1.0zM21.6,249.4h0.7v0.7h-0.7zM31.8,265.3h1.1v1.0h-1.1zM36.6,269.5h1.2v1.1h-1.2zM20.0,331.9h0.9v0.9h-0.9zM20.3,332.6h1.4v1.3h-1.4zM112.8,282.7h1.3v1.2h-1.3zM109.1,284.4h1.4v1.2h-1.4zM110.5,283.0h1.3v1.2h-1.3zM71.5,301.9h1.0v0.9h-1.0zM54.2,261.0h0.9v0.8h-0.9zM57.1,260.8h0.9v0.8h-0.9zM57.4,260.5h0.8v0.8h-0.8zM57.8,260.8h1.3v1.2h-1.3zM55.3,263.1h0.8v0.7h-0.8zM11.0,328.4h1.3v1.2h-1.3zM66.6,296.9h1.2v1.0h-1.2zM31.6,318.5h0.9v0.8h-0.9zM36.2,317.8h1.5v1.3h-1.5zM107.6,291.1h1.4v1.3h-1.4zM104.9,289.8h0.9v0.8h-0.9zM105.0,292.2h1.1v1.0h-1.1zM2.7,319.6h1.2v1.1h-1.2zM44.1,268.2h1.0v0.9h-1.0zM82.8,320.3h1.3v1.2h-1.3zM94.8,248.1h1.0v0.9h-1.0zM95.7,245.7h1.4v1.2h-1.4zM93.6,249.9h0.8v0.7h-0.8zM96.0,274.4h0.9v0.8h-0.9zM65.3,253.4h1.3v1.2h-1.3zM65.2,251.2h1.2v1.1h-1.2zM65.1,253.8h0.7v0.6h-0.7zM61.7,252.2h1.3v1.2h-1.3zM21.3,279.2h1.4v1.3h-1.4zM20.3,276.9h0.8v0.7h-0.8zM114.5,263.4h1.4v1.3h-1.4zM39.3,287.6h0.7v0.7h-0.7zM70.2,324.1h1.0v0.9h-1.0zM71.6,324.7h1.3v1.2h-1.3zM84.7,283.5h1.5v1.3h-1.5zM17.3,256.4h1.3v1.1h-1.3zM20.4,254.7h0.8v0.7h-0.8zM22.3,254.6h1.3v1.1h-1.3zM40.6,267.6h0.7v0.7h-0.7zM40.3,266.2h0.9v0.8h-0.9zM42.0,268.9h0.9v0.9h-0.9zM30.2,256.3h1.4v1.3h-1.4zM21.0,313.2h1.4v1.3h-1.4zM63.6,248.5h0.9v0.8h-0.9zM66.0,248.7h0.9v0.9h-0.9zM61.8,245.9h0.8v0.7h-0.8zM21.9,315.1h1.3v1.1h-1.3zM20.7,311.6h1.0v0.9h-1.0zM18.6,315.2h1.2v1.1h-1.2zM20.5,314.8h0.9v0.8h-0.9zM21.2,297.5h0.9v0.8h-0.9zM15.4,299.9h1.0v0.9h-1.0zM21.6,303.1h0.9v0.8h-0.9zM20.3,314.7h0.8v0.7h-0.8zM22.0,316.3h0.8v0.8h-0.8zM36.4,312.5h1.4v1.2h-1.4zM61.8,292.4h1.4v1.2h-1.4zM63.6,253.1h1.3v1.1h-1.3zM85.2,255.0h1.1v1.0h-1.1zM74.8,341.4h1.5v1.3h-1.5zM74.7,335.5h0.9v0.9h-0.9zM75.2,339.1h1.3v1.2h-1.3zM74.6,335.9h1.0v0.9h-1.0zM76.1,339.0h0.8v0.7h-0.8zM86.5,289.2h1.2v1.1h-1.2zM85.0,290.2h0.8v0.7h-0.8zM71.1,285.7h0.9v0.8h-0.9zM6.7,295.2h1.2v1.1h-1.2zM5.4,297.3h0.8v0.7h-0.8zM60.1,251.2h1.4v1.3h-1.4zM108.7,296.6h1.3v1.2h-1.3zM110.6,298.1h1.4v1.3h-1.4zM108.4,293.5h0.8v0.7h-0.8zM10.3,286.1h1.5v1.3h-1.5zM7.9,283.0h1.0v0.9h-1.0zM113.7,289.6h1.1v1.0h-1.1zM112.4,293.9h1.3v1.2h-1.3zM85.8,270.3h0.8v0.7h-0.8zM67.2,272.3h1.0v0.9h-1.0zM62.4,269.6h1.1v1.0h-1.1zM72.8,271.0h1.1v1.0h-1.1zM72.7,269.1h1.4v1.2h-1.4zM74.2,311.5h1.1v1.0h-1.1zM31.1,289.6h1.4v1.3h-1.4zM29.8,291.9h0.9v0.8h-0.9zM31.3,291.0h1.2v1.0h-1.2zM9.7,301.2h1.1v1.0h-1.1zM64.9,253.9h1.2v1.1h-1.2zM118.1,255.7h1.2v1.1h-1.2zM114.2,256.6h1.0v0.9h-1.0zM117.2,258.8h1.5v1.3h-1.5zM70.4,248.4h1.3v1.2h-1.3zM72.7,248.0h1.0v0.9h-1.0zM73.7,248.0h1.3v1.2h-1.3zM41.0,335.9h1.4v1.3h-1.4zM39.8,337.0h0.7v0.6h-0.7zM15.6,251.3h1.0v0.9h-1.0zM16.1,252.2h1.4v1.2h-1.4zM13.4,277.5h0.7v0.6h-0.7zM47.5,279.2h1.2v1.1h-1.2zM12.3,298.0h0.8v0.7h-0.8zM7.6,271.0h1.2v1.1h-1.2zM8.8,273.1h1.2v1.1h-1.2zM11.3,263.8h0.9v0.8h-0.9zM80.1,260.3h1.4v1.2h-1.4zM82.4,257.2h0.8v0.7h-0.8zM2.5,270.5h1.0v0.9h-1.0zM-0.7,292.2h1.4v1.3h-1.4zM100.5,324.7h1.3v1.2h-1.3zM68.9,300.5h1.2v1.1h-1.2zM23.3,255.5h1.3v1.2h-1.3zM20.6,260.6h0.8v0.7h-0.8zM6.0,258.4h1.0v0.9h-1.0zM8.6,256.6h0.8v0.7h-0.8zM8.5,291.9h0.9v0.8h-0.9zM70.2,321.7h1.0v0.9h-1.0zM68.0,318.6h1.4v1.3h-1.4zM60.4,303.5h0.9v0.8h-0.9zM111.1,265.6h1.2v1.1h-1.2zM110.4,266.4h0.7v0.7h-0.7zM36.9,258.3h0.7v0.7h-0.7zM15.4,270.7h0.9v0.8h-0.9zM107.3,329.2h0.8v0.7h-0.8zM77.1,266.2h1.0v0.9h-1.0zM72.8,268.6h0.8v0.7h-0.8zM104.3,277.1h1.3v1.1h-1.3zM84.1,295.4h1.1v1.0h-1.1zM80.5,296.0h1.1v1.0h-1.1zM80.6,296.5h1.0v0.9h-1.0zM85.2,295.3h0.8v0.7h-0.8zM60.5,311.7h1.0v0.9h-1.0zM63.1,278.0h1.4v1.3h-1.4zM87.7,294.5h0.9v0.8h-0.9zM47.4,249.8h0.9v0.8h-0.9zM81.5,330.5h1.2v1.1h-1.2zM84.6,297.8h1.2v1.1h-1.2zM104.5,245.5h1.4v1.2h-1.4zM105.9,246.4h1.5v1.3h-1.5zM53.3,309.1h1.2v1.1h-1.2zM76.4,323.7h0.9v0.8h-0.9zM33.8,331.4h1.2v1.1h-1.2zM36.6,332.3h0.9v0.8h-0.9zM36.9,329.2h1.2v1.1h-1.2zM35.0,330.2h1.4v1.3h-1.4zM72.9,278.3h1.4v1.3h-1.4zM72.7,279.3h1.4v1.2h-1.4zM31.6,307.3h0.8v0.7h-0.8zM99.7,294.7h0.8v0.7h-0.8zM3.0,331.6h0.9v0.8h-0.9zM36.4,300.9h1.4v1.3h-1.4zM37.6,298.1h1.5v1.3h-1.5zM9.3,298.5h0.9v0.8h-0.9zM70.1,251.4h1.0v0.9h-1.0zM7.7,274.6h1.0v0.9h-1.0zM66.1,288.9h1.3v1.2h-1.3zM69.8,289.3h1.1v1.0h-1.1zM65.9,287.5h1.1v1.0h-1.1zM67.2,297.7h1.0v0.9h-1.0zM61.0,255.9h1.4v1.3h-1.4zM64.4,254.5h1.1v1.0h-1.1zM64.9,256.5h0.8v0.7h-0.8zM71.7,326.2h1.0v0.9h-1.0zM94.9,257.2h1.2v1.1h-1.2zM94.7,259.1h1.1v1.0h-1.1zM49.0,291.2h1.5v1.3h-1.5zM23.0,261.7h0.8v0.8h-0.8zM22.5,264.8h1.1v1.0h-1.1zM85.8,257.6h1.3v1.2h-1.3zM79.6,274.4h0.9v0.8h-0.9zM86.6,267.7h1.4v1.3h-1.4zM85.0,277.1h0.7v0.6h-0.7zM86.9,280.1h0.8v0.7h-0.8zM83.8,279.4h0.8v0.7h-0.8zM90.4,258.5h0.7v0.6h-0.7zM92.1,258.6h0.7v0.7h-0.7zM85.9,259.4h1.1v1.0h-1.1zM15.4,322.7h1.3v1.2h-1.3zM62.5,259.9h1.1v1.0h-1.1zM67.1,276.6h1.4v1.2h-1.4zM66.3,281.9h1.1v1.0h-1.1zM17.0,261.7h0.8v0.7h-0.8zM34.6,264.8h0.8v0.7h-0.8zM25.5,261.4h0.7v0.7h-0.7zM22.2,265.9h0.9v0.8h-0.9zM51.5,269.9h1.0v0.9h-1.0zM4.0,294.5h1.3v1.1h-1.3zM68.4,275.3h1.3v1.1h-1.3zM55.6,255.5h1.5v1.3h-1.5zM62.2,253.2h1.5v1.3h-1.5zM106.3,255.9h1.2v1.1h-1.2zM37.4,293.6h1.1v1.0h-1.1zM56.3,295.4h1.0v0.9h-1.0zM87.2,293.0h1.4v1.3h-1.4zM38.3,269.7h1.0v0.9h-1.0zM97.2,263.1h0.8v0.7h-0.8zM94.7,265.0h0.7v0.6h-0.7zM60.1,254.1h1.3v1.2h-1.3zM10.8,268.9h1.4v1.3h-1.4zM90.2,296.8h0.7v0.7h-0.7zM99.3,313.9h1.5v1.3h-1.5zM102.7,311.3h1.2v1.1h-1.2zM56.1,274.1h0.8v0.7h-0.8zM55.7,273.0h1.4v1.3h-1.4zM43.8,296.7h1.0v0.9h-1.0zM44.8,296.9h1.2v1.1h-1.2zM42.2,298.6h1.2v1.1h-1.2zM41.3,293.1h0.9v0.8h-0.9zM47.8,274.1h1.2v1.1h-1.2zM67.9,249.2h1.4v1.3h-1.4zM82.1,269.1h1.0v0.9h-1.0zM83.0,268.1h1.4v1.3h-1.4zM70.9,269.2h1.3v1.1h-1.3zM88.1,259.3h1.0v0.9h-1.0zM85.7,259.8h1.1v0.9h-1.1zM84.2,287.3h0.9v0.8h-0.9zM85.9,287.6h1.1v1.0h-1.1zM85.3,290.3h0.8v0.7h-0.8zM46.6,268.4h1.3v1.1h-1.3zM111.7,266.7h0.8v0.7h-0.8zM45.7,285.4h1.5v1.3h-1.5zM44.4,287.2h0.7v0.7h-0.7zM45.2,286.0h1.2v1.1h-1.2zM41.8,284.0h1.0v0.9h-1.0zM110.7,269.2h1.4v1.2h-1.4zM50.9,279.7h1.1v0.9h-1.1zM5.1,253.5h1.3v1.2h-1.3zM5.4,256.8h1.5v1.3h-1.5zM6.9,258.3h1.0v0.9h-1.0zM3.2,255.4h1.2v1.1h-1.2zM4.1,255.3h1.2v1.1h-1.2zM6.6,310.8h0.8v0.7h-0.8zM25.7,281.1h1.1v1.0h-1.1zM24.1,284.6h1.2v1.1h-1.2zM19.3,292.8h0.8v0.7h-0.8zM20.0,291.7h1.3v1.2h-1.3zM15.5,260.0h1.4v1.3h-1.4zM17.6,260.5h0.9v0.8h-0.9zM69.2,271.9h0.9v0.8h-0.9zM69.3,271.0h1.3v1.2h-1.3z" fill="#2c302b"/>
<path d="M73.6,315.7h1.0v0.9h-1.0zM73.2,315.2h1.0v0.9h-1.0zM73.2,318.9h0.9v0.8h-0.9zM74.2,314.0h0.8v0.8h-0.8zM111.9,266.4h1.4v1.3h-1.4zM113.1,263.3h0.8v0.8h-0.8zM111.4,265.1h1.5v1.3h-1.5zM92.3,278.8h1.2v1.1h-1.2zM92.2,280.1h1.4v1.3h-1.4zM92.8,279.8h1.4v1.3h-1.4zM80.4,275.3h1.5v1.3h-1.5zM79.6,277.2h0.7v0.7h-0.7zM73.7,276.6h1.5v1.3h-1.5zM51.3,290.1h0.8v0.8h-0.8zM50.8,293.6h1.3v1.1h-1.3zM51.2,289.1h1.1v1.0h-1.1zM51.1,288.8h1.3v1.2h-1.3zM52.1,290.2h1.2v1.1h-1.2zM67.6,246.6h1.1v1.0h-1.1zM68.3,245.9h1.0v0.9h-1.0zM88.6,298.7h0.9v0.8h-0.9zM91.5,299.7h0.8v0.7h-0.8zM91.2,302.3h0.7v0.6h-0.7zM43.1,272.0h1.5v1.3h-1.5zM46.0,272.5h1.2v1.1h-1.2zM11.5,299.0h1.1v1.0h-1.1zM12.1,297.0h1.2v1.1h-1.2zM16.3,299.0h1.1v1.0h-1.1zM95.9,249.5h1.3v1.1h-1.3zM96.8,249.1h1.2v1.1h-1.2zM95.9,247.8h1.0v0.9h-1.0zM78.7,262.1h1.1v1.0h-1.1zM110.5,292.8h1.5v1.3h-1.5zM112.4,294.3h1.2v1.1h-1.2zM47.3,260.0h1.5v1.3h-1.5zM47.6,262.1h0.8v0.7h-0.8zM48.1,262.2h0.9v0.8h-0.9zM88.2,296.3h0.8v0.7h-0.8zM85.7,251.3h1.3v1.2h-1.3zM85.5,253.6h1.4v1.2h-1.4zM83.2,255.5h1.3v1.2h-1.3zM33.3,305.8h1.4v1.3h-1.4zM64.7,258.1h0.7v0.7h-0.7zM65.2,256.1h1.0v0.9h-1.0zM64.8,256.8h0.9v0.8h-0.9zM62.9,254.7h0.7v0.7h-0.7zM66.2,255.7h0.8v0.8h-0.8zM3.1,294.4h0.8v0.8h-0.8zM7.1,295.9h1.2v1.1h-1.2zM43.1,305.5h1.1v1.0h-1.1zM44.9,305.3h1.4v1.2h-1.4zM43.4,305.7h0.7v0.7h-0.7zM44.1,305.1h1.4v1.3h-1.4zM40.5,302.7h1.2v1.0h-1.2zM82.0,269.4h0.8v0.7h-0.8zM81.9,272.5h0.9v0.8h-0.9zM84.4,274.3h1.0v0.9h-1.0zM80.0,272.0h1.0v0.9h-1.0zM82.5,273.3h1.3v1.2h-1.3zM83.0,272.5h1.2v1.1h-1.2zM82.1,280.5h0.9v0.8h-0.9zM79.1,279.0h1.0v0.9h-1.0zM81.1,279.8h1.1v1.0h-1.1zM81.1,282.8h1.1v1.0h-1.1zM113.4,321.0h1.3v1.2h-1.3zM113.9,321.6h1.2v1.1h-1.2zM115.1,320.7h0.8v0.7h-0.8zM114.0,318.8h1.4v1.3h-1.4zM26.8,254.7h1.3v1.2h-1.3zM107.1,267.2h0.8v0.7h-0.8zM107.9,266.9h1.0v0.9h-1.0zM70.8,281.1h1.5v1.3h-1.5zM71.7,282.3h0.7v0.6h-0.7zM71.4,275.5h1.4v1.3h-1.4zM70.1,285.7h1.2v1.1h-1.2zM50.6,263.9h1.0v0.9h-1.0zM50.6,262.9h0.9v0.8h-0.9zM98.5,286.6h1.4v1.3h-1.4zM95.3,288.1h0.7v0.6h-0.7zM23.5,250.2h0.8v0.7h-0.8zM22.0,247.5h0.8v0.7h-0.8zM24.6,250.2h0.9v0.8h-0.9zM22.9,250.8h0.7v0.6h-0.7zM24.4,248.8h1.1v1.0h-1.1zM80.9,250.4h0.7v0.7h-0.7zM86.4,246.3h1.4v1.2h-1.4zM42.0,292.7h1.0v0.9h-1.0zM39.0,293.4h1.3v1.1h-1.3zM38.0,290.2h1.2v1.1h-1.2zM37.6,290.6h1.1v1.0h-1.1zM3.2,251.9h0.8v0.7h-0.8zM1.2,249.7h0.9v0.8h-0.9zM1.7,251.9h1.0v0.9h-1.0zM69.4,288.5h0.8v0.7h-0.8zM13.2,253.8h1.2v1.1h-1.2zM13.8,254.8h1.3v1.1h-1.3zM11.4,253.8h1.4v1.3h-1.4zM50.5,265.9h1.4v1.3h-1.4zM49.8,263.9h1.2v1.1h-1.2zM26.1,269.1h1.3v1.1h-1.3zM25.2,269.2h1.3v1.2h-1.3zM25.3,271.7h1.2v1.1h-1.2zM112.0,275.0h1.5v1.3h-1.5zM107.7,277.0h1.2v1.1h-1.2zM110.4,274.9h1.2v1.0h-1.2zM97.0,303.4h0.9v0.8h-0.9zM93.6,302.2h0.9v0.8h-0.9zM98.5,302.9h0.9v0.8h-0.9zM99.3,306.1h1.1v1.0h-1.1zM97.1,300.4h1.3v1.2h-1.3zM104.0,296.3h0.9v0.8h-0.9zM101.4,297.4h1.2v1.1h-1.2zM103.9,296.4h1.2v1.1h-1.2zM21.8,287.0h0.8v0.7h-0.8zM19.6,284.2h1.0v0.9h-1.0zM61.7,290.8h1.4v1.3h-1.4zM59.3,290.4h1.2v1.1h-1.2zM55.3,291.9h1.0v0.9h-1.0zM81.5,287.3h0.9v0.9h-0.9zM80.0,288.6h1.4v1.3h-1.4zM79.8,288.3h1.3v1.2h-1.3zM81.5,289.3h1.0v0.9h-1.0zM27.7,288.1h1.4v1.2h-1.4zM28.4,287.4h1.0v0.9h-1.0zM34.7,262.9h0.9v0.8h-0.9zM33.4,263.8h1.4v1.2h-1.4zM102.7,245.8h1.3v1.2h-1.3zM98.3,247.4h0.8v0.7h-0.8zM101.2,302.9h1.3v1.2h-1.3zM104.2,305.7h0.9v0.9h-0.9zM104.5,302.9h1.4v1.2h-1.4zM105.5,304.1h1.5v1.3h-1.5zM58.3,322.5h1.0v0.9h-1.0zM57.0,322.4h0.8v0.7h-0.8zM98.1,303.8h0.7v0.6h-0.7zM18.0,260.6h1.1v1.0h-1.1zM21.1,258.6h0.9v0.8h-0.9zM20.4,261.8h0.9v0.8h-0.9zM19.8,260.4h0.9v0.9h-0.9zM20.6,262.2h1.0v0.9h-1.0zM104.2,339.4h1.0v0.9h-1.0zM77.8,259.4h1.2v1.0h-1.2zM79.0,259.5h1.3v1.2h-1.3zM76.6,262.5h1.0v0.9h-1.0zM52.5,286.5h0.7v0.6h-0.7zM51.0,287.3h1.5v1.3h-1.5zM49.1,289.3h1.3v1.1h-1.3zM56.8,250.5h0.9v0.8h-0.9zM59.4,249.8h1.0v0.9h-1.0zM58.3,252.5h0.8v0.7h-0.8zM17.6,279.2h1.5v1.3h-1.5zM18.9,276.9h0.8v0.7h-0.8zM16.0,275.4h1.2v1.1h-1.2zM17.7,275.1h1.3v1.2h-1.3zM14.1,274.8h1.0v0.9h-1.0zM16.4,275.3h1.0v0.9h-1.0zM54.7,316.8h1.5v1.3h-1.5zM41.9,259.1h1.4v1.3h-1.4zM43.6,259.7h1.4v1.2h-1.4zM102.1,259.4h1.4v1.3h-1.4zM97.7,261.0h0.8v0.7h-0.8zM98.7,261.2h1.4v1.2h-1.4zM29.8,306.4h1.0v0.9h-1.0zM31.1,305.7h1.2v1.1h-1.2zM31.4,307.6h1.0v0.9h-1.0zM47.3,273.7h1.4v1.3h-1.4zM49.5,273.3h0.8v0.7h-0.8zM101.2,302.6h1.3v1.1h-1.3zM101.7,297.8h1.2v1.1h-1.2zM98.4,296.2h1.3v1.1h-1.3zM100.2,298.3h1.2v1.1h-1.2zM54.5,296.7h1.2v1.1h-1.2zM-1.7,301.6h0.8v0.7h-0.8zM1.4,302.1h1.4v1.3h-1.4zM-1.2,299.6h1.2v1.1h-1.2zM1.2,300.9h1.2v1.1h-1.2zM38.6,277.1h1.0v0.9h-1.0zM38.4,278.2h1.4v1.3h-1.4zM39.4,278.1h1.0v0.9h-1.0zM37.0,278.3h0.8v0.7h-0.8zM35.6,275.2h0.9v0.8h-0.9zM25.6,302.5h1.3v1.2h-1.3zM28.3,289.7h0.9v0.8h-0.9zM25.0,264.9h1.4v1.3h-1.4zM24.3,266.0h1.0v0.9h-1.0zM102.4,263.7h1.0v0.9h-1.0zM103.6,259.1h0.8v0.8h-0.8zM100.4,263.2h1.3v1.2h-1.3zM102.1,262.7h0.9v0.8h-0.9zM109.5,270.3h1.2v1.1h-1.2zM107.9,267.1h1.4v1.2h-1.4zM105.3,266.2h1.5v1.3h-1.5zM4.7,281.9h0.8v0.7h-0.8zM8.4,278.7h1.5v1.3h-1.5zM9.0,278.2h1.2v1.1h-1.2zM8.1,275.3h1.2v1.1h-1.2zM10.0,277.6h1.1v1.0h-1.1zM8.4,278.8h1.0v0.9h-1.0zM38.0,268.8h1.1v1.0h-1.1zM36.2,268.2h0.9v0.8h-0.9zM38.2,272.3h1.3v1.1h-1.3zM39.8,270.8h1.2v1.1h-1.2zM39.5,268.7h1.4v1.2h-1.4zM114.0,302.3h1.2v1.1h-1.2zM110.8,304.2h0.8v0.7h-0.8zM112.6,304.4h1.0v0.9h-1.0zM53.7,268.4h0.7v0.7h-0.7zM111.5,278.0h1.1v1.0h-1.1zM116.7,276.2h1.0v0.9h-1.0zM116.4,276.5h1.2v1.1h-1.2zM116.6,279.1h1.0v0.9h-1.0zM114.5,280.0h0.9v0.8h-0.9zM37.8,291.7h1.4v1.2h-1.4zM96.6,247.1h1.1v1.0h-1.1zM94.1,250.6h0.9v0.8h-0.9zM96.9,248.8h1.2v1.1h-1.2zM94.8,249.4h1.1v1.0h-1.1zM2.7,265.0h1.3v1.2h-1.3zM2.8,265.8h0.8v0.7h-0.8zM5.4,264.8h0.9v0.8h-0.9zM2.8,267.6h0.9v0.8h-0.9zM-1.8,266.0h0.9v0.8h-0.9zM106.8,335.6h1.1v1.0h-1.1zM106.5,334.3h1.5v1.3h-1.5zM31.8,270.8h0.9v0.8h-0.9zM32.2,273.6h1.3v1.1h-1.3zM47.6,284.6h1.0v0.9h-1.0zM43.6,284.0h1.2v1.1h-1.2zM48.2,284.8h1.3v1.1h-1.3zM52.8,280.4h0.9v0.8h-0.9zM53.1,282.3h0.8v0.7h-0.8zM48.5,283.2h1.4v1.3h-1.4zM41.8,324.1h0.8v0.7h-0.8zM43.2,325.6h0.8v0.7h-0.8zM42.2,322.8h1.1v1.0h-1.1zM42.4,324.4h1.5v1.3h-1.5zM91.4,265.7h1.4v1.3h-1.4zM95.1,260.6h0.8v0.7h-0.8zM94.0,262.9h1.0v0.9h-1.0zM85.8,287.3h1.4v1.2h-1.4zM14.8,297.4h0.9v0.8h-0.9zM11.9,300.1h1.5v1.3h-1.5zM15.4,301.8h1.0v0.9h-1.0zM11.2,299.8h0.8v0.7h-0.8zM10.7,317.6h1.3v1.1h-1.3zM63.0,275.9h0.9v0.8h-0.9zM21.5,252.8h0.8v0.7h-0.8zM24.1,255.0h0.8v0.7h-0.8zM37.6,268.4h1.3v1.2h-1.3zM36.7,268.4h1.2v1.1h-1.2zM20.6,333.4h1.1v1.0h-1.1zM20.2,331.5h1.1v1.0h-1.1zM19.5,331.0h1.1v1.0h-1.1zM109.6,286.2h1.2v1.1h-1.2zM110.1,281.8h1.5v1.3h-1.5zM107.8,281.9h1.3v1.1h-1.3zM57.5,258.9h0.7v0.6h-0.7zM56.8,259.4h0.7v0.7h-0.7zM57.0,260.8h1.3v1.1h-1.3zM55.7,260.2h0.7v0.7h-0.7zM56.3,259.4h1.4v1.3h-1.4zM57.8,261.0h1.3v1.2h-1.3zM58.2,263.9h1.1v1.0h-1.1zM54.8,260.8h1.5v1.3h-1.5zM10.6,324.2h1.1v1.0h-1.1zM11.5,327.6h1.2v1.1h-1.2zM12.8,326.2h1.4v1.3h-1.4zM68.3,299.5h1.1v1.0h-1.1zM34.3,320.2h1.3v1.1h-1.3zM28.1,317.7h1.2v1.1h-1.2zM104.2,291.1h0.8v0.7h-0.8zM104.7,291.3h1.4v1.2h-1.4zM5.2,320.5h1.3v1.2h-1.3zM6.1,318.1h0.7v0.6h-0.7zM4.4,321.1h0.8v0.8h-0.8zM101.3,336.9h0.8v0.7h-0.8zM106.3,336.6h0.7v0.7h-0.7zM103.9,336.1h1.3v1.2h-1.3zM42.9,267.1h1.2v1.1h-1.2zM40.9,265.4h1.3v1.2h-1.3zM87.5,321.0h1.2v1.1h-1.2zM102.7,299.2h0.9v0.8h-0.9zM99.4,296.8h0.8v0.8h-0.8zM102.4,298.8h0.8v0.7h-0.8zM95.4,249.5h1.2v1.0h-1.2zM98.6,248.6h1.3v1.2h-1.3zM93.9,247.2h0.9v0.8h-0.9zM95.4,247.2h1.3v1.2h-1.3zM0.5,284.2h1.1v1.0h-1.1zM1.5,281.6h0.8v0.7h-0.8zM2.2,286.1h0.9v0.8h-0.9zM98.9,273.6h1.2v1.1h-1.2zM97.9,273.1h1.1v1.0h-1.1zM25.5,259.9h1.4v1.3h-1.4zM22.6,258.4h1.2v1.1h-1.2zM26.2,257.9h0.7v0.7h-0.7zM65.4,257.0h1.3v1.2h-1.3zM65.7,258.1h1.3v1.2h-1.3zM20.8,279.8h1.4v1.2h-1.4zM114.0,260.7h0.9v0.8h-0.9zM41.4,286.8h0.7v0.7h-0.7zM42.8,290.5h0.9v0.8h-0.9zM37.7,288.1h0.7v0.7h-0.7zM40.7,286.1h1.4v1.3h-1.4zM70.3,321.2h0.8v0.7h-0.8zM26.9,286.6h0.8v0.7h-0.8zM27.4,285.8h1.0v0.9h-1.0zM85.5,286.5h1.2v1.1h-1.2zM21.3,254.9h1.5v1.3h-1.5zM20.7,253.8h1.4v1.3h-1.4zM22.4,257.2h1.5v1.3h-1.5zM39.0,269.3h1.3v1.2h-1.3zM30.9,256.9h1.5v1.3h-1.5zM32.1,254.2h1.4v1.2h-1.4zM29.1,253.0h1.4v1.3h-1.4zM35.8,328.8h1.5v1.3h-1.5zM68.2,246.6h1.3v1.1h-1.3zM92.8,253.2h1.3v1.2h-1.3zM22.4,311.4h0.9v0.8h-0.9zM18.5,297.5h0.8v0.7h-0.8zM21.4,306.0h1.1v1.0h-1.1zM20.6,305.9h1.4v1.3h-1.4zM24.0,306.5h0.8v0.7h-0.8zM51.9,290.6h1.4v1.3h-1.4zM50.4,291.5h0.9v0.9h-0.9zM24.4,312.0h1.1v1.0h-1.1zM39.3,312.3h1.0v0.9h-1.0zM38.5,312.0h1.1v1.0h-1.1zM40.7,309.3h0.9v0.8h-0.9zM39.1,309.8h0.8v0.7h-0.8zM38.5,317.0h1.4v1.2h-1.4zM62.5,293.8h1.3v1.1h-1.3zM58.2,295.7h1.1v1.0h-1.1zM60.8,292.2h1.3v1.2h-1.3zM64.5,253.6h1.2v1.0h-1.2zM63.3,254.5h1.5v1.3h-1.5zM63.8,254.1h1.2v1.1h-1.2zM103.5,292.0h1.0v0.9h-1.0zM103.9,293.0h1.5v1.3h-1.5zM88.3,253.6h1.3v1.2h-1.3zM87.0,252.5h1.3v1.1h-1.3zM86.6,250.8h1.4v1.2h-1.4zM77.5,335.8h1.0v0.9h-1.0zM84.1,288.1h1.0v0.9h-1.0zM85.0,288.5h1.1v1.0h-1.1zM84.3,290.9h1.2v1.0h-1.2zM1.2,296.6h1.0v0.9h-1.0zM7.0,296.6h0.9v0.8h-0.9zM4.7,292.3h1.1v1.0h-1.1zM5.3,300.1h1.3v1.2h-1.3zM57.0,252.4h0.9v0.8h-0.9zM106.4,297.3h1.5v1.3h-1.5zM110.2,299.8h1.3v1.2h-1.3zM109.5,294.6h1.1v1.0h-1.1zM110.1,295.5h0.8v0.7h-0.8zM4.0,251.6h1.1v1.0h-1.1zM2.6,250.6h1.4v1.3h-1.4zM89.0,278.0h0.8v0.7h-0.8zM90.4,277.0h1.5v1.3h-1.5zM92.9,277.7h0.9v0.8h-0.9zM91.9,276.5h0.8v0.7h-0.8zM92.0,275.2h1.0v0.9h-1.0zM20.2,259.7h0.8v0.7h-0.8zM19.3,263.9h1.0v0.9h-1.0zM11.3,285.3h1.3v1.2h-1.3zM47.7,258.7h0.8v0.7h-0.8zM110.3,291.1h1.1v1.0h-1.1zM111.1,287.1h1.0v0.9h-1.0zM114.9,292.2h1.1v1.0h-1.1zM111.6,294.3h0.8v0.7h-0.8zM85.7,264.8h0.9v0.8h-0.9zM88.1,268.2h0.8v0.7h-0.8zM86.5,269.5h1.3v1.1h-1.3zM86.2,270.6h1.0v0.9h-1.0zM58.7,269.1h0.8v0.7h-0.8zM64.7,271.2h1.0v0.9h-1.0zM74.2,271.4h0.9v0.8h-0.9zM73.4,269.4h1.5v1.3h-1.5zM53.2,258.6h1.3v1.2h-1.3zM54.7,256.7h1.0v0.9h-1.0zM53.1,254.5h1.2v1.1h-1.2zM29.8,273.3h0.9v0.8h-0.9zM34.0,272.8h1.2v1.1h-1.2zM31.5,268.4h0.8v0.8h-0.8zM29.4,271.2h1.3v1.1h-1.3zM76.1,313.0h1.3v1.2h-1.3zM72.2,313.6h1.3v1.2h-1.3zM71.6,313.1h0.8v0.7h-0.8zM71.6,311.0h1.2v1.1h-1.2zM73.1,313.0h1.1v1.0h-1.1zM31.9,293.0h1.0v0.9h-1.0zM33.6,291.9h0.8v0.8h-0.8zM5.9,304.3h1.0v0.9h-1.0zM5.5,301.8h0.9v0.8h-0.9zM3.2,303.9h1.5v1.3h-1.5zM66.4,255.7h0.9v0.8h-0.9zM64.0,256.7h0.8v0.7h-0.8zM68.3,252.4h1.0v0.9h-1.0zM118.7,254.4h1.0v0.9h-1.0zM113.4,255.6h0.7v0.7h-0.7zM114.3,254.6h0.8v0.7h-0.8zM113.5,254.8h1.5v1.3h-1.5zM72.6,277.9h1.1v1.0h-1.1zM72.4,281.1h0.8v0.7h-0.8zM75.6,279.4h0.9v0.8h-0.9zM114.4,261.0h1.4v1.3h-1.4zM111.5,262.0h1.0v0.9h-1.0zM101.1,267.8h1.0v0.9h-1.0zM101.3,268.5h1.3v1.1h-1.3zM70.7,248.1h0.9v0.8h-0.9zM40.7,336.9h1.0v0.9h-1.0zM39.4,334.7h1.0v0.9h-1.0zM41.0,339.0h1.0v0.9h-1.0zM13.8,252.4h1.0v0.9h-1.0zM13.4,253.7h1.2v1.1h-1.2zM12.6,253.7h1.0v0.9h-1.0zM13.0,279.1h1.4v1.2h-1.4zM12.7,281.1h1.4v1.3h-1.4zM48.4,279.9h0.7v0.7h-0.7zM48.4,279.4h0.8v0.7h-0.8zM12.9,296.0h1.3v1.2h-1.3zM6.4,293.9h1.2v1.1h-1.2zM70.9,325.5h1.1v0.9h-1.1zM69.3,323.9h0.8v0.7h-0.8zM7.3,274.3h1.3v1.2h-1.3zM6.3,275.0h1.1v1.0h-1.1zM105.4,280.7h1.4v1.2h-1.4zM7.7,262.9h1.0v0.9h-1.0zM10.8,263.1h1.3v1.2h-1.3zM80.2,333.7h0.8v0.7h-0.8zM79.4,331.4h1.3v1.2h-1.3zM83.1,334.4h1.1v1.0h-1.1zM80.9,333.8h1.2v1.1h-1.2zM81.5,257.7h1.3v1.2h-1.3zM84.0,258.6h0.8v0.7h-0.8zM85.1,254.2h1.0v0.9h-1.0zM82.0,257.4h1.2v1.1h-1.2zM0.1,268.8h0.9v0.8h-0.9zM1.2,292.0h0.9v0.8h-0.9zM19.6,253.5h1.1v1.0h-1.1zM18.4,255.2h0.9v0.9h-0.9zM20.8,247.6h0.9v0.8h-0.9zM21.9,249.5h1.0v0.9h-1.0zM20.9,246.7h0.8v0.8h-0.8zM22.1,248.6h1.0v0.9h-1.0zM102.5,327.2h1.3v1.1h-1.3zM105.7,327.3h0.8v0.7h-0.8zM102.0,324.5h1.3v1.2h-1.3zM68.0,299.8h1.3v1.2h-1.3zM67.4,297.5h0.8v0.7h-0.8zM69.1,298.7h0.9v0.8h-0.9zM70.7,296.5h1.0v0.9h-1.0zM107.0,282.0h1.5v1.3h-1.5zM107.0,287.3h0.9v0.8h-0.9zM110.3,285.5h1.0v0.9h-1.0zM109.5,286.8h1.3v1.2h-1.3zM22.8,260.8h1.2v1.1h-1.2zM9.0,261.0h1.4v1.2h-1.4zM9.4,259.1h1.5v1.3h-1.5zM5.7,290.8h1.0v0.9h-1.0zM7.5,290.0h0.8v0.7h-0.8zM5.0,292.0h0.8v0.7h-0.8zM5.0,288.4h1.0v0.9h-1.0zM71.9,317.3h1.4v1.3h-1.4zM35.9,324.6h1.2v1.1h-1.2zM32.4,324.3h1.1v1.0h-1.1zM60.5,300.6h1.2v1.0h-1.2zM60.6,303.6h1.2v1.0h-1.2zM64.4,303.9h1.1v1.0h-1.1zM62.6,307.6h0.8v0.7h-0.8zM109.8,262.5h0.9v0.8h-0.9zM111.5,265.1h0.8v0.8h-0.8zM111.8,265.3h1.2v1.1h-1.2zM38.2,259.4h1.2v1.1h-1.2zM37.1,257.9h1.1v1.0h-1.1zM40.3,258.2h1.2v1.0h-1.2zM39.8,255.0h1.0v0.9h-1.0zM15.7,267.5h1.2v1.1h-1.2zM18.1,269.2h1.1v1.0h-1.1zM17.5,271.8h1.1v0.9h-1.1zM107.6,328.4h1.1v1.0h-1.1zM108.0,330.8h0.9v0.8h-0.9zM108.0,330.2h1.3v1.1h-1.3zM110.5,334.9h1.0v0.9h-1.0zM77.0,268.0h1.2v1.0h-1.2zM76.3,269.6h0.7v0.7h-0.7zM74.8,264.7h1.1v1.0h-1.1zM73.4,265.3h1.4v1.3h-1.4zM104.9,277.5h1.1v1.0h-1.1zM83.7,295.9h0.8v0.7h-0.8zM94.3,266.5h1.1v1.0h-1.1zM94.5,264.2h1.3v1.2h-1.3zM93.5,267.7h1.3v1.1h-1.3zM95.3,266.7h1.2v1.1h-1.2zM59.1,312.8h1.0v0.9h-1.0zM60.4,311.4h1.1v1.0h-1.1zM63.2,315.0h1.2v1.0h-1.2zM65.2,281.9h0.9v0.8h-0.9zM62.7,277.7h1.5v1.3h-1.5zM85.5,292.6h1.3v1.2h-1.3zM83.9,290.9h1.1v1.0h-1.1zM84.6,290.8h1.3v1.1h-1.3zM48.0,247.8h1.0v0.9h-1.0zM48.4,252.8h0.9v0.8h-0.9zM83.9,326.8h1.4v1.3h-1.4zM82.8,330.9h1.1v1.0h-1.1zM80.4,328.3h1.1v1.0h-1.1zM80.8,330.8h0.8v0.7h-0.8zM81.3,299.8h0.9v0.8h-0.9zM83.8,300.0h1.1v1.0h-1.1zM81.2,298.9h0.9v0.8h-0.9zM84.8,299.3h0.8v0.7h-0.8zM84.8,294.7h1.2v1.0h-1.2zM82.0,296.8h1.2v1.1h-1.2zM63.4,271.6h1.1v1.0h-1.1zM65.0,270.0h1.1v1.0h-1.1zM83.0,249.2h0.7v0.6h-0.7zM82.1,249.4h1.4v1.3h-1.4zM105.3,248.1h1.2v1.1h-1.2zM105.5,248.9h1.2v1.1h-1.2zM102.6,249.9h0.9v0.8h-0.9zM102.9,246.0h0.9v0.8h-0.9zM53.5,310.6h1.4v1.3h-1.4zM53.5,307.6h0.8v0.7h-0.8zM56.4,307.7h1.1v1.0h-1.1zM50.7,308.4h1.1v1.0h-1.1zM29.6,266.6h1.4v1.2h-1.4zM29.2,261.3h1.0v0.9h-1.0zM35.1,251.8h1.2v1.1h-1.2zM31.6,255.5h1.3v1.1h-1.3zM33.2,258.3h1.2v1.1h-1.2zM75.9,322.4h1.3v1.1h-1.3zM77.5,323.7h0.8v0.7h-0.8zM77.4,323.0h1.3v1.2h-1.3zM76.7,321.2h0.9v0.8h-0.9zM74.0,322.8h0.7v0.6h-0.7zM27.7,311.3h0.8v0.7h-0.8zM31.0,311.0h1.4v1.2h-1.4zM34.7,332.6h1.1v1.0h-1.1zM32.5,328.9h0.9v0.8h-0.9zM31.4,307.9h1.3v1.1h-1.3zM28.6,307.9h1.4v1.2h-1.4zM32.5,305.6h1.5v1.3h-1.5zM99.6,295.9h0.7v0.6h-0.7zM98.2,297.9h1.4v1.3h-1.4zM2.4,329.2h1.4v1.3h-1.4zM-1.0,333.1h1.2v1.0h-1.2zM36.1,300.5h1.1v1.0h-1.1zM37.2,299.4h1.1v1.0h-1.1zM37.3,298.3h1.2v1.1h-1.2zM37.6,299.2h1.5v1.3h-1.5zM36.2,299.7h1.5v1.3h-1.5zM38.4,298.8h1.3v1.2h-1.3zM10.4,296.9h1.5v1.3h-1.5zM10.2,295.4h1.0v0.9h-1.0zM71.9,251.3h1.2v1.1h-1.2zM2.9,276.2h1.4v1.2h-1.4zM4.4,272.4h1.4v1.3h-1.4zM1.9,275.6h1.1v0.9h-1.1zM3.2,274.2h1.0v0.9h-1.0zM4.9,274.2h1.2v1.0h-1.2zM47.1,277.8h1.0v0.9h-1.0zM2.0,333.4h0.8v0.7h-0.8zM5.0,330.6h1.1v1.0h-1.1zM2.7,329.8h1.4v1.2h-1.4zM1.3,330.7h1.0v0.9h-1.0zM4.7,332.2h0.7v0.7h-0.7zM4.6,330.9h1.1v1.0h-1.1zM86.9,290.6h1.3v1.2h-1.3zM86.1,289.4h1.3v1.2h-1.3zM51.4,291.5h0.7v0.7h-0.7zM51.8,293.0h1.0v0.9h-1.0zM63.8,298.2h1.4v1.3h-1.4zM66.6,300.0h1.2v1.1h-1.2zM67.0,298.0h1.1v1.0h-1.1zM60.7,258.8h1.2v1.0h-1.2zM61.9,257.9h1.1v1.0h-1.1zM66.2,254.1h0.9v0.8h-0.9zM64.8,254.3h0.9v0.8h-0.9zM72.6,327.5h0.8v0.7h-0.8zM74.1,328.0h1.5v1.3h-1.5zM73.5,330.1h1.1v1.0h-1.1zM73.5,327.7h1.2v1.1h-1.2zM73.1,327.9h1.1v1.0h-1.1zM92.5,259.7h1.1v1.0h-1.1zM94.2,261.8h1.3v1.2h-1.3zM94.7,258.4h0.8v0.7h-0.8zM52.3,288.7h0.9v0.8h-0.9zM52.0,290.4h0.8v0.7h-0.8zM52.3,290.5h1.1v1.0h-1.1zM50.9,288.0h1.4v1.3h-1.4zM22.7,311.3h0.7v0.7h-0.7zM24.3,312.2h1.2v1.1h-1.2zM26.8,310.1h1.2v1.1h-1.2zM24.9,309.0h1.5v1.3h-1.5zM25.9,265.1h1.0v0.9h-1.0zM24.8,265.7h0.7v0.7h-0.7zM84.9,259.0h1.2v1.1h-1.2zM85.2,258.0h1.2v1.1h-1.2zM84.7,258.6h1.2v1.1h-1.2zM85.4,258.6h1.3v1.2h-1.3zM94.9,303.5h0.9v0.8h-0.9zM90.9,302.1h0.7v0.7h-0.7zM80.1,274.3h0.7v0.7h-0.7zM80.3,275.2h1.5v1.3h-1.5zM79.9,275.0h1.3v1.1h-1.3zM17.5,268.3h1.4v1.2h-1.4zM20.4,273.5h1.0v0.9h-1.0zM83.9,285.7h0.7v0.7h-0.7zM84.5,284.9h0.8v0.7h-0.8zM90.3,286.8h1.0v0.9h-1.0zM86.0,283.2h0.9v0.8h-0.9zM84.3,282.8h0.7v0.6h-0.7zM86.2,265.5h1.5v1.3h-1.5zM85.8,266.9h1.3v1.1h-1.3zM86.1,279.5h0.8v0.7h-0.8zM84.6,279.5h1.4v1.2h-1.4zM83.4,280.8h1.0v0.9h-1.0zM81.7,277.4h1.1v1.0h-1.1zM89.5,258.1h1.1v1.0h-1.1zM88.9,260.5h1.4v1.2h-1.4zM88.4,259.8h0.8v0.7h-0.8zM90.1,260.6h0.9v0.8h-0.9zM14.5,272.9h1.0v0.9h-1.0zM14.5,275.1h1.0v0.9h-1.0zM15.4,323.5h1.2v1.1h-1.2zM16.0,326.3h1.2v1.1h-1.2zM49.5,310.1h0.8v0.8h-0.8zM46.5,310.9h1.3v1.2h-1.3zM44.5,312.3h1.2v1.1h-1.2zM63.7,262.7h1.2v1.1h-1.2zM64.1,259.0h0.7v0.7h-0.7zM60.9,261.7h0.8v0.7h-0.8zM62.2,261.4h0.8v0.7h-0.8zM47.9,272.1h1.2v1.1h-1.2zM48.2,267.5h1.2v1.0h-1.2zM49.7,267.5h0.9v0.8h-0.9zM67.9,279.8h0.9v0.8h-0.9zM67.9,275.5h1.5v1.3h-1.5zM67.4,278.9h1.3v1.2h-1.3zM21.0,261.0h1.2v1.1h-1.2zM19.5,258.5h0.8v0.7h-0.8zM17.1,259.1h1.1v1.0h-1.1zM35.0,265.3h0.8v0.7h-0.8zM36.7,262.7h1.0v0.9h-1.0zM35.5,264.4h0.8v0.7h-0.8zM24.1,261.6h1.1v1.0h-1.1zM23.1,263.8h0.9v0.9h-0.9zM24.8,262.2h1.2v1.1h-1.2zM24.6,260.7h1.1v1.0h-1.1zM104.2,306.0h1.0v0.9h-1.0zM106.8,302.8h1.4v1.2h-1.4zM107.8,308.6h1.0v0.9h-1.0zM106.0,306.5h0.9v0.8h-0.9zM107.3,305.9h0.9v0.8h-0.9zM106.0,306.9h1.0v0.9h-1.0zM47.8,266.5h1.0v0.9h-1.0zM51.2,268.2h1.3v1.2h-1.3zM6.6,295.5h0.8v0.7h-0.8zM6.2,299.8h1.0v0.9h-1.0zM4.9,295.8h1.1v1.0h-1.1zM6.9,295.9h1.3v1.2h-1.3zM62.6,275.1h1.1v1.0h-1.1zM65.6,277.1h0.8v0.7h-0.8zM59.2,255.6h1.0v0.9h-1.0zM58.8,254.7h1.1v1.0h-1.1zM106.7,252.2h1.3v1.2h-1.3zM105.2,254.2h1.2v1.1h-1.2zM103.4,253.0h1.5v1.3h-1.5zM104.7,251.4h1.0v0.9h-1.0zM105.3,254.9h1.1v1.0h-1.1zM103.7,252.6h1.3v1.2h-1.3zM40.1,296.3h1.1v1.0h-1.1zM40.9,293.3h0.8v0.7h-0.8zM56.8,296.6h1.4v1.2h-1.4zM56.0,292.5h1.1v1.0h-1.1zM57.2,294.6h1.3v1.2h-1.3zM57.3,294.5h0.8v0.7h-0.8zM54.5,296.2h1.1v1.0h-1.1zM97.1,247.6h1.4v1.2h-1.4zM98.4,247.9h1.4v1.2h-1.4zM37.9,311.0h1.3v1.2h-1.3zM36.0,313.6h1.2v1.1h-1.2zM90.0,294.9h1.1v1.0h-1.1zM85.8,293.6h1.2v1.1h-1.2zM39.5,270.1h0.8v0.7h-0.8zM35.3,268.3h1.2v1.1h-1.2zM37.7,271.3h1.0v0.9h-1.0zM95.7,263.3h1.4v1.3h-1.4zM95.0,260.7h1.4v1.2h-1.4zM97.7,261.5h1.3v1.2h-1.3zM98.9,261.4h0.8v0.7h-0.8zM97.6,259.5h1.3v1.2h-1.3zM95.2,262.8h0.9v0.8h-0.9zM58.8,253.7h0.8v0.7h-0.8zM11.8,263.2h0.8v0.7h-0.8zM14.8,266.0h1.1v1.0h-1.1zM12.4,268.7h0.9v0.8h-0.9zM8.6,267.0h1.5v1.3h-1.5zM89.2,300.1h0.8v0.7h-0.8zM86.2,298.9h1.0v0.9h-1.0zM101.3,313.6h0.9v0.8h-0.9zM100.2,312.3h1.4v1.2h-1.4zM55.6,275.3h0.8v0.8h-0.8zM55.9,273.2h1.1v1.0h-1.1zM60.4,273.4h0.8v0.7h-0.8zM56.1,275.0h1.5v1.3h-1.5zM44.5,296.3h0.8v0.8h-0.8zM41.6,296.2h0.8v0.7h-0.8zM44.6,302.4h1.3v1.2h-1.3zM33.1,255.1h0.8v0.7h-0.8zM33.4,254.1h1.2v1.1h-1.2zM34.0,254.2h1.4v1.3h-1.4zM11.9,284.5h1.4v1.2h-1.4zM11.6,282.5h0.8v0.7h-0.8zM14.1,286.8h1.2v1.1h-1.2zM39.4,295.8h1.3v1.1h-1.3zM41.7,281.3h0.8v0.7h-0.8zM41.3,284.1h1.3v1.2h-1.3zM75.9,338.5h0.8v0.7h-0.8zM77.7,334.9h1.5v1.3h-1.5zM77.6,335.3h1.0v0.9h-1.0zM16.6,309.6h1.4v1.3h-1.4zM15.7,306.8h1.3v1.1h-1.3zM16.5,306.7h0.8v0.7h-0.8zM13.0,305.2h1.0v0.9h-1.0zM47.1,272.6h1.3v1.2h-1.3zM50.1,270.0h1.4v1.3h-1.4zM48.9,269.4h1.0v0.9h-1.0zM48.9,273.6h0.7v0.6h-0.7zM68.2,247.8h1.0v0.9h-1.0zM70.3,247.4h1.3v1.1h-1.3zM67.5,249.1h1.2v1.0h-1.2zM81.8,270.2h1.4v1.3h-1.4zM85.1,268.7h1.1v1.0h-1.1zM84.1,269.8h0.8v0.7h-0.8zM55.4,254.3h1.1v1.0h-1.1zM51.5,252.6h1.3v1.2h-1.3zM72.1,268.5h1.1v1.0h-1.1zM71.1,268.9h0.9v0.8h-0.9zM76.9,267.9h1.2v1.1h-1.2zM78.9,264.1h1.0v0.9h-1.0zM76.6,266.4h1.2v1.0h-1.2zM88.1,258.1h1.1v1.0h-1.1zM87.2,259.1h0.9v0.8h-0.9zM86.4,257.8h0.8v0.7h-0.8zM86.6,260.4h0.9v0.8h-0.9zM84.3,289.5h1.4v1.3h-1.4zM85.4,287.1h0.8v0.7h-0.8zM85.1,288.4h1.0v0.9h-1.0zM85.4,288.7h1.3v1.1h-1.3zM47.0,270.8h0.7v0.6h-0.7zM22.2,277.0h1.3v1.2h-1.3zM49.2,293.8h0.8v0.8h-0.8zM110.6,268.9h0.8v0.7h-0.8zM103.5,268.6h1.2v1.0h-1.2zM51.8,330.8h0.7v0.7h-0.7zM50.9,327.1h0.8v0.7h-0.8zM46.0,285.9h1.5v1.3h-1.5zM42.0,285.8h1.5v1.3h-1.5zM42.5,283.7h1.5v1.3h-1.5zM108.9,264.9h1.1v1.0h-1.1zM100.5,300.6h1.5v1.3h-1.5zM47.7,280.3h1.4v1.3h-1.4zM51.2,278.9h1.0v0.9h-1.0zM51.7,278.9h1.1v1.0h-1.1zM21.2,281.4h0.9v0.8h-0.9zM19.2,277.6h1.0v0.9h-1.0zM18.8,276.6h1.0v0.9h-1.0zM20.2,278.2h1.0v0.9h-1.0zM3.9,256.1h1.2v1.1h-1.2zM56.5,340.9h1.0v0.9h-1.0zM5.3,310.9h1.2v1.0h-1.2zM102.3,266.0h1.0v0.9h-1.0zM103.9,269.7h0.7v0.6h-0.7zM103.6,264.0h0.9v0.8h-0.9zM24.5,283.2h1.2v1.1h-1.2zM24.1,282.7h0.9v0.8h-0.9zM26.2,283.4h1.0v0.9h-1.0zM65.5,313.8h0.7v0.6h-0.7zM65.7,315.6h0.8v0.7h-0.8zM2.4,249.3h0.8v0.7h-0.8zM4.1,250.3h0.9v0.8h-0.9zM17.7,260.2h1.2v1.1h-1.2zM14.7,261.3h1.0v0.9h-1.0zM67.4,272.2h1.3v1.2h-1.3zM69.3,274.4h1.1v1.0h-1.1zM71.0,274.9h1.5v1.3h-1.5zM46.3,299.5h1.0v0.9h-1.0zM45.8,301.2h0.9v0.9h-0.9zM47.2,300.3h1.2v1.0h-1.2zM108.4,298.5h1.2v1.1h-1.2zM108.0,296.2h1.2v1.0h-1.2z" fill="#363a35"/>
<path d="M73.6,317.4h0.8v0.7h-0.8zM72.5,313.7h1.1v1.0h-1.1zM112.2,266.3h1.2v1.1h-1.2zM115.0,265.3h0.7v0.6h-0.7zM91.4,282.1h1.3v1.2h-1.3zM92.5,280.2h1.2v1.1h-1.2zM92.6,279.6h0.8v0.7h-0.8zM79.8,275.3h1.1v1.0h-1.1zM78.6,275.5h1.0v0.9h-1.0zM79.9,274.7h1.0v0.9h-1.0zM80.8,279.2h1.5v1.3h-1.5zM79.2,275.3h0.9v0.8h-0.9zM52.1,292.6h1.0v0.9h-1.0zM53.6,292.7h1.5v1.3h-1.5zM50.7,291.5h1.4v1.3h-1.4zM65.7,246.0h1.0v0.9h-1.0zM69.1,245.4h1.5v1.3h-1.5zM69.2,247.5h1.5v1.3h-1.5zM67.8,249.5h0.9v0.8h-0.9zM69.5,249.2h0.8v0.8h-0.8zM91.8,299.3h1.3v1.2h-1.3zM92.3,299.5h0.7v0.7h-0.7zM89.0,300.2h0.8v0.7h-0.8zM48.7,270.5h1.0v0.9h-1.0zM47.7,270.8h1.2v1.1h-1.2zM46.4,273.0h1.0v0.9h-1.0zM11.1,298.1h1.0v0.9h-1.0zM12.2,303.0h0.9v0.8h-0.9zM94.8,247.8h1.3v1.2h-1.3zM95.5,250.0h1.1v1.0h-1.1zM80.0,262.7h1.3v1.1h-1.3zM82.0,263.7h1.1v1.0h-1.1zM78.5,264.9h1.4v1.3h-1.4zM80.9,265.8h1.4v1.3h-1.4zM48.5,263.7h1.3v1.2h-1.3zM48.6,261.1h0.8v0.7h-0.8zM46.7,260.3h1.1v1.0h-1.1zM88.2,291.1h1.3v1.2h-1.3zM85.5,294.5h1.1v1.0h-1.1zM87.1,253.7h1.4v1.2h-1.4zM32.2,304.2h0.9v0.8h-0.9zM34.5,304.9h1.2v1.1h-1.2zM33.1,303.3h1.1v1.0h-1.1zM64.4,257.2h1.1v1.0h-1.1zM63.7,257.5h0.8v0.7h-0.8zM5.3,296.4h1.1v1.0h-1.1zM3.6,296.8h0.9v0.8h-0.9zM3.8,297.4h1.2v1.0h-1.2zM42.8,301.2h1.2v1.1h-1.2zM46.2,305.1h1.3v1.2h-1.3zM83.8,272.4h0.7v0.7h-0.7zM83.0,273.5h1.3v1.2h-1.3zM12.1,276.3h0.7v0.7h-0.7zM13.2,275.0h1.5v1.3h-1.5zM13.1,275.4h1.2v1.1h-1.2zM13.7,275.9h0.9v0.8h-0.9zM52.8,294.2h0.7v0.6h-0.7zM53.6,293.6h1.0v0.9h-1.0zM112.6,322.8h0.9v0.8h-0.9zM116.4,318.3h0.9v0.9h-0.9zM112.8,318.4h1.2v1.1h-1.2zM115.4,296.0h0.8v0.8h-0.8zM111.1,293.7h1.0v0.9h-1.0zM111.7,299.3h1.3v1.1h-1.3zM112.6,297.7h0.8v0.7h-0.8zM113.7,296.3h1.3v1.2h-1.3zM24.5,251.1h1.3v1.2h-1.3zM24.6,253.5h1.2v1.1h-1.2zM25.5,254.7h0.8v0.8h-0.8zM27.8,253.4h1.5v1.3h-1.5zM106.9,267.3h1.3v1.2h-1.3zM108.7,265.2h1.5v1.3h-1.5zM68.3,282.0h1.2v1.1h-1.2zM67.6,283.7h1.0v0.9h-1.0zM51.4,263.5h1.5v1.3h-1.5zM50.2,263.1h0.8v0.7h-0.8zM49.4,267.3h1.1v1.0h-1.1zM51.7,263.9h1.0v0.9h-1.0zM47.3,261.5h1.2v1.1h-1.2zM50.5,263.5h1.3v1.2h-1.3zM97.2,288.6h1.4v1.2h-1.4zM96.9,287.1h1.0v0.9h-1.0zM93.7,284.3h0.8v0.7h-0.8zM95.4,285.9h1.4v1.3h-1.4zM21.4,248.7h0.8v0.7h-0.8zM23.1,252.3h0.7v0.7h-0.7zM18.5,248.2h0.8v0.7h-0.8zM24.5,247.6h1.5v1.3h-1.5zM82.1,248.9h0.9v0.8h-0.9zM80.5,249.2h1.4v1.3h-1.4zM79.8,246.4h0.7v0.7h-0.7zM81.3,249.7h0.8v0.7h-0.8zM39.1,294.5h1.3v1.2h-1.3zM-0.3,251.8h1.2v1.1h-1.2zM-1.1,251.5h1.3v1.1h-1.3zM2.1,250.0h1.1v1.0h-1.1zM70.6,289.2h1.1v0.9h-1.1zM68.5,288.8h1.4v1.3h-1.4zM70.8,288.9h0.9v0.8h-0.9zM55.1,295.0h1.1v1.0h-1.1zM57.3,297.2h0.8v0.7h-0.8zM57.2,297.3h0.9v0.8h-0.9zM10.7,253.5h0.8v0.8h-0.8zM12.6,254.5h1.4v1.2h-1.4zM14.3,256.5h1.1v1.0h-1.1zM110.3,290.5h1.1v1.0h-1.1zM113.8,291.8h1.0v0.9h-1.0zM110.8,290.3h1.5v1.3h-1.5zM48.3,268.6h0.8v0.7h-0.8zM48.5,269.0h0.9v0.9h-0.9zM46.9,265.1h0.9v0.8h-0.9zM50.8,268.0h1.1v1.0h-1.1zM28.6,270.7h1.1v1.0h-1.1zM25.9,267.1h0.8v0.7h-0.8zM26.0,271.6h1.4v1.3h-1.4zM25.0,269.4h1.0v0.9h-1.0zM27.8,269.1h0.9v0.8h-0.9zM108.3,276.1h1.2v1.1h-1.2zM108.1,277.6h1.0v0.9h-1.0zM109.4,275.4h1.3v1.2h-1.3zM109.7,275.0h0.7v0.6h-0.7zM110.2,274.5h1.2v1.1h-1.2zM84.0,291.3h1.3v1.2h-1.3zM85.7,289.5h1.4v1.2h-1.4zM86.6,293.8h1.4v1.3h-1.4zM97.5,302.0h1.5v1.3h-1.5zM96.4,301.8h1.4v1.3h-1.4zM99.3,300.3h1.4v1.2h-1.4zM105.2,299.9h1.5v1.3h-1.5zM104.3,295.5h1.5v1.3h-1.5zM101.2,301.5h1.0v0.9h-1.0zM105.3,297.2h1.1v1.0h-1.1zM20.1,285.8h0.9v0.8h-0.9zM20.0,285.3h1.1v1.0h-1.1zM59.0,291.3h1.1v1.0h-1.1zM60.7,290.6h1.0v0.9h-1.0zM76.3,289.0h1.0v0.9h-1.0zM76.5,288.1h1.4v1.3h-1.4zM78.7,288.8h1.4v1.3h-1.4zM79.1,289.6h1.5v1.3h-1.5zM27.7,287.7h1.2v1.0h-1.2zM25.5,287.5h1.4v1.2h-1.4zM31.0,261.6h1.1v1.0h-1.1zM31.6,261.8h1.4v1.3h-1.4zM31.7,264.1h1.0v0.9h-1.0zM97.0,248.2h0.9v0.8h-0.9zM103.4,305.5h1.4v1.2h-1.4zM103.9,302.2h0.9v0.8h-0.9zM103.9,304.1h0.7v0.7h-0.7zM54.4,320.8h0.9v0.8h-0.9zM56.6,323.3h0.9v0.8h-0.9zM57.1,325.4h0.9v0.8h-0.9zM54.4,321.8h1.1v1.0h-1.1zM99.3,303.0h1.2v1.1h-1.2zM100.1,302.2h1.1v1.0h-1.1zM18.7,262.7h1.4v1.2h-1.4zM20.1,262.3h0.9v0.8h-0.9zM18.5,264.9h1.3v1.2h-1.3zM103.9,332.8h1.2v1.1h-1.2zM102.8,335.4h1.3v1.2h-1.3zM78.8,263.6h1.4v1.2h-1.4zM79.8,264.4h1.5v1.3h-1.5zM50.4,292.0h1.5v1.3h-1.5zM53.6,289.3h1.4v1.2h-1.4zM52.8,288.7h1.0v0.9h-1.0zM17.9,277.2h1.0v0.9h-1.0zM19.5,277.6h1.3v1.1h-1.3zM57.3,315.5h1.2v1.1h-1.2zM53.3,313.8h1.1v1.0h-1.1zM44.7,260.7h0.7v0.6h-0.7zM52.9,250.5h0.9v0.8h-0.9zM55.9,252.8h1.4v1.3h-1.4zM55.8,252.8h1.1v1.0h-1.1zM101.1,261.3h1.0v0.9h-1.0zM101.7,264.5h1.2v1.0h-1.2zM33.0,307.7h1.0v0.9h-1.0zM35.1,307.4h1.3v1.2h-1.3zM48.3,272.2h1.0v0.9h-1.0zM48.7,273.5h1.3v1.2h-1.3zM48.4,273.3h1.1v0.9h-1.1zM48.8,268.8h1.4v1.3h-1.4zM50.7,272.8h0.9v0.8h-0.9zM100.1,297.1h0.9v0.8h-0.9zM56.0,299.1h0.8v0.7h-0.8zM54.1,298.8h0.7v0.7h-0.7zM53.5,297.3h0.9v0.8h-0.9zM57.5,294.1h0.9v0.8h-0.9zM57.0,297.3h0.8v0.7h-0.8zM-1.6,299.3h1.3v1.2h-1.3zM-1.5,301.2h1.4v1.2h-1.4zM25.3,302.3h1.2v1.1h-1.2zM23.7,302.5h1.1v1.0h-1.1zM24.9,301.2h1.3v1.2h-1.3zM25.0,291.8h1.2v1.1h-1.2zM28.0,264.0h1.0v0.9h-1.0zM105.3,264.2h1.1v1.0h-1.1zM101.5,261.6h1.5v1.3h-1.5zM104.6,268.3h0.8v0.8h-0.8zM109.6,267.8h1.5v1.3h-1.5zM106.9,265.5h0.8v0.7h-0.8zM106.3,270.1h1.0v0.9h-1.0zM10.5,280.1h1.4v1.3h-1.4zM9.4,278.7h1.0v0.9h-1.0zM38.4,290.6h1.4v1.3h-1.4zM38.6,292.3h1.4v1.3h-1.4zM39.8,293.6h1.1v1.0h-1.1zM36.3,270.0h1.0v0.9h-1.0zM38.9,270.2h1.3v1.1h-1.3zM39.8,268.5h0.7v0.7h-0.7zM110.7,299.2h0.9v0.8h-0.9zM111.5,302.4h0.8v0.7h-0.8zM55.2,266.3h1.0v0.9h-1.0zM52.1,268.3h0.9v0.9h-0.9zM54.4,267.1h1.5v1.3h-1.5zM55.7,269.1h0.9v0.8h-0.9zM55.5,269.2h1.2v1.1h-1.2zM54.6,267.4h1.0v0.9h-1.0zM54.9,270.8h1.4v1.2h-1.4zM54.6,267.7h1.2v1.1h-1.2zM112.3,278.7h1.2v1.0h-1.2zM35.0,290.4h1.4v1.3h-1.4zM34.7,291.8h0.9v0.8h-0.9zM2.4,264.0h1.5v1.3h-1.5zM0.9,264.3h1.1v1.0h-1.1zM110.2,333.8h1.4v1.2h-1.4zM106.1,332.5h0.7v0.7h-0.7zM31.0,270.5h1.4v1.3h-1.4zM30.7,272.4h0.7v0.6h-0.7zM46.4,282.2h1.1v1.0h-1.1zM46.4,285.2h1.2v1.1h-1.2zM50.4,282.4h1.2v1.1h-1.2zM49.4,281.9h1.5v1.3h-1.5zM52.7,283.9h0.9v0.8h-0.9zM43.1,324.1h1.2v1.1h-1.2zM45.6,322.0h0.9v0.8h-0.9zM95.1,264.8h1.1v1.0h-1.1zM92.4,265.8h1.5v1.3h-1.5zM94.2,262.2h1.2v1.1h-1.2zM95.1,262.5h1.0v0.9h-1.0zM94.9,264.9h1.4v1.2h-1.4zM84.7,290.7h1.2v1.1h-1.2zM82.6,288.9h1.4v1.2h-1.4zM84.2,289.9h1.4v1.3h-1.4zM61.0,261.7h1.1v1.0h-1.1zM12.8,301.0h1.5v1.3h-1.5zM12.7,296.9h1.2v1.1h-1.2zM14.0,299.1h1.0v0.9h-1.0zM13.1,299.3h1.2v1.1h-1.2zM9.4,316.6h0.9v0.8h-0.9zM9.4,319.9h0.8v0.7h-0.8zM62.0,275.1h1.4v1.3h-1.4zM22.3,255.5h1.4v1.3h-1.4zM19.2,255.4h1.0v0.9h-1.0zM21.9,254.2h0.9v0.8h-0.9zM22.7,254.5h0.8v0.8h-0.8zM19.1,331.4h1.0v0.9h-1.0zM18.0,331.5h1.3v1.2h-1.3zM18.5,330.6h0.8v0.7h-0.8zM109.4,283.5h1.2v1.1h-1.2zM112.1,284.0h1.3v1.1h-1.3zM111.4,282.5h1.0v0.9h-1.0zM72.7,298.4h1.2v1.1h-1.2zM73.0,297.0h0.8v0.7h-0.8zM57.3,263.4h1.3v1.2h-1.3zM61.0,263.5h0.8v0.8h-0.8zM57.0,264.6h1.1v1.0h-1.1zM61.0,263.7h1.3v1.1h-1.3zM11.6,323.1h1.4v1.2h-1.4zM8.4,325.8h1.5v1.3h-1.5zM67.3,294.0h1.4v1.3h-1.4zM67.6,300.0h1.1v1.0h-1.1zM64.6,299.8h0.7v0.7h-0.7zM32.7,316.9h1.0v0.9h-1.0zM29.4,318.3h0.7v0.7h-0.7zM33.0,318.2h0.8v0.8h-0.8zM30.8,316.4h0.7v0.6h-0.7zM105.5,289.1h1.2v1.1h-1.2zM104.7,290.1h1.5v1.3h-1.5zM105.7,287.7h1.4v1.3h-1.4zM2.0,317.9h1.4v1.3h-1.4zM4.1,320.6h1.2v1.1h-1.2zM5.1,317.8h1.4v1.3h-1.4zM105.4,333.5h1.4v1.2h-1.4zM103.2,337.2h1.3v1.1h-1.3zM43.8,268.1h0.8v0.7h-0.8zM42.0,267.0h1.5v1.3h-1.5zM86.1,319.3h0.7v0.7h-0.7zM84.8,318.6h0.9v0.8h-0.9zM101.7,297.2h1.5v1.3h-1.5zM103.0,298.1h1.3v1.2h-1.3zM103.6,297.7h1.3v1.1h-1.3zM94.8,247.0h1.2v1.0h-1.2zM3.0,284.6h0.9v0.8h-0.9zM3.2,284.9h1.2v1.1h-1.2zM101.1,272.1h1.3v1.2h-1.3zM99.2,271.8h1.1v1.0h-1.1zM25.4,260.4h0.8v0.7h-0.8zM22.0,259.6h1.5v1.3h-1.5zM25.8,256.8h1.0v0.9h-1.0zM26.1,258.4h0.7v0.6h-0.7zM26.1,257.5h1.4v1.3h-1.4zM63.5,253.0h1.1v1.0h-1.1zM65.2,250.9h1.5v1.3h-1.5zM19.8,279.0h0.9v0.8h-0.9zM22.2,277.0h1.3v1.2h-1.3zM20.5,279.7h0.8v0.7h-0.8zM115.7,263.1h1.2v1.1h-1.2zM111.4,263.5h1.5v1.3h-1.5zM113.1,261.0h0.8v0.7h-0.8zM37.6,292.6h1.1v1.0h-1.1zM69.2,324.5h1.1v1.0h-1.1zM68.3,321.9h1.3v1.1h-1.3zM70.3,324.2h0.9v0.8h-0.9zM72.1,320.6h1.2v1.1h-1.2zM30.0,286.3h0.7v0.6h-0.7zM29.9,288.7h1.2v1.1h-1.2zM28.5,286.6h0.7v0.6h-0.7zM29.6,285.7h1.0v0.9h-1.0zM31.7,286.8h1.5v1.3h-1.5zM28.4,289.8h1.2v1.1h-1.2zM27.5,285.1h0.8v0.7h-0.8zM88.2,283.7h1.2v1.0h-1.2zM87.9,288.3h1.3v1.2h-1.3zM19.5,257.1h0.8v0.7h-0.8zM21.6,255.1h1.3v1.1h-1.3zM23.0,259.1h1.2v1.1h-1.2zM40.9,265.6h1.5v1.3h-1.5zM39.4,267.2h1.4v1.3h-1.4zM42.7,269.0h1.3v1.2h-1.3zM40.5,267.2h0.9v0.9h-0.9zM40.3,268.3h1.1v1.0h-1.1zM33.4,251.7h0.9v0.8h-0.9zM36.2,329.7h1.2v1.0h-1.2zM38.9,327.7h1.3v1.2h-1.3zM25.2,313.5h0.7v0.7h-0.7zM25.6,310.3h0.8v0.7h-0.8zM59.9,246.5h1.1v1.0h-1.1zM61.0,248.5h1.0v0.9h-1.0zM95.8,254.4h1.1v1.0h-1.1zM93.9,254.3h1.1v1.0h-1.1zM21.8,315.7h0.8v0.7h-0.8zM22.1,315.3h1.5v1.3h-1.5zM21.1,314.9h0.9v0.8h-0.9zM18.3,296.8h1.1v1.0h-1.1zM18.1,299.3h1.2v1.1h-1.2zM23.2,304.6h1.2v1.1h-1.2zM23.0,303.9h0.9v0.9h-0.9zM21.7,306.8h0.9v0.8h-0.9zM21.5,304.7h1.5v1.3h-1.5zM52.5,289.0h1.3v1.1h-1.3zM23.5,313.6h0.9v0.8h-0.9zM21.2,311.8h1.2v1.1h-1.2zM20.5,314.5h1.3v1.1h-1.3zM39.6,308.9h0.8v0.7h-0.8zM58.7,291.2h1.3v1.2h-1.3zM61.6,256.3h1.0v0.9h-1.0zM61.8,253.5h0.8v0.7h-0.8zM62.5,255.4h0.9v0.9h-0.9zM102.7,292.7h1.5v1.3h-1.5zM99.7,291.3h0.8v0.7h-0.8zM104.5,292.9h1.5v1.3h-1.5zM87.3,255.2h0.9v0.8h-0.9zM88.2,253.3h0.9v0.8h-0.9zM85.4,253.9h1.1v1.0h-1.1zM86.3,255.9h0.8v0.7h-0.8zM75.8,340.2h1.4v1.3h-1.4zM72.8,337.7h1.4v1.3h-1.4zM75.3,339.4h1.0v0.9h-1.0zM87.0,289.0h0.8v0.8h-0.8zM84.9,287.7h1.1v1.0h-1.1zM82.4,288.0h1.2v1.1h-1.2zM87.4,290.0h1.2v1.1h-1.2zM68.3,283.6h0.8v0.7h-0.8zM68.5,285.1h1.0v0.9h-1.0zM4.5,297.3h1.3v1.2h-1.3zM7.1,295.8h1.5v1.3h-1.5zM61.3,252.0h1.0v0.9h-1.0zM59.1,250.6h1.3v1.2h-1.3zM58.6,250.7h1.0v0.9h-1.0zM57.2,249.8h1.0v0.9h-1.0zM112.1,296.2h1.3v1.1h-1.3zM3.1,251.5h1.4v1.3h-1.4zM5.3,250.3h1.4v1.2h-1.4zM4.0,250.8h1.4v1.2h-1.4zM4.9,249.9h1.4v1.2h-1.4zM18.2,261.9h1.1v1.0h-1.1zM26.7,269.8h1.1v1.0h-1.1zM27.8,268.2h0.9v0.8h-0.9zM28.0,265.9h0.7v0.7h-0.7zM12.5,286.2h0.7v0.7h-0.7zM10.1,283.7h0.7v0.7h-0.7zM10.6,282.0h0.8v0.7h-0.8zM10.0,284.5h1.2v1.1h-1.2zM49.3,259.5h0.7v0.7h-0.7zM51.6,261.5h1.0v0.9h-1.0zM111.5,292.1h1.4v1.2h-1.4zM110.7,290.3h1.3v1.2h-1.3zM87.1,267.6h0.9v0.8h-0.9zM82.6,266.6h1.2v1.1h-1.2zM87.8,269.5h1.0v0.9h-1.0zM87.2,271.5h0.8v0.7h-0.8zM60.6,273.3h1.4v1.3h-1.4zM64.4,268.6h1.1v0.9h-1.1zM76.9,270.2h1.0v0.9h-1.0zM73.2,267.2h0.8v0.7h-0.8zM74.3,269.9h1.5v1.3h-1.5zM69.7,271.1h0.7v0.7h-0.7zM54.1,254.9h0.9v0.8h-0.9zM55.1,256.5h0.9v0.8h-0.9zM53.5,255.2h1.2v1.1h-1.2zM54.9,257.9h0.9v0.8h-0.9zM53.6,257.3h0.9v0.8h-0.9zM58.5,257.6h1.1v1.0h-1.1zM30.8,269.5h1.1v1.0h-1.1zM74.2,311.2h1.2v1.1h-1.2zM73.7,313.5h0.8v0.7h-0.8zM72.7,312.7h1.4v1.3h-1.4zM32.9,288.1h1.0v0.9h-1.0zM32.0,293.2h0.9v0.8h-0.9zM5.1,304.8h1.1v1.0h-1.1zM3.8,300.3h0.7v0.7h-0.7zM4.0,301.5h0.8v0.7h-0.8zM68.4,255.3h0.8v0.8h-0.8zM114.3,256.6h1.1v1.0h-1.1zM114.6,254.6h1.3v1.1h-1.3zM72.5,280.2h1.1v1.0h-1.1zM112.4,262.3h1.3v1.2h-1.3zM113.1,259.1h1.2v1.1h-1.2zM116.0,262.7h1.1v1.0h-1.1zM100.5,267.2h1.2v1.1h-1.2zM100.4,268.8h0.8v0.7h-0.8zM100.2,265.9h1.0v0.9h-1.0zM67.9,251.0h1.2v1.1h-1.2zM69.9,249.8h0.9v0.8h-0.9zM13.2,250.2h0.8v0.8h-0.8zM15.9,251.8h1.0v0.9h-1.0zM14.0,281.4h1.1v1.0h-1.1zM47.9,282.7h1.1v1.0h-1.1zM47.4,281.1h1.0v0.9h-1.0zM50.7,282.7h0.9v0.9h-0.9zM48.0,279.0h1.2v1.1h-1.2zM44.6,279.0h0.8v0.7h-0.8zM10.5,293.6h0.8v0.7h-0.8zM11.7,294.7h1.3v1.2h-1.3zM11.0,295.2h0.9v0.8h-0.9zM8.6,295.9h1.1v1.0h-1.1zM10.2,294.7h1.2v1.1h-1.2zM9.1,293.0h0.9v0.8h-0.9zM72.0,325.5h1.4v1.2h-1.4zM70.8,326.5h1.3v1.2h-1.3zM72.6,323.9h1.5v1.3h-1.5zM7.5,273.8h1.1v1.0h-1.1zM7.1,272.1h1.2v1.1h-1.2zM7.9,273.9h0.8v0.8h-0.8zM8.9,271.0h1.3v1.2h-1.3zM109.5,282.3h0.7v0.6h-0.7zM108.0,284.0h1.4v1.3h-1.4zM10.7,262.5h1.4v1.3h-1.4zM10.9,263.0h1.1v1.0h-1.1zM12.1,264.0h1.3v1.2h-1.3zM9.4,263.2h1.3v1.2h-1.3zM7.7,263.2h0.9v0.8h-0.9zM79.8,334.4h1.4v1.2h-1.4zM82.8,255.7h1.2v1.1h-1.2zM-2.3,269.6h1.3v1.2h-1.3zM-1.2,270.1h0.8v0.7h-0.8zM1.4,294.0h1.0v0.9h-1.0zM18.6,256.2h0.8v0.7h-0.8zM19.8,254.4h1.2v1.1h-1.2zM16.9,252.8h1.3v1.2h-1.3zM20.2,251.7h1.4v1.3h-1.4zM20.0,248.6h0.9v0.8h-0.9zM24.3,248.8h0.9v0.8h-0.9zM20.3,245.9h1.0v0.9h-1.0zM105.8,327.9h1.0v0.9h-1.0zM103.3,328.1h0.9v0.8h-0.9zM101.0,325.2h0.9v0.8h-0.9zM103.4,327.2h1.2v1.1h-1.2zM100.1,328.4h1.1v1.0h-1.1zM67.8,298.3h0.8v0.7h-0.8zM68.2,297.5h1.4v1.2h-1.4zM69.2,301.0h1.2v1.1h-1.2zM64.1,296.5h0.9v0.8h-0.9zM25.8,257.1h1.4v1.3h-1.4zM26.1,257.6h1.4v1.2h-1.4zM21.5,257.2h0.9v0.8h-0.9zM5.8,291.3h1.0v0.9h-1.0zM7.1,293.6h0.8v0.7h-0.8zM1.7,292.3h0.9v0.8h-0.9zM69.8,315.6h1.4v1.2h-1.4zM68.3,318.3h0.8v0.7h-0.8zM68.3,317.6h1.1v1.0h-1.1zM68.1,322.1h1.4v1.3h-1.4zM31.6,323.9h1.1v1.0h-1.1zM30.9,325.4h1.3v1.1h-1.3zM29.8,327.9h0.9v0.8h-0.9zM62.1,301.4h1.2v1.1h-1.2zM58.6,304.2h1.2v1.0h-1.2zM61.0,303.1h1.3v1.2h-1.3zM65.0,306.5h1.3v1.2h-1.3zM109.9,265.5h1.0v0.9h-1.0zM110.3,263.3h0.7v0.6h-0.7zM108.9,266.0h1.2v1.1h-1.2zM39.9,255.7h1.0v0.9h-1.0zM39.5,258.4h1.5v1.3h-1.5zM37.0,258.2h1.1v1.0h-1.1zM39.8,260.0h1.3v1.2h-1.3zM16.1,268.4h1.4v1.2h-1.4zM105.4,331.1h0.9v0.8h-0.9zM104.3,328.2h1.2v1.1h-1.2zM109.3,327.4h0.9v0.8h-0.9zM107.5,332.3h1.3v1.1h-1.3zM75.5,268.1h1.0v0.9h-1.0zM78.5,267.6h0.7v0.7h-0.7zM106.3,275.4h1.3v1.1h-1.3zM100.8,277.7h1.3v1.1h-1.3zM103.9,279.2h1.0v0.9h-1.0zM102.8,273.6h0.7v0.6h-0.7zM81.7,295.7h1.1v1.0h-1.1zM79.6,298.1h1.0v0.9h-1.0zM82.7,297.7h1.1v1.0h-1.1zM94.3,264.6h1.4v1.2h-1.4zM95.0,266.3h0.7v0.7h-0.7zM93.9,266.8h1.0v0.9h-1.0zM93.9,266.3h1.3v1.1h-1.3zM57.8,310.1h1.4v1.3h-1.4zM64.5,282.6h1.5v1.3h-1.5zM65.2,279.9h1.5v1.3h-1.5zM84.8,293.3h1.2v1.1h-1.2zM86.1,291.2h1.3v1.2h-1.3zM48.9,250.0h1.3v1.2h-1.3zM81.9,327.7h1.4v1.2h-1.4zM80.4,297.5h1.4v1.2h-1.4zM64.7,270.5h0.9v0.8h-0.9zM65.2,271.7h1.3v1.2h-1.3zM79.9,250.8h1.3v1.2h-1.3zM80.2,250.5h1.4v1.3h-1.4zM83.1,253.1h0.9v0.8h-0.9zM82.4,248.2h0.9v0.8h-0.9zM80.4,248.6h0.8v0.7h-0.8zM101.4,250.4h0.8v0.7h-0.8zM102.8,248.3h1.1v1.0h-1.1zM104.9,248.4h1.4v1.2h-1.4zM54.1,305.0h0.8v0.8h-0.8zM54.0,308.2h1.3v1.2h-1.3zM31.3,265.6h0.9v0.8h-0.9zM77.5,319.8h1.0v0.9h-1.0zM76.1,319.7h1.5v1.3h-1.5zM28.2,311.5h1.4v1.3h-1.4zM73.4,277.7h1.4v1.3h-1.4zM74.7,282.4h0.7v0.6h-0.7zM33.0,304.8h0.7v0.6h-0.7zM30.3,307.5h1.3v1.2h-1.3zM33.1,306.1h0.9v0.8h-0.9zM101.4,298.8h0.7v0.6h-0.7zM98.9,292.9h0.8v0.7h-0.8zM1.6,331.2h1.4v1.3h-1.4zM-2.9,329.1h0.9v0.8h-0.9zM0.7,331.3h1.0v0.9h-1.0zM38.4,299.4h1.1v1.0h-1.1zM10.2,294.7h1.1v1.0h-1.1zM8.4,298.3h1.1v1.0h-1.1zM8.3,299.7h1.4v1.2h-1.4zM13.2,295.2h1.2v1.1h-1.2zM9.9,298.9h1.0v0.9h-1.0zM11.6,299.1h0.9v0.8h-0.9zM71.6,248.2h1.0v0.9h-1.0zM66.3,251.4h1.5v1.3h-1.5zM2.5,277.5h1.2v1.1h-1.2zM3.6,270.7h1.5v1.3h-1.5zM1.7,271.0h0.8v0.7h-0.8zM67.5,284.5h1.3v1.1h-1.3zM67.8,285.0h0.8v0.7h-0.8zM64.3,286.5h0.8v0.7h-0.8zM64.8,287.2h1.0v0.9h-1.0zM64.6,286.5h0.8v0.7h-0.8zM68.2,287.3h0.9v0.8h-0.9zM44.8,280.8h0.8v0.7h-0.8zM44.8,278.9h1.2v1.1h-1.2zM45.4,282.1h0.9v0.8h-0.9zM6.2,330.3h1.2v1.0h-1.2zM7.3,329.3h0.7v0.7h-0.7zM5.2,332.9h1.1v1.0h-1.1zM85.5,288.4h0.9v0.8h-0.9zM85.3,284.9h0.9v0.8h-0.9zM52.7,294.0h1.1v1.0h-1.1zM51.7,296.1h0.7v0.7h-0.7zM51.9,292.6h1.1v1.0h-1.1zM52.4,295.5h1.0v0.9h-1.0zM66.0,297.5h1.2v1.1h-1.2zM61.6,257.7h1.1v1.0h-1.1zM61.1,259.7h0.9v0.8h-0.9zM73.2,328.1h0.8v0.8h-0.8zM71.8,327.5h1.2v1.1h-1.2zM93.9,259.7h1.0v0.9h-1.0zM98.4,261.1h1.4v1.2h-1.4zM52.4,289.0h1.2v1.1h-1.2zM50.3,288.9h1.0v0.9h-1.0zM23.5,310.1h1.2v1.1h-1.2zM24.7,310.3h1.2v1.0h-1.2zM25.7,311.3h1.1v1.0h-1.1zM22.9,262.2h1.5v1.3h-1.5zM23.5,266.9h0.9v0.8h-0.9zM22.6,265.3h0.8v0.7h-0.8zM21.6,263.0h1.3v1.2h-1.3zM21.1,261.5h0.9v0.8h-0.9zM86.0,259.5h1.0v0.9h-1.0zM88.2,304.5h0.7v0.6h-0.7zM93.2,303.8h1.1v1.0h-1.1zM92.5,305.7h0.7v0.7h-0.7zM92.6,303.7h1.1v1.0h-1.1zM93.8,304.0h1.3v1.1h-1.3zM94.0,303.4h1.5v1.3h-1.5zM91.7,304.4h1.3v1.2h-1.3zM79.6,275.7h1.2v1.1h-1.2zM78.2,275.9h0.7v0.6h-0.7zM82.5,273.4h0.8v0.8h-0.8zM78.7,276.2h0.8v0.7h-0.8zM18.1,268.2h1.5v1.3h-1.5zM82.0,285.3h0.9v0.8h-0.9zM85.3,279.8h1.1v1.0h-1.1zM85.0,265.2h1.3v1.2h-1.3zM86.9,264.9h1.3v1.2h-1.3zM84.5,266.8h0.8v0.7h-0.8zM85.9,265.5h1.4v1.3h-1.4zM86.7,266.9h1.3v1.2h-1.3zM83.9,264.8h1.3v1.2h-1.3zM87.9,261.2h1.1v1.0h-1.1zM90.5,264.1h1.1v1.0h-1.1zM14.8,272.4h1.0v0.9h-1.0zM12.9,271.0h0.8v0.8h-0.8zM13.8,322.2h1.0v0.9h-1.0zM46.2,314.3h1.5v1.3h-1.5zM48.0,312.9h1.1v1.0h-1.1zM60.8,256.2h1.4v1.3h-1.4zM62.5,261.2h0.9v0.8h-0.9zM61.7,260.2h0.8v0.7h-0.8zM51.2,268.0h1.1v1.0h-1.1zM51.7,266.0h1.1v1.0h-1.1zM47.9,269.9h1.0v0.9h-1.0zM48.5,269.0h0.9v0.8h-0.9zM69.3,277.4h1.2v1.1h-1.2zM16.7,258.9h1.0v0.9h-1.0zM19.0,256.1h0.8v0.8h-0.8zM14.6,257.6h0.8v0.7h-0.8zM35.6,264.6h1.3v1.1h-1.3zM33.4,266.2h1.1v1.0h-1.1zM37.5,263.5h1.2v1.0h-1.2zM21.8,261.3h1.5v1.3h-1.5zM25.5,261.9h1.1v1.0h-1.1zM28.0,260.2h0.8v0.7h-0.8zM106.9,306.5h1.1v1.0h-1.1zM3.7,293.8h0.8v0.8h-0.8zM4.1,294.1h1.2v1.1h-1.2zM4.3,294.1h0.7v0.7h-0.7zM6.5,296.1h0.8v0.7h-0.8zM67.7,276.2h1.2v1.1h-1.2zM58.8,254.2h1.2v1.0h-1.2zM105.4,249.8h1.3v1.2h-1.3zM103.7,254.2h1.0v0.9h-1.0zM40.8,292.6h1.3v1.1h-1.3zM38.3,294.7h1.4v1.2h-1.4zM39.3,295.7h0.7v0.6h-0.7zM39.6,293.9h1.4v1.2h-1.4zM36.8,295.3h1.1v1.0h-1.1zM40.9,295.5h1.1v1.0h-1.1zM55.1,294.9h1.3v1.2h-1.3zM57.2,292.8h1.3v1.2h-1.3zM60.3,295.2h1.5v1.3h-1.5zM96.4,248.7h1.0v0.9h-1.0zM35.9,314.3h1.1v1.0h-1.1zM37.8,314.7h0.9v0.8h-0.9zM34.0,311.8h0.8v0.8h-0.8zM89.1,291.3h1.1v1.0h-1.1zM90.3,292.8h1.0v0.9h-1.0zM86.4,293.9h1.5v1.3h-1.5zM38.1,270.4h0.8v0.7h-0.8zM38.3,270.1h0.8v0.7h-0.8zM38.9,269.9h1.3v1.1h-1.3zM39.2,270.8h0.8v0.7h-0.8zM38.9,269.1h1.4v1.2h-1.4zM63.0,253.3h0.9v0.8h-0.9zM12.1,265.7h0.9v0.8h-0.9zM10.2,266.0h0.8v0.7h-0.8zM11.9,266.1h1.4v1.2h-1.4zM86.7,300.8h1.2v1.1h-1.2zM99.0,310.5h1.2v1.0h-1.2zM100.1,307.8h0.9v0.8h-0.9zM56.8,275.5h0.9v0.8h-0.9zM42.8,295.9h1.0v0.9h-1.0zM44.9,296.2h0.9v0.8h-0.9zM37.1,292.7h1.3v1.2h-1.3zM38.0,292.9h1.3v1.2h-1.3zM40.0,294.1h0.8v0.7h-0.8zM43.4,290.0h1.0v0.9h-1.0zM42.7,286.9h1.0v0.9h-1.0zM40.1,287.1h0.8v0.7h-0.8zM80.8,336.7h1.2v1.1h-1.2zM15.5,311.0h0.8v0.7h-0.8zM15.8,307.9h1.3v1.1h-1.3zM47.9,270.8h0.8v0.7h-0.8zM47.1,271.4h1.4v1.3h-1.4zM47.2,272.4h1.0v0.9h-1.0zM85.6,268.6h1.0v0.9h-1.0zM82.1,268.8h1.4v1.3h-1.4zM83.2,267.9h0.8v0.7h-0.8zM52.8,256.6h0.9v0.8h-0.9zM53.3,251.7h1.1v1.0h-1.1zM77.5,264.4h1.0v0.9h-1.0zM75.8,265.9h1.0v0.9h-1.0zM87.7,263.3h1.4v1.2h-1.4zM85.4,260.4h1.1v1.0h-1.1zM86.7,255.9h1.4v1.3h-1.4zM81.3,286.6h0.8v0.7h-0.8zM47.5,270.9h0.7v0.6h-0.7zM42.1,271.1h1.0v0.9h-1.0zM46.4,269.7h1.0v0.9h-1.0zM44.9,274.0h1.5v1.3h-1.5zM48.6,270.1h1.2v1.0h-1.2zM21.2,275.2h1.4v1.3h-1.4zM21.1,279.1h1.3v1.2h-1.3zM46.6,294.4h1.3v1.1h-1.3zM47.9,292.7h1.1v1.0h-1.1zM114.9,269.0h0.8v0.7h-0.8zM108.2,265.5h1.3v1.2h-1.3zM102.5,265.0h1.1v0.9h-1.1zM101.5,265.9h0.9v0.8h-0.9zM102.4,268.3h0.9v0.8h-0.9zM103.9,269.0h1.2v1.1h-1.2zM49.9,330.6h1.1v1.0h-1.1zM54.8,328.0h1.0v0.9h-1.0zM44.4,285.2h1.2v1.1h-1.2zM111.7,265.0h1.4v1.2h-1.4zM108.6,268.5h1.1v0.9h-1.1zM109.8,265.3h1.4v1.2h-1.4zM109.3,267.5h0.8v0.8h-0.8zM108.6,267.9h1.2v1.0h-1.2zM101.4,293.8h0.8v0.7h-0.8zM101.8,293.7h1.0v0.9h-1.0zM100.8,299.2h1.0v0.9h-1.0zM100.2,296.6h0.8v0.7h-0.8zM48.5,278.9h1.4v1.2h-1.4zM19.5,279.0h1.5v1.3h-1.5zM19.7,276.8h1.4v1.3h-1.4zM2.5,255.0h1.3v1.2h-1.3zM59.2,339.0h0.9v0.8h-0.9zM57.4,336.2h0.9v0.8h-0.9zM8.2,312.0h1.0v0.9h-1.0zM103.3,265.3h0.8v0.8h-0.8zM102.9,263.8h1.2v1.1h-1.2zM103.3,265.0h1.1v1.0h-1.1zM26.2,288.1h1.4v1.3h-1.4zM18.1,292.3h1.4v1.3h-1.4zM19.0,293.5h1.4v1.3h-1.4zM18.6,293.2h1.4v1.3h-1.4zM19.4,295.6h1.4v1.2h-1.4zM18.3,293.3h1.3v1.1h-1.3zM64.6,313.6h1.3v1.2h-1.3zM65.7,314.4h1.1v1.0h-1.1zM3.0,248.1h0.9v0.9h-0.9zM13.8,258.6h1.2v1.0h-1.2zM18.5,260.0h0.9v0.8h-0.9zM17.2,258.7h1.3v1.1h-1.3zM70.0,271.5h1.1v1.0h-1.1zM72.2,271.3h1.0v0.9h-1.0zM67.3,272.0h0.8v0.7h-0.8zM68.8,271.7h0.7v0.7h-0.7zM45.8,303.7h1.4v1.2h-1.4zM108.6,298.9h1.4v1.2h-1.4zM1.7,249.9h1.0v1.0h-1.0zM3.9,291.8h0.8v0.8h-0.8zM93.6,337.8h0.7v0.7h-0.7zM98.6,331.8h0.7v0.7h-0.7zM70.3,311.8h0.9v0.9h-0.9zM68.4,322.0h0.8v0.8h-0.8zM72.4,269.6h1.0v1.0h-1.0zM37.1,262.5h0.7v0.7h-0.7zM49.3,313.5h0.7v0.7h-0.7zM102.1,268.3h1.0v1.0h-1.0zM33.6,282.2h1.0v1.0h-1.0zM26.6,268.5h1.2v1.2h-1.2zM38.5,279.4h1.2v1.2h-1.2zM32.0,337.7h0.7v0.7h-0.7zM86.6,262.4h1.1v1.1h-1.1zM10.9,297.8h1.0v1.0h-1.0zM22.5,327.0h1.1v1.1h-1.1zM72.4,330.7h0.6v0.6h-0.6zM107.5,278.5h1.2v1.2h-1.2zM88.9,275.6h0.8v0.8h-0.8zM98.4,335.8h0.9v0.9h-0.9zM61.0,259.1h1.1v1.1h-1.1zM62.1,250.0h0.9v0.9h-0.9zM28.6,314.1h0.7v0.7h-0.7zM73.4,333.8h0.8v0.8h-0.8zM80.6,335.3h1.0v1.0h-1.0zM95.0,256.9h0.9v0.9h-0.9zM106.3,314.1h0.6v0.6h-0.6zM81.1,283.9h0.7v0.7h-0.7zM12.0,288.1h1.0v1.0h-1.0zM95.3,298.0h1.2v1.2h-1.2zM25.9,321.4h0.8v0.8h-0.8zM19.4,322.4h0.9v0.9h-0.9zM53.3,321.9h0.7v0.7h-0.7zM91.0,319.3h0.8v0.8h-0.8zM33.0,316.9h0.9v0.9h-0.9zM43.6,312.8h0.7v0.7h-0.7zM113.0,255.9h0.7v0.7h-0.7zM50.0,330.1h0.8v0.8h-0.8zM10.2,292.2h0.8v0.8h-0.8zM25.9,269.4h0.7v0.7h-0.7zM68.6,298.4h1.2v1.2h-1.2zM10.7,280.1h0.6v0.6h-0.6zM112.3,282.6h1.0v1.0h-1.0zM99.6,285.4h0.9v0.9h-0.9zM90.6,325.6h0.7v0.7h-0.7zM35.9,333.7h0.6v0.6h-0.6zM105.9,282.1h1.1v1.1h-1.1zM57.4,247.7h1.1v1.1h-1.1zM111.0,297.7h1.1v1.1h-1.1zM59.3,297.8h0.7v0.7h-0.7zM103.3,323.4h0.7v0.7h-0.7zM73.9,319.6h0.9v0.9h-0.9zM13.1,327.8h0.6v0.6h-0.6zM26.2,321.9h0.6v0.6h-0.6zM61.8,307.1h0.8v0.8h-0.8zM61.8,311.5h1.2v1.2h-1.2zM110.7,268.7h1.2v1.2h-1.2zM7.5,277.1h0.7v0.7h-0.7zM41.4,290.7h1.0v1.0h-1.0zM78.9,306.2h0.9v0.9h-0.9zM52.3,299.7h0.8v0.8h-0.8zM110.2,282.9h0.9v0.9h-0.9zM113.5,310.7h1.1v1.1h-1.1zM90.5,300.0h0.9v0.9h-0.9zM61.0,295.0h0.7v0.7h-0.7zM27.5,279.2h1.1v1.1h-1.1zM7.0,304.1h1.0v1.0h-1.0zM83.5,323.4h1.0v1.0h-1.0zM86.8,315.2h1.0v1.0h-1.0zM54.8,249.9h1.1v1.1h-1.1zM57.7,296.5h1.0v1.0h-1.0zM87.1,308.3h0.7v0.7h-0.7zM51.8,318.2h1.0v1.0h-1.0zM7.6,256.0h1.0v1.0h-1.0zM28.3,274.0h0.8v0.8h-0.8zM14.9,256.1h0.7v0.7h-0.7zM109.6,273.0h1.0v1.0h-1.0zM106.9,290.7h0.7v0.7h-0.7zM102.0,317.6h0.7v0.7h-0.7zM4.9,322.6h0.9v0.9h-0.9zM20.7,261.2h1.1v1.1h-1.1zM89.7,255.7h1.1v1.1h-1.1zM6.9,315.3h1.0v1.0h-1.0zM100.6,289.9h0.7v0.7h-0.7zM51.4,329.4h0.6v0.6h-0.6zM18.0,251.2h1.1v1.1h-1.1zM102.0,279.0h0.9v0.9h-0.9zM31.1,269.2h0.7v0.7h-0.7zM85.3,335.0h1.1v1.1h-1.1zM13.5,254.3h0.9v0.9h-0.9zM25.5,315.4h0.9v0.9h-0.9zM51.9,248.7h0.7v0.7h-0.7zM88.0,306.6h0.8v0.8h-0.8zM41.1,326.8h1.1v1.1h-1.1zM55.6,316.6h1.2v1.2h-1.2zM66.1,259.5h0.7v0.7h-0.7zM25.1,262.5h1.1v1.1h-1.1zM67.9,282.0h0.9v0.9h-0.9zM41.8,266.1h0.8v0.8h-0.8zM49.3,323.7h0.6v0.6h-0.6zM100.3,259.4h0.7v0.7h-0.7zM94.0,281.1h1.2v1.2h-1.2zM26.7,308.3h1.2v1.2h-1.2zM39.3,323.8h0.7v0.7h-0.7zM103.6,325.7h0.9v0.9h-0.9zM85.5,324.3h0.9v0.9h-0.9zM15.7,258.6h1.1v1.1h-1.1zM84.1,287.7h0.8v0.8h-0.8zM42.7,280.2h1.1v1.1h-1.1zM88.4,266.9h1.0v1.0h-1.0zM81.7,329.4h1.0v1.0h-1.0zM71.4,268.4h0.6v0.6h-0.6zM23.5,254.7h1.0v1.0h-1.0zM24.2,335.5h1.0v1.0h-1.0zM53.8,300.0h0.7v0.7h-0.7zM60.4,302.4h0.7v0.7h-0.7zM39.4,251.3h0.7v0.7h-0.7zM99.2,257.4h1.1v1.1h-1.1zM52.3,263.8h1.1v1.1h-1.1zM102.3,321.3h1.0v1.0h-1.0zM90.0,332.9h0.8v0.8h-0.8zM84.6,331.0h1.1v1.1h-1.1zM85.6,330.8h0.9v0.9h-0.9zM75.0,334.4h1.1v1.1h-1.1zM11.7,328.6h1.1v1.1h-1.1zM75.2,334.0h0.9v0.9h-0.9zM30.9,267.3h0.8v0.8h-0.8zM59.2,270.4h0.7v0.7h-0.7zM53.0,261.3h0.7v0.7h-0.7zM82.1,319.7h0.9v0.9h-0.9zM76.6,334.2h1.0v1.0h-1.0zM66.4,311.6h0.9v0.9h-0.9zM82.7,256.2h0.8v0.8h-0.8zM59.4,318.7h1.1v1.1h-1.1zM52.9,335.7h1.0v1.0h-1.0zM27.8,330.9h1.0v1.0h-1.0zM24.7,320.2h1.0v1.0h-1.0zM20.2,269.4h1.0v1.0h-1.0zM85.4,334.7h1.1v1.1h-1.1zM1.2,276.8h1.1v1.1h-1.1zM66.3,263.7h0.9v0.9h-0.9zM87.9,267.4h1.0v1.0h-1.0zM90.3,314.5h0.6v0.6h-0.6zM36.3,258.0h1.1v1.1h-1.1zM11.8,293.8h0.7v0.7h-0.7zM86.8,257.8h1.1v1.1h-1.1zM68.7,286.1h0.9v0.9h-0.9zM7.7,294.0h1.2v1.2h-1.2zM15.0,293.3h0.7v0.7h-0.7zM81.0,325.7h1.2v1.2h-1.2zM59.5,279.5h0.8v0.8h-0.8zM73.4,265.7h1.0v1.0h-1.0zM55.8,262.8h1.1v1.1h-1.1zM36.4,263.3h1.0v1.0h-1.0zM33.0,265.0h0.7v0.7h-0.7zM51.3,265.9h1.1v1.1h-1.1zM6.5,331.4h0.9v0.9h-0.9zM103.9,333.5h0.9v0.9h-0.9zM27.7,276.4h1.2v1.2h-1.2zM52.1,288.3h0.8v0.8h-0.8zM16.5,318.2h0.9v0.9h-0.9zM39.2,288.8h0.9v0.9h-0.9zM76.1,276.8h0.7v0.7h-0.7zM33.8,257.6h0.9v0.9h-0.9zM110.2,276.2h0.7v0.7h-0.7zM11.4,280.0h0.8v0.8h-0.8zM59.7,261.3h1.2v1.2h-1.2zM42.0,298.3h1.1v1.1h-1.1zM55.4,293.2h0.8v0.8h-0.8zM12.4,248.6h1.0v1.0h-1.0zM75.3,281.5h1.1v1.1h-1.1zM71.1,269.1h1.1v1.1h-1.1zM7.4,298.1h0.9v0.9h-0.9zM82.5,293.7h0.9v0.9h-0.9zM36.8,264.7h0.9v0.9h-0.9zM83.3,320.9h0.9v0.9h-0.9zM7.6,317.4h0.7v0.7h-0.7zM46.6,262.0h1.1v1.1h-1.1zM75.0,282.9h1.1v1.1h-1.1zM73.8,286.4h0.8v0.8h-0.8zM100.8,323.8h1.0v1.0h-1.0zM13.0,276.3h1.1v1.1h-1.1zM107.6,285.9h0.6v0.6h-0.6zM76.8,280.7h1.0v1.0h-1.0zM46.1,258.8h0.9v0.9h-0.9zM83.0,311.4h1.2v1.2h-1.2zM0.9,314.9h0.9v0.9h-0.9zM48.4,305.0h0.8v0.8h-0.8zM96.9,325.7h0.8v0.8h-0.8zM110.3,316.1h1.2v1.2h-1.2zM15.0,332.7h1.0v1.0h-1.0zM1.8,249.6h0.8v0.8h-0.8zM27.5,293.1h0.7v0.7h-0.7zM25.7,256.4h0.8v0.8h-0.8zM13.9,274.1h0.7v0.7h-0.7zM111.2,299.1h0.7v0.7h-0.7zM94.2,321.2h1.1v1.1h-1.1zM65.7,306.3h1.0v1.0h-1.0zM62.7,306.6h0.9v0.9h-0.9zM73.0,286.8h1.1v1.1h-1.1zM95.3,262.1h1.0v1.0h-1.0zM79.7,326.5h1.1v1.1h-1.1zM114.0,254.6h0.9v0.9h-0.9zM75.4,299.3h1.1v1.1h-1.1zM96.7,297.8h1.0v1.0h-1.0zM84.3,333.9h0.7v0.7h-0.7zM38.5,292.6h0.6v0.6h-0.6zM10.9,282.0h0.7v0.7h-0.7zM79.5,301.9h0.8v0.8h-0.8zM77.8,285.6h1.0v1.0h-1.0zM3.9,333.4h0.6v0.6h-0.6zM63.5,269.6h1.2v1.2h-1.2zM59.2,254.7h0.6v0.6h-0.6z" fill="#42463f"/>
<path d="M46.5,304.9h0.8v0.8h-0.8zM102.4,287.6h0.6v0.6h-0.6zM2.8,267.8h0.9v0.9h-0.9zM59.3,287.2h0.9v0.9h-0.9zM3.0,326.5h0.8v0.8h-0.8zM18.1,256.7h1.0v1.0h-1.0zM33.1,305.3h0.7v0.7h-0.7zM71.7,257.3h1.1v1.1h-1.1zM98.3,312.0h0.7v0.7h-0.7zM37.6,312.0h0.8v0.8h-0.8zM88.5,278.6h0.7v0.7h-0.7zM88.5,253.1h0.8v0.8h-0.8zM21.9,331.5h0.8v0.8h-0.8zM60.3,337.9h1.1v1.1h-1.1zM84.8,336.2h1.0v1.0h-1.0zM105.3,299.1h1.0v1.0h-1.0zM18.9,296.1h0.7v0.7h-0.7zM80.8,265.7h0.7v0.7h-0.7zM51.2,312.4h1.0v1.0h-1.0zM41.0,267.1h1.1v1.1h-1.1zM81.7,316.9h1.0v1.0h-1.0zM32.3,292.9h1.1v1.1h-1.1zM75.1,286.8h0.8v0.8h-0.8zM59.5,248.1h0.8v0.8h-0.8zM17.5,277.7h0.9v0.9h-0.9zM64.7,301.6h1.1v1.1h-1.1zM90.4,261.4h0.9v0.9h-0.9zM34.1,334.3h1.1v1.1h-1.1zM55.8,323.0h0.9v0.9h-0.9zM48.5,289.3h1.1v1.1h-1.1zM4.9,303.2h0.7v0.7h-0.7zM35.2,300.3h0.9v0.9h-0.9zM22.3,297.9h0.9v0.9h-0.9zM16.4,289.5h1.0v1.0h-1.0zM26.9,280.6h0.7v0.7h-0.7zM49.0,248.3h0.6v0.6h-0.6zM76.0,292.7h1.0v1.0h-1.0zM62.2,257.1h1.1v1.1h-1.1zM66.2,316.5h0.9v0.9h-0.9zM42.7,295.2h0.7v0.7h-0.7zM32.8,299.0h1.1v1.1h-1.1zM51.9,333.3h0.9v0.9h-0.9zM40.1,336.5h0.7v0.7h-0.7zM59.4,266.1h1.2v1.2h-1.2zM91.3,325.5h0.9v0.9h-0.9zM102.1,259.1h0.9v0.9h-0.9zM81.2,299.3h0.8v0.8h-0.8zM28.0,310.7h1.1v1.1h-1.1zM7.9,263.7h1.1v1.1h-1.1zM4.9,249.4h1.1v1.1h-1.1zM63.4,314.0h0.6v0.6h-0.6zM97.0,255.5h1.0v1.0h-1.0zM55.4,280.6h0.6v0.6h-0.6zM21.0,272.2h0.9v0.9h-0.9zM72.5,286.0h0.9v0.9h-0.9zM23.1,316.3h1.1v1.1h-1.1zM77.1,259.9h1.2v1.2h-1.2zM77.5,294.1h0.9v0.9h-0.9zM36.0,317.1h1.0v1.0h-1.0zM24.2,272.6h1.0v1.0h-1.0zM54.1,332.0h1.1v1.1h-1.1zM5.7,328.5h0.8v0.8h-0.8zM96.8,258.1h1.0v1.0h-1.0zM85.4,304.5h0.6v0.6h-0.6zM12.0,323.8h1.0v1.0h-1.0zM102.3,304.8h0.9v0.9h-0.9zM92.4,286.3h1.0v1.0h-1.0zM41.2,275.0h0.7v0.7h-0.7zM97.1,248.8h0.7v0.7h-0.7zM69.2,311.1h0.8v0.8h-0.8zM14.2,305.6h0.9v0.9h-0.9zM44.4,318.7h1.0v1.0h-1.0zM64.8,274.3h0.6v0.6h-0.6zM71.3,268.4h0.9v0.9h-0.9zM36.1,278.3h0.8v0.8h-0.8zM73.6,275.9h1.1v1.1h-1.1zM18.3,266.8h0.9v0.9h-0.9zM88.6,274.8h0.7v0.7h-0.7zM3.2,279.2h0.7v0.7h-0.7zM21.9,263.7h0.7v0.7h-0.7zM20.2,282.0h1.1v1.1h-1.1zM87.4,333.6h0.6v0.6h-0.6zM23.7,269.4h1.1v1.1h-1.1zM105.5,270.8h1.1v1.1h-1.1zM102.8,281.0h0.6v0.6h-0.6zM56.3,247.0h1.2v1.2h-1.2zM70.1,318.1h0.7v0.7h-0.7zM98.6,327.6h1.1v1.1h-1.1zM21.4,310.7h1.0v1.0h-1.0zM36.4,256.4h1.2v1.2h-1.2zM77.8,314.0h0.9v0.9h-0.9zM93.0,272.9h0.7v0.7h-0.7zM31.6,321.0h0.7v0.7h-0.7zM27.0,281.8h1.0v1.0h-1.0zM60.1,269.9h0.8v0.8h-0.8zM89.5,330.5h1.0v1.0h-1.0zM112.0,333.7h1.1v1.1h-1.1zM79.8,307.4h0.8v0.8h-0.8zM38.5,284.1h1.2v1.2h-1.2zM111.7,270.4h1.1v1.1h-1.1zM29.7,247.8h1.1v1.1h-1.1zM81.8,308.0h0.7v0.7h-0.7zM103.4,254.7h0.6v0.6h-0.6zM42.8,298.0h0.9v0.9h-0.9zM13.7,260.1h1.2v1.2h-1.2zM80.3,335.9h0.6v0.6h-0.6zM93.9,300.8h1.1v1.1h-1.1zM92.3,305.5h0.7v0.7h-0.7zM70.8,307.3h1.2v1.2h-1.2zM47.3,269.7h1.0v1.0h-1.0zM41.7,267.1h0.8v0.8h-0.8zM23.7,269.0h0.7v0.7h-0.7zM26.0,248.4h0.7v0.7h-0.7zM113.4,288.2h1.1v1.1h-1.1zM42.8,303.5h0.7v0.7h-0.7zM106.0,292.7h1.1v1.1h-1.1zM95.9,335.2h0.8v0.8h-0.8zM30.9,320.0h1.0v1.0h-1.0zM85.3,254.6h0.8v0.8h-0.8zM43.5,278.5h1.1v1.1h-1.1zM76.5,284.5h0.8v0.8h-0.8zM31.1,335.2h1.1v1.1h-1.1zM59.3,327.3h1.2v1.2h-1.2zM68.4,325.0h0.8v0.8h-0.8zM85.3,262.8h1.0v1.0h-1.0zM68.2,327.8h0.8v0.8h-0.8zM67.6,254.5h0.8v0.8h-0.8zM8.4,321.6h1.2v1.2h-1.2zM51.7,296.9h0.9v0.9h-0.9zM86.8,261.0h1.0v1.0h-1.0zM106.6,318.7h1.2v1.2h-1.2zM86.0,313.2h0.7v0.7h-0.7zM36.4,307.1h1.0v1.0h-1.0zM38.7,293.8h0.8v0.8h-0.8zM18.1,323.7h0.8v0.8h-0.8zM113.3,324.5h1.2v1.2h-1.2zM108.0,257.4h1.0v1.0h-1.0zM97.0,308.7h0.7v0.7h-0.7zM61.3,277.5h0.7v0.7h-0.7zM59.5,267.1h1.0v1.0h-1.0zM80.1,298.3h0.7v0.7h-0.7zM79.5,270.6h1.0v1.0h-1.0zM56.9,260.7h0.8v0.8h-0.8zM1.6,335.1h1.0v1.0h-1.0zM82.0,322.6h0.8v0.8h-0.8zM77.4,256.3h1.0v1.0h-1.0zM112.3,326.6h1.2v1.2h-1.2zM97.4,261.7h1.0v1.0h-1.0zM24.2,308.9h1.0v1.0h-1.0zM80.2,268.0h0.8v0.8h-0.8zM68.5,316.4h1.0v1.0h-1.0zM28.3,332.3h1.2v1.2h-1.2zM6.9,320.1h1.1v1.1h-1.1zM94.7,289.9h1.0v1.0h-1.0zM33.5,271.0h1.2v1.2h-1.2zM73.1,303.6h1.0v1.0h-1.0zM109.5,271.7h0.9v0.9h-0.9zM57.4,247.4h0.7v0.7h-0.7zM42.7,299.2h0.8v0.8h-0.8zM100.8,330.5h1.1v1.1h-1.1zM48.0,262.1h0.9v0.9h-0.9zM88.6,279.2h0.7v0.7h-0.7zM43.9,275.9h0.7v0.7h-0.7zM20.4,252.6h0.9v0.9h-0.9zM106.1,250.2h0.9v0.9h-0.9zM110.6,253.7h1.1v1.1h-1.1zM22.4,334.2h0.7v0.7h-0.7zM57.7,272.5h1.2v1.2h-1.2zM15.6,334.5h1.0v1.0h-1.0zM33.3,317.3h0.6v0.6h-0.6zM46.9,266.3h0.7v0.7h-0.7zM64.4,261.1h1.0v1.0h-1.0zM58.9,324.5h1.1v1.1h-1.1zM43.1,315.6h1.1v1.1h-1.1zM103.7,285.4h0.7v0.7h-0.7zM91.7,317.9h0.9v0.9h-0.9zM115.4,334.8h0.7v0.7h-0.7zM72.1,301.2h1.2v1.2h-1.2zM17.7,302.2h1.0v1.0h-1.0zM78.2,321.6h1.1v1.1h-1.1zM79.9,321.2h1.0v1.0h-1.0zM83.2,310.8h1.1v1.1h-1.1zM48.5,270.2h1.1v1.1h-1.1zM82.9,320.3h0.6v0.6h-0.6zM89.9,252.1h0.7v0.7h-0.7zM104.3,324.3h0.9v0.9h-0.9zM52.9,256.3h0.7v0.7h-0.7zM5.9,334.8h1.1v1.1h-1.1zM102.0,333.0h1.0v1.0h-1.0zM86.4,316.2h0.9v0.9h-0.9zM68.5,247.6h1.1v1.1h-1.1zM20.5,255.5h0.6v0.6h-0.6zM33.3,255.1h1.0v1.0h-1.0zM70.5,329.6h0.7v0.7h-0.7zM57.6,311.5h1.2v1.2h-1.2zM75.8,251.3h0.9v0.9h-0.9zM66.7,293.6h0.7v0.7h-0.7zM105.8,288.7h0.8v0.8h-0.8zM79.9,283.0h0.9v0.9h-0.9zM30.5,324.7h0.8v0.8h-0.8zM71.8,303.4h0.9v0.9h-0.9zM79.2,300.7h1.0v1.0h-1.0zM48.9,263.1h0.7v0.7h-0.7zM43.8,301.0h0.8v0.8h-0.8zM11.7,263.6h0.9v0.9h-0.9zM65.8,321.3h1.1v1.1h-1.1zM25.8,266.7h1.2v1.2h-1.2zM24.7,323.5h1.0v1.0h-1.0zM1.6,310.6h1.0v1.0h-1.0zM6.3,266.6h1.0v1.0h-1.0zM64.3,298.5h0.6v0.6h-0.6zM3.5,252.9h0.8v0.8h-0.8zM18.2,258.9h1.1v1.1h-1.1zM87.8,325.9h0.8v0.8h-0.8zM80.6,262.5h0.7v0.7h-0.7zM113.3,250.8h0.8v0.8h-0.8zM84.5,292.0h0.8v0.8h-0.8zM13.0,256.4h0.7v0.7h-0.7zM70.4,262.2h1.1v1.1h-1.1zM111.8,324.3h0.9v0.9h-0.9zM21.7,259.6h1.2v1.2h-1.2zM18.1,255.7h0.6v0.6h-0.6zM50.9,249.5h0.9v0.9h-0.9zM26.2,257.5h1.0v1.0h-1.0zM98.8,326.9h1.0v1.0h-1.0zM58.1,270.8h0.8v0.8h-0.8zM16.3,273.3h1.0v1.0h-1.0zM97.3,247.0h1.1v1.1h-1.1zM36.0,294.9h0.7v0.7h-0.7zM112.1,301.5h0.8v0.8h-0.8zM104.1,320.0h0.8v0.8h-0.8zM111.7,329.8h1.2v1.2h-1.2zM13.2,294.3h0.8v0.8h-0.8zM104.5,308.4h0.8v0.8h-0.8zM13.3,249.4h0.6v0.6h-0.6zM62.8,253.1h0.6v0.6h-0.6zM31.0,283.6h0.9v0.9h-0.9zM18.0,293.0h0.8v0.8h-0.8zM95.9,291.7h1.1v1.1h-1.1zM2.5,297.1h1.1v1.1h-1.1zM39.5,334.8h0.6v0.6h-0.6zM104.6,274.2h0.8v0.8h-0.8zM2.0,270.1h0.8v0.8h-0.8zM5.1,266.3h1.1v1.1h-1.1zM55.8,305.8h0.8v0.8h-0.8zM60.2,254.8h1.2v1.2h-1.2zM54.1,304.2h0.7v0.7h-0.7z" fill="#4a4e48"/>
<path d="M99.8,305.6h0.7v0.7h-0.7zM74.0,267.7h1.1v1.1h-1.1zM6.3,307.9h0.6v0.6h-0.6zM100.9,281.5h1.0v1.0h-1.0zM110.2,257.4h1.0v1.0h-1.0zM107.8,337.6h1.2v1.2h-1.2zM60.9,320.4h1.0v1.0h-1.0zM115.7,332.7h1.1v1.1h-1.1zM9.5,331.9h0.8v0.8h-0.8zM66.1,295.7h0.8v0.8h-0.8zM90.4,260.9h0.7v0.7h-0.7zM33.8,267.1h1.2v1.2h-1.2zM59.8,301.5h0.9v0.9h-0.9zM65.0,279.2h0.8v0.8h-0.8zM100.8,263.8h0.6v0.6h-0.6zM102.5,328.6h0.7v0.7h-0.7zM46.6,323.9h1.2v1.2h-1.2zM13.7,280.8h1.0v1.0h-1.0zM15.0,291.0h1.0v1.0h-1.0zM92.0,303.0h1.1v1.1h-1.1zM3.3,276.4h0.6v0.6h-0.6zM6.1,258.0h1.2v1.2h-1.2zM113.3,291.4h0.9v0.9h-0.9zM17.1,331.9h1.0v1.0h-1.0zM21.3,256.8h0.8v0.8h-0.8zM106.3,279.4h0.7v0.7h-0.7zM83.4,248.2h0.9v0.9h-0.9zM63.1,255.7h1.2v1.2h-1.2zM70.0,308.6h0.9v0.9h-0.9zM71.6,305.0h1.0v1.0h-1.0zM30.3,274.5h1.1v1.1h-1.1zM31.5,289.2h0.9v0.9h-0.9zM53.9,311.6h1.0v1.0h-1.0zM15.9,278.1h0.8v0.8h-0.8zM94.2,333.4h0.9v0.9h-0.9zM5.3,253.8h0.7v0.7h-0.7zM61.9,288.6h1.2v1.2h-1.2zM92.5,308.3h0.8v0.8h-0.8zM73.6,331.2h0.7v0.7h-0.7zM7.0,332.1h0.7v0.7h-0.7zM63.9,324.7h1.1v1.1h-1.1zM17.8,288.4h1.0v1.0h-1.0zM89.8,284.8h1.1v1.1h-1.1zM102.6,248.2h1.2v1.2h-1.2zM47.1,298.0h1.1v1.1h-1.1zM102.1,276.8h0.8v0.8h-0.8zM8.1,288.5h0.9v0.9h-0.9zM90.5,304.3h0.8v0.8h-0.8zM72.9,278.4h0.7v0.7h-0.7zM45.0,295.9h1.0v1.0h-1.0zM7.8,266.6h1.0v1.0h-1.0zM90.4,333.3h0.6v0.6h-0.6zM30.0,283.8h0.9v0.9h-0.9zM24.6,304.8h1.1v1.1h-1.1zM46.0,255.4h0.7v0.7h-0.7zM34.8,298.4h0.6v0.6h-0.6zM69.4,332.6h1.2v1.2h-1.2zM1.0,264.6h0.6v0.6h-0.6zM27.3,255.7h1.2v1.2h-1.2zM70.2,325.4h0.7v0.7h-0.7zM28.7,301.1h0.8v0.8h-0.8zM24.5,278.3h1.1v1.1h-1.1zM28.8,285.6h0.9v0.9h-0.9zM8.5,316.2h0.9v0.9h-0.9zM23.2,253.0h1.1v1.1h-1.1zM99.8,297.8h0.8v0.8h-0.8zM12.8,300.6h1.1v1.1h-1.1zM27.5,315.3h0.6v0.6h-0.6zM105.0,251.0h0.8v0.8h-0.8zM56.1,315.3h0.8v0.8h-0.8zM73.7,279.1h1.1v1.1h-1.1zM105.3,292.2h0.6v0.6h-0.6zM90.5,292.3h0.8v0.8h-0.8zM104.3,306.8h0.8v0.8h-0.8zM7.8,261.8h1.1v1.1h-1.1zM2.6,262.9h0.8v0.8h-0.8zM12.5,307.1h1.0v1.0h-1.0zM15.6,297.9h0.6v0.6h-0.6zM4.4,299.4h0.9v0.9h-0.9zM35.8,248.3h1.2v1.2h-1.2zM101.6,300.5h0.9v0.9h-0.9zM38.7,290.9h0.6v0.6h-0.6zM82.2,258.7h0.8v0.8h-0.8zM62.0,288.2h1.2v1.2h-1.2zM68.1,279.2h0.6v0.6h-0.6zM103.4,257.9h1.1v1.1h-1.1zM108.8,314.1h1.2v1.2h-1.2zM53.0,270.2h1.1v1.1h-1.1zM73.3,306.7h0.7v0.7h-0.7zM111.7,264.5h1.1v1.1h-1.1zM61.7,281.6h1.2v1.2h-1.2zM8.1,248.1h0.6v0.6h-0.6zM91.4,285.1h1.2v1.2h-1.2zM36.5,279.3h0.8v0.8h-0.8zM84.0,253.0h0.7v0.7h-0.7zM32.4,322.8h1.1v1.1h-1.1zM35.9,293.2h0.9v0.9h-0.9zM34.3,279.9h0.8v0.8h-0.8zM20.8,277.8h0.9v0.9h-0.9zM33.6,295.3h0.7v0.7h-0.7zM34.4,307.3h0.7v0.7h-0.7zM39.8,269.0h1.1v1.1h-1.1zM69.8,273.3h1.1v1.1h-1.1zM83.0,296.6h0.7v0.7h-0.7zM68.2,322.0h0.9v0.9h-0.9zM34.2,311.7h1.1v1.1h-1.1zM39.5,297.8h0.7v0.7h-0.7zM48.1,333.2h1.2v1.2h-1.2zM104.4,306.6h0.9v0.9h-0.9zM109.4,265.3h0.7v0.7h-0.7zM102.8,316.7h0.7v0.7h-0.7zM64.0,304.8h1.2v1.2h-1.2zM41.7,261.2h0.8v0.8h-0.8zM9.1,260.9h1.0v1.0h-1.0zM48.0,314.6h0.7v0.7h-0.7zM23.1,255.7h0.9v0.9h-0.9zM58.5,269.9h1.0v1.0h-1.0zM114.9,298.3h0.9v0.9h-0.9zM14.1,294.7h0.9v0.9h-0.9zM16.3,270.0h1.0v1.0h-1.0zM89.7,289.1h0.8v0.8h-0.8zM40.2,252.9h1.1v1.1h-1.1zM83.0,296.5h0.6v0.6h-0.6zM10.7,267.7h1.1v1.1h-1.1zM50.4,336.9h0.8v0.8h-0.8zM75.3,313.8h0.9v0.9h-0.9zM55.2,285.5h1.0v1.0h-1.0zM7.1,314.6h1.0v1.0h-1.0zM79.9,251.3h1.2v1.2h-1.2zM94.5,270.2h1.0v1.0h-1.0zM20.0,282.8h0.9v0.9h-0.9zM54.8,322.8h1.0v1.0h-1.0zM88.6,263.3h1.0v1.0h-1.0zM52.6,269.9h1.2v1.2h-1.2zM34.4,300.6h0.7v0.7h-0.7zM13.3,288.6h0.9v0.9h-0.9zM102.7,251.5h1.2v1.2h-1.2zM59.8,329.5h0.6v0.6h-0.6zM107.3,287.4h0.8v0.8h-0.8zM17.3,303.9h0.8v0.8h-0.8zM23.1,278.2h0.9v0.9h-0.9zM66.4,258.1h0.7v0.7h-0.7zM55.4,323.2h0.9v0.9h-0.9zM106.9,292.9h0.9v0.9h-0.9zM74.9,324.8h1.1v1.1h-1.1zM61.9,294.7h0.7v0.7h-0.7zM20.4,325.1h0.8v0.8h-0.8zM99.2,303.3h0.6v0.6h-0.6zM35.0,313.3h0.9v0.9h-0.9zM78.7,337.5h0.7v0.7h-0.7zM19.9,298.5h0.7v0.7h-0.7zM59.8,330.5h1.1v1.1h-1.1zM37.0,257.6h0.7v0.7h-0.7zM5.9,258.2h0.8v0.8h-0.8zM46.0,320.7h0.7v0.7h-0.7zM70.6,274.5h0.8v0.8h-0.8zM107.4,322.9h1.2v1.2h-1.2zM13.8,265.4h0.8v0.8h-0.8zM84.4,305.3h1.0v1.0h-1.0zM84.1,329.7h0.8v0.8h-0.8zM111.7,307.5h1.2v1.2h-1.2zM8.3,323.8h1.1v1.1h-1.1zM93.1,286.3h1.1v1.1h-1.1zM79.1,259.4h0.8v0.8h-0.8zM75.9,322.9h1.1v1.1h-1.1zM60.2,303.8h0.7v0.7h-0.7zM58.3,320.2h0.8v0.8h-0.8zM51.0,298.1h1.2v1.2h-1.2zM107.4,292.9h0.7v0.7h-0.7zM105.4,307.1h1.0v1.0h-1.0zM83.3,310.2h0.7v0.7h-0.7zM7.9,262.9h1.1v1.1h-1.1zM93.1,259.3h0.8v0.8h-0.8zM58.3,296.5h1.1v1.1h-1.1zM40.1,330.4h0.9v0.9h-0.9zM101.8,315.1h0.6v0.6h-0.6zM52.4,325.9h0.6v0.6h-0.6zM82.9,251.1h1.2v1.2h-1.2zM106.4,275.9h1.0v1.0h-1.0zM19.9,284.1h1.0v1.0h-1.0zM61.9,336.9h0.7v0.7h-0.7zM15.7,276.1h0.8v0.8h-0.8zM100.6,281.6h0.7v0.7h-0.7zM77.5,293.8h1.1v1.1h-1.1zM22.7,264.0h0.6v0.6h-0.6zM9.1,256.2h1.0v1.0h-1.0zM34.6,250.4h0.7v0.7h-0.7zM56.6,254.3h0.9v0.9h-0.9zM10.6,298.5h0.8v0.8h-0.8zM78.4,287.7h1.2v1.2h-1.2zM84.6,308.6h0.9v0.9h-0.9zM33.7,290.1h1.2v1.2h-1.2zM27.3,265.1h0.9v0.9h-0.9zM53.4,315.8h0.8v0.8h-0.8zM35.0,266.7h1.0v1.0h-1.0zM84.0,313.2h1.2v1.2h-1.2zM87.5,336.5h0.7v0.7h-0.7zM26.1,315.1h1.1v1.1h-1.1zM22.7,268.5h1.1v1.1h-1.1zM46.7,292.1h1.2v1.2h-1.2zM97.7,286.5h0.6v0.6h-0.6zM96.2,259.7h1.1v1.1h-1.1zM84.8,324.6h0.6v0.6h-0.6zM85.9,249.9h0.9v0.9h-0.9zM31.9,249.5h0.8v0.8h-0.8zM51.7,300.7h0.8v0.8h-0.8zM27.7,285.3h1.0v1.0h-1.0zM103.3,254.0h0.7v0.7h-0.7zM23.8,299.9h0.8v0.8h-0.8zM70.1,291.3h0.6v0.6h-0.6zM99.5,284.4h1.0v1.0h-1.0zM74.5,314.9h0.7v0.7h-0.7zM45.0,279.0h1.2v1.2h-1.2zM69.5,328.2h1.1v1.1h-1.1zM2.4,278.0h1.0v1.0h-1.0zM5.0,279.5h1.0v1.0h-1.0zM21.5,281.6h0.7v0.7h-0.7zM111.2,247.4h1.0v1.0h-1.0zM80.4,253.7h0.8v0.8h-0.8zM47.2,321.9h0.9v0.9h-0.9zM85.8,322.7h0.9v0.9h-0.9zM72.0,280.9h1.1v1.1h-1.1zM94.5,260.2h0.6v0.6h-0.6zM66.9,328.6h0.8v0.8h-0.8zM44.8,293.4h0.7v0.7h-0.7zM40.6,253.5h1.0v1.0h-1.0zM37.7,334.9h1.1v1.1h-1.1zM28.4,300.0h0.7v0.7h-0.7zM114.7,269.3h0.7v0.7h-0.7zM108.0,308.6h0.8v0.8h-0.8zM39.0,252.4h1.1v1.1h-1.1zM86.7,281.8h1.1v1.1h-1.1zM50.3,284.4h0.7v0.7h-0.7zM97.9,276.1h0.9v0.9h-0.9zM38.9,263.6h1.1v1.1h-1.1zM7.8,299.1h0.8v0.8h-0.8zM7.4,328.4h1.1v1.1h-1.1zM14.0,276.0h0.6v0.6h-0.6zM92.5,250.7h0.6v0.6h-0.6z" fill="#686c66"/>
<path d="M44,318L54,303L62,306L68,312L60,318Z" fill="#8a8e88" opacity="0.6" filter="url(#gb)"/>
<path d="M89,305C86,309 84,313 80,315C77,317 76,320 77,323" stroke="#2a2e29" stroke-width="0.9" fill="none"/>
</g>
<rect x="3.6" y="250" width="107.2" height="85" rx="3" fill="none" stroke="#c4c8c2" stroke-width="2.8" opacity="0.8" filter="url(#gb)"/>
<path d="M10.8,256.3L15.2,258.6M11,254.6L17.8,254.2M6.6,258.3L7,259.4M93.9,274.6L94.8,276.8M6.6,303.6L7.6,305.8M31.3,313.3L35.7,307.3M35.7,307.3L38.4,311.7M38.4,311.7L39,320.5M43.9,317.2L53.3,305.1M50,298.5L51.6,305.2M51.6,305.2L55.5,298.5M59.9,289.7L61,308.4M63.2,293L70.9,295.2M64.3,297.4L66.5,307.3" stroke="#6cd83a" stroke-width="3.2" stroke-linecap="round" fill="none" opacity="0.55" filter="url(#gb)"/>
<path d="M10.8,256.3L15.2,258.6M11,254.6L17.8,254.2M6.6,258.3L7,259.4M93.9,274.6L94.8,276.8M6.6,303.6L7.6,305.8M31.3,313.3L35.7,307.3M35.7,307.3L38.4,311.7M38.4,311.7L39,320.5M43.9,317.2L53.3,305.1M50,298.5L51.6,305.2M51.6,305.2L55.5,298.5M59.9,289.7L61,308.4M63.2,293L70.9,295.2M64.3,297.4L66.5,307.3" stroke="#86e83c" stroke-width="1.9" stroke-linecap="round" fill="none"/>
<ellipse cx="51.5" cy="259.3" rx="1.8" ry="1.6" fill="#7ee03a"/>
<ellipse cx="53.8" cy="283.6" rx="1.4" ry="0.9" fill="#7ee03a"/>
<ellipse cx="63.7" cy="290.8" rx="1.8" ry="2.2" fill="#86e83c"/>
<ellipse cx="68.7" cy="293.6" rx="2" ry="1.5" fill="#86e83c"/>
<ellipse cx="52.7" cy="301.5" rx="2.4" ry="3" fill="#86e83c"/>
<ellipse cx="61" cy="297" rx="2" ry="4.5" fill="#7ee03a" opacity="0.9"/>
<ellipse cx="8" cy="305" rx="1.6" ry="2.6" fill="#7ee03a" opacity="0.9"/>
<ellipse cx="14" cy="256.5" rx="3" ry="1.6" fill="#7ee03a" opacity="0.7"/>
<rect x="1.6" y="248.0" width="111.2" height="89.0" rx="4.5" fill="none" stroke="#000" stroke-width="2.8"/>
<path d="M62.3,127.9H113M62.8,125V131M112.5,125V131" stroke="#2a2a2a" stroke-width="1.15" fill="none"/>
<text x="75.2" y="124" font-size="8.8" fill="#222">50 µm</text>
<path d="M248.3,121.2H295M248.8,118.1V124.3M294.5,118.1V124.3" stroke="#222" stroke-width="1" fill="none"/>
<text x="261.2" y="116.9" font-size="8.9" fill="#222">1 mm</text>
<path d="M117.6,138.8L147.4,167.9M118.3,213.4L147.4,179.3M118.3,256.6L148.7,286.5M119.1,333.2L149.4,299.1" stroke="#222" stroke-width="1.2" stroke-dasharray="5.5,3" fill="none"/>
<rect x="152.5" y="126.1" width="143.3" height="100.4" fill="#151915"/>
<rect x="152.5" y="243.2" width="143.3" height="99.2" fill="#171b17"/>
<defs><filter id="bl" x="-5%" y="-5%" width="110%" height="110%"><feGaussianBlur stdDeviation="0.45"/></filter></defs>
<g filter="url(#bl)">
<path d="M156.6,130.0h2.9v1.8h-2.9zM158.0,130.0h1.9v1.8h-1.9zM157.6,130.3h1.9v1.4h-1.9zM157.9,129.8h1.9v1.6h-1.9zM172.8,129.9h3.1v2.0h-3.1zM174.9,130.2h1.5v2.1h-1.5zM172.7,130.3h1.9v1.9h-1.9zM172.3,130.7h1.9v1.5h-1.9zM183.3,130.0h2.7v1.7h-2.7zM184.1,129.8h1.5v1.6h-1.5zM183.5,130.0h1.3v2.1h-1.3zM183.4,130.1h2.3v1.6h-2.3zM188.9,129.9h2.9v1.9h-2.9zM189.5,130.4h2.2v1.5h-2.2zM188.7,129.9h2.3v1.6h-2.3zM190.7,129.8h1.7v2.0h-1.7zM194.1,130.0h2.9v1.7h-2.9zM194.3,130.1h1.8v1.9h-1.8zM193.6,130.5h2.1v1.2h-2.1zM194.2,130.3h2.4v1.5h-2.4zM215.4,129.9h2.7v2.1h-2.7zM216.7,129.6h1.8v2.2h-1.8zM215.9,129.9h2.1v2.0h-2.1zM215.3,129.5h1.6v1.5h-1.6zM279.8,129.9h2.8v2.0h-2.8zM281.1,129.9h1.8v2.0h-1.8zM281.1,129.9h1.8v1.9h-1.8zM280.1,129.6h2.1v2.2h-2.1z" fill="#109234"/>
<path d="M161.8,130.0h3.0v1.8h-3.0zM162.9,129.8h1.4v2.0h-1.4zM162.6,130.0h1.3v2.1h-1.3zM163.1,129.9h2.3v1.9h-2.3zM220.9,129.9h2.8v2.0h-2.8zM220.7,130.5h2.2v1.7h-2.2zM221.4,129.7h1.8v1.2h-1.8zM220.4,130.2h1.9v1.4h-1.9zM225.8,130.0h3.0v1.7h-3.0zM226.8,129.9h2.2v1.7h-2.2zM227.5,129.8h1.5v1.7h-1.5zM226.9,130.0h2.2v2.1h-2.2zM231.2,129.9h2.9v2.0h-2.9zM231.9,129.5h1.6v1.8h-1.6zM232.7,130.1h1.7v2.0h-1.7zM231.9,129.5h1.4v1.2h-1.4zM237.0,130.0h2.9v1.9h-2.9zM237.8,129.9h1.7v1.8h-1.7zM236.7,130.2h1.5v1.5h-1.5zM236.5,129.8h2.1v1.6h-2.1zM247.8,130.0h2.8v1.7h-2.8zM249.0,129.8h1.7v2.1h-1.7zM248.9,130.4h1.8v1.3h-1.8zM248.3,130.0h2.3v2.0h-2.3zM253.0,129.9h2.7v1.9h-2.7zM253.6,130.2h1.6v1.6h-1.6zM253.9,129.9h2.0v1.6h-2.0zM252.6,130.3h2.2v1.2h-2.2zM258.4,130.0h2.8v1.8h-2.8zM259.1,129.7h2.1v1.7h-2.1zM257.9,129.8h2.1v2.1h-2.1zM258.3,129.7h1.9v2.0h-1.9zM284.7,129.9h3.0v2.0h-3.0zM284.8,129.8h1.6v1.4h-1.6zM286.0,129.7h2.1v2.1h-2.1zM284.9,130.4h2.3v1.5h-2.3z" fill="#129a38"/>
<path d="M167.6,129.9h2.8v2.1h-2.8zM169.6,130.1h1.4v1.4h-1.4zM168.1,130.0h2.0v1.5h-2.0zM168.4,130.5h1.7v1.8h-1.7zM178.5,129.9h2.7v2.0h-2.7zM179.0,129.6h1.3v1.6h-1.3zM178.6,130.0h2.0v2.0h-2.0zM178.5,129.6h1.9v2.1h-1.9zM199.4,130.0h2.8v1.8h-2.8zM199.1,130.1h1.6v2.0h-1.6zM199.0,130.0h2.4v1.9h-2.4zM199.5,130.4h2.0v1.5h-2.0zM205.0,129.9h2.7v1.9h-2.7zM206.6,129.6h1.5v2.0h-1.5zM205.4,129.9h2.1v1.4h-2.1zM206.0,130.0h2.2v1.2h-2.2zM210.4,129.9h2.9v2.0h-2.9zM210.5,129.6h2.0v2.0h-2.0zM210.4,129.8h1.6v2.0h-1.6zM210.7,130.6h1.8v1.6h-1.8zM242.1,129.9h2.9v2.0h-2.9zM241.6,130.0h1.3v2.1h-1.3zM243.4,130.0h2.1v1.5h-2.1zM242.3,130.3h1.3v1.4h-1.3zM263.4,129.9h2.9v2.0h-2.9zM264.0,130.2h2.0v2.1h-2.0zM265.0,130.7h1.7v1.4h-1.7zM263.8,130.2h2.4v1.6h-2.4zM269.1,130.0h2.9v1.7h-2.9zM270.5,130.8h1.5v1.3h-1.5zM270.2,129.8h1.9v1.6h-1.9zM270.0,130.0h1.6v1.4h-1.6zM274.0,129.9h3.0v2.1h-3.0zM274.6,130.6h2.2v1.8h-2.2zM273.9,130.6h2.3v1.5h-2.3zM274.1,130.0h1.5v1.8h-1.5zM290.1,129.9h2.7v2.0h-2.7zM290.2,129.5h1.8v1.9h-1.8zM289.7,130.3h1.7v1.6h-1.7zM289.7,129.8h2.1v1.7h-2.1z" fill="#14a23c"/>
<path d="M157.0,136.2h2.8v2.8h-2.8zM158.1,136.6h2.3v1.3h-2.3zM157.0,137.0h2.1v2.0h-2.1zM156.9,137.1h2.0v2.0h-2.0zM157.3,135.9h2.4v1.9h-2.4zM177.9,136.2h3.2v2.8h-3.2zM178.8,137.0h1.7v1.8h-1.7zM177.8,137.4h2.4v1.9h-2.4zM179.1,135.6h1.8v1.8h-1.8zM178.3,136.7h2.1v1.9h-2.1zM193.7,136.3h3.2v2.6h-3.2zM194.1,136.0h1.8v2.0h-1.8zM193.9,136.4h2.3v1.9h-2.3zM193.7,135.7h1.9v1.8h-1.9zM193.5,136.5h1.5v2.0h-1.5zM199.3,136.3h2.9v2.6h-2.9zM200.0,136.8h2.0v1.3h-2.0zM199.7,136.3h1.5v2.0h-1.5zM199.3,135.8h1.3v1.9h-1.3zM200.7,136.1h1.8v2.1h-1.8zM220.8,136.3h3.2v2.6h-3.2zM221.1,136.4h1.9v2.1h-1.9zM221.6,136.2h1.6v2.0h-1.6zM222.0,137.0h1.5v1.9h-1.5zM220.5,137.2h1.7v1.7h-1.7zM247.2,136.1h3.2v2.9h-3.2zM249.0,137.8h1.9v1.6h-1.9zM248.2,136.5h2.3v1.7h-2.3zM247.2,137.4h2.4v2.1h-2.4zM248.7,136.4h1.5v1.3h-1.5zM290.6,136.3h2.8v2.7h-2.8zM290.4,136.7h1.6v1.8h-1.6zM291.8,137.4h1.5v1.3h-1.5zM290.0,136.6h1.8v1.6h-1.8zM290.7,137.0h1.5v1.8h-1.5zM156.7,148.1h3.1v2.6h-3.1zM157.8,148.5h1.4v2.1h-1.4zM158.7,147.9h1.8v1.3h-1.8zM156.4,148.3h1.7v2.2h-1.7zM158.5,148.5h1.8v1.4h-1.8zM188.6,147.9h2.9v3.0h-2.9zM188.0,148.7h2.0v1.7h-2.0zM189.2,147.9h1.9v1.5h-1.9zM188.5,148.4h1.4v1.4h-1.4zM188.6,148.9h2.2v2.1h-2.2zM199.4,148.0h2.9v2.8h-2.9zM199.3,149.1h1.6v2.1h-1.6zM199.1,149.3h1.6v1.9h-1.6zM200.4,148.9h1.7v1.5h-1.7zM200.3,147.5h1.6v1.3h-1.6zM221.0,148.1h2.8v2.6h-2.8zM220.8,148.7h1.9v2.1h-1.9zM221.8,148.9h2.1v1.8h-2.1zM221.8,149.8h1.3v1.4h-1.3zM220.7,149.2h1.5v1.8h-1.5zM231.3,148.1h3.0v2.7h-3.0zM231.1,147.7h2.4v1.6h-2.4zM231.6,149.4h1.7v1.8h-1.7zM232.1,148.8h2.0v1.7h-2.0zM231.8,148.5h2.0v1.7h-2.0zM284.9,147.9h2.9v3.0h-2.9zM285.4,148.8h2.2v1.2h-2.2zM286.7,148.9h1.4v1.6h-1.4zM285.2,149.3h1.6v2.0h-1.6zM286.6,147.5h1.7v1.3h-1.7zM167.4,160.4h2.8v2.5h-2.8zM167.5,161.6h2.2v1.7h-2.2zM167.2,161.4h1.7v1.9h-1.7zM167.6,161.0h1.4v1.2h-1.4zM168.5,159.9h1.8v2.1h-1.8zM188.7,160.2h2.8v3.0h-2.8zM189.7,160.6h2.2v1.2h-2.2zM189.6,160.4h2.0v1.6h-2.0zM189.8,160.8h1.6v1.4h-1.6zM189.5,160.6h1.5v1.6h-1.5zM204.8,160.2h2.9v3.0h-2.9zM206.0,160.5h2.3v1.8h-2.3zM205.2,161.2h1.6v1.9h-1.6zM205.0,161.2h2.3v1.2h-2.3zM206.5,161.0h1.4v1.3h-1.4zM263.4,160.2h3.1v2.9h-3.1zM264.6,160.4h1.5v2.0h-1.5zM264.6,162.2h2.0v1.3h-2.0zM264.1,161.9h2.4v1.3h-2.4zM263.3,160.1h1.5v1.8h-1.5zM274.2,160.3h3.1v2.7h-3.1zM274.3,160.1h2.1v1.9h-2.1zM275.5,160.4h1.7v1.9h-1.7zM275.0,160.9h1.9v1.3h-1.9zM273.6,161.5h2.1v2.1h-2.1zM231.3,172.6h3.2v2.7h-3.2zM233.3,172.7h1.8v1.7h-1.8zM232.7,172.3h2.2v1.4h-2.2zM231.9,172.6h1.9v1.8h-1.9zM231.3,172.6h2.3v1.9h-2.3zM258.0,172.6h2.8v2.8h-2.8zM259.8,173.2h1.3v2.1h-1.3zM258.3,172.5h2.0v1.9h-2.0zM259.2,173.4h2.0v2.2h-2.0zM258.2,173.4h1.5v1.5h-1.5zM263.7,172.6h3.1v2.8h-3.1zM265.4,174.0h1.9v1.9h-1.9zM264.7,172.8h2.0v2.2h-2.0zM263.9,172.4h1.4v1.9h-1.4zM264.2,172.1h2.0v1.6h-2.0zM172.5,185.6h3.0v2.8h-3.0zM173.8,186.0h2.2v1.6h-2.2zM173.6,185.8h1.7v2.1h-1.7zM173.1,185.4h2.3v2.2h-2.3zM173.3,187.6h2.1v1.3h-2.1zM274.1,185.5h2.8v3.0h-2.8zM273.7,187.0h2.4v1.7h-2.4zM274.4,186.7h1.3v1.7h-1.3zM274.5,185.6h2.4v1.9h-2.4zM274.7,186.1h1.3v1.7h-1.3zM188.6,197.8h3.1v3.0h-3.1zM189.7,199.3h2.2v2.0h-2.2zM190.0,197.9h1.8v2.0h-1.8zM189.3,197.6h2.1v1.7h-2.1zM189.0,198.6h2.1v1.5h-2.1zM204.4,197.8h3.0v2.9h-3.0zM204.8,198.2h1.6v2.1h-1.6zM204.9,199.6h2.2v1.6h-2.2zM204.7,198.5h1.4v1.6h-1.4zM204.5,199.3h1.9v1.9h-1.9zM220.9,197.9h3.0v2.9h-3.0zM220.5,199.0h1.4v1.6h-1.4zM222.2,197.8h2.2v1.5h-2.2zM221.0,197.7h2.1v1.3h-2.1zM221.5,198.9h1.6v1.6h-1.6zM258.4,197.9h3.1v2.9h-3.1zM259.0,197.5h2.4v1.6h-2.4zM259.8,197.3h2.1v1.3h-2.1zM258.0,199.1h1.8v1.5h-1.8zM258.0,197.3h2.3v1.5h-2.3zM274.3,197.8h3.0v3.1h-3.0zM274.4,197.8h2.2v1.4h-2.2zM275.0,198.1h2.0v1.9h-2.0zM276.3,199.2h1.4v1.5h-1.4zM274.5,197.2h2.0v1.8h-2.0zM204.9,209.9h3.2v2.6h-3.2zM205.2,211.0h1.8v1.7h-1.8zM204.4,210.0h1.5v1.8h-1.5zM206.5,210.8h2.0v2.1h-2.0zM205.6,209.6h1.3v1.6h-1.3zM215.2,209.7h3.1v2.9h-3.1zM214.7,211.4h2.2v1.4h-2.2zM216.6,209.6h1.7v1.9h-1.7zM215.4,209.6h2.0v2.1h-2.0zM214.8,210.6h1.7v2.2h-1.7zM253.0,209.9h3.0v2.7h-3.0zM253.1,210.2h1.7v1.5h-1.7zM254.5,209.7h1.5v1.2h-1.5zM253.3,210.1h1.3v1.8h-1.3zM253.0,210.2h1.6v1.9h-1.6zM263.2,209.9h3.2v2.6h-3.2zM263.5,210.0h1.7v1.2h-1.7zM264.4,209.5h2.1v1.3h-2.1zM263.6,209.5h1.9v2.0h-1.9zM263.2,211.7h1.5v1.2h-1.5zM284.7,209.9h3.2v2.6h-3.2zM285.8,211.7h2.1v1.3h-2.1zM285.9,209.8h1.5v1.6h-1.5zM284.7,211.2h1.4v1.3h-1.4zM286.4,209.7h1.5v2.2h-1.5zM290.2,209.7h2.9v2.9h-2.9zM289.6,211.3h1.4v1.3h-1.4zM290.4,210.8h2.3v2.0h-2.3zM289.7,211.3h1.9v1.3h-1.9zM290.4,209.8h1.9v1.8h-1.9zM183.5,221.6h2.9v2.9h-2.9zM184.5,222.4h1.5v1.3h-1.5zM184.0,223.2h1.5v1.4h-1.5zM183.3,222.4h1.9v1.9h-1.9zM183.1,221.3h1.3v1.2h-1.3zM273.9,221.8h3.1v2.6h-3.1zM274.2,222.3h1.6v1.2h-1.6zM274.1,222.0h1.8v1.7h-1.8zM273.9,223.0h2.1v1.6h-2.1zM273.7,222.2h2.3v1.4h-2.3z" fill="#18b646"/>
<path d="M162.1,136.1h2.9v2.9h-2.9zM161.8,136.3h2.0v1.9h-2.0zM161.6,136.9h2.3v1.7h-2.3zM162.7,136.5h2.3v1.8h-2.3zM162.7,137.7h1.6v1.4h-1.6zM167.6,136.3h2.8v2.6h-2.8zM167.5,136.6h2.1v1.6h-2.1zM167.9,136.3h2.3v1.2h-2.3zM167.6,136.6h2.1v1.6h-2.1zM167.7,137.2h1.9v2.0h-1.9zM188.6,136.3h3.1v2.6h-3.1zM191.0,138.1h1.3v1.3h-1.3zM188.5,137.4h1.5v1.3h-1.5zM190.2,136.6h1.5v1.5h-1.5zM188.8,136.6h2.2v1.9h-2.2zM215.4,136.3h3.0v2.6h-3.0zM216.1,137.0h1.5v2.2h-1.5zM214.9,136.2h2.3v2.1h-2.3zM215.0,136.2h2.0v2.1h-2.0zM215.6,136.5h2.2v1.3h-2.2zM258.0,136.2h2.9v2.8h-2.9zM258.1,135.7h1.5v2.2h-1.5zM259.4,137.4h1.7v1.6h-1.7zM257.4,137.0h2.3v1.7h-2.3zM260.0,135.6h1.5v1.2h-1.5zM279.7,136.2h2.8v2.8h-2.8zM281.0,136.1h1.4v2.0h-1.4zM279.2,136.9h1.8v1.3h-1.8zM279.9,136.2h2.1v2.0h-2.1zM281.3,136.4h1.7v1.9h-1.7zM161.7,148.1h3.0v2.5h-3.0zM162.4,148.3h2.3v1.2h-2.3zM161.9,147.9h1.8v1.5h-1.8zM163.3,147.7h2.0v1.3h-2.0zM161.3,149.2h2.4v1.4h-2.4zM183.5,148.1h3.0v2.6h-3.0zM184.6,149.4h2.3v1.4h-2.3zM183.1,148.7h2.1v2.2h-2.1zM184.0,149.8h2.3v1.3h-2.3zM185.2,148.3h1.6v2.1h-1.6zM193.8,147.9h3.0v3.0h-3.0zM194.6,149.8h2.1v1.2h-2.1zM193.9,149.0h1.6v1.3h-1.6zM193.8,148.2h2.2v1.5h-2.2zM194.9,149.5h1.5v1.4h-1.5zM215.3,148.1h2.9v2.5h-2.9zM216.5,148.6h1.7v1.3h-1.7zM216.8,148.7h2.1v2.0h-2.1zM214.8,149.3h2.3v1.7h-2.3zM217.0,148.2h1.4v1.3h-1.4zM252.7,148.0h3.1v2.8h-3.1zM252.7,149.4h1.4v2.0h-1.4zM252.7,149.6h1.5v1.5h-1.5zM252.3,148.4h2.2v1.8h-2.2zM254.2,149.7h2.1v1.3h-2.1zM263.5,148.1h2.8v2.7h-2.8zM264.7,148.2h1.9v1.9h-1.9zM263.5,149.2h1.7v1.8h-1.7zM264.3,147.9h1.3v1.8h-1.3zM264.9,149.4h1.9v1.7h-1.9zM290.0,148.1h3.1v2.6h-3.1zM290.1,148.8h1.6v1.7h-1.6zM292.0,149.1h1.6v1.9h-1.6zM291.1,147.9h1.4v1.3h-1.4zM289.6,148.2h2.0v1.9h-2.0zM162.3,160.2h3.0v3.0h-3.0zM163.8,160.4h1.6v1.8h-1.6zM163.4,160.5h1.9v1.8h-1.9zM164.0,162.1h1.7v1.5h-1.7zM162.5,161.9h2.1v1.6h-2.1zM172.8,160.4h3.2v2.6h-3.2zM173.2,160.9h1.6v1.9h-1.6zM174.4,160.2h1.7v2.0h-1.7zM172.7,160.1h2.1v2.1h-2.1zM172.4,161.1h2.3v2.2h-2.3zM199.5,160.4h2.9v2.7h-2.9zM199.7,161.1h2.1v2.0h-2.1zM198.9,161.5h1.7v1.4h-1.7zM199.0,160.6h2.1v1.2h-2.1zM199.4,160.9h1.5v1.9h-1.5zM209.9,160.2h3.0v3.0h-3.0zM210.4,160.8h2.4v2.0h-2.4zM211.1,160.2h2.2v2.0h-2.2zM210.5,159.6h2.2v2.2h-2.2zM210.5,161.8h1.5v1.9h-1.5zM215.5,160.4h3.1v2.6h-3.1zM215.3,159.8h1.7v1.4h-1.7zM217.0,160.9h1.8v2.0h-1.8zM215.4,161.2h1.7v2.0h-1.7zM215.5,161.6h1.7v1.2h-1.7zM236.6,160.2h2.9v3.0h-2.9zM236.4,160.7h1.9v1.7h-1.9zM237.8,162.2h1.8v1.6h-1.8zM236.6,162.3h2.4v1.4h-2.4zM236.1,162.4h1.4v1.3h-1.4zM247.7,160.3h2.9v2.8h-2.9zM248.2,161.4h1.3v1.9h-1.3zM247.5,160.7h1.4v1.4h-1.4zM247.6,160.1h1.4v2.1h-1.4zM248.6,159.8h2.4v1.3h-2.4zM252.5,160.3h3.2v2.8h-3.2zM252.5,161.5h2.0v1.2h-2.0zM253.8,160.1h2.1v1.7h-2.1zM252.3,160.8h2.2v1.4h-2.2zM253.3,160.8h1.8v1.9h-1.8zM268.6,160.2h2.9v3.0h-2.9zM268.1,161.8h1.3v1.6h-1.3zM268.6,161.6h2.2v1.5h-2.2zM269.2,160.1h2.3v1.7h-2.3zM270.5,160.6h1.5v1.3h-1.5zM290.4,160.4h2.9v2.6h-2.9zM291.4,160.9h2.3v1.8h-2.3zM289.9,162.0h1.8v1.5h-1.8zM292.2,161.1h1.5v1.3h-1.5zM291.4,160.3h1.9v2.1h-1.9zM188.4,172.6h3.2v2.7h-3.2zM188.1,174.1h2.0v1.4h-2.0zM188.0,174.2h1.5v1.3h-1.5zM188.5,173.5h1.7v1.2h-1.7zM190.0,173.8h1.8v1.3h-1.8zM199.6,172.6h3.0v2.8h-3.0zM199.7,173.8h2.1v1.8h-2.1zM199.1,173.6h1.7v1.3h-1.7zM199.1,174.0h1.6v1.4h-1.6zM201.3,173.6h1.6v2.1h-1.6zM215.3,172.7h3.0v2.6h-3.0zM215.6,173.3h1.6v1.3h-1.6zM215.5,172.8h1.8v1.4h-1.8zM215.3,172.5h1.5v1.7h-1.5zM215.4,173.0h2.3v2.1h-2.3zM156.6,185.5h2.8v2.9h-2.8zM156.2,187.5h1.9v1.5h-1.9zM157.5,186.8h1.9v1.3h-1.9zM156.2,185.9h2.0v2.0h-2.0zM157.7,185.3h1.4v1.9h-1.4zM258.2,185.7h3.2v2.6h-3.2zM258.0,186.4h1.9v2.1h-1.9zM257.8,185.2h1.4v1.4h-1.4zM258.4,186.7h2.1v1.5h-2.1zM258.0,186.8h1.6v2.1h-1.6zM269.1,185.7h3.0v2.6h-3.0zM270.3,185.5h1.7v1.5h-1.7zM270.8,186.8h1.7v1.4h-1.7zM270.7,186.3h1.5v1.7h-1.5zM269.4,187.1h1.4v1.3h-1.4zM279.8,185.5h2.8v3.1h-2.8zM280.0,185.9h2.4v1.5h-2.4zM279.9,185.6h1.5v1.4h-1.5zM279.4,184.9h2.3v1.3h-2.3zM281.6,185.4h1.4v1.4h-1.4zM167.2,197.9h2.9v2.7h-2.9zM169.3,199.8h1.3v1.2h-1.3zM168.3,199.5h1.4v1.3h-1.4zM168.3,199.0h1.6v2.1h-1.6zM166.6,198.4h2.2v1.9h-2.2zM183.2,198.0h2.8v2.6h-2.8zM182.9,197.7h2.2v1.2h-2.2zM184.1,198.4h1.7v1.2h-1.7zM184.9,199.2h1.7v1.8h-1.7zM184.8,198.2h1.4v1.4h-1.4zM199.6,198.0h3.2v2.6h-3.2zM200.9,198.5h2.4v1.3h-2.4zM199.3,198.6h2.4v2.2h-2.4zM201.3,198.4h1.9v2.0h-1.9zM199.3,198.6h2.1v1.5h-2.1zM231.5,197.9h3.1v2.8h-3.1zM231.1,197.7h2.4v1.5h-2.4zM231.8,197.4h2.3v2.0h-2.3zM232.5,198.5h2.2v1.2h-2.2zM232.7,199.7h1.7v1.2h-1.7zM247.2,198.0h3.0v2.7h-3.0zM247.0,198.3h1.8v1.8h-1.8zM248.8,199.5h1.5v1.6h-1.5zM246.6,198.2h2.3v2.0h-2.3zM247.7,198.9h1.7v1.6h-1.7zM268.9,197.8h3.0v3.0h-3.0zM269.5,197.6h1.8v2.0h-1.8zM269.1,198.6h1.4v1.2h-1.4zM270.4,198.1h2.2v1.3h-2.2zM268.3,198.5h2.4v1.7h-2.4zM284.7,197.8h2.9v2.9h-2.9zM284.4,198.1h1.3v1.9h-1.3zM284.8,198.3h1.4v2.2h-1.4zM285.3,197.3h1.3v1.5h-1.3zM284.2,198.3h2.3v1.8h-2.3zM167.2,209.7h3.2v3.0h-3.2zM166.9,210.5h2.4v1.7h-2.4zM166.6,210.8h2.3v1.8h-2.3zM168.9,210.6h2.1v1.3h-2.1zM167.6,209.7h2.4v1.6h-2.4zM178.1,209.9h3.0v2.6h-3.0zM177.5,209.5h1.5v2.1h-1.5zM180.0,210.3h1.6v1.3h-1.6zM178.3,210.1h1.7v1.6h-1.7zM179.2,211.2h1.6v1.6h-1.6zM210.3,209.8h2.9v2.9h-2.9zM210.0,209.6h1.9v1.5h-1.9zM211.7,210.0h1.9v1.6h-1.9zM211.3,210.5h1.9v2.1h-1.9zM211.2,210.7h2.3v1.9h-2.3zM237.0,209.8h3.0v2.7h-3.0zM236.5,209.9h2.2v1.7h-2.2zM236.4,210.7h1.5v1.3h-1.5zM237.2,209.3h1.8v1.9h-1.8zM238.0,210.1h2.2v1.9h-2.2zM241.9,209.9h3.2v2.6h-3.2zM241.6,211.3h2.1v1.3h-2.1zM243.5,209.7h1.4v1.7h-1.4zM241.5,210.7h2.1v1.2h-2.1zM241.6,210.2h2.0v1.6h-2.0zM258.4,209.8h3.1v2.7h-3.1zM260.1,210.8h2.0v1.4h-2.0zM260.5,210.8h1.5v2.0h-1.5zM257.8,211.2h2.4v1.7h-2.4zM260.1,210.4h2.0v2.2h-2.0zM156.9,221.8h2.9v2.7h-2.9zM157.0,223.4h2.2v1.3h-2.2zM157.1,222.6h2.3v1.9h-2.3zM156.7,221.9h1.8v1.4h-1.8zM157.0,222.9h2.0v2.0h-2.0zM204.8,221.7h3.0v2.7h-3.0zM206.3,221.8h2.1v1.7h-2.1zM204.6,221.3h2.2v1.2h-2.2zM205.0,221.7h2.1v2.1h-2.1zM205.2,221.5h1.4v1.4h-1.4zM210.2,221.8h3.0v2.6h-3.0zM210.3,222.6h1.7v2.1h-1.7zM209.8,222.6h1.5v2.1h-1.5zM210.6,222.6h2.4v1.5h-2.4zM210.9,222.2h2.2v1.5h-2.2zM237.1,221.7h2.9v2.8h-2.9zM238.1,222.6h2.4v1.6h-2.4zM237.6,222.7h2.3v1.9h-2.3zM238.6,221.4h1.8v1.9h-1.8zM237.9,222.9h2.0v1.8h-2.0zM258.5,221.8h3.0v2.5h-3.0zM258.6,223.0h2.0v1.3h-2.0zM259.4,221.7h2.1v1.8h-2.1zM260.0,221.4h1.5v1.8h-1.5zM258.3,221.9h1.9v1.7h-1.9zM263.2,221.7h3.1v2.8h-3.1zM264.2,223.1h2.2v1.8h-2.2zM263.8,221.8h2.1v2.1h-2.1zM264.1,221.6h2.4v1.6h-2.4zM264.5,221.8h2.2v1.7h-2.2zM268.7,221.7h2.9v2.9h-2.9zM270.0,223.0h1.4v1.3h-1.4zM268.8,223.2h1.8v1.7h-1.8zM270.5,223.5h1.4v1.3h-1.4zM270.0,221.7h2.1v2.2h-2.1z" fill="#109436"/>
<path d="M172.5,136.3h2.9v2.6h-2.9zM173.2,137.1h2.3v1.3h-2.3zM174.0,136.0h2.0v1.6h-2.0zM173.7,136.6h2.0v2.1h-2.0zM174.2,136.6h1.5v1.4h-1.5zM183.4,136.2h2.9v2.8h-2.9zM183.0,136.1h2.3v2.1h-2.3zM183.8,135.8h2.0v1.4h-2.0zM183.9,137.0h2.3v1.2h-2.3zM183.6,136.5h1.8v1.2h-1.8zM204.8,136.2h2.9v2.7h-2.9zM206.1,136.4h1.4v1.3h-1.4zM206.0,136.3h2.2v1.7h-2.2zM206.2,137.2h1.6v1.5h-1.6zM205.8,138.2h1.7v1.3h-1.7zM225.8,136.1h3.0v2.9h-3.0zM225.3,136.8h2.0v2.0h-2.0zM227.7,137.1h1.4v1.7h-1.4zM225.6,137.9h2.4v1.2h-2.4zM225.8,136.7h2.3v1.5h-2.3zM167.3,141.5h2.8v2.0h-2.8zM167.2,141.9h2.1v1.9h-2.1zM168.0,141.2h2.4v1.5h-2.4zM167.9,141.3h2.0v1.3h-2.0zM183.5,141.3h2.8v2.3h-2.8zM183.0,141.5h1.8v1.8h-1.8zM183.0,142.0h2.2v2.0h-2.2zM183.7,141.1h1.7v2.2h-1.7zM199.5,141.5h2.6v2.0h-2.6zM199.0,141.1h2.2v1.8h-2.2zM200.6,141.4h1.7v1.2h-1.7zM200.0,141.6h1.6v1.6h-1.6zM215.3,141.4h3.1v2.2h-3.1zM216.1,141.9h1.9v1.5h-1.9zM215.5,142.1h1.7v1.7h-1.7zM215.9,141.5h1.9v1.9h-1.9zM231.6,141.4h2.7v2.2h-2.7zM232.2,141.5h1.9v1.8h-1.9zM233.1,141.5h1.4v2.0h-1.4zM232.6,142.1h1.9v1.5h-1.9zM290.2,141.4h2.8v2.1h-2.8zM291.1,141.3h1.4v1.6h-1.4zM291.0,142.3h1.8v1.7h-1.8zM290.0,141.5h1.7v2.1h-1.7zM178.0,148.0h3.0v2.7h-3.0zM179.3,148.4h2.2v1.6h-2.2zM179.5,149.4h1.9v1.3h-1.9zM179.9,148.8h1.3v1.6h-1.3zM178.6,148.7h1.7v1.7h-1.7zM274.4,148.0h2.9v2.7h-2.9zM275.1,148.0h2.4v2.1h-2.4zM275.9,148.7h1.5v1.9h-1.5zM275.1,148.2h1.5v1.9h-1.5zM275.2,149.1h1.9v1.6h-1.9zM279.9,148.0h2.8v2.8h-2.8zM279.3,149.0h1.9v2.1h-1.9zM279.9,148.8h2.0v1.8h-2.0zM280.0,149.5h1.4v1.7h-1.4zM280.7,148.3h2.2v1.7h-2.2zM156.9,153.9h2.6v2.0h-2.6zM156.7,154.1h2.3v2.0h-2.3zM156.5,154.5h1.8v1.4h-1.8zM157.8,153.7h1.9v1.5h-1.9zM188.6,153.9h2.9v2.0h-2.9zM188.8,153.6h2.1v1.6h-2.1zM189.1,153.6h1.9v1.7h-1.9zM190.2,154.6h1.6v1.3h-1.6zM199.8,153.8h2.7v2.2h-2.7zM199.8,153.9h2.1v1.7h-2.1zM199.4,154.1h1.7v2.2h-1.7zM199.5,154.8h2.0v1.5h-2.0zM210.0,154.0h3.0v1.9h-3.0zM210.2,154.1h2.1v1.2h-2.1zM210.2,153.6h2.2v2.1h-2.2zM211.2,154.1h2.1v1.6h-2.1zM226.4,153.9h2.7v2.1h-2.7zM227.9,153.8h1.4v1.3h-1.4zM227.0,154.0h1.7v1.6h-1.7zM226.5,154.6h2.3v1.5h-2.3zM274.0,153.8h2.9v2.2h-2.9zM275.3,154.4h1.5v1.4h-1.5zM274.8,154.3h1.8v1.7h-1.8zM274.7,153.7h1.3v2.0h-1.3zM290.4,153.9h2.7v2.1h-2.7zM290.2,153.7h1.9v1.7h-1.9zM290.2,153.8h2.2v1.5h-2.2zM290.5,153.9h1.9v1.6h-1.9zM156.5,160.3h3.0v2.9h-3.0zM156.9,159.9h2.0v2.0h-2.0zM157.8,160.1h1.9v1.3h-1.9zM158.0,161.0h1.4v1.8h-1.4zM157.2,161.9h1.5v1.4h-1.5zM183.5,160.4h3.1v2.5h-3.1zM183.8,159.9h2.1v2.1h-2.1zM183.5,161.3h1.6v1.2h-1.6zM183.1,160.7h1.6v1.4h-1.6zM185.2,160.0h1.9v1.8h-1.9zM220.6,160.3h3.1v2.9h-3.1zM220.2,160.3h2.3v1.7h-2.3zM220.9,161.9h2.3v1.5h-2.3zM221.0,160.7h2.1v2.0h-2.1zM220.4,161.1h1.4v1.4h-1.4zM226.2,160.3h2.8v2.9h-2.8zM226.1,161.3h1.8v1.5h-1.8zM227.0,161.2h2.3v1.9h-2.3zM227.4,161.5h1.8v1.9h-1.8zM226.5,160.6h1.7v1.6h-1.7zM236.6,165.3h3.0v2.4h-3.0zM237.4,165.3h1.8v2.1h-1.8zM236.4,165.2h2.0v1.4h-2.0zM238.3,165.6h1.8v1.9h-1.8zM161.8,172.6h3.0v2.7h-3.0zM162.5,173.4h2.0v1.5h-2.0zM162.8,172.6h2.3v1.6h-2.3zM163.7,172.3h1.6v1.4h-1.6zM163.1,173.5h1.6v1.7h-1.6zM172.6,172.7h2.9v2.6h-2.9zM173.7,172.7h1.3v1.4h-1.3zM174.1,173.4h1.9v1.5h-1.9zM173.1,174.0h1.7v1.4h-1.7zM173.0,173.8h2.1v1.9h-2.1zM194.0,172.7h2.9v2.7h-2.9zM193.6,172.6h2.3v1.5h-2.3zM194.9,172.5h2.2v2.1h-2.2zM196.0,172.4h1.5v1.5h-1.5zM195.2,174.2h1.9v1.7h-1.9zM226.0,172.7h3.2v2.6h-3.2zM226.3,173.1h2.1v1.6h-2.1zM226.6,172.6h1.4v1.4h-1.4zM226.8,173.4h2.2v1.9h-2.2zM225.5,174.4h1.5v1.2h-1.5zM241.9,172.7h3.1v2.6h-3.1zM243.0,173.5h1.7v1.5h-1.7zM243.4,172.2h2.3v2.0h-2.3zM242.5,173.9h2.3v1.5h-2.3zM242.7,173.4h1.5v1.6h-1.5zM252.7,172.6h3.0v2.8h-3.0zM252.7,174.3h2.2v1.3h-2.2zM253.2,172.6h1.7v1.6h-1.7zM253.0,173.4h2.3v2.2h-2.3zM254.8,173.9h1.5v1.8h-1.5zM284.8,172.6h3.1v2.7h-3.1zM285.3,173.0h2.2v2.1h-2.2zM286.5,174.1h2.1v1.7h-2.1zM284.4,173.9h1.8v1.9h-1.8zM284.2,174.3h2.0v1.2h-2.0zM189.2,178.8h2.7v2.1h-2.7zM190.6,179.6h1.8v1.6h-1.8zM189.9,178.7h2.3v2.1h-2.3zM188.9,179.7h1.5v1.7h-1.5zM220.9,178.9h2.9v2.0h-2.9zM220.8,179.7h1.4v1.5h-1.4zM221.2,179.7h1.8v1.5h-1.8zM221.4,179.9h1.3v1.3h-1.3zM205.1,185.5h2.9v3.1h-2.9zM205.4,187.0h2.0v1.5h-2.0zM206.1,185.1h1.4v1.4h-1.4zM204.6,187.6h1.5v1.3h-1.5zM205.4,184.9h1.9v2.1h-1.9zM231.4,185.7h3.0v2.7h-3.0zM232.6,187.1h2.2v1.3h-2.2zM231.7,186.0h1.6v1.8h-1.6zM231.9,185.2h2.3v1.7h-2.3zM232.0,187.1h1.4v1.7h-1.4zM252.9,185.7h2.9v2.6h-2.9zM253.6,186.0h1.9v1.8h-1.9zM252.9,185.6h1.6v1.9h-1.6zM252.8,186.8h1.5v1.3h-1.5zM252.8,185.7h1.7v1.7h-1.7zM263.7,185.5h3.0v3.0h-3.0zM264.2,186.4h1.8v1.5h-1.8zM264.2,185.6h2.2v1.5h-2.2zM264.4,186.7h1.8v1.3h-1.8zM264.3,185.5h2.0v2.1h-2.0zM284.5,185.7h3.2v2.6h-3.2zM285.1,187.2h1.5v1.5h-1.5zM284.7,185.4h2.4v1.4h-2.4zM286.8,187.2h1.4v1.4h-1.4zM285.7,186.0h1.5v1.8h-1.5zM290.5,185.7h2.8v2.7h-2.8zM290.5,186.1h2.3v1.5h-2.3zM292.0,185.1h1.9v1.3h-1.9zM291.6,187.2h1.8v1.6h-1.8zM289.9,185.5h2.1v1.9h-2.1zM167.8,190.9h2.7v2.0h-2.7zM167.9,190.8h2.1v1.2h-2.1zM168.8,191.3h1.8v1.9h-1.8zM167.2,190.7h2.0v1.5h-2.0zM183.4,190.9h2.9v1.9h-2.9zM184.3,191.0h1.4v1.5h-1.4zM184.6,190.7h1.6v2.2h-1.6zM185.3,191.1h1.4v1.9h-1.4zM210.6,190.9h2.6v2.1h-2.6zM210.4,191.5h2.4v1.4h-2.4zM211.1,190.5h2.1v1.7h-2.1zM211.0,190.7h2.3v1.2h-2.3zM215.7,190.8h2.6v2.1h-2.6zM216.6,191.3h2.0v1.9h-2.0zM216.7,191.3h1.3v2.1h-1.3zM215.3,190.6h2.0v1.5h-2.0zM279.5,191.0h2.9v1.8h-2.9zM280.4,191.2h2.2v1.9h-2.2zM280.5,191.1h1.7v2.0h-1.7zM280.7,191.4h1.8v1.7h-1.8zM290.4,190.8h2.9v2.2h-2.9zM290.8,192.0h2.1v1.4h-2.1zM289.9,191.0h1.9v1.9h-1.9zM290.9,190.4h1.9v1.7h-1.9zM172.8,197.9h3.1v2.9h-3.1zM172.2,199.2h1.5v1.7h-1.5zM173.7,198.1h2.1v2.2h-2.1zM173.9,199.4h1.6v1.5h-1.6zM174.0,197.8h1.5v1.7h-1.5zM194.1,197.8h3.2v3.0h-3.2zM194.4,199.4h1.9v1.8h-1.9zM196.3,197.7h1.6v1.7h-1.6zM196.1,198.1h1.8v2.1h-1.8zM193.7,199.5h2.1v1.8h-2.1zM210.3,197.9h3.1v2.9h-3.1zM210.4,198.9h2.0v1.6h-2.0zM209.9,197.8h1.7v2.1h-1.7zM209.9,199.1h1.8v1.3h-1.8zM211.7,199.6h1.6v1.3h-1.6zM215.5,198.0h3.1v2.7h-3.1zM215.3,198.4h2.2v1.7h-2.2zM215.2,197.8h1.7v1.8h-1.7zM215.2,198.7h1.9v1.3h-1.9zM217.4,198.4h1.8v2.0h-1.8zM226.3,198.0h2.8v2.5h-2.8zM227.8,198.3h1.4v2.0h-1.4zM227.9,198.2h1.6v2.0h-1.6zM226.7,198.9h1.4v2.1h-1.4zM226.5,197.9h1.3v1.8h-1.3zM178.1,203.7h2.8v1.9h-2.8zM177.9,204.3h2.3v1.3h-2.3zM178.0,204.0h2.2v1.9h-2.2zM179.3,203.7h1.9v2.0h-1.9zM236.7,203.6h2.9v2.0h-2.9zM238.2,204.0h1.6v1.9h-1.6zM237.5,204.3h2.4v1.5h-2.4zM237.5,203.6h1.6v1.9h-1.6zM188.6,209.7h3.0v3.0h-3.0zM188.5,210.5h1.8v2.2h-1.8zM189.2,211.3h2.2v2.0h-2.2zM188.6,210.5h2.0v1.5h-2.0zM189.6,210.7h2.0v2.2h-2.0zM193.9,209.8h3.2v2.8h-3.2zM194.8,209.7h1.9v1.7h-1.9zM194.0,210.1h1.8v1.9h-1.8zM194.6,209.4h2.1v1.9h-2.1zM193.5,209.6h2.0v1.9h-2.0zM199.7,209.7h3.0v3.0h-3.0zM201.0,210.5h1.5v1.3h-1.5zM200.3,210.7h2.1v1.3h-2.1zM200.1,210.9h1.8v1.5h-1.8zM200.3,209.8h2.3v1.2h-2.3zM220.4,209.9h3.2v2.7h-3.2zM222.5,210.3h1.7v2.0h-1.7zM220.6,210.4h1.8v1.8h-1.8zM221.0,210.5h1.6v1.7h-1.6zM220.8,210.0h1.9v1.8h-1.9zM274.5,209.8h2.9v2.7h-2.9zM275.0,209.4h2.1v1.9h-2.1zM274.0,211.3h1.3v1.7h-1.3zM275.8,210.3h1.7v1.7h-1.7zM275.5,210.6h1.8v1.7h-1.8zM156.6,215.2h2.8v2.1h-2.8zM156.1,214.8h1.6v2.1h-1.6zM158.0,215.0h1.7v2.0h-1.7zM158.0,215.6h2.0v1.9h-2.0zM231.5,215.0h2.7v2.3h-2.7zM232.6,215.6h1.9v1.6h-1.9zM233.0,215.7h1.4v1.7h-1.4zM232.4,216.0h2.2v1.5h-2.2zM242.0,215.2h2.8v2.0h-2.8zM243.3,215.3h1.6v2.2h-1.6zM242.0,215.9h2.1v1.3h-2.1zM242.5,215.9h2.2v1.4h-2.2zM247.9,215.1h2.6v2.3h-2.6zM247.5,215.3h1.9v1.6h-1.9zM248.8,214.9h1.4v2.1h-1.4zM247.4,216.3h2.2v1.5h-2.2zM279.5,215.2h3.1v1.9h-3.1zM280.0,214.9h2.1v1.4h-2.1zM279.5,215.4h2.1v1.8h-2.1zM279.8,215.2h2.3v1.4h-2.3zM162.2,221.7h3.1v2.8h-3.1zM162.0,223.2h1.6v1.8h-1.6zM163.4,223.2h2.3v1.6h-2.3zM161.6,222.7h2.3v2.2h-2.3zM163.1,221.4h2.2v2.1h-2.2zM172.6,221.7h3.2v2.8h-3.2zM173.9,222.5h2.0v2.0h-2.0zM173.2,221.8h2.2v1.6h-2.2zM172.8,222.7h2.2v1.6h-2.2zM174.7,221.6h1.4v1.2h-1.4zM220.8,221.8h2.9v2.6h-2.9zM221.5,223.7h2.1v1.2h-2.1zM221.4,223.5h2.0v1.4h-2.0zM222.5,222.9h1.8v1.5h-1.8zM220.3,221.5h1.7v1.6h-1.7zM231.2,221.7h3.2v2.7h-3.2zM230.8,221.5h2.2v1.2h-2.2zM231.7,221.7h1.6v1.5h-1.6zM232.5,221.4h1.6v1.6h-1.6zM231.5,223.1h2.3v1.9h-2.3zM242.1,221.8h2.8v2.7h-2.8zM242.3,222.1h1.9v2.1h-1.9zM241.9,221.5h2.1v1.6h-2.1zM242.4,223.3h1.9v1.5h-1.9zM242.6,222.5h2.2v1.3h-2.2zM285.2,221.6h2.9v2.9h-2.9zM286.0,221.8h1.4v1.5h-1.4zM285.7,221.4h2.0v1.9h-2.0zM286.1,222.4h2.3v2.0h-2.3zM285.8,223.0h1.8v2.0h-1.8zM290.5,221.7h2.8v2.8h-2.8zM290.7,222.2h2.0v1.5h-2.0zM289.9,222.8h2.4v2.0h-2.4zM290.2,221.7h1.9v2.0h-1.9zM290.9,222.1h2.4v2.1h-2.4z" fill="#14a63e"/>
<path d="M231.7,136.1h2.9v2.9h-2.9zM231.4,136.1h1.5v2.2h-1.5zM232.4,136.6h1.5v2.1h-1.5zM232.7,137.6h2.3v1.5h-2.3zM231.2,137.4h1.8v1.8h-1.8zM252.8,136.3h3.1v2.5h-3.1zM254.1,137.3h1.8v1.5h-1.8zM253.0,136.7h1.6v1.3h-1.6zM254.4,137.4h1.4v1.4h-1.4zM253.9,136.3h2.4v2.2h-2.4zM268.9,136.1h3.2v3.0h-3.2zM269.2,137.1h2.1v2.0h-2.1zM268.2,135.6h1.7v1.3h-1.7zM270.4,136.9h1.8v1.3h-1.8zM270.5,137.7h1.9v2.0h-1.9zM167.3,148.0h3.1v2.8h-3.1zM169.0,147.4h2.0v1.7h-2.0zM169.5,148.3h1.4v1.9h-1.4zM167.6,148.4h2.1v1.8h-2.1zM167.4,149.4h2.0v1.2h-2.0zM226.1,148.0h3.0v2.9h-3.0zM226.7,147.5h2.3v1.5h-2.3zM226.2,149.3h2.1v1.7h-2.1zM226.9,147.9h1.6v2.1h-1.6zM225.9,148.1h1.7v2.0h-1.7zM268.8,147.9h3.2v3.0h-3.2zM269.2,148.9h1.7v1.5h-1.7zM268.5,149.6h1.4v1.6h-1.4zM270.1,148.0h2.0v1.6h-2.0zM269.6,148.8h2.2v1.9h-2.2zM194.1,160.3h3.2v2.9h-3.2zM194.6,159.7h2.3v2.1h-2.3zM196.1,161.2h1.4v2.0h-1.4zM193.7,161.1h1.9v1.7h-1.9zM194.7,161.9h2.4v1.4h-2.4zM231.6,160.3h2.8v2.8h-2.8zM231.1,162.1h2.2v1.4h-2.2zM231.8,162.3h2.4v1.3h-2.4zM231.2,161.1h1.9v1.8h-1.9zM232.6,161.4h1.5v2.0h-1.5zM242.2,160.4h3.0v2.6h-3.0zM242.8,160.3h2.1v2.1h-2.1zM241.9,160.7h1.5v1.5h-1.5zM244.1,161.9h1.4v1.2h-1.4zM242.4,161.0h2.2v1.6h-2.2zM258.1,160.2h2.9v2.9h-2.9zM258.4,159.7h2.3v1.7h-2.3zM258.0,160.4h2.2v1.4h-2.2zM258.2,161.0h1.6v1.5h-1.6zM259.7,161.7h1.7v2.0h-1.7zM279.2,160.2h3.2v3.1h-3.2zM279.0,161.2h2.1v1.5h-2.1zM280.9,162.0h1.6v1.8h-1.6zM281.1,162.1h1.4v1.4h-1.4zM279.2,159.6h2.1v2.0h-2.1zM167.2,172.5h3.0v2.9h-3.0zM168.7,172.9h1.8v1.3h-1.8zM167.6,173.0h1.4v1.5h-1.4zM169.0,174.7h1.4v1.3h-1.4zM168.0,172.7h2.1v1.5h-2.1zM178.0,172.5h3.0v3.1h-3.0zM178.0,172.8h2.2v2.0h-2.2zM178.1,173.3h2.1v1.6h-2.1zM180.2,172.5h1.4v1.5h-1.4zM178.0,173.4h2.2v1.2h-2.2zM209.9,172.7h3.1v2.6h-3.1zM209.9,173.6h2.1v1.8h-2.1zM209.3,173.8h1.5v1.8h-1.5zM209.8,172.6h2.0v1.5h-2.0zM209.4,174.5h1.6v1.3h-1.6zM220.6,172.6h2.8v2.8h-2.8zM220.1,173.2h1.8v2.0h-1.8zM222.0,173.8h1.6v2.0h-1.6zM221.3,173.5h2.2v1.3h-2.2zM221.2,173.1h1.6v1.4h-1.6zM247.6,172.5h2.9v3.1h-2.9zM247.8,174.1h1.4v1.6h-1.4zM247.6,173.8h2.3v2.2h-2.3zM248.0,172.1h2.3v1.2h-2.3zM248.9,172.3h1.4v1.6h-1.4zM268.7,172.5h3.1v3.0h-3.1zM269.9,173.6h1.7v1.4h-1.7zM270.1,173.7h1.6v1.7h-1.6zM269.0,171.9h1.5v1.4h-1.5zM268.3,173.5h2.1v2.0h-2.1zM274.0,172.5h3.2v3.1h-3.2zM274.3,172.5h2.1v2.1h-2.1zM274.6,173.3h2.1v2.0h-2.1zM275.0,173.9h1.7v1.9h-1.7zM275.9,173.6h1.6v1.3h-1.6zM290.3,172.6h3.1v2.7h-3.1zM291.0,173.1h1.4v1.7h-1.4zM290.5,172.3h2.2v2.2h-2.2zM290.7,173.6h2.1v2.1h-2.1zM289.8,172.1h2.3v1.4h-2.3zM167.4,185.6h2.8v2.8h-2.8zM168.9,185.6h1.7v1.6h-1.7zM167.8,186.7h1.4v1.9h-1.4zM168.9,186.1h1.7v1.5h-1.7zM167.5,186.5h1.6v2.1h-1.6zM178.1,185.7h2.8v2.6h-2.8zM177.6,186.2h2.2v1.6h-2.2zM178.2,186.7h1.8v1.4h-1.8zM177.9,185.2h2.4v1.8h-2.4zM178.5,186.2h1.7v1.4h-1.7zM199.8,185.5h2.9v3.0h-2.9zM199.6,186.1h1.6v2.0h-1.6zM199.3,187.3h2.1v1.4h-2.1zM200.4,185.3h1.5v2.0h-1.5zM199.6,187.3h2.2v1.6h-2.2zM209.9,185.5h3.0v3.0h-3.0zM209.3,186.9h1.6v1.3h-1.6zM210.3,187.0h2.1v1.5h-2.1zM211.4,185.5h2.1v1.9h-2.1zM209.9,186.5h2.4v1.8h-2.4zM215.3,185.5h3.0v3.0h-3.0zM215.5,185.0h2.2v2.1h-2.2zM215.6,185.2h2.3v1.3h-2.3zM214.8,186.0h1.9v2.0h-1.9zM216.9,186.5h1.7v1.9h-1.7zM220.5,185.6h2.9v2.8h-2.9zM222.4,186.5h1.6v1.3h-1.6zM220.9,187.2h2.2v1.6h-2.2zM221.6,185.9h2.4v1.8h-2.4zM221.0,187.3h1.5v1.4h-1.5zM242.3,185.7h3.1v2.6h-3.1zM242.7,186.2h2.4v1.9h-2.4zM244.0,186.0h1.3v1.3h-1.3zM242.2,185.6h2.4v1.5h-2.4zM242.2,185.3h2.3v1.7h-2.3zM247.6,185.5h2.8v3.0h-2.8zM248.9,186.3h1.8v2.1h-1.8zM247.6,186.5h2.3v1.3h-2.3zM248.0,185.3h1.8v2.2h-1.8zM247.9,185.8h1.5v1.4h-1.5zM161.9,197.8h2.9v3.0h-2.9zM161.3,198.3h1.4v1.8h-1.4zM163.8,197.8h1.4v1.5h-1.4zM161.7,197.7h1.7v2.0h-1.7zM161.7,197.8h1.8v1.8h-1.8zM178.2,197.9h2.9v2.7h-2.9zM178.0,198.3h1.9v2.0h-1.9zM177.9,199.4h1.4v1.3h-1.4zM179.0,199.1h2.4v1.6h-2.4zM179.3,199.9h1.8v1.4h-1.8zM252.5,198.0h3.0v2.6h-3.0zM254.1,199.0h2.0v2.0h-2.0zM253.2,198.4h1.6v1.8h-1.6zM252.7,197.5h1.8v1.2h-1.8zM252.0,198.5h2.3v2.0h-2.3zM263.4,197.8h2.8v2.9h-2.8zM264.7,197.9h1.4v1.3h-1.4zM263.7,197.4h2.3v2.0h-2.3zM264.2,198.9h1.6v1.2h-1.6zM264.5,199.5h2.1v1.6h-2.1zM290.0,197.8h3.0v3.0h-3.0zM289.4,197.7h1.9v1.5h-1.9zM289.8,198.7h2.3v1.7h-2.3zM291.1,199.7h1.5v1.3h-1.5zM290.8,198.4h1.9v1.3h-1.9zM162.0,209.9h2.8v2.6h-2.8zM162.0,209.4h1.6v1.3h-1.6zM162.1,210.3h2.4v1.6h-2.4zM163.9,210.6h1.4v1.7h-1.4zM163.1,209.8h1.7v1.7h-1.7zM183.3,209.8h3.1v2.9h-3.1zM183.6,210.4h2.1v2.2h-2.1zM183.4,210.0h1.9v1.6h-1.9zM183.4,210.8h1.4v2.1h-1.4zM182.7,210.4h1.7v1.5h-1.7zM226.0,209.9h3.0v2.5h-3.0zM227.1,210.6h1.6v1.9h-1.6zM226.6,210.3h1.9v1.9h-1.9zM227.2,210.5h1.7v1.8h-1.7zM225.9,210.5h1.9v1.2h-1.9zM231.8,209.7h2.9v3.0h-2.9zM232.2,209.2h2.1v1.9h-2.1zM232.6,211.1h1.5v1.5h-1.5zM232.8,210.0h1.6v1.8h-1.6zM232.7,209.7h2.2v1.4h-2.2zM247.3,209.9h3.2v2.6h-3.2zM246.9,210.9h2.4v1.8h-2.4zM248.1,210.7h1.9v1.5h-1.9zM249.5,209.9h1.3v1.6h-1.3zM246.9,211.3h1.8v1.4h-1.8zM279.6,209.9h3.0v2.5h-3.0zM280.1,209.5h1.9v2.0h-1.9zM279.7,211.0h1.6v1.3h-1.6zM279.0,210.5h2.1v1.7h-2.1zM280.0,210.5h2.3v1.6h-2.3zM167.4,221.8h3.0v2.7h-3.0zM168.6,222.5h1.9v2.0h-1.9zM167.2,222.6h2.3v1.5h-2.3zM168.3,221.8h1.3v2.1h-1.3zM168.3,223.4h2.3v1.3h-2.3zM178.1,221.7h3.0v2.8h-3.0zM178.5,223.1h1.7v1.5h-1.7zM179.5,223.7h2.0v1.3h-2.0zM178.8,221.9h1.6v2.1h-1.6zM178.9,221.4h2.4v2.1h-2.4zM199.8,221.8h2.9v2.7h-2.9zM199.8,221.7h1.8v1.5h-1.8zM200.4,221.2h1.8v2.1h-1.8zM199.4,222.3h2.3v2.0h-2.3zM200.0,221.5h1.4v2.0h-1.4zM247.4,221.8h2.9v2.6h-2.9zM247.5,221.4h1.8v2.1h-1.8zM247.4,222.1h2.2v1.6h-2.2zM246.9,222.5h2.4v1.4h-2.4zM247.7,223.6h2.2v1.2h-2.2z" fill="#16ae42"/>
<path d="M236.8,136.3h3.2v2.6h-3.2zM238.3,137.1h1.8v1.4h-1.8zM238.3,136.4h2.0v2.0h-2.0zM236.4,137.5h2.0v1.6h-2.0zM236.6,136.7h2.0v2.0h-2.0zM242.1,136.3h3.1v2.6h-3.1zM243.0,136.3h2.1v2.1h-2.1zM242.6,136.4h2.2v1.3h-2.2zM241.9,136.8h2.2v1.3h-2.2zM243.5,136.2h1.6v1.5h-1.6zM263.7,136.2h3.1v2.7h-3.1zM263.1,136.7h1.3v1.4h-1.3zM264.6,135.9h1.7v1.3h-1.7zM265.3,136.7h1.6v1.4h-1.6zM264.3,137.3h1.6v1.2h-1.6zM274.2,136.2h3.0v2.9h-3.0zM274.8,136.3h2.1v2.2h-2.1zM275.6,136.7h1.7v1.7h-1.7zM274.2,137.0h2.4v1.4h-2.4zM275.6,137.5h1.8v2.1h-1.8zM284.6,136.3h2.9v2.5h-2.9zM284.3,136.3h1.7v1.5h-1.7zM284.4,136.3h2.4v1.3h-2.4zM286.1,137.4h1.4v1.7h-1.4zM284.0,136.2h2.0v2.0h-2.0zM172.6,148.1h3.0v2.7h-3.0zM173.1,149.1h1.6v1.7h-1.6zM173.4,149.5h2.1v1.8h-2.1zM173.1,148.2h1.4v1.6h-1.4zM173.0,148.2h2.0v2.1h-2.0zM205.0,148.1h2.9v2.6h-2.9zM204.5,149.3h2.2v1.8h-2.2zM205.4,149.3h1.9v1.2h-1.9zM204.4,149.4h2.4v1.4h-2.4zM205.1,149.0h1.7v2.1h-1.7zM209.9,148.0h3.0v2.8h-3.0zM210.4,148.7h2.3v1.5h-2.3zM210.2,148.0h1.3v1.3h-1.3zM209.7,149.0h1.9v1.9h-1.9zM210.0,147.4h2.4v1.5h-2.4zM237.1,147.9h2.9v3.0h-2.9zM238.0,148.2h2.1v2.0h-2.1zM238.3,149.4h1.5v2.1h-1.5zM238.2,149.9h2.3v1.5h-2.3zM237.9,147.6h2.0v1.4h-2.0zM247.4,148.1h3.0v2.5h-3.0zM248.4,148.2h1.5v1.7h-1.5zM247.3,148.0h2.4v1.7h-2.4zM247.0,148.9h1.3v2.1h-1.3zM247.7,147.9h1.5v1.7h-1.5zM258.4,148.0h3.1v2.9h-3.1zM260.3,149.7h1.7v1.2h-1.7zM259.6,148.6h1.7v1.2h-1.7zM258.9,150.0h1.6v1.3h-1.6zM259.6,148.3h2.3v1.4h-2.3zM178.4,160.2h2.9v3.0h-2.9zM180.2,160.5h1.4v2.0h-1.4zM178.3,160.8h1.7v1.7h-1.7zM178.2,160.7h2.3v1.3h-2.3zM180.1,162.0h1.3v1.6h-1.3zM285.1,160.3h3.1v2.9h-3.1zM284.5,160.8h1.4v1.4h-1.4zM285.8,161.8h2.2v1.8h-2.2zM284.9,161.1h2.2v1.5h-2.2zM284.6,160.6h1.6v1.8h-1.6zM156.9,172.7h3.0v2.6h-3.0zM157.4,172.8h2.1v1.8h-2.1zM157.2,172.2h1.3v1.6h-1.3zM157.5,172.6h1.3v1.5h-1.3zM156.9,173.4h2.2v2.0h-2.2zM183.2,172.5h3.2v3.1h-3.2zM183.8,173.5h2.0v1.6h-2.0zM184.7,173.9h1.6v2.1h-1.6zM184.2,173.0h2.1v1.6h-2.1zM183.7,172.8h2.0v2.0h-2.0zM204.5,172.6h3.2v2.9h-3.2zM204.2,172.7h1.8v2.1h-1.8zM205.9,172.8h2.3v1.2h-2.3zM204.8,173.4h1.8v1.5h-1.8zM205.0,173.4h1.5v1.9h-1.5zM279.6,172.5h3.1v3.0h-3.1zM279.5,172.3h2.3v1.2h-2.3zM279.8,172.4h1.6v1.9h-1.6zM280.6,174.1h2.2v1.4h-2.2zM280.5,174.7h1.9v1.2h-1.9zM161.9,185.5h2.9v2.9h-2.9zM161.8,186.2h1.5v2.1h-1.5zM162.2,185.7h1.7v2.0h-1.7zM163.3,185.2h2.2v1.9h-2.2zM162.7,187.0h1.4v1.9h-1.4zM183.3,185.5h2.9v3.0h-2.9zM184.0,186.0h2.3v1.8h-2.3zM184.2,186.7h2.0v2.0h-2.0zM184.4,187.3h2.0v1.5h-2.0zM182.7,185.6h1.6v1.4h-1.6zM188.6,185.7h2.9v2.6h-2.9zM190.1,186.9h1.9v1.8h-1.9zM190.1,186.2h1.5v1.4h-1.5zM189.5,185.9h1.9v2.1h-1.9zM190.0,186.2h1.8v1.6h-1.8zM225.9,185.7h3.2v2.6h-3.2zM225.8,185.3h1.7v1.6h-1.7zM226.8,187.1h1.5v1.4h-1.5zM226.5,185.6h1.3v1.8h-1.3zM225.4,186.4h2.1v1.3h-2.1zM236.8,185.6h3.2v2.8h-3.2zM236.7,187.2h2.1v1.3h-2.1zM236.4,185.0h1.6v1.3h-1.6zM237.6,185.5h1.5v1.8h-1.5zM238.1,185.3h1.6v1.9h-1.6zM156.8,197.8h2.9v2.9h-2.9zM158.0,197.5h2.1v1.8h-2.1zM156.8,198.8h2.4v2.0h-2.4zM158.2,197.2h1.4v1.5h-1.4zM157.3,198.6h1.5v2.1h-1.5zM236.7,198.0h3.2v2.6h-3.2zM236.9,197.4h1.5v1.7h-1.5zM238.8,199.3h1.4v1.6h-1.4zM236.3,197.4h1.5v2.1h-1.5zM238.6,199.2h1.3v1.6h-1.3zM242.0,198.0h2.9v2.6h-2.9zM243.0,198.6h2.3v1.5h-2.3zM242.8,197.7h2.3v2.2h-2.3zM242.4,197.8h1.8v2.1h-1.8zM241.6,198.8h1.8v1.3h-1.8zM279.4,198.0h2.9v2.5h-2.9zM279.3,197.5h2.3v2.0h-2.3zM279.6,198.2h1.5v1.9h-1.5zM281.4,198.6h1.3v2.1h-1.3zM280.3,199.3h2.3v1.3h-2.3zM172.5,209.9h3.1v2.6h-3.1zM171.8,209.5h2.2v1.4h-2.2zM173.4,209.6h1.9v2.0h-1.9zM172.8,210.6h2.2v1.7h-2.2zM172.6,210.3h2.0v1.5h-2.0zM269.0,209.9h3.1v2.6h-3.1zM268.7,211.2h2.3v1.2h-2.3zM269.4,210.6h1.4v1.9h-1.4zM270.6,209.6h2.0v1.9h-2.0zM268.4,210.2h1.4v1.5h-1.4zM188.9,221.7h3.2v2.8h-3.2zM190.3,223.3h2.0v1.3h-2.0zM189.1,221.2h1.6v1.4h-1.6zM189.1,223.0h1.7v1.3h-1.7zM191.3,222.7h1.4v2.0h-1.4zM194.4,221.6h2.9v2.9h-2.9zM196.0,222.7h1.7v1.3h-1.7zM194.5,221.0h2.0v1.7h-2.0zM194.8,222.7h1.7v1.6h-1.7zM194.1,223.2h1.6v1.4h-1.6zM226.3,221.6h3.1v2.9h-3.1zM227.6,221.8h2.0v2.1h-2.0zM227.6,223.2h2.1v1.3h-2.1zM228.4,222.0h1.6v1.6h-1.6zM228.0,222.0h1.8v2.0h-1.8zM252.9,221.7h2.9v2.7h-2.9zM254.3,222.5h1.9v1.5h-1.9zM253.4,221.2h2.1v1.5h-2.1zM252.8,221.5h1.9v1.7h-1.9zM254.1,222.6h2.0v1.9h-2.0zM279.8,221.6h2.9v2.9h-2.9zM279.8,223.1h2.4v2.1h-2.4zM279.3,222.3h1.9v2.1h-1.9zM280.7,221.7h2.1v2.1h-2.1zM279.4,221.8h1.8v1.8h-1.8z" fill="#129e3a"/>
<path d="M156.7,141.4h2.6v2.1h-2.6zM156.9,142.7h1.7v1.3h-1.7zM156.4,141.2h1.6v1.3h-1.6zM156.3,141.2h1.7v2.1h-1.7zM162.3,141.3h3.1v2.4h-3.1zM161.9,141.9h1.9v2.1h-1.9zM163.0,142.0h1.8v1.9h-1.8zM163.0,141.4h1.8v1.6h-1.8zM263.3,141.4h2.9v2.2h-2.9zM264.7,141.2h1.7v1.3h-1.7zM265.5,141.1h1.3v1.7h-1.3zM263.5,141.8h2.3v1.6h-2.3zM167.7,154.0h2.5v1.9h-2.5zM167.9,154.1h2.2v2.0h-2.2zM167.8,153.6h2.1v1.8h-2.1zM168.2,153.7h1.4v1.4h-1.4zM173.1,153.8h2.8v2.2h-2.8zM172.9,153.4h2.3v2.2h-2.3zM174.0,153.8h2.2v2.1h-2.2zM173.0,154.1h2.0v1.3h-2.0zM183.3,154.0h2.7v1.8h-2.7zM184.5,154.7h1.3v1.5h-1.3zM184.2,154.0h2.0v2.1h-2.0zM183.0,154.2h1.7v1.5h-1.7zM194.3,153.9h2.7v2.0h-2.7zM194.9,154.5h1.9v1.7h-1.9zM193.9,154.1h2.2v2.0h-2.2zM193.7,153.6h2.0v2.1h-2.0zM252.9,153.9h2.9v2.0h-2.9zM252.3,153.7h1.4v1.8h-1.4zM253.7,154.4h1.7v1.5h-1.7zM254.0,154.3h2.4v1.5h-2.4zM284.9,153.9h2.7v2.0h-2.7zM284.7,153.8h2.0v1.4h-2.0zM284.3,154.0h1.7v1.8h-1.7zM286.0,153.9h1.8v1.9h-1.8zM156.6,165.4h2.9v2.2h-2.9zM157.3,166.3h1.8v1.6h-1.8zM157.2,165.7h2.4v1.6h-2.4zM156.2,165.7h2.1v1.9h-2.1zM162.1,165.4h2.7v2.2h-2.7zM161.5,165.6h1.3v1.6h-1.3zM162.2,165.2h1.5v1.4h-1.5zM161.8,165.7h1.6v1.7h-1.6zM226.5,165.4h2.6v2.2h-2.6zM226.0,165.8h2.0v1.9h-2.0zM226.2,166.0h1.7v1.8h-1.7zM227.3,165.5h1.7v1.9h-1.7zM258.3,165.5h2.6v2.1h-2.6zM258.7,165.4h1.9v1.5h-1.9zM257.7,166.6h1.7v1.2h-1.7zM258.7,165.1h2.1v1.4h-2.1zM178.0,178.8h3.0v2.3h-3.0zM177.6,179.0h2.3v1.9h-2.3zM178.0,178.5h1.9v1.5h-1.9zM177.7,179.5h2.2v1.9h-2.2zM231.7,178.8h2.8v2.2h-2.8zM231.4,179.2h1.6v1.5h-1.6zM233.3,178.7h1.5v2.1h-1.5zM232.2,179.0h2.3v2.1h-2.3zM237.2,178.8h2.8v2.1h-2.8zM237.2,178.5h1.8v1.8h-1.8zM238.2,179.5h2.1v1.3h-2.1zM238.6,178.4h1.5v1.2h-1.5zM242.4,178.8h2.8v2.2h-2.8zM242.6,178.7h1.7v1.8h-1.7zM243.3,179.0h2.2v2.2h-2.2zM243.4,179.0h2.3v2.1h-2.3zM252.8,178.8h2.8v2.1h-2.8zM252.9,179.7h1.7v1.5h-1.7zM253.4,178.9h1.7v2.2h-1.7zM254.0,179.5h1.3v1.7h-1.3zM274.4,178.8h2.8v2.1h-2.8zM274.8,178.7h2.3v1.6h-2.3zM275.2,179.5h2.2v1.4h-2.2zM275.2,178.5h2.3v2.2h-2.3zM290.4,178.8h2.7v2.2h-2.7zM290.8,178.5h1.4v1.9h-1.4zM289.9,178.7h1.4v1.9h-1.4zM291.1,178.4h2.3v1.5h-2.3zM194.4,190.9h2.6v1.9h-2.6zM194.4,191.0h2.1v1.7h-2.1zM194.5,191.0h2.2v1.7h-2.2zM195.1,191.0h1.9v1.7h-1.9zM199.5,190.9h2.6v2.1h-2.6zM199.6,190.6h2.3v1.6h-2.3zM199.0,191.5h1.8v1.5h-1.8zM200.1,190.5h1.9v1.8h-1.9zM205.2,190.9h2.7v2.1h-2.7zM204.9,191.9h1.5v1.4h-1.5zM204.9,190.8h1.5v1.7h-1.5zM205.3,191.4h1.4v1.6h-1.4zM221.0,190.8h2.6v2.2h-2.6zM221.9,191.2h1.3v1.6h-1.3zM221.2,191.5h1.4v1.6h-1.4zM221.6,190.9h2.3v1.8h-2.3zM226.4,190.7h2.9v2.3h-2.9zM227.6,190.8h1.6v1.3h-1.6zM227.0,191.5h2.4v2.0h-2.4zM226.5,190.7h1.8v1.5h-1.8zM263.6,203.5h3.0v2.1h-3.0zM264.9,204.2h1.7v1.7h-1.7zM264.0,203.4h2.0v1.7h-2.0zM263.3,204.0h1.5v1.6h-1.5zM284.7,203.7h2.9v1.9h-2.9zM286.4,203.5h1.7v2.2h-1.7zM286.3,203.5h1.7v2.1h-1.7zM285.5,203.5h1.4v1.9h-1.4zM167.4,215.2h2.6v2.1h-2.6zM167.0,215.6h2.3v1.9h-2.3zM168.4,215.6h1.5v2.1h-1.5zM167.4,214.7h2.0v2.1h-2.0zM173.1,215.1h2.8v2.2h-2.8zM174.1,215.7h1.7v1.4h-1.7zM174.6,214.7h1.5v1.5h-1.5zM172.8,215.8h2.3v1.8h-2.3zM178.0,215.2h2.9v2.1h-2.9zM178.4,215.3h1.5v2.1h-1.5zM177.9,216.3h2.2v1.2h-2.2zM178.9,216.1h1.6v1.4h-1.6zM226.0,215.2h3.1v2.0h-3.1zM227.1,215.2h1.8v1.6h-1.8zM226.0,214.8h2.2v2.0h-2.2zM226.2,215.8h1.9v1.6h-1.9zM236.7,215.2h3.0v2.1h-3.0zM237.2,215.4h2.1v1.3h-2.1zM236.6,215.2h1.8v1.2h-1.8zM238.1,215.1h1.7v1.9h-1.7zM263.6,215.2h3.0v2.0h-3.0zM263.5,216.0h1.6v1.2h-1.6zM264.1,215.2h1.4v1.8h-1.4zM265.4,215.1h1.7v2.1h-1.7z" fill="#129a3a"/>
<path d="M173.0,141.6h2.6v1.9h-2.6zM173.7,141.2h2.1v1.7h-2.1zM172.7,141.8h1.9v1.6h-1.9zM173.2,141.5h1.7v1.7h-1.7zM188.8,141.5h3.0v2.1h-3.0zM189.4,141.6h1.7v1.5h-1.7zM190.4,141.7h1.7v1.9h-1.7zM189.2,142.0h1.5v1.4h-1.5zM220.9,141.4h3.0v2.2h-3.0zM222.8,141.1h1.5v2.0h-1.5zM220.7,141.2h2.3v1.6h-2.3zM221.4,142.1h1.3v1.7h-1.3zM226.5,141.5h2.6v2.0h-2.6zM226.1,142.4h1.6v1.5h-1.6zM226.5,141.3h2.1v1.4h-2.1zM226.4,142.0h1.5v1.7h-1.5zM162.2,153.9h2.6v2.0h-2.6zM163.1,153.9h1.5v1.4h-1.5zM162.9,154.5h2.3v1.3h-2.3zM161.8,153.7h2.2v1.6h-2.2zM258.2,153.7h2.9v2.3h-2.9zM260.0,154.2h1.4v1.6h-1.4zM257.9,153.4h1.6v2.2h-1.6zM260.0,153.7h1.3v1.6h-1.3zM183.7,165.5h2.8v2.0h-2.8zM184.8,165.3h2.0v2.2h-2.0zM183.4,165.3h2.0v1.6h-2.0zM184.4,165.5h2.3v2.1h-2.3zM204.5,165.4h3.0v2.1h-3.0zM204.0,165.3h2.1v1.2h-2.1zM205.1,165.6h1.3v1.4h-1.3zM204.8,165.1h2.1v1.3h-2.1zM231.4,165.4h2.6v2.2h-2.6zM231.6,166.0h2.2v1.7h-2.2zM232.0,165.8h1.5v1.7h-1.5zM231.6,165.7h2.1v1.5h-2.1zM263.8,165.4h2.9v2.2h-2.9zM265.0,164.9h2.2v1.8h-2.2zM263.8,165.9h1.5v1.9h-1.5zM264.3,165.3h1.9v1.3h-1.9zM284.8,165.5h2.9v2.0h-2.9zM286.2,165.8h2.0v2.2h-2.0zM285.7,165.7h1.8v2.1h-1.8zM285.8,166.5h2.1v1.3h-2.1zM156.6,178.8h2.8v2.2h-2.8zM156.2,178.4h1.6v2.0h-1.6zM156.7,179.5h2.4v1.7h-2.4zM157.4,178.5h2.3v1.6h-2.3zM199.2,178.8h3.0v2.2h-3.0zM200.8,178.4h1.3v2.0h-1.3zM199.5,179.6h2.4v1.4h-2.4zM199.7,179.3h1.8v1.5h-1.8zM205.0,178.7h3.0v2.4h-3.0zM205.5,178.4h1.7v1.6h-1.7zM204.5,178.9h1.9v1.7h-1.9zM205.4,178.8h1.5v1.8h-1.5zM269.3,178.8h2.6v2.2h-2.6zM270.4,178.9h1.4v1.6h-1.4zM270.1,179.5h1.6v1.7h-1.6zM270.6,178.8h1.6v1.7h-1.6zM279.9,178.8h2.6v2.3h-2.6zM280.2,179.1h1.3v2.0h-1.3zM280.1,179.2h2.2v2.1h-2.2zM279.9,179.4h2.3v2.0h-2.3zM284.8,178.9h3.0v2.0h-3.0zM284.4,179.4h2.1v1.9h-2.1zM285.7,178.7h1.4v1.3h-1.4zM285.6,178.9h1.7v1.6h-1.7zM177.8,190.7h3.0v2.4h-3.0zM179.4,191.7h1.7v1.7h-1.7zM177.8,191.3h1.8v1.7h-1.8zM177.6,191.4h1.5v1.9h-1.5zM258.3,190.8h2.7v2.3h-2.7zM258.6,190.8h1.9v1.9h-1.9zM257.9,191.5h2.3v1.9h-2.3zM258.8,191.2h1.9v1.5h-1.9zM162.5,203.5h2.6v2.3h-2.6zM162.4,203.2h1.8v1.6h-1.8zM162.3,203.7h1.5v1.8h-1.5zM163.4,204.0h2.2v1.3h-2.2zM172.7,203.7h3.0v1.9h-3.0zM173.1,203.6h1.6v1.9h-1.6zM173.5,203.9h1.9v1.8h-1.9zM173.2,204.0h2.3v1.8h-2.3zM194.4,203.6h2.6v2.0h-2.6zM194.7,203.4h1.9v2.1h-1.9zM194.9,203.7h2.1v1.8h-2.1zM194.7,204.2h1.7v1.3h-1.7zM220.8,203.6h3.1v2.1h-3.1zM222.7,203.3h1.8v2.2h-1.8zM222.9,203.3h1.5v1.5h-1.5zM221.4,204.3h1.6v1.5h-1.6zM183.5,215.2h2.7v2.0h-2.7zM183.9,215.7h2.3v1.6h-2.3zM183.5,215.7h2.0v1.3h-2.0zM183.0,215.8h2.3v1.7h-2.3zM199.9,215.2h2.6v1.9h-2.6zM199.9,215.0h1.7v2.1h-1.7zM200.7,215.2h2.1v1.8h-2.1zM199.9,216.1h1.7v1.5h-1.7zM210.2,215.2h2.9v1.9h-2.9zM209.6,215.2h2.1v1.6h-2.1zM210.6,215.4h2.1v1.6h-2.1zM210.8,215.6h1.4v1.7h-1.4zM215.5,215.1h2.5v2.3h-2.5zM215.7,215.0h1.5v2.0h-1.5zM216.1,214.6h2.0v2.1h-2.0zM216.2,215.2h1.7v2.2h-1.7zM269.1,215.1h2.8v2.3h-2.8zM270.0,215.0h1.9v1.5h-1.9zM268.8,215.3h2.2v2.1h-2.2zM268.7,215.6h1.3v1.2h-1.3zM274.6,215.0h2.6v2.3h-2.6zM274.5,216.1h1.4v1.6h-1.4zM275.1,215.6h2.2v2.0h-2.2zM275.6,215.3h1.7v1.6h-1.7z" fill="#0c7a2e"/>
<path d="M178.0,141.3h2.9v2.4h-2.9zM179.3,141.3h2.2v1.5h-2.2zM179.4,141.4h1.4v1.7h-1.4zM179.4,141.7h2.0v1.5h-2.0zM194.1,141.5h2.6v2.0h-2.6zM194.3,141.5h1.3v1.9h-1.3zM195.1,141.3h1.7v1.9h-1.7zM194.5,142.1h1.7v1.8h-1.7zM210.2,141.5h3.0v1.9h-3.0zM211.2,141.1h1.7v1.3h-1.7zM210.7,141.2h2.3v1.7h-2.3zM211.9,141.7h1.6v1.7h-1.6zM236.6,141.3h3.0v2.4h-3.0zM236.3,141.4h2.0v2.0h-2.0zM236.6,141.5h2.3v1.3h-2.3zM237.8,141.1h1.5v1.5h-1.5zM242.5,141.6h2.7v1.8h-2.7zM243.8,141.9h1.5v1.3h-1.5zM243.9,141.5h1.6v2.1h-1.6zM243.1,141.4h2.4v2.0h-2.4zM247.2,141.4h2.9v2.2h-2.9zM247.3,141.2h1.7v1.4h-1.7zM247.2,141.1h2.2v1.9h-2.2zM247.6,141.6h2.3v1.7h-2.3zM268.9,141.5h3.1v2.1h-3.1zM268.3,141.3h1.9v1.6h-1.9zM270.0,141.8h2.0v1.4h-2.0zM269.7,141.4h2.3v2.0h-2.3zM274.0,141.4h2.8v2.2h-2.8zM275.3,141.4h1.5v2.2h-1.5zM274.4,142.1h2.1v1.3h-2.1zM273.7,142.0h2.0v1.4h-2.0zM204.8,153.8h2.8v2.2h-2.8zM205.9,154.3h1.6v2.0h-1.6zM205.2,154.2h1.5v1.3h-1.5zM205.6,154.3h2.1v1.5h-2.1zM215.3,153.8h3.0v2.2h-3.0zM216.8,154.3h1.9v2.1h-1.9zM214.7,153.9h2.1v1.5h-2.1zM215.5,153.7h1.4v2.0h-1.4zM231.5,153.8h2.6v2.3h-2.6zM231.7,154.8h2.3v1.6h-2.3zM231.1,154.8h2.3v1.4h-2.3zM232.9,154.2h1.7v1.3h-1.7zM242.6,153.9h2.6v2.0h-2.6zM243.4,154.1h2.1v1.3h-2.1zM244.3,153.5h1.3v2.0h-1.3zM242.7,153.7h1.8v2.1h-1.8zM269.1,153.9h2.8v2.0h-2.8zM269.9,153.8h2.2v1.2h-2.2zM268.7,153.5h2.2v1.8h-2.2zM269.7,153.9h1.8v1.9h-1.8zM199.4,165.4h2.7v2.2h-2.7zM199.8,165.3h2.4v1.9h-2.4zM199.7,166.4h2.4v1.6h-2.4zM199.0,165.3h2.2v1.4h-2.2zM210.3,165.4h2.7v2.1h-2.7zM209.9,165.0h1.7v2.0h-1.7zM210.0,165.5h1.8v1.6h-1.8zM211.3,165.7h2.1v2.1h-2.1zM220.8,165.3h2.6v2.3h-2.6zM221.9,166.7h1.6v1.3h-1.6zM222.2,165.7h1.6v1.7h-1.6zM220.3,166.6h1.7v1.4h-1.7zM247.5,165.3h2.8v2.4h-2.8zM248.7,166.3h1.6v1.6h-1.6zM248.4,166.0h1.5v2.0h-1.5zM248.1,165.8h1.3v1.8h-1.3zM252.6,165.5h2.9v2.1h-2.9zM254.2,165.8h1.7v1.6h-1.7zM253.5,165.6h1.4v1.3h-1.4zM252.9,165.9h1.4v2.0h-1.4zM274.6,165.4h2.6v2.2h-2.6zM274.6,165.3h2.0v1.3h-2.0zM275.1,165.5h2.2v1.5h-2.2zM275.6,165.9h1.7v1.7h-1.7zM167.6,178.9h2.6v2.1h-2.6zM167.7,179.0h2.3v1.8h-2.3zM167.3,179.5h2.2v1.8h-2.2zM168.1,179.1h2.2v2.0h-2.2zM183.3,178.8h2.7v2.2h-2.7zM183.3,179.6h1.3v1.6h-1.3zM184.3,178.7h1.6v1.4h-1.6zM182.9,179.3h2.2v1.7h-2.2zM210.1,178.8h3.1v2.2h-3.1zM212.1,179.6h1.4v1.6h-1.4zM210.4,178.6h2.4v1.8h-2.4zM210.3,179.2h1.8v2.1h-1.8zM215.3,178.9h3.0v1.9h-3.0zM216.9,179.2h1.4v1.8h-1.4zM215.2,178.8h1.7v1.9h-1.7zM214.8,178.8h1.6v1.4h-1.6zM247.7,178.8h2.7v2.3h-2.7zM247.4,178.5h1.5v2.0h-1.5zM247.5,178.3h1.4v1.7h-1.4zM248.2,179.6h2.0v1.4h-2.0zM258.6,179.0h2.6v1.9h-2.6zM259.8,179.5h1.9v1.6h-1.9zM258.4,179.1h2.1v1.4h-2.1zM258.4,178.9h1.7v1.4h-1.7zM157.0,190.8h2.6v2.1h-2.6zM157.3,190.9h2.1v1.4h-2.1zM157.3,190.5h2.0v1.9h-2.0zM157.4,191.8h2.2v1.4h-2.2zM236.7,190.7h2.7v2.4h-2.7zM236.4,191.1h1.7v1.7h-1.7zM236.3,190.5h2.2v1.4h-2.2zM237.9,191.1h1.8v1.9h-1.8zM242.2,190.8h3.0v2.2h-3.0zM244.0,190.7h1.7v2.2h-1.7zM242.7,191.1h1.9v1.3h-1.9zM241.7,191.0h1.6v1.3h-1.6zM247.7,190.7h2.6v2.4h-2.6zM248.3,190.7h1.9v1.4h-1.9zM248.7,190.5h1.4v1.2h-1.4zM247.3,192.2h1.5v1.3h-1.5zM263.8,190.8h2.8v2.2h-2.8zM265.4,190.4h1.5v2.0h-1.5zM264.2,190.4h1.7v1.3h-1.7zM263.3,192.0h1.7v1.4h-1.7zM268.6,190.8h3.0v2.2h-3.0zM268.4,191.0h2.2v1.9h-2.2zM268.5,190.8h1.9v2.2h-1.9zM270.1,190.5h1.7v1.4h-1.7zM274.3,190.8h3.0v2.1h-3.0zM274.8,190.9h1.9v2.0h-1.9zM274.4,191.0h2.1v2.0h-2.1zM274.1,191.6h2.2v1.8h-2.2zM284.8,190.8h3.0v2.3h-3.0zM286.2,191.0h2.2v1.7h-2.2zM285.7,191.4h1.6v1.8h-1.6zM286.8,191.8h1.7v1.5h-1.7zM183.5,203.7h2.9v1.9h-2.9zM184.4,203.8h2.0v1.8h-2.0zM185.0,203.4h1.5v2.0h-1.5zM183.4,203.8h1.9v1.3h-1.9zM188.8,203.4h3.0v2.3h-3.0zM189.5,203.7h1.7v1.3h-1.7zM189.6,204.2h1.9v1.6h-1.9zM189.8,203.3h1.8v1.7h-1.8zM204.8,203.5h2.6v2.2h-2.6zM205.0,203.7h1.9v2.1h-1.9zM205.8,204.3h2.1v1.5h-2.1zM204.5,204.5h1.8v1.4h-1.8zM226.1,203.6h3.0v2.1h-3.0zM227.7,204.5h1.9v1.3h-1.9zM225.5,203.9h1.3v1.6h-1.3zM226.0,204.0h2.2v1.8h-2.2zM252.7,203.6h2.8v2.1h-2.8zM252.2,203.8h2.1v1.3h-2.1zM252.6,203.4h2.2v2.1h-2.2zM253.6,203.8h1.8v1.6h-1.8zM268.7,203.6h3.1v2.0h-3.1zM269.1,203.3h2.3v1.6h-2.3zM269.5,203.8h1.6v1.8h-1.6zM268.8,203.3h2.0v1.7h-2.0zM290.2,203.6h2.8v2.1h-2.8zM290.2,203.6h1.4v1.7h-1.4zM290.1,204.1h1.5v1.5h-1.5zM291.1,204.2h1.4v1.2h-1.4zM161.9,215.2h3.0v2.0h-3.0zM163.1,215.6h2.1v2.0h-2.1zM162.3,215.9h2.2v1.2h-2.2zM161.8,214.8h2.3v1.7h-2.3zM188.8,215.3h2.8v1.9h-2.8zM188.7,215.4h2.2v1.8h-2.2zM190.5,215.2h1.6v2.2h-1.6zM189.6,215.9h1.7v1.6h-1.7zM253.1,215.0h2.6v2.3h-2.6zM252.8,214.9h2.0v2.1h-2.0zM253.7,216.0h1.9v1.5h-1.9zM254.4,214.8h1.7v2.1h-1.7zM290.2,215.1h2.6v2.3h-2.6zM290.1,215.3h1.5v2.2h-1.5zM289.9,215.7h2.3v1.3h-2.3zM290.7,215.6h1.5v2.2h-1.5z" fill="#0e8632"/>
<path d="M204.9,141.5h2.9v2.1h-2.9zM204.4,141.8h2.1v2.1h-2.1zM206.0,141.5h2.1v1.5h-2.1zM204.4,141.8h2.3v1.8h-2.3zM253.2,141.5h2.8v2.0h-2.8zM253.9,141.2h2.1v1.4h-2.1zM253.4,141.9h1.9v1.3h-1.9zM253.7,142.0h1.6v1.5h-1.6zM258.2,141.5h2.7v1.9h-2.7zM259.5,141.4h1.8v1.5h-1.8zM258.0,141.4h1.9v1.7h-1.9zM258.6,141.8h2.4v2.0h-2.4zM280.0,141.6h2.6v1.8h-2.6zM280.4,141.7h1.9v1.9h-1.9zM281.0,141.3h1.8v1.4h-1.8zM279.4,141.5h2.1v1.6h-2.1zM285.0,141.5h3.0v2.0h-3.0zM285.5,141.6h1.7v2.0h-1.7zM285.5,142.2h1.7v1.4h-1.7zM285.4,141.2h1.7v1.4h-1.7zM178.4,153.7h2.6v2.3h-2.6zM179.2,154.9h1.5v1.5h-1.5zM178.8,153.3h1.7v2.1h-1.7zM178.4,154.0h2.3v2.0h-2.3zM220.6,153.8h2.7v2.2h-2.7zM220.4,153.9h2.3v1.2h-2.3zM220.9,153.9h1.8v1.7h-1.8zM222.5,154.2h1.3v1.7h-1.3zM236.8,153.9h2.8v2.0h-2.8zM238.4,153.9h1.5v2.0h-1.5zM236.7,153.6h1.6v2.1h-1.6zM237.3,153.6h2.0v2.0h-2.0zM247.8,153.7h2.8v2.4h-2.8zM248.5,154.4h2.1v1.4h-2.1zM247.8,153.5h1.8v1.8h-1.8zM247.3,155.0h2.3v1.6h-2.3zM263.4,154.0h3.0v1.9h-3.0zM265.1,154.1h1.8v2.0h-1.8zM263.4,153.9h1.5v1.7h-1.5zM263.7,153.6h1.8v2.2h-1.8zM279.8,153.9h2.9v2.0h-2.9zM280.6,153.5h1.9v1.5h-1.9zM281.4,153.6h1.9v1.3h-1.9zM280.4,154.2h1.8v1.5h-1.8zM167.7,165.3h2.9v2.4h-2.9zM167.2,165.1h2.1v1.7h-2.1zM169.1,165.7h1.6v1.7h-1.6zM167.1,165.9h2.4v1.5h-2.4zM172.5,165.5h2.9v2.0h-2.9zM173.3,166.7h2.2v1.2h-2.2zM172.7,165.5h2.3v2.1h-2.3zM173.7,165.4h1.4v2.0h-1.4zM178.0,165.5h2.6v2.0h-2.6zM177.8,165.4h2.3v1.4h-2.3zM178.2,165.3h1.6v2.0h-1.6zM178.9,165.9h2.0v1.6h-2.0zM188.8,165.5h2.7v2.1h-2.7zM189.1,165.0h1.7v1.9h-1.7zM190.0,165.4h1.6v1.4h-1.6zM188.5,165.1h2.4v1.5h-2.4zM194.2,165.4h2.8v2.3h-2.8zM194.2,165.1h1.4v2.1h-1.4zM195.2,165.3h1.5v1.8h-1.5zM195.0,166.3h1.6v1.2h-1.6zM215.3,165.5h2.7v2.1h-2.7zM216.2,165.3h1.9v2.1h-1.9zM216.8,165.8h1.8v1.3h-1.8zM216.0,165.0h1.4v1.5h-1.4zM269.0,165.6h2.6v1.8h-2.6zM269.7,165.3h1.3v2.2h-1.3zM269.7,165.2h2.4v1.3h-2.4zM269.8,165.7h1.4v1.7h-1.4zM280.0,165.4h2.6v2.2h-2.6zM281.3,165.8h1.5v1.9h-1.5zM281.6,166.3h1.5v1.2h-1.5zM280.7,165.7h1.6v1.9h-1.6zM290.5,165.4h2.6v2.2h-2.6zM290.9,165.7h1.7v2.0h-1.7zM290.1,166.1h1.5v1.8h-1.5zM291.8,166.1h1.5v1.8h-1.5zM162.4,178.9h2.8v2.0h-2.8zM162.6,179.1h2.2v2.1h-2.2zM161.9,179.2h1.7v1.4h-1.7zM162.6,178.5h1.4v1.6h-1.4zM194.1,178.8h2.7v2.1h-2.7zM194.2,179.1h1.4v1.7h-1.4zM194.0,179.3h1.7v1.7h-1.7zM194.8,178.7h1.5v2.1h-1.5zM226.4,179.0h3.0v1.9h-3.0zM225.8,179.1h1.6v1.5h-1.6zM226.1,179.4h1.7v1.3h-1.7zM226.5,179.3h2.1v1.7h-2.1zM263.6,178.9h2.6v2.0h-2.6zM263.2,178.5h2.4v2.1h-2.4zM265.1,178.5h1.7v1.7h-1.7zM263.5,179.1h2.1v2.0h-2.1zM162.2,190.8h2.5v2.1h-2.5zM162.8,190.8h1.4v1.7h-1.4zM163.3,190.7h1.8v2.1h-1.8zM162.6,191.4h2.0v1.6h-2.0zM188.8,190.8h3.1v2.2h-3.1zM190.6,190.3h1.6v2.0h-1.6zM189.7,190.9h2.2v1.7h-2.2zM190.5,191.0h2.0v1.7h-2.0zM231.3,190.8h2.9v2.2h-2.9zM232.7,191.5h1.6v1.3h-1.6zM232.4,191.8h2.3v1.4h-2.3zM232.3,191.0h2.0v1.2h-2.0zM252.7,190.9h2.9v2.1h-2.9zM252.5,190.5h1.4v1.7h-1.4zM252.8,191.2h1.9v1.4h-1.9zM253.0,190.8h2.4v1.8h-2.4zM157.1,203.6h2.5v2.0h-2.5zM156.8,203.8h2.0v2.1h-2.0zM156.6,203.5h2.3v1.8h-2.3zM157.0,204.2h1.6v1.7h-1.6zM167.5,203.7h2.6v1.8h-2.6zM167.3,203.7h2.1v1.5h-2.1zM167.2,203.3h1.6v1.5h-1.6zM167.0,203.8h1.9v1.2h-1.9zM199.7,203.4h2.7v2.4h-2.7zM201.0,204.5h1.6v1.3h-1.6zM200.9,203.5h1.6v1.3h-1.6zM200.8,203.2h2.1v1.4h-2.1zM210.2,203.6h2.8v2.1h-2.8zM209.7,204.2h1.6v1.8h-1.6zM210.8,204.2h1.6v1.6h-1.6zM210.2,204.0h2.2v1.6h-2.2zM215.5,203.5h2.8v2.1h-2.8zM217.4,204.6h1.4v1.5h-1.4zM215.1,203.4h2.0v2.2h-2.0zM215.5,203.4h2.2v1.2h-2.2zM231.6,203.5h3.0v2.2h-3.0zM232.9,204.1h1.8v1.9h-1.8zM232.8,203.3h1.9v1.4h-1.9zM231.9,203.7h1.9v2.1h-1.9zM242.0,203.5h2.7v2.2h-2.7zM242.9,204.5h1.8v1.5h-1.8zM242.5,203.9h1.3v2.2h-1.3zM243.4,203.9h1.3v1.9h-1.3zM247.9,203.6h2.7v1.9h-2.7zM247.9,203.9h2.2v1.7h-2.2zM248.0,203.2h1.7v1.9h-1.7zM248.3,204.1h2.3v1.7h-2.3zM258.2,203.5h2.7v2.1h-2.7zM259.6,203.2h1.8v1.5h-1.8zM259.5,203.6h1.7v1.5h-1.7zM257.9,203.4h2.0v1.3h-2.0zM274.5,203.5h2.8v2.3h-2.8zM276.0,204.3h1.5v1.5h-1.5zM276.1,203.7h1.6v1.5h-1.6zM274.2,203.5h1.5v1.7h-1.5zM279.8,203.7h3.0v1.9h-3.0zM281.2,204.1h1.6v1.7h-1.6zM279.3,203.6h1.4v1.7h-1.4zM279.5,204.3h1.8v1.4h-1.8zM194.0,215.0h3.0v2.3h-3.0zM195.7,216.3h1.5v1.2h-1.5zM196.2,215.8h1.3v1.9h-1.3zM195.3,215.2h1.9v2.0h-1.9zM204.7,215.2h2.9v2.0h-2.9zM204.3,215.2h2.0v2.1h-2.0zM204.9,215.5h2.2v1.9h-2.2zM205.4,215.0h2.3v1.9h-2.3zM220.9,215.3h2.9v1.8h-2.9zM220.3,215.1h1.8v1.4h-1.8zM221.2,215.2h1.8v1.9h-1.8zM221.6,215.4h2.2v1.8h-2.2zM258.5,215.1h2.6v2.2h-2.6zM258.8,215.5h2.2v1.6h-2.2zM259.4,214.7h2.0v1.8h-2.0zM258.7,215.2h2.0v1.2h-2.0zM285.2,215.0h2.6v2.4h-2.6zM286.2,214.7h1.7v1.4h-1.7zM286.6,215.7h1.4v2.0h-1.4zM285.1,216.1h2.0v1.4h-2.0z" fill="#109236"/>
</g>
<g filter="url(#bl)">
<path d="M157.4,246.1h1.7v1.9h-1.7zM156.4,245.4h1.7v1.4h-1.7zM157.1,245.8h2.2v1.8h-2.2zM178.6,246.2h1.6v1.6h-1.6zM178.8,245.3h2.0v2.2h-2.0zM204.6,245.9h2.1v1.8h-2.1zM204.1,246.1h2.3v2.1h-2.3zM203.9,245.5h1.4v1.6h-1.4zM210.9,245.6h2.2v2.1h-2.2zM221.6,246.2h2.3v1.4h-2.3zM242.2,246.4h1.9v1.8h-1.9zM241.6,245.9h2.4v1.7h-2.4zM248.2,245.4h2.2v1.8h-2.2zM248.4,246.4h1.6v1.7h-1.6zM258.8,245.7h2.4v1.6h-2.4zM264.5,245.9h1.9v1.9h-1.9zM264.9,245.8h1.8v1.4h-1.8zM263.9,245.8h1.6v2.0h-1.6zM269.4,245.7h2.0v2.1h-2.0zM270.6,246.6h1.9v1.4h-1.9zM270.2,245.4h1.3v1.6h-1.3zM275.0,245.8h2.0v2.2h-2.0zM162.7,253.0h1.7v1.5h-1.7zM163.3,253.0h1.4v1.8h-1.4zM173.4,252.4h1.7v2.0h-1.7zM204.9,253.1h2.0v1.5h-2.0zM205.3,252.2h2.1v1.8h-2.1zM205.0,252.0h2.4v1.3h-2.4zM211.1,252.7h1.3v1.5h-1.3zM210.5,252.4h1.9v1.9h-1.9zM215.7,252.7h1.6v1.2h-1.6zM215.5,252.6h1.7v1.9h-1.7zM215.6,252.4h1.4v1.2h-1.4zM226.8,251.9h2.1v2.1h-2.1zM226.2,253.3h1.5v1.5h-1.5zM226.0,252.0h2.3v1.7h-2.3zM269.3,252.8h1.9v2.1h-1.9zM268.7,252.3h2.3v2.2h-2.3zM268.7,252.7h1.9v2.0h-1.9zM280.0,252.4h1.5v2.2h-1.5zM280.1,252.5h1.5v1.9h-1.5zM291.1,252.6h1.8v1.6h-1.8zM290.7,252.4h2.2v2.2h-2.2zM291.6,252.7h1.8v1.2h-1.8zM162.5,257.9h1.9v1.4h-1.9zM163.2,257.1h1.6v2.0h-1.6zM162.0,257.2h1.7v1.4h-1.7zM167.5,257.6h1.5v1.5h-1.5zM167.3,257.4h1.9v1.9h-1.9zM177.8,258.0h2.3v1.3h-2.3zM178.4,257.3h1.9v1.7h-1.9zM178.5,257.1h2.1v1.6h-2.1zM215.5,257.6h1.7v1.2h-1.7zM216.5,257.0h2.0v1.9h-2.0zM216.2,257.9h1.5v1.4h-1.5zM226.3,257.7h2.3v1.7h-2.3zM227.3,257.7h1.8v1.5h-1.8zM232.3,257.4h1.4v1.6h-1.4zM231.8,257.2h1.8v2.1h-1.8zM231.5,257.2h2.2v1.4h-2.2zM264.4,257.4h1.8v1.8h-1.8zM264.0,257.2h1.8v2.0h-1.8zM280.0,257.0h2.1v2.0h-2.1zM156.8,264.2h2.2v1.6h-2.2zM156.7,264.2h2.0v1.7h-2.0zM162.4,264.0h2.1v2.1h-2.1zM184.0,264.4h1.7v1.6h-1.7zM184.2,264.6h1.6v1.5h-1.6zM189.2,264.4h2.3v1.4h-2.3zM188.0,264.8h2.3v1.4h-2.3zM194.6,264.2h1.5v2.1h-1.5zM194.4,263.8h1.5v1.8h-1.5zM210.5,263.9h1.3v2.2h-1.3zM211.7,264.0h1.5v2.0h-1.5zM220.7,264.2h1.8v1.7h-1.8zM231.9,264.2h1.8v1.3h-1.8zM232.5,264.3h1.7v1.8h-1.7zM254.0,264.3h1.7v1.6h-1.7zM253.2,264.3h2.0v1.3h-2.0zM253.5,263.8h1.5v1.3h-1.5zM157.5,269.6h1.8v1.9h-1.8zM217.4,269.2h1.8v1.5h-1.8zM216.8,270.1h2.3v1.2h-2.3zM226.7,269.3h2.3v1.4h-2.3zM232.3,269.3h2.4v2.2h-2.4zM236.1,269.5h2.0v2.1h-2.0zM236.3,269.9h2.2v1.5h-2.2zM252.9,270.3h2.1v1.4h-2.1zM268.3,269.9h2.2v1.5h-2.2zM274.1,269.6h1.8v1.7h-1.8zM274.1,269.8h2.3v1.7h-2.3zM157.6,276.1h1.6v1.5h-1.6zM158.0,276.6h1.5v1.3h-1.5zM183.7,275.9h2.4v2.0h-2.4zM183.9,275.9h1.6v1.2h-1.6zM200.2,276.1h1.4v1.8h-1.4zM205.5,275.9h1.3v2.2h-1.3zM205.0,276.3h2.4v1.8h-2.4zM205.6,275.9h1.6v2.1h-1.6zM242.9,276.1h1.4v2.0h-1.4zM242.7,276.2h2.4v1.3h-2.4zM244.2,276.3h1.4v1.2h-1.4zM247.3,275.8h1.5v2.1h-1.5zM248.0,276.4h1.7v2.0h-1.7zM259.3,276.2h1.4v2.0h-1.4zM257.6,276.3h1.9v1.8h-1.9zM259.0,276.2h2.0v1.7h-2.0zM274.2,276.7h1.4v1.7h-1.4zM273.8,276.1h1.7v2.2h-1.7zM279.6,276.6h1.3v1.6h-1.3zM279.0,276.3h2.1v1.8h-2.1zM279.0,276.0h1.8v1.2h-1.8zM158.1,280.9h1.6v1.9h-1.6zM162.2,281.2h1.4v1.7h-1.4zM162.5,281.5h2.1v1.6h-2.1zM168.3,280.7h2.1v2.2h-2.1zM168.4,281.2h2.0v1.6h-2.0zM168.4,280.9h1.3v1.5h-1.3zM173.0,281.1h2.4v1.9h-2.4zM179.0,281.2h2.1v1.7h-2.1zM179.0,281.5h1.7v1.5h-1.7zM184.4,280.8h1.7v2.0h-1.7zM184.5,281.3h1.5v1.2h-1.5zM184.6,281.1h1.6v1.4h-1.6zM189.3,281.2h1.6v1.3h-1.6zM188.8,280.8h1.5v2.1h-1.5zM195.3,280.7h1.3v2.2h-1.3zM195.0,281.4h2.1v1.6h-2.1zM209.7,280.9h2.2v1.7h-2.2zM209.8,280.9h2.4v2.1h-2.4zM216.1,281.1h1.9v1.9h-1.9zM243.4,280.8h2.0v2.0h-2.0zM243.2,281.0h1.6v1.3h-1.6zM247.6,281.6h1.5v1.5h-1.5zM247.7,281.1h1.4v1.6h-1.4zM247.3,281.0h1.9v1.3h-1.9zM253.3,281.3h1.9v1.5h-1.9zM253.0,280.8h1.6v1.8h-1.6zM258.7,281.6h1.9v1.2h-1.9zM258.0,280.8h1.9v2.0h-1.9zM258.3,280.6h1.6v1.6h-1.6zM280.4,280.7h1.9v1.6h-1.9zM157.2,288.8h2.3v1.5h-2.3zM157.3,288.4h2.1v1.6h-2.1zM157.0,288.6h2.3v1.4h-2.3zM199.2,288.6h2.3v1.7h-2.3zM200.5,288.6h1.5v1.4h-1.5zM215.5,288.4h1.4v2.0h-1.4zM215.3,288.4h2.1v1.8h-2.1zM231.1,288.5h2.1v1.5h-2.1zM241.9,288.0h2.3v1.4h-2.3zM241.8,288.3h1.9v1.7h-1.9zM241.9,288.6h2.0v1.8h-2.0zM252.8,288.8h1.7v1.9h-1.7zM274.4,288.3h2.0v1.8h-2.0zM275.0,288.3h1.6v1.8h-1.6zM278.8,288.5h2.4v2.0h-2.4zM157.8,294.2h1.9v1.5h-1.9zM157.7,294.1h2.0v1.9h-2.0zM166.8,294.1h1.4v1.9h-1.4zM184.0,293.6h1.4v2.0h-1.4zM183.9,294.4h2.4v1.7h-2.4zM184.0,294.3h1.3v1.3h-1.3zM205.3,294.3h2.3v1.6h-2.3zM216.1,294.6h1.4v1.4h-1.4zM215.7,293.8h1.8v1.8h-1.8zM220.9,293.9h2.1v1.2h-2.1zM221.2,294.1h1.6v1.5h-1.6zM243.0,294.5h1.7v1.9h-1.7zM242.1,293.8h1.4v2.1h-1.4zM264.6,293.9h1.9v1.8h-1.9zM269.4,294.0h2.2v2.2h-2.2zM285.0,293.7h1.8v2.1h-1.8zM284.7,294.5h1.8v1.4h-1.8zM284.5,294.1h2.1v2.1h-2.1zM167.7,301.2h2.3v1.8h-2.3zM167.9,300.8h2.0v1.4h-2.0zM167.6,301.3h1.8v1.8h-1.8zM179.0,300.6h1.6v1.4h-1.6zM183.1,301.6h2.4v2.0h-2.4zM247.5,300.8h2.1v2.1h-2.1zM274.6,302.0h1.6v1.2h-1.6zM274.2,301.4h1.7v2.0h-1.7zM280.7,301.2h1.7v1.6h-1.7zM280.7,301.2h1.5v1.6h-1.5zM290.6,300.9h1.7v1.9h-1.7zM289.8,301.7h2.1v1.4h-2.1zM290.4,301.4h1.9v1.8h-1.9zM162.7,306.3h1.3v1.5h-1.3zM161.6,306.7h1.6v1.3h-1.6zM195.6,306.2h1.4v1.7h-1.4zM194.8,305.8h2.0v2.1h-2.0zM195.6,306.4h1.3v1.4h-1.3zM198.9,305.9h2.3v1.6h-2.3zM198.5,306.0h2.3v1.5h-2.3zM231.8,306.4h2.3v1.2h-2.3zM231.5,306.1h1.9v1.2h-1.9zM232.3,305.8h1.9v1.9h-1.9zM237.8,306.5h1.8v1.4h-1.8zM290.9,305.9h1.4v2.1h-1.4zM290.8,306.2h1.7v1.4h-1.7zM189.2,313.1h2.1v1.8h-2.1zM189.6,313.1h1.8v1.6h-1.8zM188.9,313.8h2.1v1.5h-2.1zM206.1,313.4h1.4v1.7h-1.4zM205.8,313.5h1.5v1.5h-1.5zM205.3,313.4h1.7v1.7h-1.7zM253.4,313.3h2.3v1.9h-2.3zM259.1,313.2h1.5v1.5h-1.5zM257.6,313.0h1.5v1.4h-1.5zM264.9,313.3h2.1v1.9h-2.1zM263.8,313.7h2.4v1.2h-2.4zM263.7,313.3h2.3v1.8h-2.3zM268.9,313.1h1.6v2.1h-1.6zM269.3,313.7h1.9v1.4h-1.9zM275.5,313.1h1.8v1.8h-1.8zM275.1,314.0h2.1v1.3h-2.1zM156.3,318.6h1.5v1.6h-1.5zM157.1,318.5h1.7v1.5h-1.7zM220.9,319.0h1.6v1.7h-1.6zM248.6,318.4h1.6v2.1h-1.6zM247.6,318.4h1.3v1.9h-1.3zM248.7,318.4h1.8v1.9h-1.8zM253.4,318.7h1.8v1.5h-1.8zM253.9,318.4h1.8v1.5h-1.8zM254.8,318.6h1.6v1.7h-1.6zM279.6,319.5h1.6v1.3h-1.6zM279.8,318.1h1.7v2.1h-1.7zM279.9,318.8h1.6v1.3h-1.6zM157.4,325.0h2.1v1.6h-2.1zM173.7,324.9h2.2v2.0h-2.2zM174.4,325.1h1.6v1.9h-1.6zM178.7,325.4h2.3v1.6h-2.3zM189.5,325.3h2.0v1.4h-2.0zM189.7,324.8h2.0v1.3h-2.0zM195.4,325.8h1.5v1.5h-1.5zM194.8,325.1h1.9v1.7h-1.9zM231.7,324.8h2.3v1.5h-2.3zM232.0,325.6h2.3v1.4h-2.3zM231.3,325.4h2.4v1.6h-2.4zM248.3,324.7h1.9v1.9h-1.9zM248.4,325.6h1.8v1.3h-1.8zM253.1,324.9h1.7v2.0h-1.7zM253.0,324.9h1.9v1.8h-1.9zM285.7,325.0h2.2v1.3h-2.2zM286.0,325.4h1.6v1.5h-1.6zM285.7,325.4h2.2v1.4h-2.2zM189.7,329.7h1.6v1.5h-1.6zM189.9,329.7h1.4v2.2h-1.4zM194.6,330.4h1.8v1.4h-1.8zM194.7,330.0h1.8v1.7h-1.8zM194.6,330.0h1.8v1.9h-1.8zM206.5,330.0h1.5v1.4h-1.5zM222.5,330.0h1.4v1.3h-1.4zM222.1,330.0h2.0v1.7h-2.0zM221.7,329.8h2.1v2.1h-2.1zM233.3,330.2h1.3v1.5h-1.3zM232.6,329.9h2.0v1.6h-2.0zM237.2,329.7h2.3v1.7h-2.3zM237.6,330.4h2.3v1.5h-2.3zM242.3,329.7h1.4v2.0h-1.4zM286.6,329.7h1.4v2.1h-1.4zM183.3,337.0h2.3v1.7h-2.3zM188.8,336.8h2.0v1.4h-2.0zM190.0,337.5h1.3v1.3h-1.3zM189.1,337.3h1.9v1.2h-1.9zM200.1,336.7h1.5v2.1h-1.5zM200.3,336.8h1.5v1.8h-1.5zM216.2,336.6h1.8v1.6h-1.8zM216.3,336.5h2.2v1.7h-2.2zM215.2,336.4h1.4v1.9h-1.4zM221.3,336.7h2.0v1.7h-2.0zM221.3,336.6h1.8v1.8h-1.8zM220.9,336.8h1.4v1.3h-1.4zM248.7,336.9h1.8v2.0h-1.8zM253.7,336.8h2.0v1.8h-2.0zM254.8,336.8h1.4v1.8h-1.4zM259.3,336.7h1.8v1.9h-1.8zM263.5,337.3h1.9v1.7h-1.9zM263.2,336.9h2.0v2.0h-2.0zM279.8,336.5h2.3v1.4h-2.3zM286.1,336.9h2.1v1.5h-2.1zM285.4,336.6h2.3v1.9h-2.3z" fill="#0e5624"/>
<path d="M163.0,245.7h2.1v2.1h-2.1zM163.4,245.9h1.9v1.5h-1.9zM162.9,245.9h1.8v1.8h-1.8zM167.5,246.3h1.9v1.3h-1.9zM168.0,245.6h1.3v2.2h-1.3zM168.0,245.5h2.0v2.2h-2.0zM189.1,246.3h2.2v1.4h-2.2zM226.7,245.7h2.3v2.1h-2.3zM232.5,245.7h2.3v1.2h-2.3zM231.8,246.2h1.9v1.4h-1.9zM280.3,245.4h1.5v1.6h-1.5zM279.7,246.1h1.4v1.6h-1.4zM281.5,246.4h1.5v1.7h-1.5zM179.1,252.4h1.6v1.7h-1.6zM178.2,252.4h1.6v2.0h-1.6zM243.1,252.4h2.3v1.6h-2.3zM243.4,252.8h1.6v1.6h-1.6zM188.9,257.1h1.6v1.6h-1.6zM188.5,257.4h1.6v1.5h-1.6zM210.8,257.4h2.4v1.3h-2.4zM236.1,257.2h1.9v2.0h-1.9zM237.6,257.2h1.8v1.6h-1.8zM237.1,257.3h2.0v2.0h-2.0zM253.1,257.2h2.0v1.4h-2.0zM258.6,257.4h2.3v1.7h-2.3zM184.8,269.7h1.3v1.6h-1.3zM184.7,269.5h1.9v1.9h-1.9zM184.6,269.6h1.3v1.7h-1.3zM205.3,269.5h1.7v1.8h-1.7zM205.3,269.6h1.9v1.5h-1.9zM205.7,269.8h1.9v1.4h-1.9zM221.0,269.9h2.3v1.3h-2.3zM220.7,269.6h1.9v1.6h-1.9zM221.2,269.8h1.8v1.6h-1.8zM258.4,269.4h1.5v2.1h-1.5zM258.1,269.4h2.2v1.4h-2.2zM257.8,270.0h2.3v1.4h-2.3zM279.4,269.5h2.0v1.9h-2.0zM279.4,269.4h1.9v2.1h-1.9zM279.1,269.7h2.3v1.4h-2.3zM211.4,276.4h2.0v1.4h-2.0zM211.2,275.6h1.4v2.0h-1.4zM221.3,276.4h2.4v1.3h-2.4zM221.8,276.2h1.9v1.9h-1.9zM237.1,276.0h2.2v1.6h-2.2zM237.5,275.9h2.3v2.0h-2.3zM237.2,276.3h1.7v1.5h-1.7zM205.4,280.5h2.0v1.5h-2.0zM205.8,280.6h1.3v1.8h-1.3zM231.8,280.9h1.8v1.8h-1.8zM231.8,280.7h1.7v2.1h-1.7zM237.4,281.1h1.6v1.8h-1.6zM236.9,281.3h2.2v1.6h-2.2zM264.1,281.8h1.5v1.4h-1.5zM263.6,281.4h2.2v1.5h-2.2zM285.6,281.5h1.4v1.3h-1.4zM285.4,280.8h2.1v1.9h-2.1zM162.1,288.4h2.3v1.6h-2.3zM172.8,288.7h1.4v1.4h-1.4zM205.9,288.5h2.3v1.4h-2.3zM205.8,288.3h2.3v1.7h-2.3zM207.0,288.6h1.6v1.5h-1.6zM210.5,288.8h2.3v1.7h-2.3zM237.0,288.0h1.8v1.9h-1.8zM237.2,288.2h2.4v2.0h-2.4zM237.6,288.1h1.8v1.4h-1.8zM162.9,294.2h2.3v2.2h-2.3zM172.5,294.0h2.3v2.2h-2.3zM173.8,294.1h1.6v2.1h-1.6zM210.6,293.9h1.9v2.0h-1.9zM233.4,295.0h1.6v1.4h-1.6zM231.9,294.9h1.3v1.3h-1.3zM233.4,294.4h1.7v1.9h-1.7zM189.6,301.4h1.8v1.6h-1.8zM190.4,301.0h1.4v1.4h-1.4zM200.3,301.4h1.8v1.6h-1.8zM200.2,301.1h2.2v1.9h-2.2zM200.7,301.0h1.5v1.9h-1.5zM205.5,300.9h2.3v1.8h-2.3zM205.7,301.3h1.6v1.9h-1.6zM205.7,301.1h2.1v2.1h-2.1zM217.3,301.5h1.6v1.6h-1.6zM216.5,301.5h1.6v2.0h-1.6zM216.7,300.7h2.2v2.0h-2.2zM258.6,301.0h2.3v2.1h-2.3zM258.9,301.0h1.5v1.6h-1.5zM284.1,301.3h1.4v1.7h-1.4zM285.6,301.4h1.4v1.8h-1.4zM158.2,306.4h1.4v2.0h-1.4zM188.6,306.3h2.0v1.2h-2.0zM189.8,306.0h2.2v1.6h-2.2zM188.5,306.4h2.3v1.4h-2.3zM199.8,313.0h1.6v1.6h-1.6zM199.9,313.9h1.8v1.4h-1.8zM226.7,313.4h1.4v1.9h-1.4zM226.8,313.6h1.5v1.7h-1.5zM242.1,313.2h2.2v1.9h-2.2zM242.9,312.9h1.9v2.1h-1.9zM242.7,313.1h1.5v1.4h-1.5zM216.1,318.9h1.4v1.3h-1.4zM237.8,318.1h1.6v1.9h-1.6zM237.1,319.2h2.2v1.3h-2.2zM258.9,318.3h1.5v2.2h-1.5zM259.1,318.3h1.5v2.1h-1.5zM269.2,318.3h2.1v1.6h-2.1zM269.8,318.7h2.1v1.7h-2.1zM162.5,325.6h2.0v1.3h-2.0zM163.2,325.3h1.7v1.4h-1.7zM162.8,325.1h1.4v2.0h-1.4zM204.9,325.4h1.6v1.6h-1.6zM205.9,325.4h1.4v1.8h-1.4zM210.9,325.2h2.2v1.7h-2.2zM275.1,325.2h2.0v1.3h-2.0zM275.3,325.0h1.4v1.4h-1.4zM178.4,330.4h1.5v1.8h-1.5zM177.9,330.4h1.7v1.4h-1.7zM258.7,329.8h1.9v2.0h-1.9zM258.2,329.8h2.2v2.1h-2.2zM258.2,330.3h2.2v1.3h-2.2zM263.8,329.7h2.3v2.1h-2.3zM263.4,329.7h2.1v2.1h-2.1zM168.2,336.4h2.2v1.6h-2.2zM167.7,336.7h1.6v1.4h-1.6zM168.4,336.6h1.8v1.3h-1.8zM204.9,336.4h2.1v2.2h-2.1zM204.3,337.3h2.1v1.3h-2.1zM205.2,336.6h1.8v1.9h-1.8zM242.1,336.7h2.2v1.8h-2.2zM241.9,336.7h1.8v1.7h-1.8zM242.0,336.6h1.8v2.0h-1.8zM269.0,336.6h1.4v2.1h-1.4zM269.4,336.5h2.1v1.9h-2.1z" fill="#10602a"/>
<path d="M173.1,245.7h2.0v2.1h-2.0zM173.4,245.9h1.7v1.6h-1.7zM194.1,246.3h1.7v1.4h-1.7zM194.1,246.1h2.0v1.6h-2.0zM200.3,245.9h2.1v2.1h-2.1zM215.6,246.3h1.7v1.9h-1.7zM237.1,245.8h2.1v2.1h-2.1zM167.3,252.5h2.3v2.0h-2.3zM237.2,252.7h2.2v1.3h-2.2zM237.3,253.1h2.3v1.3h-2.3zM238.1,252.3h1.4v1.7h-1.4zM248.6,252.3h1.9v2.1h-1.9zM253.2,252.4h1.7v1.4h-1.7zM252.9,252.1h1.8v2.1h-1.8zM253.7,252.9h1.6v1.9h-1.6zM157.6,257.4h2.4v2.1h-2.4zM158.0,257.7h2.0v1.3h-2.0zM221.6,257.4h1.5v1.6h-1.5zM222.4,257.4h1.8v1.7h-1.8zM274.3,257.2h1.4v2.2h-1.4zM237.5,264.0h1.5v1.9h-1.5zM257.9,264.0h2.4v1.5h-2.4zM269.6,264.0h1.3v1.7h-1.3zM269.1,264.1h2.2v1.2h-2.2zM269.4,264.3h2.0v1.9h-2.0zM275.8,263.8h1.5v1.6h-1.5zM273.8,264.6h2.3v1.4h-2.3zM279.0,264.2h1.6v2.0h-1.6zM279.2,263.8h1.7v2.1h-1.7zM168.6,269.7h2.1v1.9h-2.1zM189.8,269.4h2.2v2.1h-2.2zM189.6,269.6h2.3v1.8h-2.3zM209.7,269.7h1.8v1.5h-1.8zM209.6,269.7h2.0v1.3h-2.0zM195.0,276.8h1.7v1.3h-1.7zM215.9,276.4h2.3v1.2h-2.3zM226.3,275.7h1.8v2.0h-1.8zM227.0,276.1h1.6v1.2h-1.6zM269.5,276.1h2.1v2.0h-2.1zM268.7,276.3h1.9v1.6h-1.9zM269.3,276.1h2.3v1.7h-2.3zM220.1,281.2h2.2v1.3h-2.2zM220.2,281.3h1.4v1.4h-1.4zM182.6,288.6h1.6v1.7h-1.6zM182.7,288.2h2.3v1.6h-2.3zM183.1,288.7h2.1v1.4h-2.1zM222.3,288.5h1.6v1.5h-1.6zM221.7,288.1h1.6v1.2h-1.6zM221.6,288.0h1.8v1.7h-1.8zM226.3,288.6h1.3v1.6h-1.3zM226.4,288.4h2.3v1.6h-2.3zM284.5,288.1h1.9v1.9h-1.9zM189.0,294.4h1.9v1.4h-1.9zM194.4,293.9h1.6v1.3h-1.6zM280.1,294.4h2.4v1.9h-2.4zM158.4,300.9h1.7v2.1h-1.7zM157.7,301.6h2.4v1.3h-2.4zM158.5,301.1h1.8v1.9h-1.8zM162.3,301.1h1.4v2.0h-1.4zM252.4,301.7h2.4v1.5h-2.4zM253.2,301.2h1.4v1.2h-1.4zM264.2,301.5h2.2v1.3h-2.2zM268.5,301.2h1.8v1.8h-1.8zM178.7,305.7h2.0v1.9h-2.0zM205.1,306.2h1.8v1.2h-1.8zM206.1,306.0h1.7v2.1h-1.7zM226.8,306.1h1.7v1.8h-1.7zM225.8,306.0h1.7v1.5h-1.7zM265.1,305.4h1.4v1.9h-1.4zM264.6,306.6h1.5v1.6h-1.5zM264.3,306.1h2.0v1.7h-2.0zM279.8,306.2h1.6v1.3h-1.6zM285.5,305.9h1.8v2.0h-1.8zM285.6,306.0h1.8v1.8h-1.8zM285.0,306.0h2.1v1.9h-2.1zM162.5,312.9h2.2v1.3h-2.2zM238.3,313.3h1.7v1.4h-1.7zM291.4,313.9h1.6v1.5h-1.6zM291.4,313.8h1.8v1.5h-1.8zM290.5,313.3h2.1v1.5h-2.1zM162.2,318.4h1.8v2.0h-1.8zM162.9,318.3h1.8v1.6h-1.8zM168.5,318.0h1.9v2.1h-1.9zM167.4,318.5h2.3v2.0h-2.3zM167.8,319.0h2.2v1.5h-2.2zM193.9,318.9h2.3v1.3h-2.3zM194.5,318.6h2.1v1.3h-2.1zM193.9,318.7h1.4v1.7h-1.4zM211.4,318.6h1.4v1.8h-1.4zM210.9,318.6h1.8v1.4h-1.8zM210.6,319.2h2.1v1.3h-2.1zM275.3,318.6h2.4v1.9h-2.4zM291.9,318.4h1.6v1.9h-1.6zM167.7,325.1h2.0v1.5h-2.0zM215.8,324.9h1.6v1.4h-1.6zM215.3,324.8h1.9v1.6h-1.9zM215.3,324.6h2.2v2.1h-2.2zM258.2,324.9h2.0v1.9h-2.0zM258.8,324.9h1.5v1.7h-1.5zM258.5,324.9h1.5v1.9h-1.5zM269.1,324.9h1.8v1.5h-1.8zM270.2,324.7h1.4v1.5h-1.4zM269.7,324.5h1.9v2.1h-1.9zM280.4,324.5h1.6v2.1h-1.6zM280.2,324.9h2.3v1.5h-2.3zM291.1,325.1h1.8v2.1h-1.8zM291.1,324.8h2.3v1.3h-2.3zM290.5,324.9h1.6v1.4h-1.6zM184.2,329.5h2.1v1.4h-2.1zM226.3,329.9h2.2v1.8h-2.2zM226.4,330.3h1.8v1.4h-1.8zM248.2,330.3h2.2v1.3h-2.2zM248.1,330.0h1.4v1.8h-1.4zM275.3,329.9h1.3v1.8h-1.3zM280.0,330.1h2.3v1.9h-2.3zM290.7,329.9h2.3v1.6h-2.3zM290.7,330.0h2.1v1.6h-2.1zM290.6,329.4h2.0v1.3h-2.0zM157.3,336.2h2.3v2.2h-2.3zM157.9,337.1h1.7v1.4h-1.7zM163.0,337.1h1.9v1.6h-1.9zM163.0,336.6h2.2v1.7h-2.2zM173.2,336.5h2.0v1.7h-2.0zM173.4,336.7h1.3v1.7h-1.3zM173.2,336.6h2.0v2.1h-2.0zM194.5,337.2h2.3v1.3h-2.3zM195.0,337.2h1.6v1.9h-1.6zM227.6,337.0h1.6v1.6h-1.6zM226.1,336.5h2.4v1.5h-2.4z" fill="#0c4a20"/>
<path d="M184.3,245.8h1.7v2.2h-1.7zM199.2,252.5h2.0v1.8h-2.0zM200.0,252.6h2.0v1.6h-2.0zM199.7,252.5h2.0v1.7h-2.0zM221.4,252.8h2.3v2.0h-2.3zM221.6,252.1h1.4v1.6h-1.4zM221.8,252.3h2.4v1.8h-2.4zM231.0,253.0h2.2v1.4h-2.2zM231.4,252.4h1.9v2.1h-1.9zM285.0,252.9h2.0v1.8h-2.0zM284.9,252.9h1.7v1.9h-1.7zM194.2,257.3h1.3v1.9h-1.3zM194.6,257.0h2.2v1.8h-2.2zM194.5,257.0h2.3v2.2h-2.3zM205.4,257.2h1.6v2.1h-1.6zM242.3,257.0h2.3v2.2h-2.3zM242.5,257.1h2.3v2.0h-2.3zM242.3,257.1h1.3v1.9h-1.3zM248.9,257.1h1.3v2.1h-1.3zM247.2,256.9h2.4v2.2h-2.4zM269.4,257.3h1.7v1.6h-1.7zM269.5,257.4h1.7v1.9h-1.7zM268.7,257.5h2.1v1.6h-2.1zM290.5,257.6h2.0v1.4h-2.0zM225.9,264.1h1.8v2.0h-1.8zM225.8,264.4h2.0v1.8h-2.0zM226.8,264.2h1.6v1.7h-1.6zM161.9,269.4h2.1v2.2h-2.1zM173.4,269.5h2.0v1.3h-2.0zM173.2,269.6h2.1v1.9h-2.1zM200.1,269.3h1.8v2.2h-1.8zM200.0,269.5h1.5v1.9h-1.5zM247.5,269.2h1.6v2.0h-1.6zM247.2,269.7h2.2v1.8h-2.2zM247.1,269.3h2.1v2.0h-2.1zM285.9,270.3h2.3v1.4h-2.3zM291.8,269.5h1.8v2.0h-1.8zM291.3,269.6h2.1v1.8h-2.1zM188.9,276.0h1.6v2.1h-1.6zM253.1,276.2h1.5v1.8h-1.5zM253.5,276.0h2.1v1.3h-2.1zM253.7,276.2h1.7v1.9h-1.7zM264.1,276.8h2.2v1.3h-2.2zM286.2,276.2h1.3v1.7h-1.3zM291.6,276.4h1.8v2.0h-1.8zM290.9,276.1h2.1v1.3h-2.1zM199.4,281.3h1.9v1.5h-1.9zM290.5,280.9h2.4v2.1h-2.4zM168.1,288.6h2.3v1.6h-2.3zM178.8,288.7h2.2v1.6h-2.2zM178.0,288.3h1.8v1.5h-1.8zM247.7,288.3h1.6v1.8h-1.6zM247.6,288.3h1.7v1.9h-1.7zM248.6,288.2h1.9v2.0h-1.9zM268.9,288.2h2.0v2.1h-2.0zM268.7,288.2h1.7v2.2h-1.7zM269.1,288.4h2.1v1.3h-2.1zM199.9,294.0h2.2v2.1h-2.2zM199.6,294.3h2.3v1.6h-2.3zM226.6,294.6h2.1v2.0h-2.1zM226.8,293.9h1.5v2.1h-1.5zM252.8,294.2h1.8v1.8h-1.8zM253.2,294.1h2.0v1.9h-2.0zM195.0,301.1h1.9v2.0h-1.9zM195.2,301.1h1.7v1.8h-1.7zM194.9,301.9h1.8v1.3h-1.8zM210.0,302.0h2.0v1.6h-2.0zM210.1,301.3h2.3v1.4h-2.3zM227.2,301.2h2.0v2.2h-2.0zM237.1,302.0h1.7v1.5h-1.7zM167.1,306.1h1.9v1.8h-1.9zM174.3,306.2h1.8v1.7h-1.8zM184.0,306.1h1.8v1.4h-1.8zM184.5,306.0h1.8v1.5h-1.8zM184.7,306.3h1.4v1.5h-1.4zM222.1,306.7h1.6v1.3h-1.6zM221.5,306.2h2.3v2.0h-2.3zM167.9,313.6h2.2v1.5h-2.2zM167.8,312.9h1.5v2.1h-1.5zM173.4,313.2h2.3v2.1h-2.3zM193.5,313.1h1.9v1.6h-1.9zM215.9,313.8h2.1v1.7h-2.1zM215.8,313.7h2.1v1.5h-2.1zM248.5,312.9h2.2v2.0h-2.2zM248.9,313.2h1.9v1.5h-1.9zM248.8,313.5h2.2v1.8h-2.2zM284.5,313.1h1.3v1.9h-1.3zM184.8,318.7h1.6v1.8h-1.6zM183.9,318.2h2.3v1.7h-2.3zM188.5,318.4h1.5v1.9h-1.5zM189.2,319.0h1.4v1.4h-1.4zM188.8,318.3h1.7v2.1h-1.7zM232.6,318.6h1.5v1.8h-1.5zM231.9,318.7h2.3v1.5h-2.3zM233.5,318.6h1.5v1.4h-1.5zM262.9,318.8h2.3v1.4h-2.3zM263.5,318.3h1.4v1.8h-1.4zM263.9,318.4h1.9v1.5h-1.9zM284.6,318.3h1.3v2.1h-1.3zM284.6,318.7h2.4v1.7h-2.4zM284.9,318.4h1.8v1.7h-1.8zM183.9,325.1h1.3v1.2h-1.3zM183.6,324.8h2.3v1.9h-2.3zM184.2,325.1h1.7v1.5h-1.7zM200.0,324.8h1.6v2.1h-1.6zM200.1,325.0h2.2v1.8h-2.2zM200.6,325.0h1.5v1.7h-1.5zM221.0,325.3h1.7v1.9h-1.7zM221.7,325.4h1.7v1.7h-1.7zM221.3,325.3h2.3v1.3h-2.3zM227.0,325.1h1.5v2.2h-1.5zM226.7,325.0h2.2v2.2h-2.2zM265.4,325.0h1.8v1.4h-1.8zM265.2,325.3h1.5v1.8h-1.5zM156.7,330.0h1.4v1.9h-1.4zM173.1,329.8h1.7v1.7h-1.7zM200.2,329.7h2.4v1.8h-2.4zM200.3,329.6h1.9v1.5h-1.9zM210.5,329.6h1.8v2.2h-1.8zM211.7,329.7h1.6v1.3h-1.6zM211.6,329.6h2.1v2.2h-2.1zM178.9,336.4h1.5v2.0h-1.5zM179.9,336.6h1.6v1.3h-1.6zM232.1,336.8h1.5v1.8h-1.5zM232.4,336.9h1.9v1.6h-1.9zM233.1,337.1h1.6v1.5h-1.6zM274.7,337.2h2.3v1.5h-2.3zM290.0,336.5h1.9v2.1h-1.9zM290.6,336.4h2.2v2.2h-2.2z" fill="#0b4220"/>
<path d="M264.0,252.6h2.4v1.3h-2.4zM264.5,252.3h2.2v1.7h-2.2zM264.8,252.9h2.1v1.8h-2.1zM264.8,252.9h1.7v1.8h-1.7zM264.4,269.7h1.8v1.2h-1.8zM264.2,270.1h2.2v1.3h-2.2zM262.9,288.0h1.6v2.1h-1.6zM263.0,288.6h1.4v2.0h-1.4zM263.6,288.9h2.3v1.6h-2.3zM264.1,288.8h2.3v1.4h-2.3zM280.3,313.0h1.8v1.6h-1.8zM281.1,313.0h1.5v1.8h-1.5z" fill="#16a03e"/>
<path d="M274.0,253.3h1.8v1.3h-1.8zM273.8,252.5h1.9v2.1h-1.9zM273.6,252.8h1.4v1.7h-1.4zM173.4,257.1h1.9v1.6h-1.9zM172.7,257.8h2.1v1.4h-2.1zM173.3,258.0h1.9v1.6h-1.9zM184.2,257.4h2.2v2.0h-2.2zM183.7,258.0h2.3v1.7h-2.3zM184.7,257.8h1.8v1.8h-1.8zM285.2,256.8h2.3v1.4h-2.3zM285.6,258.0h2.0v1.2h-2.0zM285.5,258.0h1.8v1.3h-1.8zM285.4,257.9h2.0v1.9h-2.0zM178.3,270.0h1.4v1.8h-1.4zM180.2,270.1h1.3v1.6h-1.3zM173.4,275.6h2.3v1.4h-2.3zM173.8,275.5h1.6v2.1h-1.6zM275.0,281.6h1.8v1.7h-1.8zM274.3,280.6h1.7v1.8h-1.7zM274.4,281.1h1.4v1.7h-1.4zM189.7,289.1h2.0v1.4h-2.0zM189.0,288.5h1.7v1.6h-1.7zM190.6,288.5h1.8v1.5h-1.8zM189.1,287.8h1.5v1.6h-1.5zM291.1,294.0h2.3v1.8h-2.3zM290.6,294.3h2.3v1.8h-2.3zM290.7,293.8h2.3v2.2h-2.3zM290.6,294.9h2.3v1.5h-2.3zM231.7,301.3h1.5v1.8h-1.5zM231.6,301.1h1.8v2.1h-1.8zM231.6,301.3h1.8v1.7h-1.8zM205.8,319.0h2.1v1.8h-2.1zM205.4,317.8h2.1v1.6h-2.1zM216.5,330.7h2.3v1.3h-2.3zM216.3,329.9h1.7v1.3h-1.7zM216.1,329.8h2.2v1.3h-2.2zM269.1,329.9h1.5v1.5h-1.5zM269.9,330.5h1.4v1.2h-1.4zM268.8,330.6h1.9v1.7h-1.9z" fill="#18b044"/>
<path d="M199.8,257.4h2.2v1.6h-2.2zM199.8,257.0h2.3v1.2h-2.3zM200.3,257.1h1.8v2.2h-1.8zM200.2,264.0h1.7v1.9h-1.7zM199.2,263.9h1.6v1.9h-1.6zM199.6,264.7h2.3v1.5h-2.3zM241.5,301.5h1.9v1.8h-1.9zM242.5,300.3h2.3v2.1h-2.3zM211.1,306.0h1.5v1.4h-1.5zM210.5,306.3h1.8v1.6h-1.8zM210.4,306.0h2.0v2.2h-2.0zM178.1,313.4h1.5v1.9h-1.5zM178.7,312.9h1.6v2.1h-1.6zM242.0,318.6h2.2v2.1h-2.2zM242.7,318.8h2.3v1.3h-2.3zM242.3,318.4h2.2v1.7h-2.2zM242.2,318.4h2.4v1.8h-2.4z" fill="#12803a"/>
<path d="M269.6,280.5h2.0v2.0h-2.0zM270.3,280.7h1.3v2.0h-1.3zM269.6,280.5h2.0v2.2h-2.0zM178.4,294.4h1.9v1.5h-1.9zM178.2,294.2h2.3v2.1h-2.3zM274.0,294.9h2.3v1.8h-2.3zM274.7,293.7h1.6v1.4h-1.6zM273.7,294.5h1.9v1.4h-1.9zM172.5,301.5h1.8v1.4h-1.8zM172.6,301.2h1.6v2.1h-1.6zM172.8,301.2h1.5v1.9h-1.5zM200.2,318.1h2.1v1.3h-2.1zM199.7,317.9h1.4v1.8h-1.4zM200.4,318.3h2.0v1.9h-2.0zM227.5,318.2h2.0v1.3h-2.0zM226.2,318.0h2.3v2.1h-2.3zM227.3,319.0h1.8v1.5h-1.8zM226.3,318.4h2.0v1.8h-2.0zM166.9,329.8h2.3v1.8h-2.3zM167.4,329.5h1.8v1.6h-1.8zM166.6,329.6h2.3v2.1h-2.3zM168.4,329.8h1.5v1.9h-1.5z" fill="#14903a"/>
</g>
<text x="224.7" y="236.9" font-size="9.7" text-anchor="middle" fill="#222">1 h after induction</text>
<text x="224.1" y="355.5" font-size="9.7" text-anchor="middle" fill="#222">6 h after induction</text>
</g>
<g id="pd">
<rect x="362.8" y="217.6" width="11.8" height="115.8" fill="#ea5419" stroke="#000" stroke-width="1.1"/>
<rect x="380.9" y="243.6" width="11.8" height="89.8" fill="#ea5419" stroke="#000" stroke-width="1.1"/>
<rect x="399.0" y="293.0" width="11.8" height="40.4" fill="#ea5419" stroke="#000" stroke-width="1.1"/>
<rect x="417.1" y="308.9" width="11.8" height="24.5" fill="#ea5419" stroke="#000" stroke-width="1.1"/>
<rect x="435.2" y="297.9" width="11.8" height="35.5" fill="#ea5419" stroke="#000" stroke-width="1.1"/>
<path d="M368.7,207.4V229.3M367.4,207.4h2.6M367.4,229.3h2.6M386.8,228.3V257.6M385.5,228.3h2.6M385.5,257.6h2.6M404.9,283.3V300.4M403.6,283.3h2.6M403.6,300.4h2.6M423.0,302.0V312.5M421.7,302.0h2.6M421.7,312.5h2.6M441.1,291.0V299.8M439.8,291.0h2.6M439.8,299.8h2.6" stroke="#000" stroke-width="1.2" fill="none"/>
<path d="M367.3,208.6a1.4,1.4 0 1,0 2.8,0a1.4,1.4 0 1,0 -2.8,0M367.1,229.3L368.7,226.5L370.3,229.3ZM367.4,220.2a1.3,1.3 0 1,0 2.6,0a1.3,1.3 0 1,0 -2.6,0M385.4,229.5a1.4,1.4 0 1,0 2.8,0a1.4,1.4 0 1,0 -2.8,0M385.2,257.6L386.8,254.8L388.4,257.6ZM385.5,244.1a1.3,1.3 0 1,0 2.6,0a1.3,1.3 0 1,0 -2.6,0M403.5,284.5a1.4,1.4 0 1,0 2.8,0a1.4,1.4 0 1,0 -2.8,0M403.3,300.4L404.9,297.6L406.5,300.4ZM403.6,292.1a1.3,1.3 0 1,0 2.6,0a1.3,1.3 0 1,0 -2.6,0M421.6,303.2a1.4,1.4 0 1,0 2.8,0a1.4,1.4 0 1,0 -2.8,0M421.4,312.5L423.0,309.7L424.6,312.5ZM421.7,309.2a1.3,1.3 0 1,0 2.6,0a1.3,1.3 0 1,0 -2.6,0M439.7,292.2a1.4,1.4 0 1,0 2.8,0a1.4,1.4 0 1,0 -2.8,0M439.5,299.8L441.1,297.0L442.7,299.8ZM439.8,294.0a1.3,1.3 0 1,0 2.6,0a1.3,1.3 0 1,0 -2.6,0" fill="#111"/>
<path d="M355.3,196.8V333.4M351.40000000000003,196.8h7.8M354.8,333.4H447.6M355.3,211.3h2.2M355.3,227.5h2.2M355.3,245.3h2.2M355.3,262.8h2.2M355.3,281h2.2M355.3,299h2.2M355.3,316h2.2" stroke="#000" stroke-width="1.2" fill="none"/>
<text x="349.0" y="200.1" font-size="9.2" text-anchor="end" fill="#111">2</text>
<text x="349.0" y="214.6" font-size="9.2" text-anchor="end" fill="#111">1</text>
<text x="349.0" y="230.8" font-size="9.2" text-anchor="end" fill="#111">0</text>
<text x="349.0" y="248.6" font-size="9.2" text-anchor="end" fill="#111">−1</text>
<text x="349.0" y="266.1" font-size="9.2" text-anchor="end" fill="#111">−2</text>
<text x="349.0" y="284.3" font-size="9.2" text-anchor="end" fill="#111">−3</text>
<text x="349.0" y="302.3" font-size="9.2" text-anchor="end" fill="#111">−4</text>
<text x="349.0" y="319.3" font-size="9.2" text-anchor="end" fill="#111">−5</text>
<text x="349.0" y="336.7" font-size="9.2" text-anchor="end" fill="#111">−6</text>
<text x="368.7" y="346.3" font-size="8.9" text-anchor="middle" fill="#111">0</text>
<text x="386.8" y="346.3" font-size="8.9" text-anchor="middle" fill="#111">2</text>
<text x="404.9" y="346.3" font-size="8.9" text-anchor="middle" fill="#111">4</text>
<text x="423.0" y="346.3" font-size="8.9" text-anchor="middle" fill="#111">6</text>
<text x="441.1" y="346.3" font-size="8.9" text-anchor="middle" fill="#111">8</text>
<text x="401.4" y="361.8" font-size="9.6" text-anchor="middle" fill="#222">Time (h)</text>
<text x="390.9" y="206.7" font-size="9.9" font-weight="bold" fill="#111">300 nM</text>
<rect x="481.8" y="210.7" width="11.8" height="122.7" fill="#ea5419" stroke="#000" stroke-width="1.1"/>
<rect x="499.9" y="247.7" width="11.8" height="85.7" fill="#ea5419" stroke="#000" stroke-width="1.1"/>
<rect x="518.0" y="310.2" width="11.8" height="23.2" fill="#ea5419" stroke="#000" stroke-width="1.1"/>
<rect x="536.1" y="310.4" width="11.8" height="23.0" fill="#ea5419" stroke="#000" stroke-width="1.1"/>
<rect x="554.2" y="297.8" width="11.8" height="35.6" fill="#ea5419" stroke="#000" stroke-width="1.1"/>
<path d="M487.7,205.3V216.0M486.4,205.3h2.6M486.4,216.0h2.6M505.8,233.7V256.0M504.5,233.7h2.6M504.5,256.0h2.6M523.9,302.5V315.0M522.6,302.5h2.6M522.6,315.0h2.6M542.0,294.5V325.3M540.7,294.5h2.6M540.7,325.3h2.6M560.1,291.9V300.3M558.8,291.9h2.6M558.8,300.3h2.6" stroke="#000" stroke-width="1.2" fill="none"/>
<path d="M486.3,206.5a1.4,1.4 0 1,0 2.8,0a1.4,1.4 0 1,0 -2.8,0M486.1,216.0L487.7,213.2L489.3,216.0ZM486.4,211.7a1.3,1.3 0 1,0 2.6,0a1.3,1.3 0 1,0 -2.6,0M504.4,234.9a1.4,1.4 0 1,0 2.8,0a1.4,1.4 0 1,0 -2.8,0M504.2,256.0L505.8,253.2L507.4,256.0ZM504.5,245.1a1.3,1.3 0 1,0 2.6,0a1.3,1.3 0 1,0 -2.6,0M522.5,303.7a1.4,1.4 0 1,0 2.8,0a1.4,1.4 0 1,0 -2.8,0M522.3,315.0L523.9,312.2L525.5,315.0ZM522.6,308.0a1.3,1.3 0 1,0 2.6,0a1.3,1.3 0 1,0 -2.6,0M540.6,295.7a1.4,1.4 0 1,0 2.8,0a1.4,1.4 0 1,0 -2.8,0M540.4,325.3L542.0,322.5L543.6,325.3ZM540.7,308.4a1.3,1.3 0 1,0 2.6,0a1.3,1.3 0 1,0 -2.6,0M558.7,293.1a1.4,1.4 0 1,0 2.8,0a1.4,1.4 0 1,0 -2.8,0M558.5,300.3L560.1,297.5L561.7,300.3ZM558.8,296.4a1.3,1.3 0 1,0 2.6,0a1.3,1.3 0 1,0 -2.6,0" fill="#111"/>
<path d="M474.0,196.8V333.4M470.1,196.8h7.8M473.5,333.4H566.6M474.0,211.3h2.2M474.0,227.5h2.2M474.0,245.3h2.2M474.0,262.8h2.2M474.0,281h2.2M474.0,299h2.2M474.0,316h2.2" stroke="#000" stroke-width="1.2" fill="none"/>
<text x="467.7" y="200.1" font-size="9.2" text-anchor="end" fill="#111">2</text>
<text x="467.7" y="214.6" font-size="9.2" text-anchor="end" fill="#111">1</text>
<text x="467.7" y="230.8" font-size="9.2" text-anchor="end" fill="#111">0</text>
<text x="467.7" y="248.6" font-size="9.2" text-anchor="end" fill="#111">−1</text>
<text x="467.7" y="266.1" font-size="9.2" text-anchor="end" fill="#111">−2</text>
<text x="467.7" y="284.3" font-size="9.2" text-anchor="end" fill="#111">−3</text>
<text x="467.7" y="302.3" font-size="9.2" text-anchor="end" fill="#111">−4</text>
<text x="467.7" y="319.3" font-size="9.2" text-anchor="end" fill="#111">−5</text>
<text x="467.7" y="336.7" font-size="9.2" text-anchor="end" fill="#111">−6</text>
<text x="487.7" y="346.3" font-size="8.9" text-anchor="middle" fill="#111">0</text>
<text x="505.8" y="346.3" font-size="8.9" text-anchor="middle" fill="#111">2</text>
<text x="523.9" y="346.3" font-size="8.9" text-anchor="middle" fill="#111">4</text>
<text x="542.0" y="346.3" font-size="8.9" text-anchor="middle" fill="#111">6</text>
<text x="560.1" y="346.3" font-size="8.9" text-anchor="middle" fill="#111">8</text>
<text x="520.4" y="361.8" font-size="9.6" text-anchor="middle" fill="#222">Time (h)</text>
<text x="514.4" y="208.9" font-size="9.9" font-weight="bold" fill="#111">500 nM</text>
<rect x="600.1" y="214.5" width="11.8" height="118.9" fill="#ea5419" stroke="#000" stroke-width="1.1"/>
<rect x="618.2" y="239.2" width="11.8" height="94.2" fill="#ea5419" stroke="#000" stroke-width="1.1"/>
<rect x="636.3" y="301.8" width="11.8" height="31.6" fill="#ea5419" stroke="#000" stroke-width="1.1"/>
<rect x="654.4" y="304.8" width="11.8" height="28.6" fill="#ea5419" stroke="#000" stroke-width="1.1"/>
<rect x="672.5" y="290.8" width="11.8" height="42.6" fill="#ea5419" stroke="#000" stroke-width="1.1"/>
<path d="M606.0,210.7V220.1M604.7,210.7h2.6M604.7,220.1h2.6M624.1,225.5V253.5M622.8,225.5h2.6M622.8,253.5h2.6M642.2,294.4V308.2M640.9,294.4h2.6M640.9,308.2h2.6M660.3,289.6V319.2M659.0,289.6h2.6M659.0,319.2h2.6M678.4,282.0V297.2M677.1,282.0h2.6M677.1,297.2h2.6" stroke="#000" stroke-width="1.2" fill="none"/>
<path d="M604.6,211.9a1.4,1.4 0 1,0 2.8,0a1.4,1.4 0 1,0 -2.8,0M604.4,220.1L606.0,217.3L607.6,220.1ZM604.7,216.9a1.3,1.3 0 1,0 2.6,0a1.3,1.3 0 1,0 -2.6,0M622.7,226.7a1.4,1.4 0 1,0 2.8,0a1.4,1.4 0 1,0 -2.8,0M622.5,253.5L624.1,250.7L625.7,253.5ZM622.8,238.2a1.3,1.3 0 1,0 2.6,0a1.3,1.3 0 1,0 -2.6,0M640.8,295.6a1.4,1.4 0 1,0 2.8,0a1.4,1.4 0 1,0 -2.8,0M640.6,308.2L642.2,305.4L643.8,308.2ZM640.9,302.9a1.3,1.3 0 1,0 2.6,0a1.3,1.3 0 1,0 -2.6,0M658.9,290.8a1.4,1.4 0 1,0 2.8,0a1.4,1.4 0 1,0 -2.8,0M658.7,319.2L660.3,316.4L661.9,319.2ZM659.0,306.3a1.3,1.3 0 1,0 2.6,0a1.3,1.3 0 1,0 -2.6,0M677.0,283.2a1.4,1.4 0 1,0 2.8,0a1.4,1.4 0 1,0 -2.8,0M676.8,297.2L678.4,294.4L680.0,297.2ZM677.1,288.4a1.3,1.3 0 1,0 2.6,0a1.3,1.3 0 1,0 -2.6,0" fill="#111"/>
<path d="M593.1,196.8V333.4M589.2,196.8h7.8M592.6,333.4H684.9M593.1,211.3h2.2M593.1,227.5h2.2M593.1,245.3h2.2M593.1,262.8h2.2M593.1,281h2.2M593.1,299h2.2M593.1,316h2.2" stroke="#000" stroke-width="1.2" fill="none"/>
<text x="586.8" y="200.1" font-size="9.2" text-anchor="end" fill="#111">2</text>
<text x="586.8" y="214.6" font-size="9.2" text-anchor="end" fill="#111">1</text>
<text x="586.8" y="230.8" font-size="9.2" text-anchor="end" fill="#111">0</text>
<text x="586.8" y="248.6" font-size="9.2" text-anchor="end" fill="#111">−1</text>
<text x="586.8" y="266.1" font-size="9.2" text-anchor="end" fill="#111">−2</text>
<text x="586.8" y="284.3" font-size="9.2" text-anchor="end" fill="#111">−3</text>
<text x="586.8" y="302.3" font-size="9.2" text-anchor="end" fill="#111">−4</text>
<text x="586.8" y="319.3" font-size="9.2" text-anchor="end" fill="#111">−5</text>
<text x="586.8" y="336.7" font-size="9.2" text-anchor="end" fill="#111">−6</text>
<text x="606.0" y="346.3" font-size="8.9" text-anchor="middle" fill="#111">0</text>
<text x="624.1" y="346.3" font-size="8.9" text-anchor="middle" fill="#111">2</text>
<text x="642.2" y="346.3" font-size="8.9" text-anchor="middle" fill="#111">4</text>
<text x="660.3" y="346.3" font-size="8.9" text-anchor="middle" fill="#111">6</text>
<text x="678.4" y="346.3" font-size="8.9" text-anchor="middle" fill="#111">8</text>
<text x="638.7" y="361.8" font-size="9.6" text-anchor="middle" fill="#222">Time (h)</text>
<text x="629.6" y="211" font-size="11.5" font-weight="bold" fill="#111">1 <tspan font-weight="normal">µ</tspan>M</text>
<text transform="translate(324.8,265.3) rotate(-90)" font-size="9.7" font-weight="bold" text-anchor="middle" fill="#111">Survival ratio (log<tspan font-size="6.8" dy="2.2">10</tspan><tspan dy="-2.2">)</tspan></text>
</g>
<text x="-1.3" y="10.8" font-size="15.5" font-weight="bold" fill="#000">a</text>
<text x="330.6" y="9.9" font-size="13.5" font-weight="bold" fill="#000">b</text>
<text x="0.3" y="120.4" font-size="14" font-weight="bold" fill="#000">c</text>
<text x="316.2" y="196.1" font-size="13.2" font-weight="bold" fill="#000">d</text>
</svg>
</body></html>
